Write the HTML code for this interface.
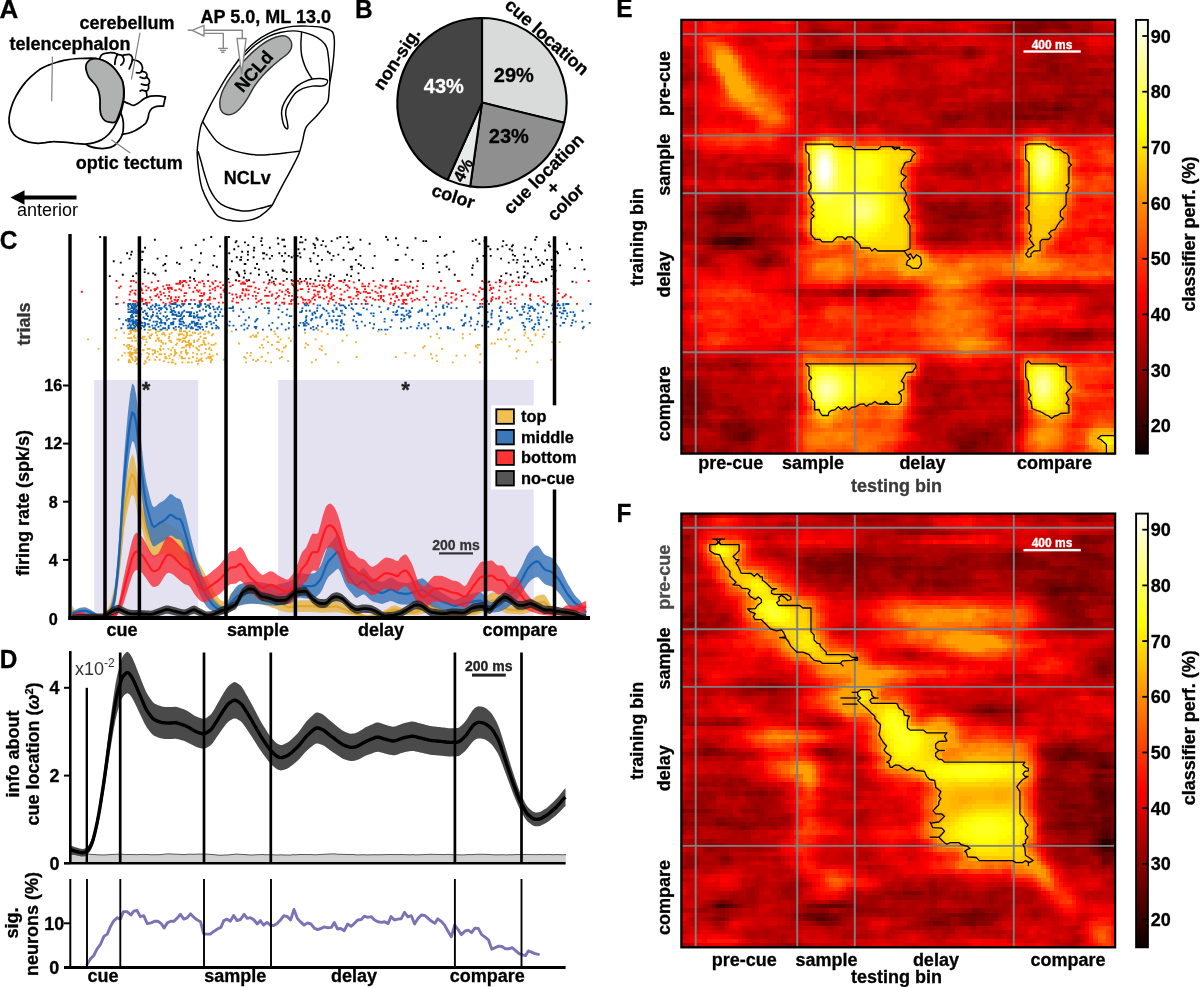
<!DOCTYPE html>
<html lang="en">
<head>
<meta charset="utf-8">
<title>Figure</title>
<style>
html,body{margin:0;padding:0;background:#fff;}
body{width:1200px;height:987px;overflow:hidden;}
svg{display:block;position:absolute;left:0;top:0;}
svg text{font-family:"Liberation Sans",sans-serif;font-weight:bold;}
</style>
</head>
<body>
<svg width="1200" height="987" viewBox="0 0 1200 987">
<defs>
<linearGradient id="hot" x1="0" y1="1" x2="0" y2="0">
<stop offset="0" stop-color="#0b0000"/>
<stop offset="0.365" stop-color="#ff0000"/>
<stop offset="0.746" stop-color="#ffff00"/>
<stop offset="1" stop-color="#ffffff"/>
</linearGradient>
</defs>
<rect width="1200" height="987" fill="#fff"/>
<g>
<rect x="681.4" y="19.9" width="433.7" height="433.7" fill="#c40000"/>
<g transform="translate(681.40 19.90) scale(4.3370)" shape-rendering="crispEdges">
<path fill="#350000" d="M13 50h1v1h-1zM11 51h2v1h-2z"/>
<path fill="#400000" d="M11 50h2v1h-2zM14 50h1v1h-1zM8 51h3v1h-3zM13 51h1v1h-1z"/>
<path fill="#4a0000" d="M10 50h1v1h-1zM15 50h1v1h-1zM7 51h1v1h-1zM14 51h1v1h-1z"/>
<path fill="#550000" d="M37 7h1v1h-1zM37 8h1v1h-1zM8 50h2v1h-2zM15 51h1v1h-1z"/>
<path fill="#600000" d="M36 7h1v1h-1zM38 7h3v1h-3zM36 8h1v1h-1zM38 8h1v1h-1zM86 20h2v1h-2zM8 44h3v1h-3zM16 50h1v1h-1zM14 96h1v1h-1z"/>
<path fill="#6a0000" d="M35 7h1v1h-1zM41 7h1v1h-1zM49 7h1v1h-1zM35 8h1v1h-1zM39 8h3v1h-3zM10 43h1v1h-1zM13 43h1v1h-1zM7 44h1v1h-1zM11 44h4v1h-4zM12 45h2v1h-2zM7 50h1v1h-1zM16 51h1v1h-1zM12 52h1v1h-1zM1 86h1v1h-1zM2 88h1v1h-1zM1 92h1v1h-1zM14 95h2v1h-2zM13 96h1v1h-1zM67 97h1v1h-1z"/>
<path fill="#750000" d="M82 1h1v1h-1zM42 7h1v1h-1zM47 7h2v1h-2zM50 7h1v1h-1zM66 7h1v1h-1zM34 8h1v1h-1zM85 20h1v1h-1zM88 20h1v1h-1zM79 22h1v1h-1zM83 22h1v1h-1zM11 43h2v1h-2zM14 43h1v1h-1zM6 44h1v1h-1zM8 45h2v1h-2zM11 45h1v1h-1zM62 45h2v1h-2zM6 51h1v1h-1zM11 52h1v1h-1zM13 52h1v1h-1zM19 55h2v1h-2zM2 84h1v1h-1zM1 85h1v1h-1zM2 86h1v1h-1zM1 87h2v1h-2zM1 88h1v1h-1zM3 88h1v1h-1zM2 89h2v1h-2zM0 90h2v1h-2zM10 93h1v1h-1zM13 93h2v1h-2zM15 94h1v1h-1zM12 95h2v1h-2zM70 95h1v1h-1zM12 96h1v1h-1zM15 96h1v1h-1zM66 97h1v1h-1zM0 98h1v1h-1zM64 98h3v1h-3zM0 99h1v1h-1z"/>
<path fill="#7f0000" d="M82 0h2v1h-2zM78 1h4v1h-4zM83 1h1v1h-1zM87 1h2v1h-2zM78 2h4v1h-4zM34 7h1v1h-1zM43 7h4v1h-4zM51 7h1v1h-1zM30 8h4v1h-4zM42 8h1v1h-1zM85 11h1v1h-1zM81 19h1v1h-1zM86 19h2v1h-2zM81 20h4v1h-4zM89 20h1v1h-1zM61 22h1v1h-1zM63 22h2v1h-2zM77 22h2v1h-2zM80 22h1v1h-1zM82 22h1v1h-1zM84 22h1v1h-1zM86 22h1v1h-1zM10 42h1v1h-1zM13 42h1v1h-1zM8 43h2v1h-2zM58 43h1v1h-1zM15 44h1v1h-1zM64 44h1v1h-1zM10 45h1v1h-1zM14 45h1v1h-1zM61 45h1v1h-1zM64 45h4v1h-4zM8 46h5v1h-5zM8 49h1v1h-1zM11 49h3v1h-3zM6 50h1v1h-1zM17 50h1v1h-1zM60 50h2v1h-2zM8 52h1v1h-1zM10 52h1v1h-1zM14 52h2v1h-2zM18 55h1v1h-1zM19 56h1v1h-1zM44 62h1v1h-1zM46 62h2v1h-2zM44 63h1v1h-1zM90 72h4v1h-4zM12 79h1v1h-1zM1 83h2v1h-2zM1 84h1v1h-1zM2 85h2v1h-2zM0 86h1v1h-1zM3 86h2v1h-2zM0 87h1v1h-1zM0 88h1v1h-1zM4 88h1v1h-1zM4 89h1v1h-1zM2 90h3v1h-3zM0 92h1v1h-1zM2 92h2v1h-2zM2 93h1v1h-1zM9 93h1v1h-1zM11 93h2v1h-2zM10 94h5v1h-5zM16 94h1v1h-1zM10 95h2v1h-2zM16 95h1v1h-1zM69 95h1v1h-1zM11 96h1v1h-1zM67 96h1v1h-1zM70 96h1v1h-1zM64 97h2v1h-2zM68 97h1v1h-1zM1 98h1v1h-1zM67 98h1v1h-1zM10 99h1v1h-1zM64 99h3v1h-3z"/>
<path fill="#8a0000" d="M81 0h1v1h-1zM85 0h3v1h-3zM76 1h2v1h-2zM84 1h3v1h-3zM89 1h1v1h-1zM82 2h1v1h-1zM92 2h1v1h-1zM30 7h4v1h-4zM52 7h1v1h-1zM65 7h1v1h-1zM67 7h1v1h-1zM43 8h2v1h-2zM85 8h1v1h-1zM85 10h2v1h-2zM86 11h1v1h-1zM86 12h1v1h-1zM97 16h1v1h-1zM89 17h5v1h-5zM99 17h1v1h-1zM77 19h2v1h-2zM80 19h1v1h-1zM82 19h2v1h-2zM88 19h2v1h-2zM77 20h2v1h-2zM80 20h1v1h-1zM90 20h1v1h-1zM92 20h1v1h-1zM71 21h1v1h-1zM74 21h1v1h-1zM77 21h2v1h-2zM81 21h1v1h-1zM86 21h2v1h-2zM60 22h1v1h-1zM62 22h1v1h-1zM71 22h1v1h-1zM74 22h1v1h-1zM76 22h1v1h-1zM81 22h1v1h-1zM85 22h1v1h-1zM87 22h1v1h-1zM62 23h1v1h-1zM97 23h2v1h-2zM65 34h1v1h-1zM9 42h1v1h-1zM11 42h2v1h-2zM14 42h1v1h-1zM64 42h2v1h-2zM72 42h1v1h-1zM7 43h1v1h-1zM57 43h1v1h-1zM60 43h6v1h-6zM5 44h1v1h-1zM60 44h4v1h-4zM65 44h3v1h-3zM73 44h1v1h-1zM7 45h1v1h-1zM15 45h1v1h-1zM68 45h2v1h-2zM13 46h1v1h-1zM62 46h2v1h-2zM7 49h1v1h-1zM9 49h2v1h-2zM14 49h3v1h-3zM61 49h2v1h-2zM5 50h1v1h-1zM18 50h3v1h-3zM58 50h2v1h-2zM62 50h2v1h-2zM5 51h1v1h-1zM17 51h1v1h-1zM7 52h1v1h-1zM9 52h1v1h-1zM16 52h1v1h-1zM19 54h2v1h-2zM18 56h1v1h-1zM43 62h1v1h-1zM45 62h1v1h-1zM43 63h1v1h-1zM45 63h1v1h-1zM89 72h1v1h-1zM94 72h1v1h-1zM2 79h1v1h-1zM13 79h2v1h-2zM0 83h1v1h-1zM3 83h1v1h-1zM0 84h1v1h-1zM3 84h1v1h-1zM0 85h1v1h-1zM4 85h1v1h-1zM5 86h1v1h-1zM58 86h1v1h-1zM3 87h3v1h-3zM5 88h2v1h-2zM0 89h2v1h-2zM5 89h2v1h-2zM11 89h1v1h-1zM1 91h1v1h-1zM4 92h1v1h-1zM13 92h2v1h-2zM0 93h2v1h-2zM3 93h1v1h-1zM6 93h1v1h-1zM15 93h1v1h-1zM9 94h1v1h-1zM66 95h3v1h-3zM71 95h1v1h-1zM10 96h1v1h-1zM16 96h1v1h-1zM63 96h4v1h-4zM68 96h2v1h-2zM13 97h2v1h-2zM63 97h1v1h-1zM70 97h1v1h-1zM2 98h2v1h-2zM68 98h1v1h-1zM1 99h4v1h-4zM8 99h2v1h-2zM67 99h1v1h-1z"/>
<path fill="#950000" d="M78 0h3v1h-3zM84 0h1v1h-1zM88 0h1v1h-1zM75 1h1v1h-1zM30 2h3v1h-3zM76 2h2v1h-2zM83 2h1v1h-1zM88 2h2v1h-2zM93 2h1v1h-1zM37 6h1v1h-1zM47 6h2v1h-2zM66 6h1v1h-1zM53 7h1v1h-1zM84 7h3v1h-3zM29 8h1v1h-1zM45 8h2v1h-2zM48 8h1v1h-1zM66 8h1v1h-1zM84 8h1v1h-1zM86 8h2v1h-2zM82 9h4v1h-4zM81 10h1v1h-1zM84 10h1v1h-1zM88 10h2v1h-2zM84 11h1v1h-1zM88 11h1v1h-1zM94 11h3v1h-3zM99 11h1v1h-1zM80 12h2v1h-2zM84 12h2v1h-2zM87 12h1v1h-1zM89 12h1v1h-1zM92 12h1v1h-1zM94 12h3v1h-3zM1 13h1v1h-1zM83 13h2v1h-2zM89 13h1v1h-1zM89 14h3v1h-3zM89 16h2v1h-2zM98 16h1v1h-1zM87 17h2v1h-2zM94 17h5v1h-5zM83 18h1v1h-1zM87 18h2v1h-2zM95 18h1v1h-1zM71 19h1v1h-1zM73 19h4v1h-4zM79 19h1v1h-1zM84 19h2v1h-2zM93 19h3v1h-3zM70 20h7v1h-7zM79 20h1v1h-1zM91 20h1v1h-1zM93 20h2v1h-2zM60 21h2v1h-2zM63 21h2v1h-2zM70 21h1v1h-1zM72 21h2v1h-2zM76 21h1v1h-1zM79 21h2v1h-2zM82 21h4v1h-4zM88 21h7v1h-7zM96 21h2v1h-2zM65 22h1v1h-1zM70 22h1v1h-1zM72 22h2v1h-2zM75 22h1v1h-1zM91 22h2v1h-2zM96 22h4v1h-4zM60 23h2v1h-2zM63 23h1v1h-1zM71 23h1v1h-1zM92 23h1v1h-1zM99 23h1v1h-1zM73 24h1v1h-1zM22 33h1v1h-1zM65 33h1v1h-1zM23 34h2v1h-2zM62 34h1v1h-1zM64 34h1v1h-1zM66 34h1v1h-1zM23 35h2v1h-2zM65 35h1v1h-1zM10 41h1v1h-1zM8 42h1v1h-1zM57 42h5v1h-5zM63 42h1v1h-1zM71 42h1v1h-1zM73 42h1v1h-1zM6 43h1v1h-1zM15 43h1v1h-1zM59 43h1v1h-1zM71 43h4v1h-4zM4 44h1v1h-1zM58 44h2v1h-2zM68 44h1v1h-1zM71 44h2v1h-2zM74 44h1v1h-1zM6 45h1v1h-1zM60 45h1v1h-1zM70 45h4v1h-4zM7 46h1v1h-1zM14 46h2v1h-2zM58 46h4v1h-4zM64 46h3v1h-3zM8 47h3v1h-3zM72 47h2v1h-2zM8 48h1v1h-1zM61 48h3v1h-3zM0 49h1v1h-1zM6 49h1v1h-1zM17 49h1v1h-1zM60 49h1v1h-1zM63 49h2v1h-2zM73 49h1v1h-1zM4 50h1v1h-1zM21 50h1v1h-1zM57 50h1v1h-1zM64 50h2v1h-2zM4 51h1v1h-1zM18 51h2v1h-2zM17 52h2v1h-2zM21 54h1v1h-1zM4 55h1v1h-1zM17 55h1v1h-1zM21 55h1v1h-1zM17 56h1v1h-1zM20 56h1v1h-1zM37 62h1v1h-1zM39 62h3v1h-3zM48 62h1v1h-1zM37 63h1v1h-1zM46 63h1v1h-1zM93 71h2v1h-2zM86 72h1v1h-1zM88 72h1v1h-1zM89 73h6v1h-6zM1 79h1v1h-1zM3 79h1v1h-1zM11 79h1v1h-1zM15 79h1v1h-1zM13 80h2v1h-2zM4 84h1v1h-1zM60 84h2v1h-2zM5 85h1v1h-1zM6 86h1v1h-1zM59 86h1v1h-1zM76 86h1v1h-1zM6 87h1v1h-1zM7 89h1v1h-1zM10 89h1v1h-1zM12 89h1v1h-1zM59 89h2v1h-2zM63 89h1v1h-1zM5 90h1v1h-1zM12 90h1v1h-1zM57 90h1v1h-1zM0 91h1v1h-1zM2 91h1v1h-1zM4 91h1v1h-1zM5 92h1v1h-1zM10 92h3v1h-3zM15 92h1v1h-1zM4 93h2v1h-2zM16 93h1v1h-1zM76 93h1v1h-1zM17 94h1v1h-1zM64 94h2v1h-2zM67 94h4v1h-4zM72 94h1v1h-1zM9 95h1v1h-1zM17 95h1v1h-1zM62 95h1v1h-1zM65 95h1v1h-1zM72 95h1v1h-1zM9 96h1v1h-1zM62 96h1v1h-1zM71 96h1v1h-1zM11 97h2v1h-2zM15 97h1v1h-1zM69 97h1v1h-1zM71 97h3v1h-3zM10 98h2v1h-2zM63 98h1v1h-1zM69 98h2v1h-2zM72 98h1v1h-1zM7 99h1v1h-1zM11 99h1v1h-1zM15 99h1v1h-1zM63 99h1v1h-1zM68 99h1v1h-1z"/>
<path fill="#9f0000" d="M77 0h1v1h-1zM44 1h3v1h-3zM74 1h1v1h-1zM90 1h5v1h-5zM33 2h1v1h-1zM75 2h1v1h-1zM84 2h1v1h-1zM87 2h1v1h-1zM90 2h2v1h-2zM94 2h1v1h-1zM33 3h2v1h-2zM79 3h2v1h-2zM31 4h1v1h-1zM31 5h1v1h-1zM35 6h2v1h-2zM38 6h2v1h-2zM49 6h3v1h-3zM65 6h1v1h-1zM67 6h1v1h-1zM54 7h2v1h-2zM68 7h1v1h-1zM83 7h1v1h-1zM87 7h1v1h-1zM28 8h1v1h-1zM47 8h1v1h-1zM49 8h4v1h-4zM65 8h1v1h-1zM67 8h1v1h-1zM82 8h2v1h-2zM91 8h2v1h-2zM99 8h1v1h-1zM36 9h4v1h-4zM81 9h1v1h-1zM86 9h1v1h-1zM91 9h2v1h-2zM99 9h1v1h-1zM80 10h1v1h-1zM82 10h2v1h-2zM87 10h1v1h-1zM87 11h1v1h-1zM89 11h2v1h-2zM77 12h3v1h-3zM82 12h2v1h-2zM88 12h1v1h-1zM90 12h2v1h-2zM93 12h1v1h-1zM97 12h2v1h-2zM0 13h1v1h-1zM78 13h1v1h-1zM81 13h2v1h-2zM85 13h4v1h-4zM90 13h3v1h-3zM78 14h1v1h-1zM86 14h1v1h-1zM88 14h1v1h-1zM92 14h3v1h-3zM97 14h1v1h-1zM88 15h3v1h-3zM78 16h1v1h-1zM88 16h1v1h-1zM91 16h1v1h-1zM93 16h1v1h-1zM96 16h1v1h-1zM99 16h1v1h-1zM78 17h1v1h-1zM86 17h1v1h-1zM78 18h1v1h-1zM80 18h3v1h-3zM86 18h1v1h-1zM89 18h1v1h-1zM92 18h3v1h-3zM70 19h1v1h-1zM72 19h1v1h-1zM90 19h1v1h-1zM92 19h1v1h-1zM1 20h2v1h-2zM68 20h2v1h-2zM95 20h1v1h-1zM62 21h1v1h-1zM65 21h5v1h-5zM75 21h1v1h-1zM95 21h1v1h-1zM98 21h1v1h-1zM2 22h1v1h-1zM40 22h1v1h-1zM59 22h1v1h-1zM66 22h2v1h-2zM88 22h3v1h-3zM93 22h1v1h-1zM40 23h1v1h-1zM59 23h1v1h-1zM70 23h1v1h-1zM72 23h3v1h-3zM76 23h2v1h-2zM79 23h1v1h-1zM82 23h2v1h-2zM87 23h1v1h-1zM91 23h1v1h-1zM93 23h1v1h-1zM96 23h1v1h-1zM60 24h3v1h-3zM71 24h2v1h-2zM76 24h2v1h-2zM98 24h2v1h-2zM1 30h2v1h-2zM0 32h1v1h-1zM0 33h2v1h-2zM19 33h3v1h-3zM23 33h2v1h-2zM63 33h2v1h-2zM66 33h1v1h-1zM70 33h1v1h-1zM74 33h2v1h-2zM22 34h1v1h-1zM25 34h1v1h-1zM60 34h2v1h-2zM63 34h1v1h-1zM16 35h1v1h-1zM22 35h1v1h-1zM64 35h1v1h-1zM66 35h2v1h-2zM16 36h1v1h-1zM22 36h2v1h-2zM2 39h1v1h-1zM9 41h1v1h-1zM11 41h4v1h-4zM72 41h1v1h-1zM5 42h3v1h-3zM15 42h1v1h-1zM56 42h1v1h-1zM62 42h1v1h-1zM66 42h1v1h-1zM74 42h1v1h-1zM5 43h1v1h-1zM56 43h1v1h-1zM66 43h5v1h-5zM75 43h1v1h-1zM2 44h2v1h-2zM16 44h3v1h-3zM21 44h2v1h-2zM57 44h1v1h-1zM69 44h2v1h-2zM75 44h1v1h-1zM2 45h4v1h-4zM16 45h1v1h-1zM58 45h2v1h-2zM67 46h1v1h-1zM72 46h2v1h-2zM6 47h2v1h-2zM11 47h2v1h-2zM15 47h1v1h-1zM20 47h1v1h-1zM60 47h4v1h-4zM65 47h4v1h-4zM71 47h1v1h-1zM1 48h1v1h-1zM5 48h3v1h-3zM9 48h1v1h-1zM15 48h2v1h-2zM18 48h1v1h-1zM64 48h1v1h-1zM72 48h1v1h-1zM1 49h2v1h-2zM18 49h1v1h-1zM57 49h3v1h-3zM65 49h1v1h-1zM70 49h1v1h-1zM72 49h1v1h-1zM0 50h4v1h-4zM22 50h2v1h-2zM73 50h1v1h-1zM3 51h1v1h-1zM20 51h1v1h-1zM6 52h1v1h-1zM19 52h1v1h-1zM19 53h3v1h-3zM4 54h2v1h-2zM18 54h1v1h-1zM5 55h1v1h-1zM16 55h1v1h-1zM22 55h1v1h-1zM4 56h1v1h-1zM21 56h1v1h-1zM90 61h1v1h-1zM38 62h1v1h-1zM42 62h1v1h-1zM83 62h1v1h-1zM87 62h7v1h-7zM36 63h1v1h-1zM38 63h1v1h-1zM47 63h1v1h-1zM87 72h1v1h-1zM95 72h2v1h-2zM99 72h1v1h-1zM86 73h1v1h-1zM88 73h1v1h-1zM11 78h2v1h-2zM4 79h6v1h-6zM0 80h3v1h-3zM6 80h1v1h-1zM9 80h1v1h-1zM0 82h1v1h-1zM3 82h1v1h-1zM4 83h2v1h-2zM56 83h2v1h-2zM5 84h1v1h-1zM58 84h2v1h-2zM62 84h1v1h-1zM6 85h1v1h-1zM58 85h4v1h-4zM77 85h1v1h-1zM10 86h1v1h-1zM60 86h1v1h-1zM75 86h1v1h-1zM77 86h1v1h-1zM59 87h1v1h-1zM76 87h1v1h-1zM7 88h1v1h-1zM59 88h1v1h-1zM8 89h2v1h-2zM13 89h1v1h-1zM23 89h2v1h-2zM57 89h2v1h-2zM61 89h2v1h-2zM64 89h1v1h-1zM10 90h2v1h-2zM13 90h2v1h-2zM56 90h1v1h-1zM58 90h1v1h-1zM3 91h1v1h-1zM5 91h1v1h-1zM12 91h2v1h-2zM57 91h1v1h-1zM6 92h1v1h-1zM9 92h1v1h-1zM16 92h1v1h-1zM75 92h2v1h-2zM7 93h2v1h-2zM17 93h3v1h-3zM64 93h2v1h-2zM71 93h5v1h-5zM77 93h1v1h-1zM2 94h1v1h-1zM7 94h2v1h-2zM18 94h1v1h-1zM62 94h2v1h-2zM66 94h1v1h-1zM71 94h1v1h-1zM75 94h1v1h-1zM61 95h1v1h-1zM63 95h2v1h-2zM73 95h1v1h-1zM17 96h1v1h-1zM61 96h1v1h-1zM72 96h2v1h-2zM10 97h1v1h-1zM62 97h1v1h-1zM4 98h1v1h-1zM6 98h2v1h-2zM9 98h1v1h-1zM12 98h1v1h-1zM14 98h1v1h-1zM71 98h1v1h-1zM73 98h1v1h-1zM5 99h2v1h-2zM12 99h1v1h-1zM14 99h1v1h-1zM69 99h2v1h-2z"/>
<path fill="#aa0000" d="M89 0h6v1h-6zM30 1h2v1h-2zM47 1h2v1h-2zM72 1h2v1h-2zM29 2h1v1h-1zM34 2h3v1h-3zM44 2h3v1h-3zM72 2h2v1h-2zM85 2h2v1h-2zM29 3h4v1h-4zM35 3h1v1h-1zM74 3h2v1h-2zM78 3h1v1h-1zM81 3h2v1h-2zM30 4h1v1h-1zM32 4h1v1h-1zM30 5h1v1h-1zM33 6h2v1h-2zM40 6h2v1h-2zM46 6h1v1h-1zM56 6h3v1h-3zM87 6h1v1h-1zM26 7h2v1h-2zM29 7h1v1h-1zM56 7h1v1h-1zM58 7h2v1h-2zM61 7h2v1h-2zM64 7h1v1h-1zM69 7h1v1h-1zM82 7h1v1h-1zM88 7h5v1h-5zM26 8h2v1h-2zM81 8h1v1h-1zM88 8h3v1h-3zM93 8h2v1h-2zM97 8h2v1h-2zM35 9h1v1h-1zM40 9h1v1h-1zM43 9h3v1h-3zM80 9h1v1h-1zM87 9h2v1h-2zM90 9h1v1h-1zM93 9h3v1h-3zM98 9h1v1h-1zM50 10h2v1h-2zM79 10h1v1h-1zM90 10h3v1h-3zM81 11h1v1h-1zM83 11h1v1h-1zM91 11h3v1h-3zM97 11h2v1h-2zM1 12h2v1h-2zM71 12h1v1h-1zM73 12h2v1h-2zM76 12h1v1h-1zM2 13h1v1h-1zM71 13h1v1h-1zM77 13h1v1h-1zM79 13h2v1h-2zM93 13h3v1h-3zM97 13h2v1h-2zM66 14h2v1h-2zM71 14h1v1h-1zM76 14h2v1h-2zM79 14h1v1h-1zM83 14h3v1h-3zM87 14h1v1h-1zM95 14h2v1h-2zM98 14h2v1h-2zM67 15h1v1h-1zM78 15h2v1h-2zM91 15h1v1h-1zM93 15h3v1h-3zM97 15h1v1h-1zM99 15h1v1h-1zM51 16h2v1h-2zM56 16h3v1h-3zM79 16h1v1h-1zM92 16h1v1h-1zM94 16h2v1h-2zM47 17h1v1h-1zM50 17h3v1h-3zM54 17h5v1h-5zM79 17h4v1h-4zM46 18h1v1h-1zM50 18h1v1h-1zM54 18h1v1h-1zM56 18h2v1h-2zM79 18h1v1h-1zM84 18h1v1h-1zM90 18h2v1h-2zM96 18h4v1h-4zM56 19h2v1h-2zM62 19h1v1h-1zM65 19h1v1h-1zM68 19h2v1h-2zM91 19h1v1h-1zM96 19h1v1h-1zM65 20h1v1h-1zM67 20h1v1h-1zM96 20h2v1h-2zM99 20h1v1h-1zM1 21h1v1h-1zM37 21h1v1h-1zM41 21h1v1h-1zM57 21h1v1h-1zM59 21h1v1h-1zM99 21h1v1h-1zM1 22h1v1h-1zM38 22h2v1h-2zM41 22h2v1h-2zM44 22h1v1h-1zM57 22h2v1h-2zM68 22h2v1h-2zM94 22h2v1h-2zM1 23h2v1h-2zM39 23h1v1h-1zM41 23h2v1h-2zM47 23h1v1h-1zM58 23h1v1h-1zM64 23h6v1h-6zM75 23h1v1h-1zM78 23h1v1h-1zM80 23h2v1h-2zM84 23h1v1h-1zM86 23h1v1h-1zM88 23h1v1h-1zM94 23h1v1h-1zM58 24h2v1h-2zM63 24h3v1h-3zM69 24h2v1h-2zM74 24h2v1h-2zM78 24h1v1h-1zM91 24h3v1h-3zM51 25h2v1h-2zM58 25h1v1h-1zM90 25h1v1h-1zM1 31h2v1h-2zM1 32h3v1h-3zM65 32h1v1h-1zM70 32h1v1h-1zM2 33h1v1h-1zM13 33h1v1h-1zM18 33h1v1h-1zM25 33h1v1h-1zM62 33h1v1h-1zM0 34h1v1h-1zM6 34h2v1h-2zM21 34h1v1h-1zM59 34h1v1h-1zM67 34h1v1h-1zM69 34h4v1h-4zM74 34h2v1h-2zM0 35h1v1h-1zM15 35h1v1h-1zM17 35h2v1h-2zM25 35h1v1h-1zM63 35h1v1h-1zM15 36h1v1h-1zM17 36h1v1h-1zM24 36h1v1h-1zM65 36h2v1h-2zM0 39h2v1h-2zM3 39h1v1h-1zM0 40h1v1h-1zM2 40h2v1h-2zM9 40h5v1h-5zM15 41h1v1h-1zM18 41h1v1h-1zM22 41h2v1h-2zM64 41h2v1h-2zM73 41h1v1h-1zM4 42h1v1h-1zM16 42h1v1h-1zM55 42h1v1h-1zM67 42h4v1h-4zM75 42h1v1h-1zM4 43h1v1h-1zM16 43h3v1h-3zM21 43h2v1h-2zM1 44h1v1h-1zM20 44h1v1h-1zM23 44h1v1h-1zM56 44h1v1h-1zM1 45h1v1h-1zM57 45h1v1h-1zM74 45h1v1h-1zM2 46h3v1h-3zM6 46h1v1h-1zM16 46h1v1h-1zM57 46h1v1h-1zM68 46h4v1h-4zM74 46h1v1h-1zM5 47h1v1h-1zM13 47h2v1h-2zM16 47h1v1h-1zM18 47h2v1h-2zM59 47h1v1h-1zM64 47h1v1h-1zM69 47h2v1h-2zM0 48h1v1h-1zM2 48h1v1h-1zM4 48h1v1h-1zM10 48h5v1h-5zM17 48h1v1h-1zM19 48h2v1h-2zM59 48h2v1h-2zM65 48h2v1h-2zM71 48h1v1h-1zM73 48h1v1h-1zM3 49h3v1h-3zM20 49h3v1h-3zM67 49h1v1h-1zM69 49h1v1h-1zM71 49h1v1h-1zM74 49h1v1h-1zM24 50h1v1h-1zM56 50h1v1h-1zM66 50h1v1h-1zM70 50h1v1h-1zM72 50h1v1h-1zM74 50h1v1h-1zM21 51h3v1h-3zM59 51h3v1h-3zM63 51h1v1h-1zM20 52h1v1h-1zM7 53h4v1h-4zM18 53h1v1h-1zM22 53h1v1h-1zM6 54h1v1h-1zM16 54h1v1h-1zM22 54h1v1h-1zM3 55h1v1h-1zM6 55h1v1h-1zM23 55h1v1h-1zM5 56h1v1h-1zM22 56h1v1h-1zM18 57h1v1h-1zM88 61h2v1h-2zM91 61h1v1h-1zM35 62h2v1h-2zM49 62h3v1h-3zM77 62h2v1h-2zM80 62h3v1h-3zM84 62h3v1h-3zM94 62h1v1h-1zM39 63h4v1h-4zM48 63h2v1h-2zM51 63h1v1h-1zM95 66h2v1h-2zM99 66h1v1h-1zM84 71h3v1h-3zM92 71h1v1h-1zM79 72h1v1h-1zM83 72h3v1h-3zM97 72h2v1h-2zM87 73h1v1h-1zM95 73h1v1h-1zM0 78h2v1h-2zM9 78h2v1h-2zM13 78h1v1h-1zM15 78h1v1h-1zM0 79h1v1h-1zM10 79h1v1h-1zM16 79h2v1h-2zM3 80h1v1h-1zM7 80h2v1h-2zM10 80h3v1h-3zM15 80h1v1h-1zM14 81h1v1h-1zM1 82h2v1h-2zM4 82h1v1h-1zM56 82h1v1h-1zM6 83h1v1h-1zM11 83h2v1h-2zM15 83h1v1h-1zM58 83h3v1h-3zM62 83h1v1h-1zM67 83h2v1h-2zM70 83h7v1h-7zM6 84h1v1h-1zM57 84h1v1h-1zM63 84h1v1h-1zM67 84h2v1h-2zM77 84h1v1h-1zM57 85h1v1h-1zM76 85h1v1h-1zM9 86h1v1h-1zM55 86h1v1h-1zM57 86h1v1h-1zM61 86h1v1h-1zM72 86h1v1h-1zM74 86h1v1h-1zM7 87h1v1h-1zM9 87h3v1h-3zM58 87h1v1h-1zM60 87h1v1h-1zM64 87h1v1h-1zM69 87h1v1h-1zM77 87h1v1h-1zM11 88h1v1h-1zM13 88h1v1h-1zM24 88h1v1h-1zM58 88h1v1h-1zM60 88h5v1h-5zM22 89h1v1h-1zM56 89h1v1h-1zM65 89h1v1h-1zM77 89h1v1h-1zM8 90h2v1h-2zM55 90h1v1h-1zM59 90h3v1h-3zM77 90h1v1h-1zM11 91h1v1h-1zM14 91h1v1h-1zM58 91h1v1h-1zM17 92h2v1h-2zM20 92h3v1h-3zM56 92h2v1h-2zM71 92h1v1h-1zM73 92h2v1h-2zM77 92h1v1h-1zM20 93h2v1h-2zM23 93h1v1h-1zM63 93h1v1h-1zM66 93h2v1h-2zM70 93h1v1h-1zM0 94h2v1h-2zM3 94h1v1h-1zM6 94h1v1h-1zM19 94h3v1h-3zM61 94h1v1h-1zM73 94h1v1h-1zM76 94h1v1h-1zM0 95h3v1h-3zM8 95h1v1h-1zM18 95h1v1h-1zM74 95h2v1h-2zM0 96h3v1h-3zM5 96h1v1h-1zM7 96h2v1h-2zM22 96h1v1h-1zM60 96h1v1h-1zM74 96h1v1h-1zM0 97h3v1h-3zM5 97h3v1h-3zM9 97h1v1h-1zM16 97h1v1h-1zM22 97h2v1h-2zM61 97h1v1h-1zM74 97h1v1h-1zM5 98h1v1h-1zM8 98h1v1h-1zM13 98h1v1h-1zM15 98h1v1h-1zM20 98h2v1h-2zM62 98h1v1h-1zM74 98h1v1h-1zM13 99h1v1h-1zM62 99h1v1h-1zM71 99h3v1h-3z"/>
<path fill="#b50000" d="M29 0h2v1h-2zM76 0h1v1h-1zM29 1h1v1h-1zM32 1h1v1h-1zM39 1h1v1h-1zM43 1h1v1h-1zM49 1h1v1h-1zM71 1h1v1h-1zM42 2h2v1h-2zM47 2h1v1h-1zM55 2h1v1h-1zM59 2h2v1h-2zM71 2h1v1h-1zM74 2h1v1h-1zM95 2h2v1h-2zM99 2h1v1h-1zM76 3h2v1h-2zM83 3h1v1h-1zM85 3h2v1h-2zM34 4h1v1h-1zM79 4h1v1h-1zM32 5h1v1h-1zM88 5h5v1h-5zM30 6h3v1h-3zM42 6h4v1h-4zM52 6h4v1h-4zM64 6h1v1h-1zM68 6h1v1h-1zM81 6h6v1h-6zM88 6h3v1h-3zM28 7h1v1h-1zM57 7h1v1h-1zM60 7h1v1h-1zM63 7h1v1h-1zM73 7h2v1h-2zM81 7h1v1h-1zM93 7h1v1h-1zM1 8h1v1h-1zM53 8h1v1h-1zM64 8h1v1h-1zM68 8h1v1h-1zM75 8h2v1h-2zM80 8h1v1h-1zM95 8h2v1h-2zM31 9h4v1h-4zM41 9h2v1h-2zM46 9h1v1h-1zM51 9h2v1h-2zM58 9h1v1h-1zM73 9h7v1h-7zM89 9h1v1h-1zM97 9h1v1h-1zM0 10h2v1h-2zM52 10h5v1h-5zM73 10h1v1h-1zM76 10h3v1h-3zM93 10h1v1h-1zM1 11h1v1h-1zM30 11h2v1h-2zM39 11h1v1h-1zM50 11h3v1h-3zM55 11h3v1h-3zM71 11h1v1h-1zM75 11h2v1h-2zM80 11h1v1h-1zM82 11h1v1h-1zM0 12h1v1h-1zM35 12h5v1h-5zM50 12h2v1h-2zM55 12h2v1h-2zM70 12h1v1h-1zM72 12h1v1h-1zM75 12h1v1h-1zM99 12h1v1h-1zM55 13h4v1h-4zM70 13h1v1h-1zM72 13h5v1h-5zM96 13h1v1h-1zM99 13h1v1h-1zM0 14h2v1h-2zM65 14h1v1h-1zM68 14h3v1h-3zM72 14h2v1h-2zM75 14h1v1h-1zM80 14h3v1h-3zM57 15h3v1h-3zM61 15h2v1h-2zM64 15h2v1h-2zM68 15h1v1h-1zM70 15h6v1h-6zM77 15h1v1h-1zM80 15h1v1h-1zM85 15h3v1h-3zM92 15h1v1h-1zM96 15h1v1h-1zM98 15h1v1h-1zM49 16h2v1h-2zM53 16h3v1h-3zM59 16h1v1h-1zM63 16h2v1h-2zM77 16h1v1h-1zM80 16h1v1h-1zM82 16h1v1h-1zM84 16h4v1h-4zM46 17h1v1h-1zM49 17h1v1h-1zM53 17h1v1h-1zM59 17h1v1h-1zM62 17h3v1h-3zM70 17h2v1h-2zM76 17h2v1h-2zM83 17h3v1h-3zM47 18h1v1h-1zM51 18h2v1h-2zM55 18h1v1h-1zM58 18h1v1h-1zM69 18h3v1h-3zM73 18h3v1h-3zM77 18h1v1h-1zM85 18h1v1h-1zM45 19h2v1h-2zM54 19h2v1h-2zM58 19h1v1h-1zM61 19h1v1h-1zM63 19h2v1h-2zM66 19h2v1h-2zM97 19h3v1h-3zM0 20h1v1h-1zM34 20h1v1h-1zM55 20h2v1h-2zM60 20h1v1h-1zM63 20h2v1h-2zM66 20h1v1h-1zM98 20h1v1h-1zM0 21h1v1h-1zM2 21h1v1h-1zM34 21h3v1h-3zM38 21h1v1h-1zM40 21h1v1h-1zM42 21h3v1h-3zM56 21h1v1h-1zM58 21h1v1h-1zM0 22h1v1h-1zM35 22h3v1h-3zM43 22h1v1h-1zM56 22h1v1h-1zM0 23h1v1h-1zM35 23h2v1h-2zM38 23h1v1h-1zM43 23h4v1h-4zM48 23h1v1h-1zM85 23h1v1h-1zM89 23h2v1h-2zM95 23h1v1h-1zM1 24h1v1h-1zM39 24h2v1h-2zM46 24h2v1h-2zM50 24h6v1h-6zM57 24h1v1h-1zM66 24h3v1h-3zM79 24h1v1h-1zM81 24h2v1h-2zM85 24h2v1h-2zM90 24h1v1h-1zM95 24h3v1h-3zM50 25h1v1h-1zM53 25h5v1h-5zM59 25h1v1h-1zM75 25h2v1h-2zM86 25h1v1h-1zM91 25h2v1h-2zM58 28h1v1h-1zM0 30h1v1h-1zM3 30h1v1h-1zM0 31h1v1h-1zM3 31h1v1h-1zM9 31h1v1h-1zM67 31h2v1h-2zM4 32h1v1h-1zM63 32h2v1h-2zM66 32h4v1h-4zM71 32h1v1h-1zM3 33h1v1h-1zM14 33h4v1h-4zM59 33h3v1h-3zM69 33h1v1h-1zM71 33h1v1h-1zM1 34h5v1h-5zM8 34h1v1h-1zM10 34h4v1h-4zM15 34h2v1h-2zM19 34h2v1h-2zM58 34h1v1h-1zM68 34h1v1h-1zM73 34h1v1h-1zM1 35h3v1h-3zM6 35h2v1h-2zM10 35h5v1h-5zM19 35h1v1h-1zM21 35h1v1h-1zM59 35h2v1h-2zM62 35h1v1h-1zM68 35h2v1h-2zM7 36h1v1h-1zM13 36h2v1h-2zM21 36h1v1h-1zM25 36h1v1h-1zM63 36h2v1h-2zM67 36h2v1h-2zM4 39h1v1h-1zM9 39h1v1h-1zM11 39h4v1h-4zM56 39h2v1h-2zM1 40h1v1h-1zM14 40h1v1h-1zM17 40h2v1h-2zM56 40h1v1h-1zM72 40h2v1h-2zM3 41h1v1h-1zM7 41h2v1h-2zM16 41h2v1h-2zM19 41h3v1h-3zM24 41h1v1h-1zM55 41h1v1h-1zM60 41h2v1h-2zM63 41h1v1h-1zM66 41h2v1h-2zM71 41h1v1h-1zM74 41h1v1h-1zM2 42h2v1h-2zM17 42h7v1h-7zM1 43h2v1h-2zM19 43h2v1h-2zM23 43h1v1h-1zM0 44h1v1h-1zM19 44h1v1h-1zM0 45h1v1h-1zM17 45h1v1h-1zM56 45h1v1h-1zM0 46h2v1h-2zM5 46h1v1h-1zM56 46h1v1h-1zM1 47h4v1h-4zM17 47h1v1h-1zM21 47h1v1h-1zM57 47h2v1h-2zM74 47h1v1h-1zM3 48h1v1h-1zM21 48h2v1h-2zM57 48h2v1h-2zM67 48h1v1h-1zM70 48h1v1h-1zM19 49h1v1h-1zM23 49h1v1h-1zM56 49h1v1h-1zM66 49h1v1h-1zM68 49h1v1h-1zM67 50h1v1h-1zM69 50h1v1h-1zM71 50h1v1h-1zM75 50h1v1h-1zM0 51h3v1h-3zM24 51h1v1h-1zM58 51h1v1h-1zM62 51h1v1h-1zM64 51h2v1h-2zM5 52h1v1h-1zM5 53h2v1h-2zM11 53h4v1h-4zM17 53h1v1h-1zM3 54h1v1h-1zM7 54h1v1h-1zM15 54h1v1h-1zM17 54h1v1h-1zM15 55h1v1h-1zM3 56h1v1h-1zM6 56h1v1h-1zM16 56h1v1h-1zM23 56h1v1h-1zM19 57h1v1h-1zM77 61h4v1h-4zM82 61h6v1h-6zM27 62h2v1h-2zM30 62h2v1h-2zM34 62h1v1h-1zM52 62h1v1h-1zM76 62h1v1h-1zM79 62h1v1h-1zM95 62h1v1h-1zM35 63h1v1h-1zM50 63h1v1h-1zM97 65h2v1h-2zM94 66h1v1h-1zM97 66h2v1h-2zM87 71h5v1h-5zM95 71h3v1h-3zM78 72h1v1h-1zM80 72h1v1h-1zM82 72h1v1h-1zM85 73h1v1h-1zM97 73h1v1h-1zM99 73h1v1h-1zM85 74h8v1h-8zM2 78h4v1h-4zM8 78h1v1h-1zM14 78h1v1h-1zM18 79h1v1h-1zM4 80h2v1h-2zM16 80h1v1h-1zM57 80h2v1h-2zM61 80h1v1h-1zM0 81h1v1h-1zM13 81h1v1h-1zM15 81h1v1h-1zM58 81h1v1h-1zM61 81h2v1h-2zM5 82h2v1h-2zM12 82h2v1h-2zM57 82h1v1h-1zM74 82h1v1h-1zM8 83h3v1h-3zM13 83h2v1h-2zM16 83h1v1h-1zM19 83h4v1h-4zM55 83h1v1h-1zM61 83h1v1h-1zM63 83h1v1h-1zM69 83h1v1h-1zM77 83h1v1h-1zM55 84h2v1h-2zM64 84h1v1h-1zM66 84h1v1h-1zM71 84h2v1h-2zM76 84h1v1h-1zM7 85h3v1h-3zM14 85h1v1h-1zM55 85h2v1h-2zM62 85h1v1h-1zM67 85h1v1h-1zM71 85h2v1h-2zM75 85h1v1h-1zM7 86h2v1h-2zM11 86h1v1h-1zM23 86h1v1h-1zM54 86h1v1h-1zM56 86h1v1h-1zM64 86h1v1h-1zM68 86h4v1h-4zM73 86h1v1h-1zM8 87h1v1h-1zM12 87h2v1h-2zM15 87h2v1h-2zM22 87h3v1h-3zM61 87h3v1h-3zM65 87h1v1h-1zM68 87h1v1h-1zM70 87h1v1h-1zM75 87h1v1h-1zM8 88h3v1h-3zM12 88h1v1h-1zM14 88h4v1h-4zM22 88h2v1h-2zM25 88h1v1h-1zM76 88h2v1h-2zM14 89h3v1h-3zM25 89h1v1h-1zM55 89h1v1h-1zM66 89h1v1h-1zM76 89h1v1h-1zM6 90h2v1h-2zM15 90h1v1h-1zM22 90h2v1h-2zM54 90h1v1h-1zM76 90h1v1h-1zM6 91h1v1h-1zM15 91h2v1h-2zM22 91h2v1h-2zM56 91h1v1h-1zM76 91h2v1h-2zM7 92h2v1h-2zM19 92h1v1h-1zM23 92h1v1h-1zM55 92h1v1h-1zM58 92h3v1h-3zM64 92h1v1h-1zM66 92h2v1h-2zM70 92h1v1h-1zM72 92h1v1h-1zM22 93h1v1h-1zM54 93h6v1h-6zM62 93h1v1h-1zM68 93h2v1h-2zM4 94h1v1h-1zM22 94h2v1h-2zM57 94h3v1h-3zM74 94h1v1h-1zM77 94h1v1h-1zM19 95h4v1h-4zM57 95h3v1h-3zM4 96h1v1h-1zM6 96h1v1h-1zM20 96h2v1h-2zM23 96h1v1h-1zM58 96h2v1h-2zM3 97h2v1h-2zM8 97h1v1h-1zM20 97h2v1h-2zM24 97h1v1h-1zM58 97h1v1h-1zM16 98h1v1h-1zM19 98h1v1h-1zM22 98h2v1h-2zM61 98h1v1h-1zM16 99h1v1h-1zM19 99h2v1h-2zM59 99h3v1h-3zM74 99h1v1h-1z"/>
<path fill="#bf0000" d="M31 0h1v1h-1zM44 0h3v1h-3zM59 0h2v1h-2zM33 1h1v1h-1zM38 1h1v1h-1zM40 1h3v1h-3zM69 1h2v1h-2zM95 1h3v1h-3zM37 2h5v1h-5zM48 2h1v1h-1zM52 2h1v1h-1zM54 2h1v1h-1zM56 2h3v1h-3zM61 2h1v1h-1zM97 2h2v1h-2zM28 3h1v1h-1zM36 3h1v1h-1zM47 3h1v1h-1zM71 3h3v1h-3zM84 3h1v1h-1zM89 3h2v1h-2zM93 3h1v1h-1zM99 3h1v1h-1zM16 4h1v1h-1zM29 4h1v1h-1zM33 4h1v1h-1zM35 4h1v1h-1zM47 4h1v1h-1zM53 4h1v1h-1zM74 4h1v1h-1zM78 4h1v1h-1zM80 4h3v1h-3zM88 4h3v1h-3zM33 5h6v1h-6zM53 5h2v1h-2zM57 5h2v1h-2zM78 5h5v1h-5zM84 5h2v1h-2zM87 5h1v1h-1zM59 6h1v1h-1zM61 6h3v1h-3zM69 6h1v1h-1zM74 6h1v1h-1zM78 6h3v1h-3zM91 6h3v1h-3zM1 7h1v1h-1zM25 7h1v1h-1zM70 7h1v1h-1zM72 7h1v1h-1zM77 7h4v1h-4zM99 7h1v1h-1zM0 8h1v1h-1zM2 8h1v1h-1zM25 8h1v1h-1zM62 8h2v1h-2zM69 8h1v1h-1zM73 8h2v1h-2zM77 8h3v1h-3zM30 9h1v1h-1zM47 9h4v1h-4zM53 9h5v1h-5zM59 9h1v1h-1zM65 9h1v1h-1zM96 9h1v1h-1zM39 10h1v1h-1zM43 10h1v1h-1zM49 10h1v1h-1zM57 10h1v1h-1zM72 10h1v1h-1zM74 10h2v1h-2zM94 10h5v1h-5zM2 11h1v1h-1zM29 11h1v1h-1zM35 11h4v1h-4zM40 11h1v1h-1zM53 11h2v1h-2zM67 11h3v1h-3zM72 11h3v1h-3zM77 11h3v1h-3zM34 12h1v1h-1zM52 12h3v1h-3zM57 12h2v1h-2zM67 12h3v1h-3zM3 13h1v1h-1zM35 13h1v1h-1zM51 13h2v1h-2zM54 13h1v1h-1zM59 13h1v1h-1zM67 13h1v1h-1zM69 13h1v1h-1zM51 14h3v1h-3zM55 14h1v1h-1zM57 14h2v1h-2zM64 14h1v1h-1zM74 14h1v1h-1zM52 15h3v1h-3zM56 15h1v1h-1zM60 15h1v1h-1zM63 15h1v1h-1zM66 15h1v1h-1zM69 15h1v1h-1zM76 15h1v1h-1zM82 15h2v1h-2zM46 16h3v1h-3zM60 16h3v1h-3zM65 16h1v1h-1zM74 16h3v1h-3zM81 16h1v1h-1zM83 16h1v1h-1zM45 17h1v1h-1zM48 17h1v1h-1zM60 17h2v1h-2zM65 17h1v1h-1zM69 17h1v1h-1zM75 17h1v1h-1zM43 18h3v1h-3zM48 18h2v1h-2zM53 18h1v1h-1zM65 18h1v1h-1zM67 18h2v1h-2zM1 19h2v1h-2zM29 19h1v1h-1zM33 19h2v1h-2zM44 19h1v1h-1zM59 19h2v1h-2zM29 20h3v1h-3zM33 20h1v1h-1zM35 20h1v1h-1zM45 20h2v1h-2zM52 20h3v1h-3zM57 20h3v1h-3zM61 20h2v1h-2zM33 21h1v1h-1zM45 21h5v1h-5zM55 21h1v1h-1zM3 22h1v1h-1zM31 22h1v1h-1zM34 22h1v1h-1zM45 22h1v1h-1zM47 22h3v1h-3zM37 23h1v1h-1zM49 23h2v1h-2zM0 24h1v1h-1zM2 24h1v1h-1zM35 24h4v1h-4zM41 24h1v1h-1zM45 24h1v1h-1zM48 24h2v1h-2zM56 24h1v1h-1zM80 24h1v1h-1zM83 24h2v1h-2zM87 24h1v1h-1zM89 24h1v1h-1zM94 24h1v1h-1zM47 25h3v1h-3zM77 25h1v1h-1zM85 25h1v1h-1zM87 25h1v1h-1zM89 25h1v1h-1zM93 25h1v1h-1zM95 25h2v1h-2zM56 26h4v1h-4zM56 27h4v1h-4zM66 27h6v1h-6zM57 28h1v1h-1zM59 28h1v1h-1zM1 29h1v1h-1zM62 30h1v1h-1zM66 30h2v1h-2zM69 30h1v1h-1zM10 31h1v1h-1zM65 31h2v1h-2zM69 31h3v1h-3zM5 32h1v1h-1zM7 32h1v1h-1zM13 32h1v1h-1zM23 32h1v1h-1zM62 32h1v1h-1zM72 32h4v1h-4zM4 33h4v1h-4zM12 33h1v1h-1zM58 33h1v1h-1zM67 33h2v1h-2zM72 33h2v1h-2zM76 33h1v1h-1zM9 34h1v1h-1zM14 34h1v1h-1zM17 34h2v1h-2zM26 34h1v1h-1zM57 34h1v1h-1zM4 35h2v1h-2zM8 35h1v1h-1zM20 35h1v1h-1zM26 35h1v1h-1zM58 35h1v1h-1zM61 35h1v1h-1zM70 35h3v1h-3zM74 35h1v1h-1zM4 36h3v1h-3zM10 36h1v1h-1zM12 36h1v1h-1zM18 36h1v1h-1zM26 36h1v1h-1zM62 36h1v1h-1zM71 36h3v1h-3zM23 37h1v1h-1zM68 37h1v1h-1zM71 37h1v1h-1zM0 38h1v1h-1zM2 38h1v1h-1zM23 38h2v1h-2zM55 38h1v1h-1zM57 38h2v1h-2zM68 38h1v1h-1zM8 39h1v1h-1zM10 39h1v1h-1zM15 39h1v1h-1zM17 39h3v1h-3zM22 39h1v1h-1zM58 39h1v1h-1zM64 39h1v1h-1zM67 39h1v1h-1zM4 40h1v1h-1zM8 40h1v1h-1zM15 40h1v1h-1zM19 40h2v1h-2zM22 40h3v1h-3zM55 40h1v1h-1zM57 40h1v1h-1zM65 40h2v1h-2zM69 40h1v1h-1zM71 40h1v1h-1zM74 40h1v1h-1zM0 41h3v1h-3zM4 41h3v1h-3zM25 41h1v1h-1zM54 41h1v1h-1zM56 41h4v1h-4zM68 41h3v1h-3zM75 41h1v1h-1zM0 42h2v1h-2zM24 42h1v1h-1zM54 42h1v1h-1zM76 42h1v1h-1zM0 43h1v1h-1zM3 43h1v1h-1zM24 43h1v1h-1zM55 43h1v1h-1zM24 44h1v1h-1zM55 44h1v1h-1zM76 44h1v1h-1zM18 45h5v1h-5zM55 45h1v1h-1zM75 45h1v1h-1zM17 46h5v1h-5zM75 46h1v1h-1zM0 47h1v1h-1zM22 47h1v1h-1zM56 47h1v1h-1zM23 48h1v1h-1zM68 48h2v1h-2zM74 48h1v1h-1zM75 49h1v1h-1zM25 50h1v1h-1zM55 50h1v1h-1zM68 50h1v1h-1zM25 51h1v1h-1zM57 51h1v1h-1zM66 51h1v1h-1zM73 51h1v1h-1zM21 52h1v1h-1zM1 53h1v1h-1zM4 53h1v1h-1zM15 53h2v1h-2zM2 54h1v1h-1zM8 54h1v1h-1zM14 54h1v1h-1zM23 54h1v1h-1zM2 55h1v1h-1zM24 55h1v1h-1zM7 56h2v1h-2zM17 57h1v1h-1zM0 61h1v1h-1zM76 61h1v1h-1zM81 61h1v1h-1zM92 61h1v1h-1zM99 61h1v1h-1zM24 62h3v1h-3zM29 62h1v1h-1zM32 62h2v1h-2zM73 62h2v1h-2zM96 62h4v1h-4zM27 63h1v1h-1zM30 63h5v1h-5zM52 63h1v1h-1zM93 63h5v1h-5zM95 64h4v1h-4zM95 65h2v1h-2zM0 66h1v1h-1zM95 67h2v1h-2zM99 67h1v1h-1zM83 71h1v1h-1zM98 71h2v1h-2zM77 72h1v1h-1zM81 72h1v1h-1zM96 73h1v1h-1zM98 73h1v1h-1zM93 74h1v1h-1zM88 75h2v1h-2zM1 76h1v1h-1zM23 76h1v1h-1zM0 77h2v1h-2zM6 78h2v1h-2zM16 78h1v1h-1zM19 79h1v1h-1zM57 79h1v1h-1zM75 79h1v1h-1zM17 80h2v1h-2zM56 80h1v1h-1zM59 80h2v1h-2zM69 80h2v1h-2zM74 80h1v1h-1zM1 81h2v1h-2zM4 81h3v1h-3zM12 81h1v1h-1zM56 81h2v1h-2zM59 81h2v1h-2zM7 82h5v1h-5zM14 82h3v1h-3zM20 82h1v1h-1zM58 82h2v1h-2zM61 82h2v1h-2zM75 82h1v1h-1zM7 83h1v1h-1zM18 83h1v1h-1zM64 83h1v1h-1zM66 83h1v1h-1zM7 84h6v1h-6zM14 84h7v1h-7zM54 84h1v1h-1zM65 84h1v1h-1zM69 84h2v1h-2zM73 84h3v1h-3zM10 85h4v1h-4zM15 85h1v1h-1zM54 85h1v1h-1zM63 85h2v1h-2zM68 85h3v1h-3zM73 85h2v1h-2zM12 86h8v1h-8zM22 86h1v1h-1zM24 86h1v1h-1zM62 86h2v1h-2zM65 86h3v1h-3zM14 87h1v1h-1zM17 87h1v1h-1zM20 87h1v1h-1zM25 87h2v1h-2zM55 87h3v1h-3zM67 87h1v1h-1zM71 87h2v1h-2zM74 87h1v1h-1zM20 88h2v1h-2zM57 88h1v1h-1zM65 88h1v1h-1zM68 88h2v1h-2zM17 89h5v1h-5zM54 89h1v1h-1zM67 89h6v1h-6zM74 89h2v1h-2zM16 90h2v1h-2zM21 90h1v1h-1zM24 90h1v1h-1zM62 90h1v1h-1zM78 90h1v1h-1zM10 91h1v1h-1zM21 91h1v1h-1zM59 91h3v1h-3zM71 91h5v1h-5zM24 92h1v1h-1zM54 92h1v1h-1zM61 92h3v1h-3zM65 92h1v1h-1zM68 92h1v1h-1zM78 92h1v1h-1zM24 93h1v1h-1zM53 93h1v1h-1zM60 93h2v1h-2zM5 94h1v1h-1zM54 94h3v1h-3zM60 94h1v1h-1zM3 95h5v1h-5zM23 95h2v1h-2zM55 95h2v1h-2zM60 95h1v1h-1zM76 95h1v1h-1zM3 96h1v1h-1zM18 96h2v1h-2zM24 96h1v1h-1zM56 96h2v1h-2zM75 96h1v1h-1zM17 97h3v1h-3zM55 97h3v1h-3zM59 97h2v1h-2zM75 97h1v1h-1zM17 98h2v1h-2zM24 98h1v1h-1zM57 98h3v1h-3zM75 98h2v1h-2zM18 99h1v1h-1zM22 99h2v1h-2zM55 99h1v1h-1z"/>
<path fill="#ca0000" d="M28 0h1v1h-1zM32 0h1v1h-1zM39 0h5v1h-5zM47 0h1v1h-1zM49 0h1v1h-1zM58 0h1v1h-1zM26 1h2v1h-2zM34 1h1v1h-1zM36 1h2v1h-2zM51 1h5v1h-5zM57 1h2v1h-2zM60 1h1v1h-1zM68 1h1v1h-1zM98 1h1v1h-1zM28 2h1v1h-1zM49 2h1v1h-1zM51 2h1v1h-1zM53 2h1v1h-1zM62 2h2v1h-2zM70 2h1v1h-1zM23 3h1v1h-1zM44 3h3v1h-3zM51 3h2v1h-2zM54 3h2v1h-2zM59 3h2v1h-2zM87 3h2v1h-2zM92 3h1v1h-1zM94 3h1v1h-1zM96 3h3v1h-3zM14 4h2v1h-2zM20 4h1v1h-1zM36 4h1v1h-1zM52 4h1v1h-1zM57 4h1v1h-1zM60 4h2v1h-2zM72 4h2v1h-2zM75 4h3v1h-3zM83 4h5v1h-5zM91 4h1v1h-1zM14 5h3v1h-3zM29 5h1v1h-1zM39 5h1v1h-1zM48 5h1v1h-1zM51 5h2v1h-2zM55 5h1v1h-1zM73 5h2v1h-2zM83 5h1v1h-1zM86 5h1v1h-1zM1 6h1v1h-1zM29 6h1v1h-1zM60 6h1v1h-1zM70 6h1v1h-1zM72 6h2v1h-2zM75 6h1v1h-1zM77 6h1v1h-1zM99 6h1v1h-1zM0 7h1v1h-1zM2 7h1v1h-1zM24 7h1v1h-1zM71 7h1v1h-1zM75 7h2v1h-2zM94 7h1v1h-1zM96 7h3v1h-3zM23 8h1v1h-1zM54 8h1v1h-1zM56 8h1v1h-1zM58 8h4v1h-4zM1 9h1v1h-1zM28 9h2v1h-2zM60 9h2v1h-2zM64 9h1v1h-1zM66 9h2v1h-2zM36 10h3v1h-3zM40 10h3v1h-3zM44 10h1v1h-1zM48 10h1v1h-1zM58 10h1v1h-1zM71 10h1v1h-1zM99 10h1v1h-1zM0 11h1v1h-1zM27 11h2v1h-2zM32 11h3v1h-3zM41 11h3v1h-3zM49 11h1v1h-1zM58 11h1v1h-1zM66 11h1v1h-1zM70 11h1v1h-1zM3 12h1v1h-1zM30 12h4v1h-4zM40 12h1v1h-1zM48 12h2v1h-2zM59 12h1v1h-1zM4 13h1v1h-1zM33 13h2v1h-2zM36 13h4v1h-4zM50 13h1v1h-1zM53 13h1v1h-1zM62 13h1v1h-1zM64 13h3v1h-3zM68 13h1v1h-1zM2 14h1v1h-1zM35 14h2v1h-2zM50 14h1v1h-1zM54 14h1v1h-1zM56 14h1v1h-1zM59 14h1v1h-1zM61 14h1v1h-1zM0 15h2v1h-2zM33 15h2v1h-2zM37 15h3v1h-3zM47 15h1v1h-1zM49 15h3v1h-3zM55 15h1v1h-1zM81 15h1v1h-1zM84 15h1v1h-1zM30 16h1v1h-1zM38 16h2v1h-2zM44 16h2v1h-2zM43 17h2v1h-2zM68 17h1v1h-1zM72 17h3v1h-3zM2 18h1v1h-1zM31 18h5v1h-5zM42 18h1v1h-1zM59 18h1v1h-1zM62 18h3v1h-3zM66 18h1v1h-1zM72 18h1v1h-1zM76 18h1v1h-1zM0 19h1v1h-1zM28 19h1v1h-1zM30 19h3v1h-3zM35 19h1v1h-1zM43 19h1v1h-1zM47 19h7v1h-7zM3 20h1v1h-1zM28 20h1v1h-1zM32 20h1v1h-1zM36 20h3v1h-3zM44 20h1v1h-1zM47 20h3v1h-3zM51 20h1v1h-1zM27 21h1v1h-1zM31 21h2v1h-2zM39 21h1v1h-1zM50 21h1v1h-1zM52 21h3v1h-3zM30 22h1v1h-1zM32 22h2v1h-2zM46 22h1v1h-1zM50 22h3v1h-3zM55 22h1v1h-1zM3 23h1v1h-1zM30 23h2v1h-2zM34 23h1v1h-1zM51 23h5v1h-5zM57 23h1v1h-1zM29 24h1v1h-1zM34 24h1v1h-1zM88 24h1v1h-1zM1 25h1v1h-1zM40 25h1v1h-1zM46 25h1v1h-1zM60 25h2v1h-2zM63 25h2v1h-2zM71 25h4v1h-4zM78 25h1v1h-1zM88 25h1v1h-1zM94 25h1v1h-1zM99 25h1v1h-1zM51 26h5v1h-5zM75 26h2v1h-2zM55 27h1v1h-1zM60 27h1v1h-1zM63 27h1v1h-1zM65 27h1v1h-1zM72 27h2v1h-2zM75 27h1v1h-1zM1 28h1v1h-1zM66 28h5v1h-5zM0 29h1v1h-1zM59 30h1v1h-1zM61 30h1v1h-1zM63 30h1v1h-1zM65 30h1v1h-1zM68 30h1v1h-1zM70 30h4v1h-4zM4 31h1v1h-1zM8 31h1v1h-1zM11 31h1v1h-1zM13 31h1v1h-1zM59 31h2v1h-2zM72 31h3v1h-3zM6 32h1v1h-1zM8 32h2v1h-2zM12 32h1v1h-1zM18 32h5v1h-5zM24 32h1v1h-1zM59 32h3v1h-3zM8 33h1v1h-1zM10 33h2v1h-2zM55 34h2v1h-2zM9 35h1v1h-1zM55 35h1v1h-1zM57 35h1v1h-1zM73 35h1v1h-1zM75 35h1v1h-1zM0 36h4v1h-4zM8 36h1v1h-1zM11 36h1v1h-1zM19 36h1v1h-1zM59 36h3v1h-3zM69 36h2v1h-2zM74 36h1v1h-1zM6 37h2v1h-2zM16 37h1v1h-1zM22 37h1v1h-1zM56 37h1v1h-1zM66 37h2v1h-2zM69 37h2v1h-2zM72 37h1v1h-1zM1 38h1v1h-1zM3 38h1v1h-1zM22 38h1v1h-1zM25 38h1v1h-1zM56 38h1v1h-1zM67 38h1v1h-1zM71 38h2v1h-2zM5 39h3v1h-3zM16 39h1v1h-1zM20 39h2v1h-2zM23 39h1v1h-1zM55 39h1v1h-1zM63 39h1v1h-1zM65 39h2v1h-2zM68 39h1v1h-1zM71 39h5v1h-5zM5 40h3v1h-3zM16 40h1v1h-1zM21 40h1v1h-1zM25 40h1v1h-1zM54 40h1v1h-1zM58 40h7v1h-7zM67 40h2v1h-2zM70 40h1v1h-1zM75 40h1v1h-1zM62 41h1v1h-1zM76 43h1v1h-1zM23 45h1v1h-1zM76 45h1v1h-1zM22 46h1v1h-1zM55 46h1v1h-1zM56 48h1v1h-1zM75 48h1v1h-1zM24 49h1v1h-1zM76 50h1v1h-1zM56 51h1v1h-1zM69 51h2v1h-2zM72 51h1v1h-1zM74 51h1v1h-1zM4 52h1v1h-1zM22 52h1v1h-1zM58 52h1v1h-1zM62 52h1v1h-1zM0 53h1v1h-1zM2 53h2v1h-2zM23 53h1v1h-1zM0 54h2v1h-2zM9 54h1v1h-1zM13 54h1v1h-1zM7 55h1v1h-1zM14 55h1v1h-1zM2 56h1v1h-1zM15 56h1v1h-1zM24 56h1v1h-1zM8 57h1v1h-1zM16 57h1v1h-1zM20 57h1v1h-1zM1 61h1v1h-1zM41 61h1v1h-1zM46 61h1v1h-1zM75 61h1v1h-1zM93 61h1v1h-1zM96 61h3v1h-3zM23 62h1v1h-1zM53 62h1v1h-1zM75 62h1v1h-1zM26 63h1v1h-1zM28 63h2v1h-2zM84 63h2v1h-2zM92 63h1v1h-1zM98 63h2v1h-2zM43 64h2v1h-2zM94 64h1v1h-1zM1 65h1v1h-1zM94 65h1v1h-1zM99 65h1v1h-1zM1 66h1v1h-1zM93 66h1v1h-1zM93 67h2v1h-2zM97 67h2v1h-2zM93 68h2v1h-2zM81 71h2v1h-2zM0 72h2v1h-2zM76 72h1v1h-1zM1 73h1v1h-1zM78 73h2v1h-2zM83 73h2v1h-2zM84 74h1v1h-1zM94 74h1v1h-1zM86 75h2v1h-2zM91 75h1v1h-1zM0 76h1v1h-1zM2 76h1v1h-1zM12 76h1v1h-1zM22 76h1v1h-1zM24 76h1v1h-1zM2 77h3v1h-3zM10 77h1v1h-1zM13 77h3v1h-3zM20 79h1v1h-1zM23 79h1v1h-1zM58 79h3v1h-3zM76 79h1v1h-1zM62 80h1v1h-1zM71 80h1v1h-1zM73 80h1v1h-1zM75 80h2v1h-2zM3 81h1v1h-1zM7 81h1v1h-1zM9 81h3v1h-3zM16 81h1v1h-1zM63 81h1v1h-1zM74 81h1v1h-1zM19 82h1v1h-1zM21 82h1v1h-1zM55 82h1v1h-1zM60 82h1v1h-1zM63 82h1v1h-1zM73 82h1v1h-1zM76 82h1v1h-1zM17 83h1v1h-1zM23 83h3v1h-3zM54 83h1v1h-1zM65 83h1v1h-1zM13 84h1v1h-1zM21 84h5v1h-5zM16 85h5v1h-5zM23 85h2v1h-2zM66 85h1v1h-1zM20 86h1v1h-1zM25 86h1v1h-1zM18 87h2v1h-2zM21 87h1v1h-1zM66 87h1v1h-1zM73 87h1v1h-1zM18 88h2v1h-2zM56 88h1v1h-1zM66 88h1v1h-1zM70 88h2v1h-2zM73 88h3v1h-3zM26 89h1v1h-1zM73 89h1v1h-1zM78 89h1v1h-1zM18 90h1v1h-1zM20 90h1v1h-1zM63 90h5v1h-5zM71 90h2v1h-2zM74 90h2v1h-2zM7 91h2v1h-2zM17 91h4v1h-4zM24 91h1v1h-1zM55 91h1v1h-1zM62 91h7v1h-7zM70 91h1v1h-1zM78 91h1v1h-1zM25 92h1v1h-1zM69 92h1v1h-1zM78 93h1v1h-1zM24 94h1v1h-1zM53 94h1v1h-1zM55 96h1v1h-1zM54 98h3v1h-3zM60 98h1v1h-1zM17 99h1v1h-1zM21 99h1v1h-1zM53 99h2v1h-2zM56 99h3v1h-3zM75 99h3v1h-3z"/>
<path fill="#d40000" d="M27 0h1v1h-1zM33 0h2v1h-2zM37 0h2v1h-2zM48 0h1v1h-1zM50 0h1v1h-1zM61 0h2v1h-2zM73 0h1v1h-1zM75 0h1v1h-1zM95 0h1v1h-1zM97 0h2v1h-2zM28 1h1v1h-1zM35 1h1v1h-1zM50 1h1v1h-1zM56 1h1v1h-1zM59 1h1v1h-1zM61 1h2v1h-2zM67 1h1v1h-1zM99 1h1v1h-1zM26 2h2v1h-2zM50 2h1v1h-1zM64 2h2v1h-2zM68 2h2v1h-2zM1 3h1v1h-1zM14 3h3v1h-3zM18 3h3v1h-3zM22 3h1v1h-1zM27 3h1v1h-1zM37 3h2v1h-2zM40 3h4v1h-4zM48 3h1v1h-1zM53 3h1v1h-1zM56 3h2v1h-2zM61 3h4v1h-4zM68 3h3v1h-3zM91 3h1v1h-1zM95 3h1v1h-1zM13 4h1v1h-1zM17 4h1v1h-1zM19 4h1v1h-1zM28 4h1v1h-1zM37 4h5v1h-5zM46 4h1v1h-1zM48 4h1v1h-1zM51 4h1v1h-1zM54 4h3v1h-3zM58 4h2v1h-2zM62 4h1v1h-1zM68 4h4v1h-4zM92 4h1v1h-1zM13 5h1v1h-1zM17 5h1v1h-1zM40 5h2v1h-2zM47 5h1v1h-1zM49 5h1v1h-1zM56 5h1v1h-1zM59 5h1v1h-1zM69 5h2v1h-2zM75 5h1v1h-1zM77 5h1v1h-1zM93 5h1v1h-1zM0 6h1v1h-1zM2 6h1v1h-1zM71 6h1v1h-1zM76 6h1v1h-1zM94 6h3v1h-3zM98 6h1v1h-1zM17 7h3v1h-3zM23 7h1v1h-1zM95 7h1v1h-1zM22 8h1v1h-1zM24 8h1v1h-1zM55 8h1v1h-1zM57 8h1v1h-1zM70 8h1v1h-1zM72 8h1v1h-1zM0 9h1v1h-1zM2 9h1v1h-1zM27 9h1v1h-1zM62 9h2v1h-2zM68 9h2v1h-2zM72 9h1v1h-1zM2 10h1v1h-1zM28 10h3v1h-3zM35 10h1v1h-1zM45 10h3v1h-3zM59 10h2v1h-2zM67 10h2v1h-2zM70 10h1v1h-1zM25 11h1v1h-1zM45 11h2v1h-2zM48 11h1v1h-1zM60 11h2v1h-2zM4 12h1v1h-1zM29 12h1v1h-1zM41 12h3v1h-3zM60 12h3v1h-3zM64 12h1v1h-1zM66 12h1v1h-1zM40 13h1v1h-1zM49 13h1v1h-1zM60 13h2v1h-2zM63 13h1v1h-1zM3 14h1v1h-1zM34 14h1v1h-1zM37 14h2v1h-2zM44 14h1v1h-1zM49 14h1v1h-1zM60 14h1v1h-1zM62 14h2v1h-2zM2 15h1v1h-1zM29 15h2v1h-2zM32 15h1v1h-1zM35 15h2v1h-2zM40 15h3v1h-3zM44 15h1v1h-1zM46 15h1v1h-1zM48 15h1v1h-1zM2 16h1v1h-1zM29 16h1v1h-1zM31 16h3v1h-3zM36 16h2v1h-2zM40 16h4v1h-4zM66 16h3v1h-3zM70 16h2v1h-2zM73 16h1v1h-1zM2 17h1v1h-1zM29 17h2v1h-2zM33 17h1v1h-1zM35 17h1v1h-1zM41 17h2v1h-2zM66 17h2v1h-2zM0 18h2v1h-2zM29 18h2v1h-2zM41 18h1v1h-1zM60 18h2v1h-2zM3 19h1v1h-1zM26 19h2v1h-2zM36 19h3v1h-3zM41 19h2v1h-2zM41 20h1v1h-1zM43 20h1v1h-1zM50 20h1v1h-1zM3 21h1v1h-1zM28 21h3v1h-3zM51 21h1v1h-1zM28 22h2v1h-2zM53 22h2v1h-2zM28 23h2v1h-2zM32 23h2v1h-2zM56 23h1v1h-1zM3 24h1v1h-1zM30 24h1v1h-1zM42 24h2v1h-2zM0 25h1v1h-1zM2 25h1v1h-1zM37 25h1v1h-1zM39 25h1v1h-1zM62 25h1v1h-1zM65 25h2v1h-2zM68 25h2v1h-2zM79 25h1v1h-1zM97 25h2v1h-2zM47 26h2v1h-2zM50 26h1v1h-1zM60 26h1v1h-1zM71 26h4v1h-4zM87 26h2v1h-2zM90 26h1v1h-1zM92 26h2v1h-2zM61 27h2v1h-2zM64 27h1v1h-1zM74 27h1v1h-1zM76 27h1v1h-1zM0 28h1v1h-1zM56 28h1v1h-1zM60 28h1v1h-1zM65 28h1v1h-1zM71 28h2v1h-2zM2 29h1v1h-1zM59 29h3v1h-3zM63 29h1v1h-1zM66 29h1v1h-1zM70 29h1v1h-1zM73 29h1v1h-1zM4 30h1v1h-1zM57 30h2v1h-2zM60 30h1v1h-1zM64 30h1v1h-1zM74 30h1v1h-1zM5 31h1v1h-1zM7 31h1v1h-1zM12 31h1v1h-1zM14 31h1v1h-1zM16 31h2v1h-2zM21 31h4v1h-4zM58 31h1v1h-1zM61 31h4v1h-4zM10 32h2v1h-2zM14 32h1v1h-1zM17 32h1v1h-1zM58 32h1v1h-1zM9 33h1v1h-1zM26 33h1v1h-1zM56 33h2v1h-2zM76 34h1v1h-1zM54 35h1v1h-1zM56 35h1v1h-1zM9 36h1v1h-1zM20 36h1v1h-1zM5 37h1v1h-1zM13 37h1v1h-1zM15 37h1v1h-1zM17 37h1v1h-1zM21 37h1v1h-1zM24 37h1v1h-1zM55 37h1v1h-1zM57 37h9v1h-9zM73 37h2v1h-2zM4 38h1v1h-1zM7 38h2v1h-2zM13 38h1v1h-1zM19 38h3v1h-3zM54 38h1v1h-1zM59 38h3v1h-3zM64 38h3v1h-3zM69 38h2v1h-2zM73 38h1v1h-1zM24 39h2v1h-2zM54 39h1v1h-1zM59 39h1v1h-1zM62 39h1v1h-1zM69 39h2v1h-2zM26 41h1v1h-1zM25 42h1v1h-1zM25 43h1v1h-1zM54 43h1v1h-1zM25 44h1v1h-1zM54 45h1v1h-1zM23 46h1v1h-1zM76 46h1v1h-1zM23 47h1v1h-1zM75 47h1v1h-1zM24 48h1v1h-1zM25 49h1v1h-1zM55 49h1v1h-1zM26 50h2v1h-2zM26 51h1v1h-1zM55 51h1v1h-1zM67 51h2v1h-2zM71 51h1v1h-1zM75 51h1v1h-1zM3 52h1v1h-1zM23 52h1v1h-1zM59 52h3v1h-3zM63 52h2v1h-2zM70 52h1v1h-1zM74 52h2v1h-2zM10 54h1v1h-1zM12 54h1v1h-1zM24 54h1v1h-1zM1 55h1v1h-1zM8 55h1v1h-1zM13 55h1v1h-1zM1 56h1v1h-1zM9 56h1v1h-1zM13 56h2v1h-2zM5 57h3v1h-3zM14 57h2v1h-2zM21 57h1v1h-1zM23 57h1v1h-1zM8 58h1v1h-1zM18 58h1v1h-1zM38 61h3v1h-3zM42 61h4v1h-4zM47 61h1v1h-1zM73 61h2v1h-2zM94 61h2v1h-2zM22 62h1v1h-1zM72 62h1v1h-1zM53 63h1v1h-1zM74 63h1v1h-1zM78 63h1v1h-1zM80 63h4v1h-4zM86 63h4v1h-4zM91 63h1v1h-1zM27 64h1v1h-1zM99 64h1v1h-1zM0 65h1v1h-1zM2 65h1v1h-1zM28 65h2v1h-2zM93 65h1v1h-1zM2 66h1v1h-1zM29 66h1v1h-1zM92 67h1v1h-1zM92 68h1v1h-1zM95 68h1v1h-1zM99 68h1v1h-1zM93 70h2v1h-2zM97 70h1v1h-1zM0 71h1v1h-1zM79 71h2v1h-2zM0 73h1v1h-1zM2 73h1v1h-1zM77 73h1v1h-1zM80 73h1v1h-1zM82 73h1v1h-1zM79 74h1v1h-1zM95 74h2v1h-2zM0 75h3v1h-3zM22 75h2v1h-2zM84 75h2v1h-2zM90 75h1v1h-1zM92 75h1v1h-1zM3 76h2v1h-2zM13 76h2v1h-2zM21 76h1v1h-1zM25 76h1v1h-1zM85 76h1v1h-1zM88 76h2v1h-2zM5 77h1v1h-1zM9 77h1v1h-1zM11 77h2v1h-2zM16 77h1v1h-1zM18 77h2v1h-2zM21 77h1v1h-1zM17 78h3v1h-3zM21 79h2v1h-2zM24 79h1v1h-1zM56 79h1v1h-1zM70 79h1v1h-1zM74 79h1v1h-1zM19 80h2v1h-2zM63 80h3v1h-3zM68 80h1v1h-1zM72 80h1v1h-1zM77 80h1v1h-1zM8 81h1v1h-1zM17 81h1v1h-1zM19 81h3v1h-3zM64 81h1v1h-1zM69 81h1v1h-1zM73 81h1v1h-1zM75 81h2v1h-2zM17 82h2v1h-2zM22 82h4v1h-4zM64 82h1v1h-1zM66 82h5v1h-5zM25 85h1v1h-1zM65 85h1v1h-1zM21 86h1v1h-1zM26 86h1v1h-1zM54 87h1v1h-1zM26 88h1v1h-1zM55 88h1v1h-1zM67 88h1v1h-1zM72 88h1v1h-1zM19 90h1v1h-1zM25 90h1v1h-1zM53 90h1v1h-1zM68 90h3v1h-3zM73 90h1v1h-1zM9 91h1v1h-1zM54 91h1v1h-1zM69 91h1v1h-1zM53 92h1v1h-1zM25 93h1v1h-1zM52 93h1v1h-1zM25 95h1v1h-1zM54 95h1v1h-1zM77 95h1v1h-1zM76 96h1v1h-1zM53 97h2v1h-2zM76 97h1v1h-1zM25 98h1v1h-1zM53 98h1v1h-1zM77 98h1v1h-1zM24 99h1v1h-1z"/>
<path fill="#df0000" d="M35 0h2v1h-2zM57 0h1v1h-1zM63 0h4v1h-4zM70 0h3v1h-3zM74 0h1v1h-1zM96 0h1v1h-1zM2 1h1v1h-1zM25 1h1v1h-1zM63 1h1v1h-1zM65 1h2v1h-2zM15 2h3v1h-3zM25 2h1v1h-1zM67 2h1v1h-1zM0 3h1v1h-1zM2 3h1v1h-1zM13 3h1v1h-1zM17 3h1v1h-1zM21 3h1v1h-1zM24 3h3v1h-3zM39 3h1v1h-1zM50 3h1v1h-1zM58 3h1v1h-1zM65 3h3v1h-3zM2 4h1v1h-1zM18 4h1v1h-1zM21 4h3v1h-3zM27 4h1v1h-1zM42 4h4v1h-4zM63 4h2v1h-2zM66 4h2v1h-2zM93 4h1v1h-1zM18 5h1v1h-1zM28 5h1v1h-1zM42 5h5v1h-5zM50 5h1v1h-1zM60 5h4v1h-4zM65 5h4v1h-4zM71 5h2v1h-2zM76 5h1v1h-1zM97 5h2v1h-2zM16 6h4v1h-4zM25 6h4v1h-4zM97 6h1v1h-1zM3 7h1v1h-1zM20 7h3v1h-3zM18 8h4v1h-4zM71 8h1v1h-1zM22 9h2v1h-2zM26 9h1v1h-1zM70 9h2v1h-2zM4 10h1v1h-1zM27 10h1v1h-1zM31 10h4v1h-4zM61 10h2v1h-2zM64 10h3v1h-3zM69 10h1v1h-1zM3 11h2v1h-2zM22 11h3v1h-3zM26 11h1v1h-1zM44 11h1v1h-1zM47 11h1v1h-1zM59 11h1v1h-1zM62 11h1v1h-1zM22 12h2v1h-2zM27 12h2v1h-2zM44 12h4v1h-4zM63 12h1v1h-1zM65 12h1v1h-1zM5 13h1v1h-1zM29 13h2v1h-2zM32 13h1v1h-1zM41 13h2v1h-2zM44 13h5v1h-5zM4 14h2v1h-2zM33 14h1v1h-1zM39 14h3v1h-3zM43 14h1v1h-1zM45 14h4v1h-4zM3 15h1v1h-1zM24 15h1v1h-1zM26 15h1v1h-1zM28 15h1v1h-1zM31 15h1v1h-1zM43 15h1v1h-1zM45 15h1v1h-1zM1 16h1v1h-1zM28 16h1v1h-1zM34 16h2v1h-2zM69 16h1v1h-1zM72 16h1v1h-1zM1 17h1v1h-1zM28 17h1v1h-1zM32 17h1v1h-1zM34 17h1v1h-1zM36 17h5v1h-5zM3 18h1v1h-1zM28 18h1v1h-1zM36 18h1v1h-1zM38 18h3v1h-3zM39 19h2v1h-2zM27 20h1v1h-1zM39 20h2v1h-2zM42 20h1v1h-1zM26 21h1v1h-1zM4 22h1v1h-1zM9 22h1v1h-1zM27 22h1v1h-1zM4 23h1v1h-1zM27 24h2v1h-2zM31 24h1v1h-1zM33 24h1v1h-1zM44 24h1v1h-1zM28 25h3v1h-3zM36 25h1v1h-1zM38 25h1v1h-1zM41 25h1v1h-1zM45 25h1v1h-1zM67 25h1v1h-1zM70 25h1v1h-1zM80 25h1v1h-1zM84 25h1v1h-1zM49 26h1v1h-1zM61 26h1v1h-1zM65 26h6v1h-6zM77 26h1v1h-1zM89 26h1v1h-1zM91 26h1v1h-1zM94 26h1v1h-1zM99 26h1v1h-1zM25 27h2v1h-2zM54 27h1v1h-1zM77 27h1v1h-1zM25 28h1v1h-1zM61 28h4v1h-4zM73 28h1v1h-1zM25 29h1v1h-1zM58 29h1v1h-1zM62 29h1v1h-1zM64 29h2v1h-2zM67 29h1v1h-1zM69 29h1v1h-1zM71 29h1v1h-1zM74 29h1v1h-1zM25 30h1v1h-1zM6 31h1v1h-1zM15 31h1v1h-1zM18 31h3v1h-3zM75 31h1v1h-1zM15 32h2v1h-2zM25 32h1v1h-1zM76 32h1v1h-1zM54 34h1v1h-1zM76 35h1v1h-1zM54 36h5v1h-5zM75 36h1v1h-1zM0 37h1v1h-1zM4 37h1v1h-1zM8 37h1v1h-1zM10 37h1v1h-1zM12 37h1v1h-1zM14 37h1v1h-1zM18 37h3v1h-3zM54 37h1v1h-1zM75 37h1v1h-1zM5 38h2v1h-2zM9 38h1v1h-1zM12 38h1v1h-1zM14 38h2v1h-2zM17 38h2v1h-2zM26 38h1v1h-1zM62 38h2v1h-2zM75 38h2v1h-2zM60 39h2v1h-2zM76 39h1v1h-1zM26 40h1v1h-1zM76 40h1v1h-1zM76 41h1v1h-1zM26 42h1v1h-1zM26 43h1v1h-1zM26 44h1v1h-1zM54 44h1v1h-1zM77 44h1v1h-1zM24 45h2v1h-2zM24 46h1v1h-1zM24 47h1v1h-1zM25 48h1v1h-1zM26 49h2v1h-2zM76 49h1v1h-1zM77 50h1v1h-1zM0 52h3v1h-3zM24 52h2v1h-2zM57 52h1v1h-1zM65 52h5v1h-5zM71 52h1v1h-1zM73 52h1v1h-1zM24 53h1v1h-1zM11 54h1v1h-1zM9 55h4v1h-4zM0 56h1v1h-1zM10 56h1v1h-1zM25 56h1v1h-1zM2 57h3v1h-3zM9 57h1v1h-1zM13 57h1v1h-1zM22 57h1v1h-1zM24 57h2v1h-2zM2 58h1v1h-1zM6 58h2v1h-2zM9 58h1v1h-1zM14 58h4v1h-4zM19 58h1v1h-1zM24 58h1v1h-1zM24 59h1v1h-1zM0 60h3v1h-3zM17 60h1v1h-1zM90 60h1v1h-1zM2 61h1v1h-1zM24 61h3v1h-3zM48 61h1v1h-1zM72 61h1v1h-1zM0 62h1v1h-1zM21 62h1v1h-1zM54 62h1v1h-1zM71 62h1v1h-1zM24 63h2v1h-2zM73 63h1v1h-1zM75 63h3v1h-3zM79 63h1v1h-1zM90 63h1v1h-1zM28 64h5v1h-5zM37 64h2v1h-2zM42 64h1v1h-1zM45 64h1v1h-1zM92 64h2v1h-2zM30 65h3v1h-3zM92 65h1v1h-1zM28 66h1v1h-1zM92 66h1v1h-1zM91 67h1v1h-1zM96 68h1v1h-1zM98 68h1v1h-1zM93 69h2v1h-2zM99 69h1v1h-1zM0 70h1v1h-1zM79 70h1v1h-1zM83 70h4v1h-4zM95 70h2v1h-2zM98 70h2v1h-2zM1 71h1v1h-1zM77 71h2v1h-2zM2 72h1v1h-1zM75 72h1v1h-1zM24 73h1v1h-1zM76 73h1v1h-1zM81 73h1v1h-1zM1 74h2v1h-2zM77 74h2v1h-2zM80 74h4v1h-4zM97 74h1v1h-1zM99 74h1v1h-1zM3 75h1v1h-1zM21 75h1v1h-1zM24 75h1v1h-1zM81 75h3v1h-3zM93 75h2v1h-2zM96 75h1v1h-1zM10 76h2v1h-2zM15 76h1v1h-1zM20 76h1v1h-1zM26 76h1v1h-1zM84 76h1v1h-1zM86 76h1v1h-1zM90 76h2v1h-2zM6 77h1v1h-1zM8 77h1v1h-1zM17 77h1v1h-1zM20 77h1v1h-1zM22 77h3v1h-3zM20 78h1v1h-1zM57 78h1v1h-1zM25 79h1v1h-1zM61 79h1v1h-1zM69 79h1v1h-1zM71 79h1v1h-1zM73 79h1v1h-1zM21 80h4v1h-4zM55 80h1v1h-1zM66 80h2v1h-2zM18 81h1v1h-1zM55 81h1v1h-1zM65 81h4v1h-4zM70 81h3v1h-3zM65 82h1v1h-1zM71 82h2v1h-2zM77 82h1v1h-1zM53 83h1v1h-1zM26 84h1v1h-1zM53 84h1v1h-1zM21 85h2v1h-2zM78 85h1v1h-1zM54 88h1v1h-1zM78 88h1v1h-1zM53 89h1v1h-1zM52 94h1v1h-1zM25 96h1v1h-1zM77 96h1v1h-1zM25 97h1v1h-1zM52 97h1v1h-1zM51 98h2v1h-2zM25 99h1v1h-1zM52 99h1v1h-1z"/>
<path fill="#ea0000" d="M4 0h1v1h-1zM14 0h3v1h-3zM26 0h1v1h-1zM51 0h3v1h-3zM55 0h2v1h-2zM67 0h3v1h-3zM1 1h1v1h-1zM17 1h1v1h-1zM64 1h1v1h-1zM2 2h1v1h-1zM14 2h1v1h-1zM18 2h3v1h-3zM22 2h1v1h-1zM66 2h1v1h-1zM12 3h1v1h-1zM49 3h1v1h-1zM1 4h1v1h-1zM12 4h1v1h-1zM24 4h3v1h-3zM49 4h2v1h-2zM65 4h1v1h-1zM97 4h3v1h-3zM27 5h1v1h-1zM64 5h1v1h-1zM94 5h3v1h-3zM3 6h1v1h-1zM14 6h2v1h-2zM24 6h1v1h-1zM16 7h1v1h-1zM3 8h1v1h-1zM17 8h1v1h-1zM18 9h2v1h-2zM21 9h1v1h-1zM24 9h2v1h-2zM3 10h1v1h-1zM19 10h1v1h-1zM22 10h1v1h-1zM26 10h1v1h-1zM63 10h1v1h-1zM21 11h1v1h-1zM63 11h3v1h-3zM5 12h1v1h-1zM21 12h1v1h-1zM25 12h2v1h-2zM6 13h1v1h-1zM22 13h3v1h-3zM26 13h3v1h-3zM31 13h1v1h-1zM43 13h1v1h-1zM6 14h1v1h-1zM24 14h7v1h-7zM32 14h1v1h-1zM42 14h1v1h-1zM25 15h1v1h-1zM27 15h1v1h-1zM0 16h1v1h-1zM3 16h1v1h-1zM3 17h1v1h-1zM27 17h1v1h-1zM31 17h1v1h-1zM37 18h1v1h-1zM4 19h1v1h-1zM25 19h1v1h-1zM4 20h3v1h-3zM26 20h1v1h-1zM4 21h3v1h-3zM5 22h1v1h-1zM8 22h1v1h-1zM11 22h3v1h-3zM26 22h1v1h-1zM7 23h3v1h-3zM12 23h2v1h-2zM27 23h1v1h-1zM26 24h1v1h-1zM32 24h1v1h-1zM3 25h1v1h-1zM26 25h2v1h-2zM31 25h1v1h-1zM35 25h1v1h-1zM42 25h3v1h-3zM83 25h1v1h-1zM2 26h1v1h-1zM25 26h2v1h-2zM28 26h1v1h-1zM38 26h4v1h-4zM62 26h3v1h-3zM86 26h1v1h-1zM95 26h2v1h-2zM0 27h2v1h-2zM23 27h2v1h-2zM51 27h3v1h-3zM89 27h3v1h-3zM2 28h1v1h-1zM24 28h1v1h-1zM26 28h1v1h-1zM55 28h1v1h-1zM74 28h2v1h-2zM3 29h1v1h-1zM24 29h1v1h-1zM26 29h1v1h-1zM57 29h1v1h-1zM68 29h1v1h-1zM72 29h1v1h-1zM5 30h1v1h-1zM9 30h2v1h-2zM17 30h1v1h-1zM23 30h2v1h-2zM56 30h1v1h-1zM75 30h1v1h-1zM25 31h1v1h-1zM57 31h1v1h-1zM55 33h1v1h-1zM76 36h1v1h-1zM1 37h1v1h-1zM9 37h1v1h-1zM11 37h1v1h-1zM25 37h2v1h-2zM76 37h1v1h-1zM10 38h2v1h-2zM16 38h1v1h-1zM74 38h1v1h-1zM26 39h1v1h-1zM77 42h1v1h-1zM27 44h1v1h-1zM26 45h1v1h-1zM77 45h1v1h-1zM25 46h1v1h-1zM25 47h1v1h-1zM55 47h1v1h-1zM76 47h1v1h-1zM55 48h1v1h-1zM76 48h1v1h-1zM54 50h1v1h-1zM27 51h1v1h-1zM76 51h1v1h-1zM72 52h1v1h-1zM25 54h1v1h-1zM0 55h1v1h-1zM25 55h1v1h-1zM11 56h2v1h-2zM1 57h1v1h-1zM11 57h2v1h-2zM1 58h1v1h-1zM4 58h2v1h-2zM20 58h1v1h-1zM23 58h1v1h-1zM25 58h1v1h-1zM0 59h3v1h-3zM8 59h1v1h-1zM23 59h1v1h-1zM25 59h1v1h-1zM18 60h1v1h-1zM23 60h3v1h-3zM76 60h2v1h-2zM91 60h1v1h-1zM23 61h1v1h-1zM27 61h1v1h-1zM37 61h1v1h-1zM49 61h2v1h-2zM52 61h1v1h-1zM71 61h1v1h-1zM17 62h4v1h-4zM55 62h1v1h-1zM70 62h1v1h-1zM0 64h2v1h-2zM26 64h1v1h-1zM33 64h1v1h-1zM36 64h1v1h-1zM39 64h3v1h-3zM46 64h1v1h-1zM48 64h1v1h-1zM52 64h1v1h-1zM83 64h2v1h-2zM86 64h2v1h-2zM91 64h1v1h-1zM27 65h1v1h-1zM33 65h1v1h-1zM91 65h1v1h-1zM3 66h1v1h-1zM30 66h1v1h-1zM91 66h1v1h-1zM0 67h1v1h-1zM91 68h1v1h-1zM97 68h1v1h-1zM0 69h1v1h-1zM86 69h1v1h-1zM95 69h4v1h-4zM1 70h1v1h-1zM80 70h1v1h-1zM82 70h1v1h-1zM87 70h1v1h-1zM92 70h1v1h-1zM2 71h1v1h-1zM76 71h1v1h-1zM3 72h2v1h-2zM3 73h1v1h-1zM23 73h1v1h-1zM0 74h1v1h-1zM23 74h1v1h-1zM76 74h1v1h-1zM98 74h1v1h-1zM15 75h6v1h-6zM25 75h1v1h-1zM78 75h3v1h-3zM95 75h1v1h-1zM97 75h2v1h-2zM5 76h1v1h-1zM9 76h1v1h-1zM16 76h4v1h-4zM77 76h1v1h-1zM87 76h1v1h-1zM92 76h2v1h-2zM97 76h3v1h-3zM7 77h1v1h-1zM25 77h1v1h-1zM21 78h1v1h-1zM23 78h1v1h-1zM58 78h1v1h-1zM71 78h6v1h-6zM72 79h1v1h-1zM77 79h1v1h-1zM25 80h1v1h-1zM22 81h4v1h-4zM77 81h1v1h-1zM54 82h1v1h-1zM26 83h1v1h-1zM78 84h1v1h-1zM26 85h1v1h-1zM53 85h1v1h-1zM78 86h1v1h-1zM78 87h1v1h-1zM27 89h1v1h-1zM26 90h1v1h-1zM25 91h1v1h-1zM25 94h1v1h-1zM78 94h1v1h-1zM54 96h1v1h-1zM77 97h1v1h-1zM51 99h1v1h-1zM78 99h1v1h-1z"/>
<path fill="#f40000" d="M1 0h3v1h-3zM13 0h1v1h-1zM17 0h4v1h-4zM54 0h1v1h-1zM99 0h1v1h-1zM0 1h1v1h-1zM3 1h2v1h-2zM15 1h2v1h-2zM18 1h5v1h-5zM24 1h1v1h-1zM1 2h1v1h-1zM3 2h1v1h-1zM13 2h1v1h-1zM21 2h1v1h-1zM23 2h2v1h-2zM94 4h3v1h-3zM0 5h3v1h-3zM12 5h1v1h-1zM19 5h3v1h-3zM25 5h2v1h-2zM99 5h1v1h-1zM13 6h1v1h-1zM20 6h4v1h-4zM15 7h1v1h-1zM3 9h1v1h-1zM17 9h1v1h-1zM20 9h1v1h-1zM18 10h1v1h-1zM20 10h2v1h-2zM23 10h3v1h-3zM5 11h1v1h-1zM18 11h3v1h-3zM20 12h1v1h-1zM24 12h1v1h-1zM21 13h1v1h-1zM25 13h1v1h-1zM7 14h1v1h-1zM22 14h2v1h-2zM31 14h1v1h-1zM4 15h4v1h-4zM23 15h1v1h-1zM5 16h2v1h-2zM23 16h1v1h-1zM26 16h2v1h-2zM0 17h1v1h-1zM4 18h1v1h-1zM26 18h2v1h-2zM5 19h2v1h-2zM7 20h1v1h-1zM25 20h1v1h-1zM7 21h5v1h-5zM25 21h1v1h-1zM6 22h2v1h-2zM10 22h1v1h-1zM5 23h2v1h-2zM11 23h1v1h-1zM14 23h1v1h-1zM26 23h1v1h-1zM4 24h2v1h-2zM12 24h1v1h-1zM32 25h1v1h-1zM34 25h1v1h-1zM81 25h2v1h-2zM0 26h2v1h-2zM3 26h1v1h-1zM24 26h1v1h-1zM27 26h1v1h-1zM29 26h1v1h-1zM42 26h1v1h-1zM46 26h1v1h-1zM78 26h1v1h-1zM85 26h1v1h-1zM98 26h1v1h-1zM27 27h1v1h-1zM78 27h1v1h-1zM88 27h1v1h-1zM23 28h1v1h-1zM76 28h1v1h-1zM4 29h1v1h-1zM23 29h1v1h-1zM56 29h1v1h-1zM6 30h3v1h-3zM11 30h1v1h-1zM15 30h2v1h-2zM21 30h2v1h-2zM56 32h2v1h-2zM77 33h1v1h-1zM27 34h1v1h-1zM77 34h1v1h-1zM27 36h1v1h-1zM2 37h2v1h-2zM77 39h1v1h-1zM53 40h1v1h-1zM77 40h1v1h-1zM27 43h1v1h-1zM77 43h1v1h-1zM26 48h1v1h-1zM94 48h2v1h-2zM54 49h1v1h-1zM77 49h1v1h-1zM94 49h6v1h-6zM28 50h1v1h-1zM99 50h1v1h-1zM28 51h1v1h-1zM77 51h1v1h-1zM99 51h1v1h-1zM26 52h1v1h-1zM76 52h1v1h-1zM87 52h1v1h-1zM25 53h1v1h-1zM90 53h1v1h-1zM26 56h1v1h-1zM0 57h1v1h-1zM10 57h1v1h-1zM26 57h1v1h-1zM0 58h1v1h-1zM3 58h1v1h-1zM10 58h4v1h-4zM21 58h2v1h-2zM7 59h1v1h-1zM9 59h1v1h-1zM14 59h7v1h-7zM3 60h1v1h-1zM14 60h1v1h-1zM16 60h1v1h-1zM19 60h2v1h-2zM22 60h1v1h-1zM73 60h3v1h-3zM78 60h1v1h-1zM81 60h3v1h-3zM85 60h5v1h-5zM3 61h1v1h-1zM16 61h3v1h-3zM21 61h2v1h-2zM28 61h1v1h-1zM51 61h1v1h-1zM53 61h1v1h-1zM1 62h1v1h-1zM0 63h1v1h-1zM21 63h1v1h-1zM23 63h1v1h-1zM54 63h1v1h-1zM71 63h2v1h-2zM2 64h1v1h-1zM25 64h1v1h-1zM34 64h1v1h-1zM47 64h1v1h-1zM49 64h3v1h-3zM53 64h1v1h-1zM85 64h1v1h-1zM88 64h2v1h-2zM3 65h1v1h-1zM38 65h2v1h-2zM43 65h4v1h-4zM74 65h1v1h-1zM82 65h2v1h-2zM87 65h1v1h-1zM27 66h1v1h-1zM31 66h1v1h-1zM1 67h2v1h-2zM29 67h1v1h-1zM90 67h1v1h-1zM0 68h2v1h-2zM90 68h1v1h-1zM1 69h1v1h-1zM83 69h3v1h-3zM92 69h1v1h-1zM2 70h1v1h-1zM76 70h3v1h-3zM81 70h1v1h-1zM88 70h4v1h-4zM3 71h1v1h-1zM14 71h1v1h-1zM17 71h1v1h-1zM25 71h2v1h-2zM75 71h1v1h-1zM23 72h3v1h-3zM74 72h1v1h-1zM16 73h3v1h-3zM20 74h3v1h-3zM4 75h1v1h-1zM10 75h5v1h-5zM77 75h1v1h-1zM99 75h1v1h-1zM6 76h3v1h-3zM81 76h3v1h-3zM94 76h1v1h-1zM96 76h1v1h-1zM77 77h1v1h-1zM22 78h1v1h-1zM24 78h1v1h-1zM56 78h1v1h-1zM59 78h1v1h-1zM70 78h1v1h-1zM26 79h1v1h-1zM55 79h1v1h-1zM62 79h4v1h-4zM68 79h1v1h-1zM26 82h1v1h-1zM78 83h1v1h-1zM98 84h1v1h-1zM53 86h1v1h-1zM27 87h1v1h-1zM53 87h1v1h-1zM27 88h1v1h-1zM53 91h1v1h-1zM26 92h1v1h-1zM52 92h1v1h-1zM79 92h1v1h-1zM26 93h1v1h-1zM26 95h1v1h-1zM53 95h1v1h-1zM78 95h1v1h-1zM53 96h1v1h-1zM51 97h1v1h-1zM26 98h1v1h-1zM26 99h1v1h-1zM50 99h1v1h-1z"/>
<path fill="#ff0000" d="M0 0h1v1h-1zM8 0h3v1h-3zM25 0h1v1h-1zM13 1h2v1h-2zM23 1h1v1h-1zM0 2h1v1h-1zM4 2h1v1h-1zM12 2h1v1h-1zM3 3h1v1h-1zM5 3h3v1h-3zM10 3h2v1h-2zM0 4h1v1h-1zM3 4h1v1h-1zM10 4h2v1h-2zM3 5h1v1h-1zM22 5h3v1h-3zM4 7h1v1h-1zM14 7h1v1h-1zM15 8h2v1h-2zM15 9h2v1h-2zM5 10h1v1h-1zM16 10h2v1h-2zM17 11h1v1h-1zM19 12h1v1h-1zM7 13h1v1h-1zM19 13h2v1h-2zM20 14h2v1h-2zM22 15h1v1h-1zM4 16h1v1h-1zM7 16h1v1h-1zM24 16h1v1h-1zM4 17h3v1h-3zM26 17h1v1h-1zM5 18h2v1h-2zM25 18h1v1h-1zM7 19h1v1h-1zM24 19h1v1h-1zM8 20h1v1h-1zM12 21h1v1h-1zM10 23h1v1h-1zM15 23h2v1h-2zM6 24h6v1h-6zM13 24h4v1h-4zM14 25h3v1h-3zM25 25h1v1h-1zM33 25h1v1h-1zM4 26h1v1h-1zM23 26h1v1h-1zM30 26h1v1h-1zM37 26h1v1h-1zM43 26h3v1h-3zM79 26h1v1h-1zM97 26h1v1h-1zM2 27h1v1h-1zM28 27h1v1h-1zM50 27h1v1h-1zM87 27h1v1h-1zM92 27h2v1h-2zM3 28h1v1h-1zM22 28h1v1h-1zM54 28h1v1h-1zM90 28h1v1h-1zM5 29h1v1h-1zM15 29h4v1h-4zM22 29h1v1h-1zM75 29h1v1h-1zM12 30h3v1h-3zM18 30h3v1h-3zM26 30h1v1h-1zM76 30h1v1h-1zM56 31h1v1h-1zM76 31h1v1h-1zM55 32h1v1h-1zM77 32h1v1h-1zM53 34h1v1h-1zM92 34h2v1h-2zM95 34h1v1h-1zM27 35h1v1h-1zM53 35h1v1h-1zM77 35h1v1h-1zM77 36h1v1h-1zM53 38h1v1h-1zM77 38h1v1h-1zM53 39h1v1h-1zM27 41h1v1h-1zM53 41h1v1h-1zM77 41h1v1h-1zM92 41h3v1h-3zM27 42h1v1h-1zM53 42h1v1h-1zM97 43h2v1h-2zM53 45h1v1h-1zM26 46h1v1h-1zM54 46h1v1h-1zM77 46h1v1h-1zM95 46h1v1h-1zM98 48h1v1h-1zM90 49h4v1h-4zM90 50h2v1h-2zM98 50h1v1h-1zM54 51h1v1h-1zM87 51h3v1h-3zM98 51h1v1h-1zM56 52h1v1h-1zM88 52h1v1h-1zM62 53h3v1h-3zM66 53h2v1h-2zM89 53h1v1h-1zM26 58h1v1h-1zM3 59h4v1h-4zM10 59h4v1h-4zM21 59h2v1h-2zM26 59h1v1h-1zM13 60h1v1h-1zM15 60h1v1h-1zM21 60h1v1h-1zM26 60h1v1h-1zM72 60h1v1h-1zM79 60h2v1h-2zM84 60h1v1h-1zM19 61h2v1h-2zM29 61h4v1h-4zM34 61h1v1h-1zM36 61h1v1h-1zM70 61h1v1h-1zM2 62h1v1h-1zM16 62h1v1h-1zM69 62h1v1h-1zM1 63h1v1h-1zM20 63h1v1h-1zM22 63h1v1h-1zM55 63h1v1h-1zM70 63h1v1h-1zM3 64h1v1h-1zM21 64h4v1h-4zM35 64h1v1h-1zM82 64h1v1h-1zM90 64h1v1h-1zM21 65h1v1h-1zM24 65h3v1h-3zM36 65h2v1h-2zM40 65h1v1h-1zM42 65h1v1h-1zM48 65h3v1h-3zM52 65h2v1h-2zM73 65h1v1h-1zM75 65h1v1h-1zM81 65h1v1h-1zM84 65h3v1h-3zM88 65h1v1h-1zM90 65h1v1h-1zM4 66h1v1h-1zM25 66h1v1h-1zM44 66h1v1h-1zM50 66h4v1h-4zM26 67h3v1h-3zM30 67h1v1h-1zM74 67h2v1h-2zM19 68h1v1h-1zM89 68h1v1h-1zM14 69h1v1h-1zM16 69h2v1h-2zM28 69h3v1h-3zM81 69h2v1h-2zM87 69h1v1h-1zM90 69h2v1h-2zM3 70h2v1h-2zM15 70h3v1h-3zM26 70h1v1h-1zM75 70h1v1h-1zM4 71h1v1h-1zM13 71h1v1h-1zM15 71h2v1h-2zM18 71h1v1h-1zM23 71h2v1h-2zM73 71h2v1h-2zM14 72h1v1h-1zM18 72h2v1h-2zM21 72h2v1h-2zM26 72h1v1h-1zM47 72h1v1h-1zM73 72h1v1h-1zM15 73h1v1h-1zM19 73h2v1h-2zM25 73h1v1h-1zM43 73h1v1h-1zM75 73h1v1h-1zM16 74h4v1h-4zM24 74h1v1h-1zM9 75h1v1h-1zM26 75h1v1h-1zM44 75h1v1h-1zM76 75h1v1h-1zM27 76h1v1h-1zM40 76h3v1h-3zM78 76h3v1h-3zM95 76h1v1h-1zM26 77h1v1h-1zM56 77h2v1h-2zM90 77h3v1h-3zM97 77h1v1h-1zM25 78h1v1h-1zM60 78h1v1h-1zM67 78h3v1h-3zM77 78h1v1h-1zM66 79h2v1h-2zM26 80h1v1h-1zM97 84h1v1h-1zM99 84h1v1h-1zM27 86h1v1h-1zM53 88h1v1h-1zM28 89h1v1h-1zM27 90h1v1h-1zM79 90h1v1h-1zM26 91h1v1h-1zM79 91h1v1h-1zM51 93h1v1h-1zM79 93h1v1h-1zM51 94h1v1h-1zM78 96h1v1h-1zM26 97h1v1h-1zM50 98h1v1h-1z"/>
<path fill="#ff0b00" d="M5 0h1v1h-1zM7 0h1v1h-1zM11 0h2v1h-2zM21 0h1v1h-1zM5 1h1v1h-1zM9 1h1v1h-1zM12 1h1v1h-1zM5 2h1v1h-1zM8 2h4v1h-4zM4 3h1v1h-1zM8 3h2v1h-2zM4 4h1v1h-1zM11 5h1v1h-1zM4 6h1v1h-1zM13 7h1v1h-1zM4 8h1v1h-1zM4 9h1v1h-1zM15 10h1v1h-1zM6 11h1v1h-1zM16 11h1v1h-1zM6 12h1v1h-1zM17 12h2v1h-2zM19 14h1v1h-1zM8 15h1v1h-1zM8 16h1v1h-1zM22 16h1v1h-1zM25 16h1v1h-1zM7 17h1v1h-1zM7 18h1v1h-1zM8 19h1v1h-1zM9 20h1v1h-1zM13 21h1v1h-1zM14 22h1v1h-1zM25 23h1v1h-1zM25 24h1v1h-1zM4 25h1v1h-1zM12 25h2v1h-2zM24 25h1v1h-1zM31 26h1v1h-1zM80 26h1v1h-1zM84 26h1v1h-1zM22 27h1v1h-1zM41 27h1v1h-1zM47 27h2v1h-2zM86 27h1v1h-1zM94 27h2v1h-2zM99 27h1v1h-1zM4 28h1v1h-1zM21 28h1v1h-1zM27 28h1v1h-1zM53 28h1v1h-1zM88 28h2v1h-2zM91 28h1v1h-1zM6 29h5v1h-5zM14 29h1v1h-1zM19 29h1v1h-1zM21 29h1v1h-1zM76 29h1v1h-1zM94 29h1v1h-1zM55 30h1v1h-1zM93 30h1v1h-1zM26 32h1v1h-1zM27 33h1v1h-1zM93 33h2v1h-2zM94 34h1v1h-1zM96 34h1v1h-1zM98 34h2v1h-2zM53 36h1v1h-1zM27 37h1v1h-1zM53 37h1v1h-1zM27 38h1v1h-1zM27 40h1v1h-1zM97 42h2v1h-2zM53 43h1v1h-1zM94 43h1v1h-1zM99 43h1v1h-1zM78 44h1v1h-1zM91 44h1v1h-1zM27 45h1v1h-1zM91 45h1v1h-1zM94 46h1v1h-1zM96 46h2v1h-2zM99 46h1v1h-1zM26 47h1v1h-1zM94 47h2v1h-2zM27 48h1v1h-1zM77 48h1v1h-1zM90 48h2v1h-2zM93 48h1v1h-1zM96 48h2v1h-2zM99 48h1v1h-1zM78 50h1v1h-1zM87 50h3v1h-3zM92 50h1v1h-1zM97 50h1v1h-1zM91 51h1v1h-1zM89 52h1v1h-1zM91 52h2v1h-2zM26 53h1v1h-1zM58 53h4v1h-4zM65 53h1v1h-1zM68 53h1v1h-1zM87 53h2v1h-2zM91 53h3v1h-3zM26 54h1v1h-1zM4 60h1v1h-1zM6 60h1v1h-1zM8 60h1v1h-1zM11 60h1v1h-1zM45 60h2v1h-2zM71 60h1v1h-1zM92 60h2v1h-2zM97 60h3v1h-3zM4 61h1v1h-1zM14 61h2v1h-2zM33 61h1v1h-1zM35 61h1v1h-1zM54 61h1v1h-1zM3 62h1v1h-1zM56 62h1v1h-1zM2 63h1v1h-1zM19 63h1v1h-1zM20 64h1v1h-1zM54 64h1v1h-1zM75 64h1v1h-1zM81 64h1v1h-1zM4 65h1v1h-1zM22 65h2v1h-2zM34 65h1v1h-1zM41 65h1v1h-1zM47 65h1v1h-1zM51 65h1v1h-1zM72 65h1v1h-1zM76 65h2v1h-2zM89 65h1v1h-1zM18 66h2v1h-2zM21 66h4v1h-4zM26 66h1v1h-1zM32 66h1v1h-1zM43 66h1v1h-1zM45 66h2v1h-2zM48 66h2v1h-2zM82 66h1v1h-1zM90 66h1v1h-1zM3 67h1v1h-1zM14 67h2v1h-2zM22 67h1v1h-1zM25 67h1v1h-1zM31 67h1v1h-1zM44 67h1v1h-1zM47 67h2v1h-2zM73 67h1v1h-1zM76 67h1v1h-1zM87 67h3v1h-3zM14 68h3v1h-3zM18 68h1v1h-1zM20 68h2v1h-2zM29 68h2v1h-2zM81 68h2v1h-2zM84 68h4v1h-4zM2 69h1v1h-1zM13 69h1v1h-1zM15 69h1v1h-1zM20 69h2v1h-2zM26 69h2v1h-2zM31 69h1v1h-1zM76 69h2v1h-2zM79 69h2v1h-2zM89 69h1v1h-1zM14 70h1v1h-1zM25 70h1v1h-1zM28 70h3v1h-3zM73 70h2v1h-2zM6 71h3v1h-3zM12 71h1v1h-1zM19 71h4v1h-4zM27 71h3v1h-3zM5 72h1v1h-1zM11 72h3v1h-3zM15 72h3v1h-3zM20 72h1v1h-1zM27 72h3v1h-3zM36 72h1v1h-1zM48 72h1v1h-1zM52 72h2v1h-2zM4 73h1v1h-1zM21 73h2v1h-2zM40 73h3v1h-3zM3 74h1v1h-1zM14 74h2v1h-2zM46 74h2v1h-2zM5 75h1v1h-1zM42 75h2v1h-2zM45 75h3v1h-3zM43 76h3v1h-3zM50 76h1v1h-1zM52 76h2v1h-2zM55 77h1v1h-1zM58 77h1v1h-1zM76 77h1v1h-1zM78 77h1v1h-1zM88 77h2v1h-2zM93 77h1v1h-1zM98 77h2v1h-2zM26 78h1v1h-1zM55 78h1v1h-1zM61 78h2v1h-2zM90 78h2v1h-2zM98 78h1v1h-1zM26 81h1v1h-1zM99 87h1v1h-1zM92 89h1v1h-1zM52 90h1v1h-1zM90 93h2v1h-2zM26 94h1v1h-1zM26 96h1v1h-1zM52 96h1v1h-1zM78 97h1v1h-1zM78 98h1v1h-1zM49 99h1v1h-1z"/>
<path fill="#ff1500" d="M22 0h1v1h-1zM24 0h1v1h-1zM6 1h3v1h-3zM10 1h2v1h-2zM6 2h2v1h-2zM9 4h1v1h-1zM4 5h1v1h-1zM12 6h1v1h-1zM14 8h1v1h-1zM18 13h1v1h-1zM8 14h1v1h-1zM20 15h2v1h-2zM8 17h1v1h-1zM24 17h2v1h-2zM8 18h1v1h-1zM24 18h1v1h-1zM10 20h1v1h-1zM24 20h1v1h-1zM24 21h1v1h-1zM25 22h1v1h-1zM17 23h1v1h-1zM17 24h1v1h-1zM5 25h3v1h-3zM9 25h1v1h-1zM11 25h1v1h-1zM23 25h1v1h-1zM22 26h1v1h-1zM36 26h1v1h-1zM3 27h2v1h-2zM29 27h1v1h-1zM42 27h1v1h-1zM49 27h1v1h-1zM79 27h1v1h-1zM96 27h2v1h-2zM5 28h3v1h-3zM16 28h3v1h-3zM52 28h1v1h-1zM77 28h1v1h-1zM87 28h1v1h-1zM92 28h2v1h-2zM99 28h1v1h-1zM11 29h1v1h-1zM13 29h1v1h-1zM20 29h1v1h-1zM55 29h1v1h-1zM92 29h2v1h-2zM99 29h1v1h-1zM92 30h1v1h-1zM94 30h1v1h-1zM26 31h1v1h-1zM93 31h2v1h-2zM54 33h1v1h-1zM92 33h1v1h-1zM95 33h1v1h-1zM91 34h1v1h-1zM97 34h1v1h-1zM93 35h1v1h-1zM99 35h1v1h-1zM77 37h1v1h-1zM27 39h1v1h-1zM78 39h1v1h-1zM91 41h1v1h-1zM95 41h1v1h-1zM98 41h2v1h-2zM92 42h5v1h-5zM99 42h1v1h-1zM92 43h2v1h-2zM95 43h2v1h-2zM28 44h1v1h-1zM53 44h1v1h-1zM90 44h1v1h-1zM92 44h4v1h-4zM97 44h3v1h-3zM78 45h1v1h-1zM90 45h1v1h-1zM92 45h1v1h-1zM99 45h1v1h-1zM27 46h1v1h-1zM98 46h1v1h-1zM54 47h1v1h-1zM77 47h1v1h-1zM96 47h3v1h-3zM54 48h1v1h-1zM92 48h1v1h-1zM28 49h1v1h-1zM78 49h1v1h-1zM88 49h2v1h-2zM96 50h1v1h-1zM29 51h1v1h-1zM90 51h1v1h-1zM92 51h2v1h-2zM97 51h1v1h-1zM27 52h1v1h-1zM77 52h1v1h-1zM86 52h1v1h-1zM90 52h1v1h-1zM93 52h1v1h-1zM97 52h2v1h-2zM57 53h1v1h-1zM69 53h3v1h-3zM74 53h2v1h-2zM97 53h2v1h-2zM26 55h1v1h-1zM27 58h1v1h-1zM27 59h1v1h-1zM5 60h1v1h-1zM7 60h1v1h-1zM9 60h2v1h-2zM12 60h1v1h-1zM27 60h1v1h-1zM40 60h5v1h-5zM47 60h2v1h-2zM94 60h3v1h-3zM5 61h3v1h-3zM10 61h1v1h-1zM13 61h1v1h-1zM55 61h1v1h-1zM69 61h1v1h-1zM3 63h1v1h-1zM17 63h2v1h-2zM56 63h1v1h-1zM69 63h1v1h-1zM17 64h1v1h-1zM19 64h1v1h-1zM71 64h4v1h-4zM76 64h3v1h-3zM5 65h7v1h-7zM13 65h3v1h-3zM17 65h4v1h-4zM35 65h1v1h-1zM54 65h1v1h-1zM71 65h1v1h-1zM80 65h1v1h-1zM5 66h2v1h-2zM11 66h1v1h-1zM14 66h2v1h-2zM17 66h1v1h-1zM20 66h1v1h-1zM42 66h1v1h-1zM47 66h1v1h-1zM73 66h2v1h-2zM83 66h6v1h-6zM13 67h1v1h-1zM16 67h6v1h-6zM45 67h2v1h-2zM49 67h4v1h-4zM72 67h1v1h-1zM77 67h1v1h-1zM2 68h1v1h-1zM13 68h1v1h-1zM17 68h1v1h-1zM22 68h1v1h-1zM26 68h1v1h-1zM31 68h1v1h-1zM50 68h1v1h-1zM72 68h1v1h-1zM80 68h1v1h-1zM83 68h1v1h-1zM88 68h1v1h-1zM3 69h1v1h-1zM6 69h3v1h-3zM18 69h2v1h-2zM22 69h1v1h-1zM25 69h1v1h-1zM32 69h1v1h-1zM44 69h1v1h-1zM72 69h1v1h-1zM75 69h1v1h-1zM78 69h1v1h-1zM88 69h1v1h-1zM5 70h2v1h-2zM13 70h1v1h-1zM18 70h1v1h-1zM23 70h2v1h-2zM27 70h1v1h-1zM31 70h4v1h-4zM5 71h1v1h-1zM9 71h3v1h-3zM30 71h1v1h-1zM32 71h2v1h-2zM36 71h3v1h-3zM47 71h3v1h-3zM72 71h1v1h-1zM30 72h6v1h-6zM37 72h2v1h-2zM41 72h6v1h-6zM49 72h3v1h-3zM72 72h1v1h-1zM5 73h1v1h-1zM13 73h2v1h-2zM26 73h1v1h-1zM39 73h1v1h-1zM44 73h1v1h-1zM47 73h1v1h-1zM12 74h2v1h-2zM25 74h1v1h-1zM41 74h3v1h-3zM48 74h1v1h-1zM75 74h1v1h-1zM6 75h3v1h-3zM41 75h1v1h-1zM48 75h6v1h-6zM28 76h1v1h-1zM38 76h2v1h-2zM46 76h2v1h-2zM49 76h1v1h-1zM51 76h1v1h-1zM54 76h2v1h-2zM76 76h1v1h-1zM59 77h1v1h-1zM72 77h1v1h-1zM74 77h2v1h-2zM87 77h1v1h-1zM94 77h1v1h-1zM96 77h1v1h-1zM63 78h1v1h-1zM65 78h1v1h-1zM89 78h1v1h-1zM92 78h2v1h-2zM97 78h1v1h-1zM53 82h1v1h-1zM98 83h1v1h-1zM93 84h4v1h-4zM97 85h1v1h-1zM98 87h1v1h-1zM92 88h1v1h-1zM94 88h3v1h-3zM99 88h1v1h-1zM52 89h1v1h-1zM79 89h1v1h-1zM93 89h5v1h-5zM99 89h1v1h-1zM92 90h2v1h-2zM52 91h1v1h-1zM27 92h1v1h-1zM51 92h1v1h-1zM27 93h1v1h-1zM92 93h1v1h-1zM52 95h1v1h-1zM50 97h1v1h-1zM90 98h2v1h-2zM89 99h1v1h-1z"/>
<path fill="#ff2000" d="M6 0h1v1h-1zM23 0h1v1h-1zM8 4h1v1h-1zM14 9h1v1h-1zM14 10h1v1h-1zM15 11h1v1h-1zM16 12h1v1h-1zM17 13h1v1h-1zM18 14h1v1h-1zM19 15h1v1h-1zM21 16h1v1h-1zM22 17h2v1h-2zM9 18h1v1h-1zM23 18h1v1h-1zM23 19h1v1h-1zM11 20h1v1h-1zM15 22h1v1h-1zM24 24h1v1h-1zM8 25h1v1h-1zM10 25h1v1h-1zM17 25h1v1h-1zM21 25h2v1h-2zM5 26h4v1h-4zM32 26h1v1h-1zM34 26h2v1h-2zM81 26h1v1h-1zM83 26h1v1h-1zM38 27h3v1h-3zM43 27h2v1h-2zM85 27h1v1h-1zM98 27h1v1h-1zM15 28h1v1h-1zM19 28h2v1h-2zM51 28h1v1h-1zM94 28h1v1h-1zM96 28h1v1h-1zM98 28h1v1h-1zM12 29h1v1h-1zM27 29h1v1h-1zM77 29h1v1h-1zM91 29h1v1h-1zM95 29h2v1h-2zM77 30h1v1h-1zM91 30h1v1h-1zM55 31h1v1h-1zM91 31h2v1h-2zM95 31h1v1h-1zM92 32h3v1h-3zM96 33h1v1h-1zM78 34h1v1h-1zM92 35h1v1h-1zM94 35h2v1h-2zM93 36h2v1h-2zM78 38h1v1h-1zM99 39h1v1h-1zM78 40h1v1h-1zM92 40h2v1h-2zM96 41h2v1h-2zM78 42h1v1h-1zM91 42h1v1h-1zM91 43h1v1h-1zM96 44h1v1h-1zM93 45h1v1h-1zM95 45h1v1h-1zM98 45h1v1h-1zM90 46h4v1h-4zM90 47h1v1h-1zM93 47h1v1h-1zM99 47h1v1h-1zM89 48h1v1h-1zM87 49h1v1h-1zM93 50h3v1h-3zM78 51h1v1h-1zM86 51h1v1h-1zM94 51h1v1h-1zM28 52h1v1h-1zM55 52h1v1h-1zM99 52h1v1h-1zM72 53h2v1h-2zM76 53h1v1h-1zM94 53h1v1h-1zM27 54h1v1h-1zM27 56h1v1h-1zM27 57h1v1h-1zM97 59h2v1h-2zM38 60h2v1h-2zM49 60h1v1h-1zM70 60h1v1h-1zM8 61h2v1h-2zM11 61h2v1h-2zM4 62h1v1h-1zM15 62h1v1h-1zM68 62h1v1h-1zM4 64h3v1h-3zM8 64h2v1h-2zM13 64h1v1h-1zM16 64h1v1h-1zM18 64h1v1h-1zM69 64h1v1h-1zM79 64h2v1h-2zM12 65h1v1h-1zM16 65h1v1h-1zM78 65h2v1h-2zM7 66h4v1h-4zM12 66h2v1h-2zM16 66h1v1h-1zM40 66h2v1h-2zM54 66h1v1h-1zM72 66h1v1h-1zM75 66h1v1h-1zM89 66h1v1h-1zM4 67h2v1h-2zM11 67h2v1h-2zM23 67h2v1h-2zM32 67h1v1h-1zM40 67h4v1h-4zM53 67h1v1h-1zM80 67h3v1h-3zM85 67h2v1h-2zM5 68h2v1h-2zM12 68h1v1h-1zM23 68h3v1h-3zM27 68h2v1h-2zM32 68h1v1h-1zM44 68h4v1h-4zM49 68h1v1h-1zM51 68h1v1h-1zM73 68h1v1h-1zM76 68h2v1h-2zM79 68h1v1h-1zM4 69h2v1h-2zM9 69h1v1h-1zM12 69h1v1h-1zM23 69h2v1h-2zM33 69h1v1h-1zM37 69h1v1h-1zM42 69h2v1h-2zM45 69h5v1h-5zM71 69h1v1h-1zM73 69h2v1h-2zM7 70h2v1h-2zM11 70h2v1h-2zM19 70h4v1h-4zM36 70h3v1h-3zM42 70h1v1h-1zM44 70h1v1h-1zM72 70h1v1h-1zM31 71h1v1h-1zM34 71h2v1h-2zM39 71h1v1h-1zM41 71h2v1h-2zM46 71h1v1h-1zM50 71h3v1h-3zM10 72h1v1h-1zM39 72h2v1h-2zM54 72h1v1h-1zM11 73h2v1h-2zM27 73h2v1h-2zM31 73h2v1h-2zM35 73h3v1h-3zM46 73h1v1h-1zM48 73h5v1h-5zM74 73h1v1h-1zM4 74h2v1h-2zM10 74h2v1h-2zM26 74h1v1h-1zM44 74h2v1h-2zM49 74h1v1h-1zM27 75h1v1h-1zM40 75h1v1h-1zM54 75h1v1h-1zM75 75h1v1h-1zM48 76h1v1h-1zM56 76h3v1h-3zM75 76h1v1h-1zM27 77h1v1h-1zM40 77h2v1h-2zM44 77h3v1h-3zM53 77h2v1h-2zM61 77h1v1h-1zM71 77h1v1h-1zM73 77h1v1h-1zM85 77h2v1h-2zM64 78h1v1h-1zM66 78h1v1h-1zM88 78h1v1h-1zM94 78h1v1h-1zM96 78h1v1h-1zM99 78h1v1h-1zM27 79h1v1h-1zM98 79h1v1h-1zM54 81h1v1h-1zM99 81h1v1h-1zM27 82h1v1h-1zM97 82h3v1h-3zM27 83h1v1h-1zM52 83h1v1h-1zM96 83h2v1h-2zM99 83h1v1h-1zM27 84h1v1h-1zM27 85h1v1h-1zM98 85h1v1h-1zM96 87h2v1h-2zM28 88h1v1h-1zM91 88h1v1h-1zM93 88h1v1h-1zM97 88h2v1h-2zM91 89h1v1h-1zM98 89h1v1h-1zM28 90h1v1h-1zM94 90h1v1h-1zM27 91h1v1h-1zM91 91h2v1h-2zM80 92h1v1h-1zM91 92h2v1h-2zM93 93h1v1h-1zM79 94h1v1h-1zM51 95h1v1h-1zM51 96h1v1h-1zM27 98h1v1h-1zM49 98h1v1h-1zM89 98h1v1h-1zM27 99h1v1h-1zM79 99h1v1h-1zM88 99h1v1h-1zM90 99h1v1h-1z"/>
<path fill="#ff2b00" d="M5 4h3v1h-3zM10 5h1v1h-1zM5 6h1v1h-1zM5 7h1v1h-1zM5 8h1v1h-1zM5 9h1v1h-1zM6 10h1v1h-1zM7 12h1v1h-1zM8 13h1v1h-1zM16 13h1v1h-1zM9 16h1v1h-1zM9 17h1v1h-1zM22 18h1v1h-1zM9 19h1v1h-1zM12 20h1v1h-1zM14 21h1v1h-1zM16 22h1v1h-1zM24 23h1v1h-1zM23 24h1v1h-1zM18 25h3v1h-3zM9 26h1v1h-1zM21 26h1v1h-1zM33 26h1v1h-1zM82 26h1v1h-1zM5 27h1v1h-1zM21 27h1v1h-1zM30 27h1v1h-1zM37 27h1v1h-1zM45 27h2v1h-2zM8 28h4v1h-4zM14 28h1v1h-1zM78 28h1v1h-1zM95 28h1v1h-1zM97 28h1v1h-1zM90 29h1v1h-1zM98 29h1v1h-1zM99 30h1v1h-1zM77 31h1v1h-1zM95 32h1v1h-1zM78 33h1v1h-1zM99 33h1v1h-1zM52 34h1v1h-1zM90 34h1v1h-1zM52 35h1v1h-1zM91 35h1v1h-1zM96 35h1v1h-1zM98 35h1v1h-1zM99 36h1v1h-1zM52 38h1v1h-1zM98 39h1v1h-1zM91 40h1v1h-1zM94 40h1v1h-1zM97 40h3v1h-3zM28 41h1v1h-1zM78 41h1v1h-1zM28 43h1v1h-1zM78 43h1v1h-1zM90 43h1v1h-1zM94 45h1v1h-1zM97 45h1v1h-1zM53 46h1v1h-1zM78 46h1v1h-1zM27 47h1v1h-1zM91 47h2v1h-2zM88 48h1v1h-1zM95 51h2v1h-2zM85 52h1v1h-1zM95 52h2v1h-2zM27 53h1v1h-1zM86 53h1v1h-1zM95 53h2v1h-2zM28 54h1v1h-1zM64 54h1v1h-1zM90 54h1v1h-1zM27 55h2v1h-2zM28 58h1v1h-1zM76 59h1v1h-1zM90 59h1v1h-1zM28 60h1v1h-1zM51 60h3v1h-3zM68 61h1v1h-1zM5 62h2v1h-2zM9 62h2v1h-2zM14 62h1v1h-1zM57 62h1v1h-1zM65 62h3v1h-3zM4 63h3v1h-3zM16 63h1v1h-1zM57 63h1v1h-1zM7 64h1v1h-1zM12 64h1v1h-1zM14 64h2v1h-2zM55 64h1v1h-1zM70 64h1v1h-1zM55 65h1v1h-1zM69 65h2v1h-2zM33 66h1v1h-1zM38 66h2v1h-2zM55 66h2v1h-2zM71 66h1v1h-1zM76 66h2v1h-2zM81 66h1v1h-1zM6 67h1v1h-1zM10 67h1v1h-1zM78 67h2v1h-2zM83 67h2v1h-2zM3 68h1v1h-1zM7 68h3v1h-3zM11 68h1v1h-1zM48 68h1v1h-1zM52 68h2v1h-2zM74 68h2v1h-2zM78 68h1v1h-1zM10 69h2v1h-2zM36 69h1v1h-1zM38 69h1v1h-1zM41 69h1v1h-1zM50 69h3v1h-3zM70 69h1v1h-1zM9 70h2v1h-2zM35 70h1v1h-1zM41 70h1v1h-1zM43 70h1v1h-1zM46 70h7v1h-7zM71 70h1v1h-1zM40 71h1v1h-1zM43 71h3v1h-3zM53 71h1v1h-1zM71 71h1v1h-1zM6 72h4v1h-4zM71 72h1v1h-1zM29 73h2v1h-2zM33 73h2v1h-2zM38 73h1v1h-1zM45 73h1v1h-1zM53 73h1v1h-1zM6 74h1v1h-1zM40 74h1v1h-1zM50 74h4v1h-4zM38 75h2v1h-2zM74 75h1v1h-1zM29 76h1v1h-1zM37 76h1v1h-1zM59 76h1v1h-1zM74 76h1v1h-1zM38 77h2v1h-2zM42 77h2v1h-2zM47 77h1v1h-1zM52 77h1v1h-1zM60 77h1v1h-1zM79 77h1v1h-1zM81 77h1v1h-1zM95 77h1v1h-1zM54 78h1v1h-1zM78 78h1v1h-1zM95 78h1v1h-1zM94 79h4v1h-4zM54 80h1v1h-1zM97 81h2v1h-2zM78 82h1v1h-1zM95 82h2v1h-2zM52 84h1v1h-1zM95 85h2v1h-2zM28 87h1v1h-1zM94 87h2v1h-2zM90 88h1v1h-1zM90 89h1v1h-1zM91 90h1v1h-1zM95 90h1v1h-1zM97 90h1v1h-1zM93 91h2v1h-2zM90 92h1v1h-1zM93 92h1v1h-1zM80 93h1v1h-1zM89 93h1v1h-1zM27 94h1v1h-1zM50 94h1v1h-1zM27 95h1v1h-1zM79 95h1v1h-1zM90 95h1v1h-1zM27 96h1v1h-1zM27 97h1v1h-1zM49 97h1v1h-1zM89 97h2v1h-2zM48 98h1v1h-1zM92 98h1v1h-1zM48 99h1v1h-1zM91 99h1v1h-1z"/>
<path fill="#ff3500" d="M5 5h1v1h-1zM12 7h1v1h-1zM7 11h1v1h-1zM18 15h1v1h-1zM19 16h2v1h-2zM21 17h1v1h-1zM10 19h1v1h-1zM22 19h1v1h-1zM23 20h1v1h-1zM23 21h1v1h-1zM24 22h1v1h-1zM18 24h1v1h-1zM22 24h1v1h-1zM10 26h2v1h-2zM15 26h3v1h-3zM6 27h3v1h-3zM16 27h2v1h-2zM80 27h1v1h-1zM84 27h1v1h-1zM12 28h2v1h-2zM41 28h2v1h-2zM86 28h1v1h-1zM54 29h1v1h-1zM89 29h1v1h-1zM97 29h1v1h-1zM27 30h1v1h-1zM54 30h1v1h-1zM90 30h1v1h-1zM95 30h1v1h-1zM27 31h1v1h-1zM90 31h1v1h-1zM96 31h1v1h-1zM27 32h1v1h-1zM54 32h1v1h-1zM78 32h1v1h-1zM96 32h1v1h-1zM53 33h1v1h-1zM91 33h1v1h-1zM97 33h2v1h-2zM78 35h1v1h-1zM90 35h1v1h-1zM78 36h1v1h-1zM92 36h1v1h-1zM52 37h1v1h-1zM78 37h1v1h-1zM93 37h2v1h-2zM99 37h1v1h-1zM93 38h1v1h-1zM97 38h1v1h-1zM92 39h2v1h-2zM97 39h1v1h-1zM52 40h1v1h-1zM95 40h2v1h-2zM52 41h1v1h-1zM90 41h1v1h-1zM28 42h1v1h-1zM89 44h1v1h-1zM28 45h1v1h-1zM89 45h1v1h-1zM96 45h1v1h-1zM89 46h1v1h-1zM89 47h1v1h-1zM78 48h1v1h-1zM53 49h1v1h-1zM29 50h1v1h-1zM53 50h1v1h-1zM86 50h1v1h-1zM29 52h1v1h-1zM37 52h1v1h-1zM54 52h1v1h-1zM94 52h1v1h-1zM37 53h1v1h-1zM77 53h1v1h-1zM84 53h2v1h-2zM99 53h1v1h-1zM29 54h2v1h-2zM32 54h1v1h-1zM58 54h1v1h-1zM61 54h3v1h-3zM87 54h3v1h-3zM92 54h3v1h-3zM97 54h2v1h-2zM62 55h1v1h-1zM97 55h2v1h-2zM28 56h1v1h-1zM92 56h1v1h-1zM98 56h1v1h-1zM28 57h1v1h-1zM28 59h1v1h-1zM42 59h1v1h-1zM73 59h3v1h-3zM77 59h1v1h-1zM85 59h3v1h-3zM91 59h1v1h-1zM96 59h1v1h-1zM99 59h1v1h-1zM29 60h4v1h-4zM37 60h1v1h-1zM50 60h1v1h-1zM69 60h1v1h-1zM56 61h1v1h-1zM7 62h2v1h-2zM11 62h1v1h-1zM13 62h1v1h-1zM7 63h1v1h-1zM13 63h1v1h-1zM15 63h1v1h-1zM68 63h1v1h-1zM10 64h2v1h-2zM68 64h1v1h-1zM56 65h1v1h-1zM68 65h1v1h-1zM34 66h4v1h-4zM57 66h1v1h-1zM70 66h1v1h-1zM80 66h1v1h-1zM7 67h1v1h-1zM9 67h1v1h-1zM38 67h2v1h-2zM54 67h2v1h-2zM71 67h1v1h-1zM4 68h1v1h-1zM10 68h1v1h-1zM36 68h2v1h-2zM40 68h4v1h-4zM71 68h1v1h-1zM34 69h2v1h-2zM39 69h2v1h-2zM39 70h2v1h-2zM45 70h1v1h-1zM70 70h1v1h-1zM55 72h1v1h-1zM6 73h3v1h-3zM10 73h1v1h-1zM54 73h1v1h-1zM72 73h2v1h-2zM9 74h1v1h-1zM27 74h1v1h-1zM39 74h1v1h-1zM54 74h1v1h-1zM74 74h1v1h-1zM28 75h1v1h-1zM55 75h1v1h-1zM73 75h1v1h-1zM30 76h2v1h-2zM60 76h2v1h-2zM72 76h2v1h-2zM37 77h1v1h-1zM48 77h2v1h-2zM62 77h1v1h-1zM67 77h4v1h-4zM80 77h1v1h-1zM82 77h1v1h-1zM84 77h1v1h-1zM27 78h1v1h-1zM87 78h1v1h-1zM54 79h1v1h-1zM78 79h1v1h-1zM90 79h4v1h-4zM99 79h1v1h-1zM27 80h1v1h-1zM78 80h1v1h-1zM99 80h1v1h-1zM27 81h1v1h-1zM78 81h1v1h-1zM92 81h1v1h-1zM95 81h2v1h-2zM92 82h3v1h-3zM92 83h4v1h-4zM92 84h1v1h-1zM52 85h1v1h-1zM93 85h2v1h-2zM99 85h1v1h-1zM28 86h1v1h-1zM95 86h1v1h-1zM97 86h2v1h-2zM91 87h3v1h-3zM52 88h1v1h-1zM79 88h1v1h-1zM29 89h1v1h-1zM51 90h1v1h-1zM80 90h1v1h-1zM96 90h1v1h-1zM98 90h2v1h-2zM51 91h1v1h-1zM80 91h1v1h-1zM90 91h1v1h-1zM95 91h1v1h-1zM97 91h3v1h-3zM28 92h1v1h-1zM50 92h1v1h-1zM94 92h1v1h-1zM28 93h1v1h-1zM50 93h1v1h-1zM94 93h1v1h-1zM90 94h2v1h-2zM50 95h1v1h-1zM89 95h1v1h-1zM91 95h1v1h-1zM50 96h1v1h-1zM79 96h1v1h-1zM90 96h2v1h-2zM47 98h1v1h-1zM79 98h1v1h-1zM88 98h1v1h-1zM46 99h2v1h-2zM87 99h1v1h-1zM92 99h1v1h-1z"/>
<path fill="#ff4000" d="M11 6h1v1h-1zM13 8h1v1h-1zM15 12h1v1h-1zM17 14h1v1h-1zM9 15h1v1h-1zM10 18h1v1h-1zM21 18h1v1h-1zM13 20h1v1h-1zM18 23h1v1h-1zM21 24h1v1h-1zM12 26h1v1h-1zM14 26h1v1h-1zM18 26h3v1h-3zM9 27h1v1h-1zM11 27h1v1h-1zM14 27h2v1h-2zM18 27h2v1h-2zM36 27h1v1h-1zM40 28h1v1h-1zM43 28h3v1h-3zM50 28h1v1h-1zM98 30h1v1h-1zM97 31h1v1h-1zM91 32h1v1h-1zM97 32h1v1h-1zM99 32h1v1h-1zM97 35h1v1h-1zM52 36h1v1h-1zM91 36h1v1h-1zM95 36h1v1h-1zM95 37h4v1h-4zM92 38h1v1h-1zM94 38h1v1h-1zM96 38h1v1h-1zM98 38h2v1h-2zM52 39h1v1h-1zM91 39h1v1h-1zM96 39h1v1h-1zM28 40h1v1h-1zM90 42h1v1h-1zM28 48h1v1h-1zM53 51h1v1h-1zM38 52h1v1h-1zM78 52h1v1h-1zM84 52h1v1h-1zM28 53h1v1h-1zM32 53h5v1h-5zM38 53h1v1h-1zM31 54h1v1h-1zM33 54h1v1h-1zM59 54h2v1h-2zM65 54h1v1h-1zM67 54h9v1h-9zM85 54h2v1h-2zM91 54h1v1h-1zM95 54h1v1h-1zM99 54h1v1h-1zM29 55h1v1h-1zM61 55h1v1h-1zM63 55h1v1h-1zM89 55h5v1h-5zM96 55h1v1h-1zM91 56h1v1h-1zM93 56h1v1h-1zM96 56h2v1h-2zM99 56h1v1h-1zM93 57h3v1h-3zM99 57h1v1h-1zM29 59h1v1h-1zM38 59h4v1h-4zM43 59h2v1h-2zM46 59h4v1h-4zM71 59h2v1h-2zM78 59h3v1h-3zM88 59h2v1h-2zM92 59h4v1h-4zM33 60h2v1h-2zM54 60h1v1h-1zM67 61h1v1h-1zM12 62h1v1h-1zM58 62h1v1h-1zM64 62h1v1h-1zM8 63h5v1h-5zM14 63h1v1h-1zM66 63h2v1h-2zM56 64h1v1h-1zM67 64h1v1h-1zM57 65h1v1h-1zM58 66h1v1h-1zM69 66h1v1h-1zM78 66h2v1h-2zM8 67h1v1h-1zM33 67h5v1h-5zM56 67h1v1h-1zM33 68h1v1h-1zM35 68h1v1h-1zM38 68h2v1h-2zM56 68h1v1h-1zM70 68h1v1h-1zM53 69h1v1h-1zM69 69h1v1h-1zM53 70h1v1h-1zM54 71h1v1h-1zM56 71h1v1h-1zM70 71h1v1h-1zM56 72h2v1h-2zM70 72h1v1h-1zM9 73h1v1h-1zM55 73h1v1h-1zM71 73h1v1h-1zM7 74h1v1h-1zM35 74h1v1h-1zM37 74h2v1h-2zM29 75h1v1h-1zM56 75h2v1h-2zM72 75h1v1h-1zM32 76h3v1h-3zM62 76h1v1h-1zM71 76h1v1h-1zM31 77h2v1h-2zM34 77h1v1h-1zM36 77h1v1h-1zM50 77h2v1h-2zM83 77h1v1h-1zM92 80h1v1h-1zM94 80h2v1h-2zM98 80h1v1h-1zM91 81h1v1h-1zM93 81h2v1h-2zM91 82h1v1h-1zM94 86h1v1h-1zM96 86h1v1h-1zM99 86h1v1h-1zM52 87h1v1h-1zM79 87h1v1h-1zM90 87h1v1h-1zM90 90h1v1h-1zM28 91h1v1h-1zM96 91h1v1h-1zM44 92h2v1h-2zM95 92h1v1h-1zM98 92h2v1h-2zM43 93h3v1h-3zM28 94h1v1h-1zM49 94h1v1h-1zM89 94h1v1h-1zM92 95h1v1h-1zM89 96h1v1h-1zM92 96h1v1h-1zM47 97h2v1h-2zM79 97h1v1h-1zM91 97h1v1h-1zM46 98h1v1h-1zM28 99h1v1h-1zM31 99h2v1h-2zM80 99h1v1h-1zM85 99h2v1h-2z"/>
<path fill="#ff4a00" d="M9 5h1v1h-1zM6 7h1v1h-1zM6 8h1v1h-1zM6 9h1v1h-1zM13 9h1v1h-1zM14 11h1v1h-1zM18 16h1v1h-1zM20 17h1v1h-1zM11 19h1v1h-1zM21 19h1v1h-1zM22 20h1v1h-1zM15 21h1v1h-1zM17 22h1v1h-1zM23 23h1v1h-1zM19 24h2v1h-2zM13 26h1v1h-1zM10 27h1v1h-1zM12 27h2v1h-2zM20 27h1v1h-1zM31 27h1v1h-1zM47 28h3v1h-3zM88 29h1v1h-1zM89 30h1v1h-1zM96 30h2v1h-2zM54 31h1v1h-1zM98 31h2v1h-2zM98 32h1v1h-1zM28 34h1v1h-1zM28 36h1v1h-1zM96 36h1v1h-1zM98 36h1v1h-1zM92 37h1v1h-1zM28 38h1v1h-1zM91 38h1v1h-1zM95 38h1v1h-1zM90 39h1v1h-1zM94 39h2v1h-2zM90 40h1v1h-1zM52 42h1v1h-1zM89 43h1v1h-1zM52 45h1v1h-1zM28 46h1v1h-1zM53 47h1v1h-1zM78 47h1v1h-1zM87 48h1v1h-1zM79 50h1v1h-1zM30 51h1v1h-1zM36 52h1v1h-1zM29 53h3v1h-3zM39 53h1v1h-1zM56 53h1v1h-1zM34 54h2v1h-2zM57 54h1v1h-1zM66 54h1v1h-1zM84 54h1v1h-1zM96 54h1v1h-1zM60 55h1v1h-1zM88 55h1v1h-1zM94 55h2v1h-2zM99 55h1v1h-1zM29 56h1v1h-1zM94 56h2v1h-2zM29 57h1v1h-1zM91 57h2v1h-2zM96 57h3v1h-3zM29 58h1v1h-1zM42 58h2v1h-2zM45 58h3v1h-3zM70 58h4v1h-4zM30 59h1v1h-1zM45 59h1v1h-1zM70 59h1v1h-1zM81 59h4v1h-4zM35 60h2v1h-2zM55 60h1v1h-1zM66 61h1v1h-1zM63 62h1v1h-1zM58 63h1v1h-1zM64 63h2v1h-2zM66 64h1v1h-1zM67 65h1v1h-1zM70 67h1v1h-1zM34 68h1v1h-1zM54 68h2v1h-2zM69 68h1v1h-1zM68 69h1v1h-1zM54 70h1v1h-1zM68 70h2v1h-2zM55 71h1v1h-1zM57 71h1v1h-1zM58 72h1v1h-1zM70 73h1v1h-1zM8 74h1v1h-1zM28 74h7v1h-7zM36 74h1v1h-1zM55 74h1v1h-1zM73 74h1v1h-1zM30 75h1v1h-1zM37 75h1v1h-1zM58 75h1v1h-1zM35 76h2v1h-2zM30 77h1v1h-1zM33 77h1v1h-1zM35 77h1v1h-1zM63 77h2v1h-2zM66 77h1v1h-1zM53 78h1v1h-1zM89 79h1v1h-1zM91 80h1v1h-1zM93 80h1v1h-1zM96 80h2v1h-2zM91 83h1v1h-1zM91 84h1v1h-1zM92 85h1v1h-1zM52 86h1v1h-1zM79 86h1v1h-1zM44 89h1v1h-1zM51 89h1v1h-1zM44 90h1v1h-1zM43 92h1v1h-1zM49 92h1v1h-1zM81 92h1v1h-1zM89 92h1v1h-1zM97 92h1v1h-1zM29 93h1v1h-1zM40 93h3v1h-3zM48 93h2v1h-2zM81 93h1v1h-1zM88 93h1v1h-1zM43 94h1v1h-1zM48 94h1v1h-1zM80 94h1v1h-1zM88 94h1v1h-1zM92 94h1v1h-1zM49 95h1v1h-1zM88 95h1v1h-1zM49 96h1v1h-1zM88 96h1v1h-1zM88 97h1v1h-1zM92 97h1v1h-1zM28 98h1v1h-1zM45 98h1v1h-1zM80 98h1v1h-1zM87 98h1v1h-1zM93 98h1v1h-1zM33 99h7v1h-7zM45 99h1v1h-1z"/>
<path fill="#ff5500" d="M6 5h1v1h-1zM8 5h1v1h-1zM6 6h1v1h-1zM8 12h1v1h-1zM9 14h1v1h-1zM16 14h1v1h-1zM17 15h1v1h-1zM10 17h1v1h-1zM19 17h1v1h-1zM20 18h1v1h-1zM12 19h1v1h-1zM14 20h1v1h-1zM23 22h1v1h-1zM19 23h1v1h-1zM35 27h1v1h-1zM81 27h1v1h-1zM83 27h1v1h-1zM28 28h1v1h-1zM38 28h2v1h-2zM46 28h1v1h-1zM53 29h1v1h-1zM78 29h1v1h-1zM28 33h1v1h-1zM90 33h1v1h-1zM51 34h1v1h-1zM28 35h1v1h-1zM90 36h1v1h-1zM97 36h1v1h-1zM28 39h1v1h-1zM79 39h1v1h-1zM28 47h1v1h-1zM88 47h1v1h-1zM53 48h1v1h-1zM86 49h1v1h-1zM79 51h1v1h-1zM85 51h1v1h-1zM30 52h1v1h-1zM53 52h1v1h-1zM37 54h2v1h-2zM76 54h1v1h-1zM30 55h1v1h-1zM42 55h1v1h-1zM64 55h1v1h-1zM68 55h1v1h-1zM70 55h1v1h-1zM75 55h1v1h-1zM41 56h1v1h-1zM89 56h2v1h-2zM70 57h2v1h-2zM88 57h3v1h-3zM44 58h1v1h-1zM48 58h1v1h-1zM68 58h2v1h-2zM86 58h3v1h-3zM90 58h1v1h-1zM96 58h2v1h-2zM99 58h1v1h-1zM31 59h2v1h-2zM37 59h1v1h-1zM50 59h1v1h-1zM53 59h1v1h-1zM69 59h1v1h-1zM56 60h1v1h-1zM68 60h1v1h-1zM57 61h1v1h-1zM59 62h1v1h-1zM62 62h1v1h-1zM57 64h1v1h-1zM65 64h1v1h-1zM58 65h1v1h-1zM65 65h2v1h-2zM59 66h1v1h-1zM64 66h5v1h-5zM57 67h1v1h-1zM69 67h1v1h-1zM57 68h1v1h-1zM68 68h1v1h-1zM54 69h3v1h-3zM67 69h1v1h-1zM55 70h2v1h-2zM67 70h1v1h-1zM66 71h1v1h-1zM59 72h1v1h-1zM69 72h1v1h-1zM56 73h1v1h-1zM56 74h1v1h-1zM31 75h4v1h-4zM59 75h2v1h-2zM71 75h1v1h-1zM63 76h1v1h-1zM69 76h2v1h-2zM28 77h2v1h-2zM65 77h1v1h-1zM41 78h1v1h-1zM85 78h2v1h-2zM90 80h1v1h-1zM52 82h1v1h-1zM90 82h1v1h-1zM28 85h1v1h-1zM79 85h1v1h-1zM90 86h4v1h-4zM29 90h1v1h-1zM40 90h1v1h-1zM43 90h1v1h-1zM45 90h1v1h-1zM44 91h1v1h-1zM29 92h1v1h-1zM40 92h3v1h-3zM46 92h3v1h-3zM96 92h1v1h-1zM36 93h1v1h-1zM39 93h1v1h-1zM46 93h2v1h-2zM95 93h1v1h-1zM99 93h1v1h-1zM29 94h1v1h-1zM42 94h1v1h-1zM44 94h4v1h-4zM28 95h1v1h-1zM46 95h3v1h-3zM28 97h1v1h-1zM46 97h1v1h-1zM37 98h1v1h-1zM81 98h1v1h-1zM29 99h2v1h-2zM81 99h1v1h-1zM84 99h1v1h-1zM93 99h1v1h-1z"/>
<path fill="#ff6000" d="M7 5h1v1h-1zM7 10h1v1h-1zM13 10h1v1h-1zM15 13h1v1h-1zM17 16h1v1h-1zM11 18h1v1h-1zM20 19h1v1h-1zM21 20h1v1h-1zM16 21h1v1h-1zM22 21h1v1h-1zM22 23h1v1h-1zM82 27h1v1h-1zM79 28h1v1h-1zM85 28h1v1h-1zM87 29h1v1h-1zM78 30h1v1h-1zM78 31h1v1h-1zM90 32h1v1h-1zM52 33h1v1h-1zM28 37h1v1h-1zM91 37h1v1h-1zM51 38h1v1h-1zM79 38h1v1h-1zM90 38h1v1h-1zM79 40h1v1h-1zM89 41h1v1h-1zM89 42h1v1h-1zM29 44h1v1h-1zM79 44h1v1h-1zM88 44h1v1h-1zM79 45h1v1h-1zM88 45h1v1h-1zM88 46h1v1h-1zM29 49h1v1h-1zM79 49h1v1h-1zM84 51h1v1h-1zM31 52h3v1h-3zM35 52h1v1h-1zM36 54h1v1h-1zM39 54h1v1h-1zM83 54h1v1h-1zM31 55h1v1h-1zM38 55h4v1h-4zM58 55h2v1h-2zM65 55h3v1h-3zM69 55h1v1h-1zM71 55h4v1h-4zM76 55h1v1h-1zM87 55h1v1h-1zM40 56h1v1h-1zM42 56h1v1h-1zM62 56h1v1h-1zM70 56h1v1h-1zM88 56h1v1h-1zM41 57h2v1h-2zM68 57h2v1h-2zM72 57h2v1h-2zM30 58h1v1h-1zM38 58h2v1h-2zM41 58h1v1h-1zM49 58h1v1h-1zM67 58h1v1h-1zM74 58h3v1h-3zM85 58h1v1h-1zM89 58h1v1h-1zM91 58h4v1h-4zM98 58h1v1h-1zM33 59h1v1h-1zM52 59h1v1h-1zM67 60h1v1h-1zM58 61h1v1h-1zM65 61h1v1h-1zM61 62h1v1h-1zM59 63h5v1h-5zM64 65h1v1h-1zM60 66h1v1h-1zM63 66h1v1h-1zM58 67h1v1h-1zM67 67h2v1h-2zM67 68h1v1h-1zM57 69h2v1h-2zM66 69h1v1h-1zM57 70h1v1h-1zM66 70h1v1h-1zM58 71h2v1h-2zM65 71h1v1h-1zM67 71h3v1h-3zM60 72h1v1h-1zM63 72h1v1h-1zM66 72h3v1h-3zM57 73h3v1h-3zM57 74h2v1h-2zM60 74h1v1h-1zM72 74h1v1h-1zM35 75h2v1h-2zM61 75h1v1h-1zM68 76h1v1h-1zM39 78h2v1h-2zM42 78h3v1h-3zM81 78h1v1h-1zM84 78h1v1h-1zM88 79h1v1h-1zM90 81h1v1h-1zM28 82h1v1h-1zM28 84h1v1h-1zM79 84h1v1h-1zM29 88h1v1h-1zM43 89h1v1h-1zM45 89h1v1h-1zM41 90h1v1h-1zM46 90h2v1h-2zM41 91h1v1h-1zM43 91h1v1h-1zM45 91h1v1h-1zM50 91h1v1h-1zM81 91h1v1h-1zM89 91h1v1h-1zM38 92h2v1h-2zM82 92h1v1h-1zM35 93h1v1h-1zM37 93h2v1h-2zM82 93h1v1h-1zM87 93h1v1h-1zM96 93h3v1h-3zM30 94h2v1h-2zM40 94h1v1h-1zM93 94h1v1h-1zM42 95h4v1h-4zM80 95h1v1h-1zM28 96h1v1h-1zM40 96h1v1h-1zM47 96h2v1h-2zM45 97h1v1h-1zM87 97h1v1h-1zM29 98h1v1h-1zM34 98h3v1h-3zM38 98h1v1h-1zM86 98h1v1h-1zM40 99h1v1h-1zM43 99h2v1h-2zM82 99h2v1h-2z"/>
<path fill="#ff6a00" d="M7 6h1v1h-1zM10 6h1v1h-1zM11 7h1v1h-1zM12 8h1v1h-1zM14 12h1v1h-1zM9 13h1v1h-1zM16 15h1v1h-1zM10 16h1v1h-1zM18 17h1v1h-1zM13 19h1v1h-1zM19 19h1v1h-1zM15 20h1v1h-1zM20 20h1v1h-1zM18 22h2v1h-2zM20 23h2v1h-2zM34 27h1v1h-1zM37 28h1v1h-1zM52 29h1v1h-1zM89 31h1v1h-1zM28 32h1v1h-1zM53 32h1v1h-1zM51 35h1v1h-1zM90 37h1v1h-1zM79 41h1v1h-1zM79 42h1v1h-1zM29 43h1v1h-1zM52 44h1v1h-1zM79 46h1v1h-1zM79 48h1v1h-1zM85 50h1v1h-1zM31 51h1v1h-1zM37 51h2v1h-2zM39 52h1v1h-1zM40 53h1v1h-1zM55 53h1v1h-1zM78 53h1v1h-1zM83 53h1v1h-1zM77 54h1v1h-1zM32 55h1v1h-1zM37 55h1v1h-1zM43 55h1v1h-1zM85 55h2v1h-2zM30 56h1v1h-1zM39 56h1v1h-1zM60 56h2v1h-2zM63 56h1v1h-1zM68 56h2v1h-2zM71 56h3v1h-3zM87 56h1v1h-1zM40 57h1v1h-1zM43 57h1v1h-1zM46 57h1v1h-1zM67 57h1v1h-1zM87 57h1v1h-1zM31 58h2v1h-2zM40 58h1v1h-1zM66 58h1v1h-1zM77 58h3v1h-3zM95 58h1v1h-1zM34 59h1v1h-1zM36 59h1v1h-1zM51 59h1v1h-1zM54 59h4v1h-4zM68 59h1v1h-1zM57 60h1v1h-1zM66 60h1v1h-1zM59 61h1v1h-1zM60 62h1v1h-1zM58 64h2v1h-2zM64 64h1v1h-1zM59 65h1v1h-1zM63 65h1v1h-1zM59 67h2v1h-2zM58 68h2v1h-2zM66 68h1v1h-1zM59 69h1v1h-1zM63 69h3v1h-3zM58 70h1v1h-1zM62 70h1v1h-1zM65 70h1v1h-1zM60 71h1v1h-1zM61 72h2v1h-2zM64 72h2v1h-2zM60 73h1v1h-1zM69 73h1v1h-1zM59 74h1v1h-1zM62 75h1v1h-1zM64 76h1v1h-1zM67 76h1v1h-1zM28 78h1v1h-1zM32 78h2v1h-2zM36 78h3v1h-3zM45 78h2v1h-2zM52 78h1v1h-1zM79 78h1v1h-1zM82 78h2v1h-2zM28 79h1v1h-1zM53 81h1v1h-1zM28 83h1v1h-1zM79 83h1v1h-1zM90 83h1v1h-1zM91 85h1v1h-1zM89 88h1v1h-1zM40 89h3v1h-3zM46 89h1v1h-1zM39 90h1v1h-1zM42 90h1v1h-1zM50 90h1v1h-1zM40 91h1v1h-1zM42 91h1v1h-1zM46 91h1v1h-1zM37 92h1v1h-1zM88 92h1v1h-1zM30 93h1v1h-1zM32 94h1v1h-1zM35 94h5v1h-5zM41 94h1v1h-1zM81 94h1v1h-1zM87 94h1v1h-1zM29 95h1v1h-1zM40 95h2v1h-2zM93 95h1v1h-1zM39 96h1v1h-1zM41 96h6v1h-6zM80 96h1v1h-1zM87 96h1v1h-1zM37 97h1v1h-1zM40 97h2v1h-2zM43 97h2v1h-2zM80 97h2v1h-2zM30 98h4v1h-4zM39 98h2v1h-2zM44 98h1v1h-1zM85 98h1v1h-1zM94 99h1v1h-1z"/>
<path fill="#ff7500" d="M8 6h2v1h-2zM7 7h1v1h-1zM7 8h1v1h-1zM7 9h1v1h-1zM8 11h1v1h-1zM13 11h1v1h-1zM15 14h1v1h-1zM17 17h1v1h-1zM19 18h1v1h-1zM18 19h1v1h-1zM19 20h1v1h-1zM17 21h1v1h-1zM19 21h3v1h-3zM22 22h1v1h-1zM32 27h1v1h-1zM36 28h1v1h-1zM51 29h1v1h-1zM89 34h1v1h-1zM51 37h1v1h-1zM79 37h1v1h-1zM89 40h1v1h-1zM29 41h1v1h-1zM29 42h1v1h-1zM52 43h1v1h-1zM79 43h1v1h-1zM29 45h1v1h-1zM52 46h1v1h-1zM79 47h1v1h-1zM86 48h1v1h-1zM83 51h1v1h-1zM34 52h1v1h-1zM83 52h1v1h-1zM40 54h1v1h-1zM33 55h1v1h-1zM44 55h1v1h-1zM57 55h1v1h-1zM84 55h1v1h-1zM38 56h1v1h-1zM43 56h1v1h-1zM59 56h1v1h-1zM67 56h1v1h-1zM30 57h1v1h-1zM38 57h2v1h-2zM45 57h1v1h-1zM47 57h2v1h-2zM62 57h2v1h-2zM74 57h2v1h-2zM86 57h1v1h-1zM33 58h2v1h-2zM37 58h1v1h-1zM64 58h2v1h-2zM82 58h3v1h-3zM35 59h1v1h-1zM65 59h3v1h-3zM60 64h1v1h-1zM62 64h2v1h-2zM60 65h1v1h-1zM62 65h1v1h-1zM61 66h2v1h-2zM61 67h4v1h-4zM66 67h1v1h-1zM60 68h1v1h-1zM62 68h3v1h-3zM60 69h1v1h-1zM62 69h1v1h-1zM59 70h1v1h-1zM61 70h1v1h-1zM63 70h2v1h-2zM61 71h3v1h-3zM61 73h1v1h-1zM63 73h1v1h-1zM68 73h1v1h-1zM61 74h1v1h-1zM71 74h1v1h-1zM69 75h2v1h-2zM66 76h1v1h-1zM31 78h1v1h-1zM34 78h2v1h-2zM47 78h3v1h-3zM51 78h1v1h-1zM80 78h1v1h-1zM28 80h1v1h-1zM89 80h1v1h-1zM28 81h1v1h-1zM90 84h1v1h-1zM89 86h1v1h-1zM89 87h1v1h-1zM51 88h1v1h-1zM47 89h1v1h-1zM37 90h2v1h-2zM48 90h2v1h-2zM81 90h1v1h-1zM29 91h1v1h-1zM37 91h2v1h-2zM47 91h3v1h-3zM30 92h1v1h-1zM83 92h1v1h-1zM31 93h1v1h-1zM83 93h1v1h-1zM86 93h1v1h-1zM33 94h2v1h-2zM30 95h2v1h-2zM39 95h1v1h-1zM87 95h1v1h-1zM29 96h1v1h-1zM33 96h2v1h-2zM38 96h1v1h-1zM93 96h1v1h-1zM29 97h1v1h-1zM33 97h4v1h-4zM38 97h2v1h-2zM42 97h1v1h-1zM86 97h1v1h-1zM93 97h1v1h-1zM41 98h3v1h-3zM82 98h1v1h-1zM84 98h1v1h-1zM41 99h2v1h-2zM95 99h1v1h-1z"/>
<path fill="#ff8000" d="M12 18h1v1h-1zM18 18h1v1h-1zM16 19h2v1h-2zM16 20h1v1h-1zM18 21h1v1h-1zM20 22h2v1h-2zM33 27h1v1h-1zM28 29h1v1h-1zM86 29h1v1h-1zM88 30h1v1h-1zM28 31h1v1h-1zM79 33h1v1h-1zM79 34h1v1h-1zM89 35h1v1h-1zM79 36h1v1h-1zM88 43h1v1h-1zM87 47h1v1h-1zM29 48h1v1h-1zM30 50h1v1h-1zM36 51h1v1h-1zM79 52h1v1h-1zM41 53h1v1h-1zM42 54h1v1h-1zM56 54h1v1h-1zM82 54h1v1h-1zM34 55h3v1h-3zM45 55h2v1h-2zM77 55h1v1h-1zM83 55h1v1h-1zM37 56h1v1h-1zM45 56h1v1h-1zM64 56h1v1h-1zM74 56h2v1h-2zM32 57h3v1h-3zM44 57h1v1h-1zM59 57h3v1h-3zM64 57h3v1h-3zM76 57h1v1h-1zM85 57h1v1h-1zM35 58h2v1h-2zM50 58h1v1h-1zM58 58h3v1h-3zM62 58h2v1h-2zM80 58h1v1h-1zM58 59h1v1h-1zM64 59h1v1h-1zM65 60h1v1h-1zM60 61h1v1h-1zM62 61h3v1h-3zM61 64h1v1h-1zM61 65h1v1h-1zM65 67h1v1h-1zM61 68h1v1h-1zM65 68h1v1h-1zM61 69h1v1h-1zM60 70h1v1h-1zM64 71h1v1h-1zM62 73h1v1h-1zM64 73h1v1h-1zM62 74h1v1h-1zM63 75h1v1h-1zM68 75h1v1h-1zM65 76h1v1h-1zM29 78h2v1h-2zM50 78h1v1h-1zM89 81h1v1h-1zM89 82h1v1h-1zM51 83h1v1h-1zM90 85h1v1h-1zM29 87h1v1h-1zM50 89h1v1h-1zM80 89h1v1h-1zM89 89h1v1h-1zM89 90h1v1h-1zM39 91h1v1h-1zM82 91h1v1h-1zM88 91h1v1h-1zM35 92h2v1h-2zM86 92h2v1h-2zM34 93h1v1h-1zM84 93h2v1h-2zM86 94h1v1h-1zM94 94h1v1h-1zM32 95h1v1h-1zM34 95h2v1h-2zM37 95h2v1h-2zM81 95h1v1h-1zM30 96h3v1h-3zM35 96h1v1h-1zM37 96h1v1h-1zM86 96h1v1h-1zM30 97h3v1h-3zM82 97h1v1h-1zM85 97h1v1h-1zM83 98h1v1h-1zM94 98h1v1h-1z"/>
<path fill="#ff8a00" d="M10 7h1v1h-1zM12 9h1v1h-1zM14 13h1v1h-1zM10 15h1v1h-1zM16 16h1v1h-1zM11 17h1v1h-1zM17 18h1v1h-1zM14 19h2v1h-2zM18 20h1v1h-1zM29 28h1v1h-1zM35 28h1v1h-1zM28 30h1v1h-1zM53 30h1v1h-1zM53 31h1v1h-1zM89 32h1v1h-1zM51 33h1v1h-1zM79 35h1v1h-1zM89 38h1v1h-1zM29 46h1v1h-1zM85 49h1v1h-1zM32 51h1v1h-1zM39 51h1v1h-1zM80 51h1v1h-1zM40 52h1v1h-1zM53 53h2v1h-2zM41 54h1v1h-1zM43 54h2v1h-2zM78 54h1v1h-1zM47 55h2v1h-2zM78 55h1v1h-1zM82 55h1v1h-1zM31 56h5v1h-5zM44 56h1v1h-1zM46 56h3v1h-3zM58 56h1v1h-1zM65 56h2v1h-2zM76 56h1v1h-1zM84 56h3v1h-3zM31 57h1v1h-1zM35 57h1v1h-1zM37 57h1v1h-1zM49 57h1v1h-1zM77 57h1v1h-1zM56 58h2v1h-2zM61 58h1v1h-1zM81 58h1v1h-1zM59 59h2v1h-2zM58 60h1v1h-1zM61 61h1v1h-1zM65 73h3v1h-3zM63 74h1v1h-1zM69 74h2v1h-2zM67 75h1v1h-1zM87 79h1v1h-1zM39 89h1v1h-1zM48 89h1v1h-1zM30 90h1v1h-1zM36 91h1v1h-1zM87 91h1v1h-1zM31 92h1v1h-1zM32 93h2v1h-2zM82 94h1v1h-1zM33 95h1v1h-1zM36 95h1v1h-1zM86 95h1v1h-1zM36 96h1v1h-1zM81 96h1v1h-1zM85 96h1v1h-1zM84 97h1v1h-1z"/>
<path fill="#ff9500" d="M8 7h2v1h-2zM9 12h1v1h-1zM13 12h1v1h-1zM15 15h1v1h-1zM16 17h1v1h-1zM84 28h1v1h-1zM40 29h5v1h-5zM50 29h1v1h-1zM51 36h1v1h-1zM89 36h1v1h-1zM89 39h1v1h-1zM87 46h1v1h-1zM29 47h1v1h-1zM84 50h1v1h-1zM33 51h1v1h-1zM35 51h1v1h-1zM42 53h1v1h-1zM52 53h1v1h-1zM45 54h5v1h-5zM49 55h1v1h-1zM36 56h1v1h-1zM49 56h1v1h-1zM77 56h2v1h-2zM82 56h2v1h-2zM36 57h1v1h-1zM57 57h2v1h-2zM80 57h1v1h-1zM82 57h3v1h-3zM55 58h1v1h-1zM61 59h3v1h-3zM59 60h2v1h-2zM64 60h1v1h-1zM64 74h1v1h-1zM68 74h1v1h-1zM64 75h3v1h-3zM53 79h1v1h-1zM52 81h1v1h-1zM89 83h1v1h-1zM51 84h1v1h-1zM51 85h1v1h-1zM29 86h1v1h-1zM51 87h1v1h-1zM44 88h1v1h-1zM30 89h1v1h-1zM49 89h1v1h-1zM36 90h1v1h-1zM30 91h1v1h-1zM35 91h1v1h-1zM84 92h1v1h-1zM83 94h3v1h-3zM99 94h1v1h-1zM82 95h4v1h-4zM94 95h1v1h-1zM84 96h1v1h-1zM83 97h1v1h-1zM96 99h1v1h-1z"/>
<path fill="#ff9f00" d="M12 10h1v1h-1zM12 11h1v1h-1zM15 17h1v1h-1zM13 18h4v1h-4zM17 20h1v1h-1zM80 28h1v1h-1zM45 29h1v1h-1zM79 32h1v1h-1zM89 33h1v1h-1zM89 37h1v1h-1zM51 39h1v1h-1zM29 40h1v1h-1zM51 41h1v1h-1zM88 42h1v1h-1zM87 44h1v1h-1zM80 48h1v1h-1zM80 50h1v1h-1zM34 51h1v1h-1zM43 53h2v1h-2zM51 53h1v1h-1zM79 53h1v1h-1zM82 53h1v1h-1zM50 54h1v1h-1zM81 54h1v1h-1zM56 55h1v1h-1zM81 55h1v1h-1zM57 56h1v1h-1zM79 56h3v1h-3zM56 57h1v1h-1zM78 57h2v1h-2zM81 57h1v1h-1zM51 58h1v1h-1zM53 58h2v1h-2zM61 60h1v1h-1zM65 74h3v1h-3zM53 80h1v1h-1zM51 82h1v1h-1zM51 86h1v1h-1zM80 88h1v1h-1zM83 91h1v1h-1zM86 91h1v1h-1zM32 92h1v1h-1zM34 92h1v1h-1zM85 92h1v1h-1zM95 94h1v1h-1zM82 96h2v1h-2zM95 98h1v1h-1z"/>
<path fill="#ffaa00" d="M8 8h4v1h-4zM8 9h4v1h-4zM8 10h4v1h-4zM9 11h3v1h-3zM10 12h3v1h-3zM10 13h4v1h-4zM10 14h5v1h-5zM11 15h4v1h-4zM11 16h5v1h-5zM12 17h3v1h-3zM30 28h1v1h-1zM79 29h1v1h-1zM29 38h1v1h-1zM51 40h1v1h-1zM88 41h1v1h-1zM87 45h1v1h-1zM52 47h1v1h-1zM80 47h1v1h-1zM86 47h1v1h-1zM85 48h1v1h-1zM52 49h1v1h-1zM80 49h1v1h-1zM36 50h3v1h-3zM52 50h1v1h-1zM83 50h1v1h-1zM52 51h1v1h-1zM52 52h1v1h-1zM80 52h1v1h-1zM47 53h4v1h-4zM51 54h1v1h-1zM53 54h1v1h-1zM55 54h1v1h-1zM79 54h1v1h-1zM50 55h2v1h-2zM55 55h1v1h-1zM79 55h2v1h-2zM50 56h2v1h-2zM56 56h1v1h-1zM50 57h3v1h-3zM55 57h1v1h-1zM52 58h1v1h-1zM62 60h2v1h-2zM29 79h1v1h-1zM79 79h1v1h-1zM29 82h1v1h-1zM79 82h1v1h-1zM89 85h1v1h-1zM45 88h1v1h-1zM35 90h1v1h-1zM82 90h1v1h-1zM33 92h1v1h-1zM96 94h3v1h-3zM95 95h1v1h-1zM94 96h2v1h-2zM94 97h2v1h-2zM96 98h1v1h-1zM97 99h1v1h-1z"/>
<path fill="#ffb500" d="M39 29h1v1h-1zM49 29h1v1h-1zM87 30h1v1h-1zM88 31h1v1h-1zM52 32h1v1h-1zM29 39h1v1h-1zM88 40h1v1h-1zM87 43h1v1h-1zM80 44h1v1h-1zM51 45h1v1h-1zM80 45h1v1h-1zM80 46h1v1h-1zM52 48h1v1h-1zM40 51h1v1h-1zM82 51h1v1h-1zM41 52h1v1h-1zM82 52h1v1h-1zM45 53h2v1h-2zM80 53h2v1h-2zM52 54h1v1h-1zM54 54h1v1h-1zM80 54h1v1h-1zM55 56h1v1h-1zM53 57h2v1h-2zM37 79h10v1h-10zM52 79h1v1h-1zM88 80h1v1h-1zM89 84h1v1h-1zM43 88h1v1h-1zM46 88h1v1h-1zM50 88h1v1h-1zM37 89h2v1h-2zM88 90h1v1h-1zM31 91h1v1h-1zM34 91h1v1h-1zM84 91h1v1h-1zM96 95h4v1h-4zM96 97h1v1h-1z"/>
<path fill="#ffbf00" d="M31 28h1v1h-1zM34 28h1v1h-1zM81 28h1v1h-1zM83 28h1v1h-1zM46 29h1v1h-1zM48 29h1v1h-1zM79 30h1v1h-1zM79 31h1v1h-1zM50 34h1v1h-1zM50 35h1v1h-1zM29 37h1v1h-1zM50 38h1v1h-1zM88 38h1v1h-1zM88 39h1v1h-1zM80 40h1v1h-1zM80 41h1v1h-1zM51 42h1v1h-1zM80 42h1v1h-1zM80 43h1v1h-1zM86 46h1v1h-1zM85 47h1v1h-1zM84 49h1v1h-1zM31 50h1v1h-1zM39 50h1v1h-1zM81 50h2v1h-2zM81 51h1v1h-1zM42 52h1v1h-1zM81 52h1v1h-1zM36 79h1v1h-1zM47 79h5v1h-5zM86 79h1v1h-1zM29 80h1v1h-1zM79 80h1v1h-1zM79 81h1v1h-1zM88 81h1v1h-1zM29 85h1v1h-1zM30 88h1v1h-1zM41 88h2v1h-2zM47 88h1v1h-1zM31 90h1v1h-1zM87 90h1v1h-1zM85 91h1v1h-1zM97 98h1v1h-1zM99 99h1v1h-1z"/>
<path fill="#ffca00" d="M82 28h1v1h-1zM38 29h1v1h-1zM47 29h1v1h-1zM85 29h1v1h-1zM51 30h2v1h-2zM52 31h1v1h-1zM51 32h1v1h-1zM88 32h1v1h-1zM88 33h1v1h-1zM29 34h1v1h-1zM88 34h1v1h-1zM29 35h1v1h-1zM88 35h1v1h-1zM29 36h1v1h-1zM88 36h1v1h-1zM50 37h1v1h-1zM88 37h1v1h-1zM80 38h1v1h-1zM80 39h1v1h-1zM87 40h1v1h-1zM87 41h1v1h-1zM87 42h1v1h-1zM86 43h1v1h-1zM51 44h1v1h-1zM86 44h1v1h-1zM81 45h1v1h-1zM85 45h2v1h-2zM51 46h1v1h-1zM81 46h5v1h-5zM81 47h4v1h-4zM81 48h4v1h-4zM81 49h3v1h-3zM35 50h1v1h-1zM43 52h1v1h-1zM51 52h1v1h-1zM52 55h3v1h-3zM52 56h1v1h-1zM54 56h1v1h-1zM30 79h4v1h-4zM35 79h1v1h-1zM80 79h1v1h-1zM85 79h1v1h-1zM52 80h1v1h-1zM29 81h1v1h-1zM51 81h1v1h-1zM88 82h1v1h-1zM29 83h1v1h-1zM50 83h1v1h-1zM50 85h1v1h-1zM50 86h1v1h-1zM88 86h1v1h-1zM50 87h1v1h-1zM80 87h1v1h-1zM88 87h1v1h-1zM40 88h1v1h-1zM48 88h2v1h-2zM88 88h1v1h-1zM36 89h1v1h-1zM88 89h1v1h-1zM34 90h1v1h-1zM32 91h2v1h-2zM99 98h1v1h-1zM98 99h1v1h-1z"/>
<path fill="#ffd400" d="M33 28h1v1h-1zM37 29h1v1h-1zM49 30h2v1h-2zM87 31h1v1h-1zM29 32h1v1h-1zM29 33h1v1h-1zM50 33h1v1h-1zM50 36h1v1h-1zM87 37h1v1h-1zM87 38h1v1h-1zM50 39h1v1h-1zM87 39h1v1h-1zM50 40h1v1h-1zM86 40h1v1h-1zM50 41h1v1h-1zM86 41h1v1h-1zM81 42h1v1h-1zM85 42h2v1h-2zM51 43h1v1h-1zM81 43h5v1h-5zM81 44h5v1h-5zM30 45h1v1h-1zM82 45h3v1h-3zM51 47h1v1h-1zM51 48h1v1h-1zM30 49h1v1h-1zM51 49h1v1h-1zM51 50h1v1h-1zM51 51h1v1h-1zM44 52h7v1h-7zM53 56h1v1h-1zM34 79h1v1h-1zM81 79h1v1h-1zM84 79h1v1h-1zM46 80h6v1h-6zM87 80h1v1h-1zM50 81h1v1h-1zM50 82h1v1h-1zM88 83h1v1h-1zM29 84h1v1h-1zM50 84h1v1h-1zM88 85h1v1h-1zM49 86h1v1h-1zM80 86h1v1h-1zM44 87h6v1h-6zM81 89h1v1h-1zM83 90h1v1h-1zM86 90h1v1h-1zM96 96h1v1h-1z"/>
<path fill="#ffdf00" d="M32 28h1v1h-1zM29 29h1v1h-1zM36 29h1v1h-1zM80 29h1v1h-1zM47 30h2v1h-2zM86 30h1v1h-1zM29 31h1v1h-1zM48 31h4v1h-4zM48 32h3v1h-3zM87 32h1v1h-1zM48 33h2v1h-2zM87 33h1v1h-1zM48 34h2v1h-2zM87 34h1v1h-1zM48 35h2v1h-2zM87 35h1v1h-1zM48 36h2v1h-2zM80 36h1v1h-1zM87 36h1v1h-1zM48 37h2v1h-2zM80 37h1v1h-1zM48 38h2v1h-2zM86 38h1v1h-1zM48 39h2v1h-2zM86 39h1v1h-1zM49 40h1v1h-1zM81 40h1v1h-1zM85 40h1v1h-1zM49 41h1v1h-1zM81 41h2v1h-2zM84 41h2v1h-2zM30 42h1v1h-1zM49 42h2v1h-2zM82 42h3v1h-3zM30 43h1v1h-1zM49 43h2v1h-2zM30 44h1v1h-1zM49 44h2v1h-2zM49 45h2v1h-2zM49 46h2v1h-2zM48 47h3v1h-3zM30 48h1v1h-1zM48 48h3v1h-3zM47 49h4v1h-4zM32 50h1v1h-1zM46 50h5v1h-5zM41 51h1v1h-1zM44 51h7v1h-7zM82 79h2v1h-2zM39 80h7v1h-7zM44 81h6v1h-6zM46 82h4v1h-4zM47 83h3v1h-3zM47 84h3v1h-3zM88 84h1v1h-1zM46 85h4v1h-4zM45 86h4v1h-4zM41 87h3v1h-3zM39 88h1v1h-1zM87 88h1v1h-1zM87 89h1v1h-1zM85 90h1v1h-1zM99 96h1v1h-1zM98 98h1v1h-1z"/>
<path fill="#ffea00" d="M29 30h1v1h-1zM40 30h1v1h-1zM44 30h3v1h-3zM47 31h1v1h-1zM47 32h1v1h-1zM47 33h1v1h-1zM47 34h1v1h-1zM80 34h1v1h-1zM47 35h1v1h-1zM80 35h1v1h-1zM46 36h2v1h-2zM46 37h2v1h-2zM86 37h1v1h-1zM46 38h2v1h-2zM47 39h1v1h-1zM81 39h1v1h-1zM85 39h1v1h-1zM47 40h2v1h-2zM82 40h1v1h-1zM84 40h1v1h-1zM30 41h1v1h-1zM48 41h1v1h-1zM83 41h1v1h-1zM48 42h1v1h-1zM48 43h1v1h-1zM48 44h1v1h-1zM48 45h1v1h-1zM30 46h1v1h-1zM48 46h1v1h-1zM30 47h1v1h-1zM47 47h1v1h-1zM46 48h2v1h-2zM31 49h1v1h-1zM45 49h2v1h-2zM33 50h2v1h-2zM40 50h1v1h-1zM43 50h3v1h-3zM42 51h2v1h-2zM30 80h1v1h-1zM37 80h2v1h-2zM80 80h1v1h-1zM86 80h1v1h-1zM40 81h4v1h-4zM87 81h1v1h-1zM42 82h4v1h-4zM87 82h1v1h-1zM43 83h4v1h-4zM87 83h1v1h-1zM44 84h3v1h-3zM87 84h1v1h-1zM43 85h3v1h-3zM80 85h1v1h-1zM87 85h1v1h-1zM41 86h4v1h-4zM87 86h1v1h-1zM39 87h2v1h-2zM87 87h1v1h-1zM38 88h1v1h-1zM31 89h1v1h-1zM35 89h1v1h-1zM86 89h1v1h-1zM32 90h1v1h-1zM84 90h1v1h-1zM97 97h1v1h-1zM99 97h1v1h-1z"/>
<path fill="#fff400" d="M37 30h3v1h-3zM41 30h3v1h-3zM80 30h1v1h-1zM45 31h2v1h-2zM86 31h1v1h-1zM46 32h1v1h-1zM46 33h1v1h-1zM80 33h1v1h-1zM46 34h1v1h-1zM46 35h1v1h-1zM86 35h1v1h-1zM45 36h1v1h-1zM86 36h1v1h-1zM45 37h1v1h-1zM45 38h1v1h-1zM81 38h1v1h-1zM85 38h1v1h-1zM46 39h1v1h-1zM82 39h1v1h-1zM84 39h1v1h-1zM83 40h1v1h-1zM47 41h1v1h-1zM47 42h1v1h-1zM47 43h1v1h-1zM47 44h1v1h-1zM47 45h1v1h-1zM47 46h1v1h-1zM31 47h1v1h-1zM46 47h1v1h-1zM31 48h2v1h-2zM45 48h1v1h-1zM32 49h2v1h-2zM35 49h5v1h-5zM43 49h2v1h-2zM41 50h2v1h-2zM36 80h1v1h-1zM38 81h2v1h-2zM39 82h3v1h-3zM40 83h3v1h-3zM41 84h3v1h-3zM40 85h3v1h-3zM39 86h2v1h-2zM30 87h1v1h-1zM38 87h1v1h-1zM86 87h1v1h-1zM37 88h1v1h-1zM81 88h1v1h-1zM86 88h1v1h-1zM82 89h1v1h-1zM85 89h1v1h-1zM33 90h1v1h-1zM98 96h1v1h-1z"/>
<path fill="#ffff00" d="M35 29h1v1h-1zM36 30h1v1h-1zM37 31h4v1h-4zM44 31h1v1h-1zM80 31h1v1h-1zM37 32h2v1h-2zM45 32h1v1h-1zM80 32h1v1h-1zM86 32h1v1h-1zM45 33h1v1h-1zM86 33h1v1h-1zM45 34h1v1h-1zM86 34h1v1h-1zM45 35h1v1h-1zM44 36h1v1h-1zM44 37h1v1h-1zM85 37h1v1h-1zM44 38h1v1h-1zM45 39h1v1h-1zM83 39h1v1h-1zM46 40h1v1h-1zM46 41h1v1h-1zM31 44h1v1h-1zM31 45h1v1h-1zM31 46h2v1h-2zM46 46h1v1h-1zM32 47h3v1h-3zM45 47h1v1h-1zM33 48h5v1h-5zM44 48h1v1h-1zM34 49h1v1h-1zM40 49h3v1h-3zM31 80h1v1h-1zM35 80h1v1h-1zM85 80h1v1h-1zM30 81h1v1h-1zM37 81h1v1h-1zM80 81h1v1h-1zM86 81h1v1h-1zM38 82h1v1h-1zM80 82h1v1h-1zM86 82h1v1h-1zM39 83h1v1h-1zM80 83h1v1h-1zM39 84h2v1h-2zM80 84h1v1h-1zM39 85h1v1h-1zM38 86h1v1h-1zM86 86h1v1h-1zM37 87h1v1h-1zM36 88h1v1h-1zM85 88h1v1h-1zM34 89h1v1h-1zM83 89h2v1h-2zM97 96h1v1h-1zM98 97h1v1h-1z"/>
<path fill="#ffff10" d="M30 29h1v1h-1zM81 29h1v1h-1zM84 29h1v1h-1zM85 30h1v1h-1zM36 31h1v1h-1zM41 31h3v1h-3zM39 32h2v1h-2zM44 32h1v1h-1zM37 33h3v1h-3zM44 33h1v1h-1zM37 34h3v1h-3zM44 34h1v1h-1zM37 35h3v1h-3zM44 35h1v1h-1zM37 36h4v1h-4zM42 36h2v1h-2zM38 37h6v1h-6zM81 37h1v1h-1zM43 38h1v1h-1zM82 38h1v1h-1zM84 38h1v1h-1zM44 39h1v1h-1zM30 40h1v1h-1zM45 40h1v1h-1zM46 42h1v1h-1zM31 43h1v1h-1zM46 43h1v1h-1zM32 44h1v1h-1zM46 44h1v1h-1zM32 45h3v1h-3zM46 45h1v1h-1zM33 46h4v1h-4zM45 46h1v1h-1zM35 47h3v1h-3zM44 47h1v1h-1zM38 48h6v1h-6zM32 80h3v1h-3zM81 80h1v1h-1zM36 81h1v1h-1zM30 82h1v1h-1zM37 82h1v1h-1zM38 83h1v1h-1zM86 83h1v1h-1zM38 84h1v1h-1zM86 84h1v1h-1zM38 85h1v1h-1zM86 85h1v1h-1zM32 89h1v1h-1z"/>
<path fill="#ffff20" d="M36 32h1v1h-1zM41 32h3v1h-3zM36 33h1v1h-1zM40 33h2v1h-2zM43 33h1v1h-1zM40 34h4v1h-4zM40 35h4v1h-4zM41 36h1v1h-1zM81 36h1v1h-1zM85 36h1v1h-1zM37 37h1v1h-1zM84 37h1v1h-1zM37 38h6v1h-6zM83 38h1v1h-1zM30 39h1v1h-1zM37 39h2v1h-2zM43 39h1v1h-1zM44 40h1v1h-1zM45 41h1v1h-1zM31 42h1v1h-1zM32 43h4v1h-4zM33 44h4v1h-4zM35 45h2v1h-2zM45 45h1v1h-1zM37 46h1v1h-1zM38 47h2v1h-2zM43 47h1v1h-1zM82 80h1v1h-1zM84 80h1v1h-1zM31 81h1v1h-1zM35 81h1v1h-1zM85 81h1v1h-1zM37 83h1v1h-1zM37 85h1v1h-1zM30 86h1v1h-1zM37 86h1v1h-1zM36 87h1v1h-1zM81 87h1v1h-1zM85 87h1v1h-1zM31 88h1v1h-1zM35 88h1v1h-1zM82 88h1v1h-1zM84 88h1v1h-1zM33 89h1v1h-1z"/>
<path fill="#ffff30" d="M34 29h1v1h-1zM82 29h2v1h-2zM30 30h1v1h-1zM35 30h1v1h-1zM81 30h1v1h-1zM85 31h1v1h-1zM42 33h1v1h-1zM36 34h1v1h-1zM36 35h1v1h-1zM81 35h1v1h-1zM85 35h1v1h-1zM36 36h1v1h-1zM36 37h1v1h-1zM82 37h1v1h-1zM30 38h1v1h-1zM36 38h1v1h-1zM36 39h1v1h-1zM39 39h4v1h-4zM36 40h3v1h-3zM31 41h1v1h-1zM35 41h3v1h-3zM32 42h6v1h-6zM45 42h1v1h-1zM36 43h2v1h-2zM45 43h1v1h-1zM37 44h1v1h-1zM45 44h1v1h-1zM37 45h1v1h-1zM38 46h1v1h-1zM44 46h1v1h-1zM40 47h3v1h-3zM83 80h1v1h-1zM32 81h1v1h-1zM34 81h1v1h-1zM81 81h1v1h-1zM36 82h1v1h-1zM85 82h1v1h-1zM30 83h1v1h-1zM30 84h1v1h-1zM37 84h1v1h-1zM30 85h1v1h-1zM81 86h1v1h-1zM85 86h1v1h-1zM83 88h1v1h-1z"/>
<path fill="#ffff40" d="M31 29h1v1h-1zM30 31h1v1h-1zM35 31h1v1h-1zM81 31h1v1h-1zM85 32h1v1h-1zM85 33h1v1h-1zM81 34h1v1h-1zM85 34h1v1h-1zM84 36h1v1h-1zM30 37h1v1h-1zM83 37h1v1h-1zM35 39h1v1h-1zM31 40h1v1h-1zM35 40h1v1h-1zM39 40h5v1h-5zM32 41h1v1h-1zM34 41h1v1h-1zM38 41h1v1h-1zM44 41h1v1h-1zM38 42h1v1h-1zM38 43h1v1h-1zM38 44h1v1h-1zM38 45h1v1h-1zM44 45h1v1h-1zM39 46h2v1h-2zM43 46h1v1h-1zM33 81h1v1h-1zM31 82h1v1h-1zM81 82h1v1h-1zM36 83h1v1h-1zM85 83h1v1h-1zM85 85h1v1h-1zM36 86h1v1h-1zM31 87h1v1h-1zM84 87h1v1h-1zM32 88h1v1h-1zM34 88h1v1h-1z"/>
<path fill="#ffff50" d="M84 30h1v1h-1zM30 32h1v1h-1zM35 32h1v1h-1zM81 32h1v1h-1zM30 33h1v1h-1zM81 33h1v1h-1zM30 35h1v1h-1zM30 36h1v1h-1zM82 36h1v1h-1zM35 38h1v1h-1zM34 40h1v1h-1zM33 41h1v1h-1zM39 41h2v1h-2zM43 41h1v1h-1zM39 42h1v1h-1zM44 42h1v1h-1zM44 43h1v1h-1zM44 44h1v1h-1zM39 45h1v1h-1zM41 46h2v1h-2zM82 81h1v1h-1zM84 81h1v1h-1zM35 82h1v1h-1zM81 83h1v1h-1zM36 84h1v1h-1zM85 84h1v1h-1zM36 85h1v1h-1zM81 85h1v1h-1zM35 87h1v1h-1zM82 87h2v1h-2zM33 88h1v1h-1z"/>
<path fill="#ffff60" d="M32 29h2v1h-2zM82 30h2v1h-2zM35 33h1v1h-1zM30 34h1v1h-1zM84 35h1v1h-1zM35 36h1v1h-1zM83 36h1v1h-1zM35 37h1v1h-1zM31 39h1v1h-1zM32 40h2v1h-2zM41 41h2v1h-2zM43 42h1v1h-1zM39 43h1v1h-1zM39 44h1v1h-1zM40 45h1v1h-1zM43 45h1v1h-1zM83 81h1v1h-1zM32 82h1v1h-1zM34 82h1v1h-1zM31 83h1v1h-1zM81 84h1v1h-1zM31 86h1v1h-1zM84 86h1v1h-1z"/>
<path fill="#ffff70" d="M31 30h1v1h-1zM34 30h1v1h-1zM82 31h1v1h-1zM84 31h1v1h-1zM35 34h1v1h-1zM84 34h1v1h-1zM35 35h1v1h-1zM82 35h1v1h-1zM34 39h1v1h-1zM40 42h3v1h-3zM40 43h1v1h-1zM43 43h1v1h-1zM40 44h1v1h-1zM43 44h1v1h-1zM41 45h2v1h-2zM33 82h1v1h-1zM82 82h1v1h-1zM84 82h1v1h-1zM35 83h1v1h-1zM31 84h1v1h-1zM31 85h1v1h-1zM35 86h1v1h-1zM82 86h1v1h-1zM32 87h1v1h-1zM34 87h1v1h-1z"/>
<path fill="#ffff7f" d="M83 31h1v1h-1zM82 32h1v1h-1zM84 32h1v1h-1zM84 33h1v1h-1zM82 34h1v1h-1zM83 35h1v1h-1zM31 38h1v1h-1zM34 38h1v1h-1zM32 39h2v1h-2zM41 43h2v1h-2zM41 44h2v1h-2zM83 82h1v1h-1zM32 83h1v1h-1zM34 83h1v1h-1zM84 83h1v1h-1zM35 84h1v1h-1zM84 84h1v1h-1zM35 85h1v1h-1zM82 85h1v1h-1zM84 85h1v1h-1zM83 86h1v1h-1zM33 87h1v1h-1z"/>
<path fill="#ffff8f" d="M31 31h1v1h-1zM34 31h1v1h-1zM82 33h1v1h-1zM83 34h1v1h-1zM31 37h1v1h-1zM33 83h1v1h-1zM82 83h1v1h-1zM82 84h1v1h-1zM32 86h1v1h-1zM34 86h1v1h-1z"/>
<path fill="#ffff9f" d="M32 30h2v1h-2zM34 32h1v1h-1zM83 32h1v1h-1zM83 33h1v1h-1zM34 37h1v1h-1zM32 38h1v1h-1zM83 83h1v1h-1zM32 84h1v1h-1zM34 84h1v1h-1zM83 84h1v1h-1zM32 85h1v1h-1zM34 85h1v1h-1zM83 85h1v1h-1zM33 86h1v1h-1z"/>
<path fill="#ffffaf" d="M31 32h1v1h-1zM31 36h1v1h-1zM34 36h1v1h-1zM33 38h1v1h-1zM33 84h1v1h-1zM33 85h1v1h-1z"/>
<path fill="#ffffbf" d="M33 31h1v1h-1zM31 33h1v1h-1zM34 33h1v1h-1zM31 34h1v1h-1zM34 34h1v1h-1zM31 35h1v1h-1zM34 35h1v1h-1z"/>
<path fill="#ffffcf" d="M32 31h1v1h-1zM32 37h2v1h-2z"/>
<path fill="#ffffef" d="M32 32h2v1h-2zM32 36h2v1h-2z"/>
<path fill="#ffffff" d="M32 33h2v1h-2zM32 34h2v1h-2zM32 35h2v1h-2z"/>
</g>
<path d="M695.7 19.9v433.7M681.4 34.1h433.7" stroke="#808080" stroke-width="1.9" fill="none"/>
<path d="M797.2 19.9v433.7M681.4 135.6h433.7" stroke="#808080" stroke-width="1.9" fill="none"/>
<path d="M854.8 19.9v433.7M681.4 193.2h433.7" stroke="#808080" stroke-width="1.9" fill="none"/>
<path d="M1013.8 19.9v433.7M681.4 352.2h433.7" stroke="#808080" stroke-width="1.9" fill="none"/>
<path d="M805.6 144.2L832.3 144.2L834.3 146.6L851.6 146.6L854.6 149.7L877.9 149.7L881.0 146.6L893.1 146.6L895.2 149.3L900.0 147.2L892.2 147.2L895.2 149.7L898.2 147.2L900.3 149.7L910.4 149.7L915.5 153.3L912.4 156.4L910.4 161.4L905.3 162.4L901.3 170.5L901.3 173.6L906.4 176.6L901.3 182.7L901.3 186.8L905.3 190.8L906.4 194.9L904.3 198.9L907.4 205.0L909.4 210.1L904.3 216.2L907.4 221.2L910.0 225.3L910.0 248.6L904.3 251.0L904.3 251.0L880.0 251.0L877.9 251.0L874.9 248.6L871.8 251.0L869.8 248.0L860.7 248.0L859.7 244.5L854.6 239.5L851.6 236.8L847.5 236.8L845.5 239.5L842.4 236.8L837.4 236.8L832.3 241.9L822.2 241.9L820.1 239.5L815.1 239.5L811.0 234.4L811.0 219.2L814.1 216.2L811.0 213.1L814.1 210.1L811.0 207.0L814.1 203.0L812.0 198.9L809.0 193.9L809.0 190.8L811.0 187.8L811.0 183.7L809.0 180.7L809.0 175.6L811.0 172.6L809.0 169.5L809.0 154.3L806.0 151.3L805.6 144.2Z" stroke="#000" stroke-width="1.3" fill="none" stroke-linejoin="round"/>
<path d="M904.3 251.0L907.4 255.7L910.4 253.7L913.4 258.7L916.5 254.7L920.5 257.3L921.6 263.8L918.5 268.3L912.4 268.3L909.4 265.8L906.4 264.8L907.4 260.8L910.4 258.7L907.4 255.7L904.3 251.0Z" stroke="#000" stroke-width="1.3" fill="none" stroke-linejoin="round"/>
<path d="M1025.6 145.2L1029.0 143.8L1045.2 143.8L1048.3 146.6L1051.3 147.2L1054.3 149.7L1060.4 149.7L1063.5 152.3L1066.5 153.3L1068.9 156.4L1068.9 162.4L1071.6 164.9L1068.9 167.5L1068.9 183.7L1066.1 185.1L1068.9 187.8L1067.5 191.8L1066.1 192.8L1066.1 205.0L1063.5 208.0L1060.4 211.1L1060.4 216.2L1063.5 218.8L1060.4 221.2L1058.0 224.3L1055.3 229.3L1051.3 230.8L1048.7 233.4L1051.3 236.4L1048.7 239.5L1042.2 239.5L1040.1 241.5L1040.1 250.6L1034.1 251.0L1031.0 253.7L1031.0 256.7L1028.0 257.1L1025.6 254.1L1028.0 251.6L1028.0 249.6L1031.0 247.6L1034.1 245.5L1031.0 241.5L1029.0 238.5L1031.0 235.8L1029.0 233.4L1031.0 230.3L1031.0 225.3L1029.0 223.2L1029.0 211.1L1025.6 208.0L1029.0 205.0L1029.0 162.4L1025.6 159.4L1025.6 145.2Z" stroke="#000" stroke-width="1.3" fill="none" stroke-linejoin="round"/>
<path d="M805.6 363.9L900.0 363.9L900.3 363.9L915.5 363.9L916.1 366.9L912.4 372.0L906.4 372.6L903.9 377.0L901.3 381.1L903.9 383.5L903.9 389.2L898.6 392.2L901.3 395.3L901.3 401.4L898.6 404.4L889.1 404.4L886.1 401.4L883.6 404.4L880.0 404.4L889.1 403.8L886.6 401.4L884.0 403.8L877.9 403.8L874.9 401.4L871.8 403.8L868.8 404.4L866.4 406.4L863.7 403.8L859.7 404.4L855.6 406.8L851.6 407.4L848.5 409.9L845.5 406.8L841.4 409.5L838.4 406.8L834.7 409.9L831.3 410.5L828.7 412.5L828.3 415.5L822.2 415.5L820.1 412.5L819.1 409.5L814.5 409.9L814.5 401.4L811.6 398.3L811.6 393.2L809.0 389.2L809.0 381.1L811.6 378.0L809.0 375.0L809.0 366.9L805.6 363.9Z" stroke="#000" stroke-width="1.3" fill="none" stroke-linejoin="round"/>
<path d="M1025.6 363.9L1028.4 360.8L1031.0 363.9L1057.4 363.9L1060.4 366.5L1066.1 366.5L1066.1 381.1L1068.9 383.5L1071.6 387.2L1068.9 390.2L1066.1 393.2L1068.9 399.3L1066.1 403.4L1068.9 405.4L1068.9 412.9L1060.4 413.5L1057.4 415.5L1054.7 416.0L1051.7 418.6L1048.7 416.0L1045.2 414.5L1042.2 412.5L1037.1 410.5L1032.0 408.5L1031.0 401.4L1028.4 398.7L1031.0 395.3L1029.0 392.2L1028.4 381.1L1025.6 377.0L1025.6 363.9Z" stroke="#000" stroke-width="1.3" fill="none" stroke-linejoin="round"/>
<path d="M1115.0 435.7L1100.8 435.7L1097.7 438.5L1100.8 439.5L1106.4 444.6L1106.4 453.7L1115.0 453.7Z" stroke="#000" stroke-width="1.3" fill="none" stroke-linejoin="round"/>
<rect x="681.4" y="19.9" width="433.7" height="433.7" fill="none" stroke="#000" stroke-width="2.3"/>
<rect x="1023.5" y="50.3" width="57.3" height="2.4" fill="#fff"/>
<text x="1052" y="48.8" text-anchor="middle" font-size="12" fill="#fff" stroke="#fff" stroke-width=".3">400 ms</text>
<rect x="1136.1" y="19.9" width="11.8" height="433.7" fill="url(#hot)" stroke="#000" stroke-width="1.9"/>
<path d="M1142.3 36.0H1148" stroke="#000" stroke-width="1.8"/>
<text x="1150.7" y="42.6" font-size="18" stroke="#000" stroke-width=".3">90</text>
<path d="M1142.3 91.7H1148" stroke="#000" stroke-width="1.8"/>
<text x="1150.7" y="98.3" font-size="18" stroke="#000" stroke-width=".3">80</text>
<path d="M1142.3 147.4H1148" stroke="#000" stroke-width="1.8"/>
<text x="1150.7" y="154.0" font-size="18" stroke="#000" stroke-width=".3">70</text>
<path d="M1142.3 203.1H1148" stroke="#000" stroke-width="1.8"/>
<text x="1150.7" y="209.7" font-size="18" stroke="#000" stroke-width=".3">60</text>
<path d="M1142.3 258.8H1148" stroke="#000" stroke-width="1.8"/>
<text x="1150.7" y="265.4" font-size="18" stroke="#000" stroke-width=".3">50</text>
<path d="M1142.3 314.4H1148" stroke="#000" stroke-width="1.8"/>
<text x="1150.7" y="321.1" font-size="18" stroke="#000" stroke-width=".3">40</text>
<path d="M1142.3 370.1H1148" stroke="#000" stroke-width="1.8"/>
<text x="1150.7" y="376.7" font-size="18" stroke="#000" stroke-width=".3">30</text>
<path d="M1142.3 425.8H1148" stroke="#000" stroke-width="1.8"/>
<text x="1150.7" y="432.4" font-size="18" stroke="#000" stroke-width=".3">20</text>
<text transform="translate(1195.3 234.0) rotate(-90)" text-anchor="middle" font-size="18" stroke="#000" stroke-width=".3">classifier perf. (%)</text>
<text transform="translate(616.2 17.4) scale(.94 1)" font-size="26" stroke="#000" stroke-width=".3">E</text>
<text transform="translate(642.5 237.0) rotate(-90)" text-anchor="middle" font-size="18" stroke="#000" stroke-width=".3">training bin</text>
<text transform="translate(670.2 83.6) rotate(-90)" text-anchor="middle" font-size="18" fill="#000" stroke="#000" stroke-width=".3">pre-cue</text>
<text transform="translate(670.2 164.7) rotate(-90)" text-anchor="middle" font-size="18" fill="#000" stroke="#000" stroke-width=".3">sample</text>
<text transform="translate(670.2 274.5) rotate(-90)" text-anchor="middle" font-size="18" fill="#000" stroke="#000" stroke-width=".3">delay</text>
<text transform="translate(670.2 403.8) rotate(-90)" text-anchor="middle" font-size="18" fill="#000" stroke="#000" stroke-width=".3">compare</text>
<text x="730.8" y="469.0" text-anchor="middle" font-size="18" stroke="#000" stroke-width=".3">pre-cue</text>
<text x="812.9" y="469.0" text-anchor="middle" font-size="18" stroke="#000" stroke-width=".3">sample</text>
<text x="922.4" y="469.0" text-anchor="middle" font-size="18" stroke="#000" stroke-width=".3">delay</text>
<text x="1054.6" y="469.0" text-anchor="middle" font-size="18" stroke="#000" stroke-width=".3">compare</text>
<text x="896.5" y="491.6" text-anchor="middle" font-size="18" fill="#3a3a3a" stroke="#3a3a3a" stroke-width=".3">testing bin</text>
</g>
<g>
<rect x="681.4" y="513.6" width="433.7" height="433.7" fill="#c40000"/>
<g transform="translate(681.40 513.60) scale(4.3370)" shape-rendering="crispEdges">
<path fill="#200000" d="M97 76h1v1h-1z"/>
<path fill="#2a0000" d="M97 75h2v1h-2zM98 76h1v1h-1z"/>
<path fill="#400000" d="M99 75h1v1h-1zM96 76h1v1h-1zM97 77h1v1h-1zM9 90h1v1h-1z"/>
<path fill="#4a0000" d="M97 58h1v1h-1zM98 74h1v1h-1zM96 75h1v1h-1zM99 76h1v1h-1zM98 77h2v1h-2zM8 90h1v1h-1z"/>
<path fill="#550000" d="M86 17h1v1h-1zM98 58h1v1h-1zM96 64h2v1h-2zM97 73h2v1h-2zM97 74h1v1h-1zM10 90h1v1h-1zM31 93h2v1h-2z"/>
<path fill="#600000" d="M77 9h1v1h-1zM85 17h1v1h-1zM87 17h3v1h-3zM91 17h1v1h-1zM86 18h1v1h-1zM71 45h1v1h-1zM89 54h1v1h-1zM88 55h4v1h-4zM87 56h2v1h-2zM96 57h2v1h-2zM96 58h1v1h-1zM96 60h1v1h-1zM96 63h1v1h-1zM98 64h1v1h-1zM96 65h3v1h-3zM97 66h2v1h-2zM97 67h1v1h-1zM97 70h2v1h-2zM97 71h1v1h-1zM97 72h2v1h-2zM96 73h1v1h-1zM96 74h1v1h-1zM95 76h1v1h-1zM96 77h1v1h-1zM11 90h1v1h-1zM34 90h3v1h-3zM33 93h1v1h-1z"/>
<path fill="#6a0000" d="M76 9h1v1h-1zM85 16h1v1h-1zM90 17h1v1h-1zM92 17h1v1h-1zM94 17h1v1h-1zM85 18h1v1h-1zM70 45h1v1h-1zM88 54h1v1h-1zM90 54h1v1h-1zM92 55h1v1h-1zM96 55h1v1h-1zM89 56h3v1h-3zM96 56h2v1h-2zM98 57h1v1h-1zM99 58h1v1h-1zM95 60h1v1h-1zM97 60h1v1h-1zM95 63h1v1h-1zM97 63h2v1h-2zM95 64h1v1h-1zM99 64h1v1h-1zM95 65h1v1h-1zM99 65h1v1h-1zM96 66h1v1h-1zM99 66h1v1h-1zM90 67h1v1h-1zM96 67h1v1h-1zM98 67h1v1h-1zM95 68h1v1h-1zM97 68h1v1h-1zM88 71h3v1h-3zM94 71h3v1h-3zM98 71h1v1h-1zM99 73h1v1h-1zM99 74h1v1h-1zM95 75h1v1h-1zM96 78h4v1h-4zM97 79h2v1h-2zM97 80h1v1h-1zM32 90h2v1h-2zM37 90h1v1h-1zM29 92h5v1h-5zM67 92h1v1h-1zM30 93h1v1h-1zM34 93h1v1h-1z"/>
<path fill="#750000" d="M92 5h2v1h-2zM92 6h1v1h-1zM37 9h4v1h-4zM78 9h1v1h-1zM92 9h4v1h-4zM37 10h4v1h-4zM76 10h2v1h-2zM93 10h1v1h-1zM95 10h2v1h-2zM29 11h1v1h-1zM33 11h6v1h-6zM76 11h2v1h-2zM83 11h1v1h-1zM32 12h3v1h-3zM38 12h1v1h-1zM50 12h1v1h-1zM59 12h1v1h-1zM89 12h1v1h-1zM32 13h3v1h-3zM37 13h2v1h-2zM84 16h1v1h-1zM86 16h3v1h-3zM91 16h3v1h-3zM84 17h1v1h-1zM93 17h1v1h-1zM95 17h1v1h-1zM84 18h1v1h-1zM87 18h3v1h-3zM89 20h1v1h-1zM90 22h1v1h-1zM2 25h1v1h-1zM96 35h2v1h-2zM69 45h1v1h-1zM72 45h1v1h-1zM6 54h1v1h-1zM86 54h2v1h-2zM91 54h1v1h-1zM5 55h1v1h-1zM86 55h2v1h-2zM93 55h1v1h-1zM95 55h1v1h-1zM97 55h1v1h-1zM86 56h1v1h-1zM92 56h4v1h-4zM98 56h1v1h-1zM95 57h1v1h-1zM95 58h1v1h-1zM98 60h1v1h-1zM95 61h2v1h-2zM94 62h5v1h-5zM94 63h1v1h-1zM99 63h1v1h-1zM87 67h3v1h-3zM91 67h1v1h-1zM95 67h1v1h-1zM94 68h1v1h-1zM96 68h1v1h-1zM98 68h1v1h-1zM89 69h1v1h-1zM97 69h2v1h-2zM93 70h2v1h-2zM99 70h1v1h-1zM8 71h2v1h-2zM87 71h1v1h-1zM91 71h3v1h-3zM99 71h1v1h-1zM88 72h3v1h-3zM95 72h2v1h-2zM99 72h1v1h-1zM95 73h1v1h-1zM95 74h1v1h-1zM94 76h1v1h-1zM95 77h1v1h-1zM99 79h1v1h-1zM98 80h1v1h-1zM9 89h1v1h-1zM7 90h1v1h-1zM12 90h1v1h-1zM31 90h1v1h-1zM38 90h1v1h-1zM28 92h1v1h-1zM64 92h3v1h-3zM68 92h2v1h-2zM29 93h1v1h-1zM35 93h1v1h-1zM66 93h2v1h-2zM58 94h2v1h-2zM66 94h2v1h-2z"/>
<path fill="#7f0000" d="M93 6h4v1h-4zM92 8h1v1h-1zM41 9h1v1h-1zM75 9h1v1h-1zM91 9h1v1h-1zM96 9h1v1h-1zM29 10h1v1h-1zM33 10h1v1h-1zM36 10h1v1h-1zM41 10h6v1h-6zM49 10h2v1h-2zM52 10h1v1h-1zM75 10h1v1h-1zM78 10h3v1h-3zM92 10h1v1h-1zM94 10h1v1h-1zM97 10h1v1h-1zM30 11h3v1h-3zM39 11h1v1h-1zM41 11h2v1h-2zM75 11h1v1h-1zM78 11h3v1h-3zM82 11h1v1h-1zM94 11h1v1h-1zM96 11h2v1h-2zM31 12h1v1h-1zM35 12h3v1h-3zM39 12h1v1h-1zM49 12h1v1h-1zM51 12h2v1h-2zM55 12h1v1h-1zM58 12h1v1h-1zM60 12h1v1h-1zM76 12h5v1h-5zM82 12h2v1h-2zM85 12h1v1h-1zM87 12h2v1h-2zM90 12h1v1h-1zM96 12h1v1h-1zM31 13h1v1h-1zM35 13h2v1h-2zM39 13h1v1h-1zM49 13h1v1h-1zM88 13h1v1h-1zM92 13h2v1h-2zM49 14h1v1h-1zM91 14h3v1h-3zM55 15h1v1h-1zM58 15h2v1h-2zM82 15h7v1h-7zM91 15h3v1h-3zM58 16h4v1h-4zM89 16h2v1h-2zM94 16h1v1h-1zM83 17h1v1h-1zM90 18h2v1h-2zM94 18h2v1h-2zM97 18h2v1h-2zM85 19h2v1h-2zM89 19h2v1h-2zM88 20h1v1h-1zM90 20h2v1h-2zM99 20h1v1h-1zM88 21h3v1h-3zM89 22h1v1h-1zM0 23h1v1h-1zM89 23h3v1h-3zM93 24h1v1h-1zM90 25h2v1h-2zM93 25h1v1h-1zM98 35h1v1h-1zM97 36h2v1h-2zM18 40h1v1h-1zM20 40h2v1h-2zM68 45h1v1h-1zM73 45h2v1h-2zM89 53h2v1h-2zM5 54h1v1h-1zM7 54h1v1h-1zM33 54h1v1h-1zM85 54h1v1h-1zM6 55h1v1h-1zM34 55h1v1h-1zM84 55h2v1h-2zM94 55h1v1h-1zM98 55h1v1h-1zM85 56h1v1h-1zM87 57h2v1h-2zM94 57h1v1h-1zM94 58h1v1h-1zM94 60h1v1h-1zM99 60h1v1h-1zM84 61h1v1h-1zM99 62h1v1h-1zM86 63h3v1h-3zM90 63h1v1h-1zM18 64h1v1h-1zM88 65h1v1h-1zM87 66h2v1h-2zM95 66h1v1h-1zM92 67h1v1h-1zM94 67h1v1h-1zM99 67h1v1h-1zM0 68h1v1h-1zM2 68h1v1h-1zM5 68h1v1h-1zM91 68h3v1h-3zM99 68h1v1h-1zM88 69h1v1h-1zM90 69h2v1h-2zM93 69h2v1h-2zM99 69h1v1h-1zM88 70h2v1h-2zM95 70h2v1h-2zM10 71h1v1h-1zM14 72h1v1h-1zM85 72h3v1h-3zM91 72h4v1h-4zM89 73h2v1h-2zM94 75h1v1h-1zM95 78h1v1h-1zM10 79h1v1h-1zM51 87h4v1h-4zM8 89h1v1h-1zM10 89h1v1h-1zM29 90h2v1h-2zM39 90h1v1h-1zM67 91h2v1h-2zM34 92h2v1h-2zM61 92h3v1h-3zM70 92h1v1h-1zM72 92h1v1h-1zM8 93h2v1h-2zM61 93h1v1h-1zM65 93h1v1h-1zM68 93h2v1h-2zM32 94h3v1h-3zM60 94h2v1h-2zM65 94h1v1h-1z"/>
<path fill="#8a0000" d="M92 1h1v1h-1zM50 4h1v1h-1zM52 4h3v1h-3zM1 5h1v1h-1zM91 5h1v1h-1zM94 5h5v1h-5zM91 6h1v1h-1zM97 6h1v1h-1zM92 7h1v1h-1zM93 8h1v1h-1zM35 9h2v1h-2zM42 9h2v1h-2zM74 9h1v1h-1zM86 9h2v1h-2zM89 9h2v1h-2zM0 10h1v1h-1zM28 10h1v1h-1zM30 10h1v1h-1zM32 10h1v1h-1zM34 10h2v1h-2zM47 10h2v1h-2zM51 10h1v1h-1zM62 10h4v1h-4zM74 10h1v1h-1zM81 10h1v1h-1zM83 10h1v1h-1zM91 10h1v1h-1zM98 10h1v1h-1zM28 11h1v1h-1zM40 11h1v1h-1zM43 11h4v1h-4zM49 11h3v1h-3zM61 11h2v1h-2zM64 11h2v1h-2zM73 11h2v1h-2zM81 11h1v1h-1zM84 11h1v1h-1zM92 11h2v1h-2zM95 11h1v1h-1zM98 11h1v1h-1zM29 12h2v1h-2zM41 12h3v1h-3zM48 12h1v1h-1zM53 12h2v1h-2zM56 12h2v1h-2zM61 12h2v1h-2zM73 12h1v1h-1zM75 12h1v1h-1zM81 12h1v1h-1zM84 12h1v1h-1zM86 12h1v1h-1zM91 12h5v1h-5zM97 12h3v1h-3zM40 13h1v1h-1zM48 13h1v1h-1zM50 13h2v1h-2zM55 13h1v1h-1zM58 13h2v1h-2zM85 13h3v1h-3zM89 13h3v1h-3zM33 14h1v1h-1zM37 14h4v1h-4zM42 14h1v1h-1zM50 14h1v1h-1zM55 14h1v1h-1zM88 14h1v1h-1zM94 14h1v1h-1zM96 14h1v1h-1zM37 15h2v1h-2zM54 15h1v1h-1zM56 15h1v1h-1zM60 15h2v1h-2zM63 15h1v1h-1zM65 15h1v1h-1zM81 15h1v1h-1zM90 15h1v1h-1zM94 15h2v1h-2zM43 16h1v1h-1zM54 16h2v1h-2zM62 16h2v1h-2zM81 16h3v1h-3zM95 16h2v1h-2zM82 17h1v1h-1zM96 17h2v1h-2zM83 18h1v1h-1zM92 18h2v1h-2zM96 18h1v1h-1zM87 19h1v1h-1zM91 19h1v1h-1zM85 20h3v1h-3zM92 20h1v1h-1zM96 20h1v1h-1zM86 21h2v1h-2zM91 21h3v1h-3zM87 22h2v1h-2zM91 22h2v1h-2zM1 23h1v1h-1zM92 23h1v1h-1zM90 24h3v1h-3zM94 24h1v1h-1zM1 25h1v1h-1zM3 25h2v1h-2zM89 25h1v1h-1zM92 25h1v1h-1zM94 25h1v1h-1zM89 26h2v1h-2zM96 34h3v1h-3zM96 36h1v1h-1zM97 37h1v1h-1zM20 39h2v1h-2zM17 40h1v1h-1zM19 40h1v1h-1zM71 44h1v1h-1zM67 45h1v1h-1zM75 45h3v1h-3zM8 48h1v1h-1zM88 53h1v1h-1zM91 53h1v1h-1zM8 54h1v1h-1zM32 54h1v1h-1zM34 54h1v1h-1zM84 54h1v1h-1zM92 54h4v1h-4zM4 55h1v1h-1zM7 55h3v1h-3zM33 55h1v1h-1zM83 55h1v1h-1zM99 55h1v1h-1zM84 56h1v1h-1zM99 56h1v1h-1zM86 57h1v1h-1zM93 57h1v1h-1zM99 57h1v1h-1zM87 58h2v1h-2zM93 58h1v1h-1zM95 59h4v1h-4zM85 61h2v1h-2zM94 61h1v1h-1zM97 61h2v1h-2zM86 62h3v1h-3zM93 62h1v1h-1zM84 63h2v1h-2zM89 63h1v1h-1zM91 63h3v1h-3zM15 64h3v1h-3zM19 64h1v1h-1zM88 64h5v1h-5zM94 64h1v1h-1zM85 65h3v1h-3zM89 65h2v1h-2zM94 65h1v1h-1zM89 66h4v1h-4zM86 67h1v1h-1zM93 67h1v1h-1zM1 68h1v1h-1zM3 68h2v1h-2zM6 68h1v1h-1zM17 68h1v1h-1zM87 68h4v1h-4zM86 69h2v1h-2zM92 69h1v1h-1zM95 69h2v1h-2zM8 70h2v1h-2zM87 70h1v1h-1zM90 70h3v1h-3zM0 71h1v1h-1zM2 71h1v1h-1zM11 71h4v1h-4zM16 71h2v1h-2zM85 71h2v1h-2zM13 72h1v1h-1zM15 72h1v1h-1zM91 73h1v1h-1zM94 73h1v1h-1zM94 74h1v1h-1zM90 76h4v1h-4zM6 77h1v1h-1zM94 77h1v1h-1zM9 79h1v1h-1zM96 79h1v1h-1zM99 80h1v1h-1zM55 87h1v1h-1zM58 87h1v1h-1zM11 89h1v1h-1zM13 90h1v1h-1zM8 91h2v1h-2zM32 91h1v1h-1zM40 91h2v1h-2zM69 91h1v1h-1zM27 92h1v1h-1zM36 92h1v1h-1zM60 92h1v1h-1zM71 92h1v1h-1zM7 93h1v1h-1zM28 93h1v1h-1zM36 93h1v1h-1zM57 93h4v1h-4zM64 93h1v1h-1zM70 93h2v1h-2zM31 94h1v1h-1zM35 94h1v1h-1zM56 94h2v1h-2zM64 94h1v1h-1zM68 94h3v1h-3zM26 99h1v1h-1z"/>
<path fill="#950000" d="M2 0h4v1h-4zM91 0h6v1h-6zM42 1h2v1h-2zM46 1h1v1h-1zM91 1h1v1h-1zM93 1h1v1h-1zM50 3h5v1h-5zM51 4h1v1h-1zM55 4h1v1h-1zM57 4h5v1h-5zM0 5h1v1h-1zM90 5h1v1h-1zM90 6h1v1h-1zM93 7h1v1h-1zM95 7h1v1h-1zM86 8h6v1h-6zM94 8h2v1h-2zM30 9h2v1h-2zM33 9h2v1h-2zM44 9h1v1h-1zM63 9h5v1h-5zM71 9h3v1h-3zM79 9h2v1h-2zM85 9h1v1h-1zM88 9h1v1h-1zM97 9h1v1h-1zM31 10h1v1h-1zM53 10h2v1h-2zM60 10h2v1h-2zM66 10h1v1h-1zM72 10h2v1h-2zM82 10h1v1h-1zM84 10h1v1h-1zM86 10h5v1h-5zM99 10h1v1h-1zM0 11h2v1h-2zM47 11h2v1h-2zM52 11h1v1h-1zM54 11h1v1h-1zM58 11h1v1h-1zM60 11h1v1h-1zM63 11h1v1h-1zM68 11h1v1h-1zM71 11h2v1h-2zM88 11h4v1h-4zM99 11h1v1h-1zM1 12h1v1h-1zM40 12h1v1h-1zM44 12h1v1h-1zM47 12h1v1h-1zM63 12h1v1h-1zM66 12h3v1h-3zM72 12h1v1h-1zM74 12h1v1h-1zM1 13h1v1h-1zM28 13h3v1h-3zM41 13h2v1h-2zM52 13h1v1h-1zM54 13h1v1h-1zM56 13h2v1h-2zM60 13h6v1h-6zM78 13h1v1h-1zM84 13h1v1h-1zM94 13h3v1h-3zM32 14h1v1h-1zM34 14h1v1h-1zM36 14h1v1h-1zM41 14h1v1h-1zM43 14h1v1h-1zM54 14h1v1h-1zM58 14h6v1h-6zM65 14h1v1h-1zM84 14h4v1h-4zM89 14h2v1h-2zM95 14h1v1h-1zM97 14h1v1h-1zM33 15h2v1h-2zM36 15h1v1h-1zM39 15h2v1h-2zM42 15h2v1h-2zM57 15h1v1h-1zM62 15h1v1h-1zM64 15h1v1h-1zM66 15h1v1h-1zM89 15h1v1h-1zM96 15h2v1h-2zM44 16h1v1h-1zM53 16h1v1h-1zM56 16h2v1h-2zM64 16h2v1h-2zM77 16h1v1h-1zM80 16h1v1h-1zM97 16h3v1h-3zM41 17h1v1h-1zM44 17h1v1h-1zM53 17h1v1h-1zM61 17h1v1h-1zM80 17h2v1h-2zM98 17h1v1h-1zM99 18h1v1h-1zM84 19h1v1h-1zM88 19h1v1h-1zM94 19h3v1h-3zM99 19h1v1h-1zM84 20h1v1h-1zM93 20h3v1h-3zM97 20h2v1h-2zM85 21h1v1h-1zM1 22h2v1h-2zM86 22h1v1h-1zM2 23h2v1h-2zM87 23h2v1h-2zM9 24h1v1h-1zM89 24h1v1h-1zM97 24h2v1h-2zM0 25h1v1h-1zM5 25h1v1h-1zM8 25h1v1h-1zM88 25h1v1h-1zM1 26h2v1h-2zM4 26h1v1h-1zM87 26h2v1h-2zM91 26h4v1h-4zM4 27h1v1h-1zM96 33h4v1h-4zM99 34h1v1h-1zM95 35h1v1h-1zM99 35h1v1h-1zM95 36h1v1h-1zM99 36h1v1h-1zM96 37h1v1h-1zM18 39h2v1h-2zM22 39h1v1h-1zM14 40h3v1h-3zM22 40h1v1h-1zM15 41h1v1h-1zM20 41h2v1h-2zM68 44h3v1h-3zM72 44h1v1h-1zM71 46h1v1h-1zM2 48h1v1h-1zM4 48h4v1h-4zM9 48h4v1h-4zM32 48h2v1h-2zM86 53h2v1h-2zM92 53h1v1h-1zM4 54h1v1h-1zM9 54h1v1h-1zM35 54h1v1h-1zM83 54h1v1h-1zM10 55h1v1h-1zM32 55h1v1h-1zM35 55h1v1h-1zM85 57h1v1h-1zM89 57h1v1h-1zM92 57h1v1h-1zM85 58h2v1h-2zM89 58h1v1h-1zM86 59h2v1h-2zM85 60h2v1h-2zM11 61h1v1h-1zM13 61h2v1h-2zM83 61h1v1h-1zM87 61h1v1h-1zM4 62h2v1h-2zM7 62h1v1h-1zM10 62h2v1h-2zM14 62h1v1h-1zM84 62h2v1h-2zM89 62h2v1h-2zM92 62h1v1h-1zM83 63h1v1h-1zM4 64h3v1h-3zM11 64h2v1h-2zM14 64h1v1h-1zM84 64h4v1h-4zM93 64h1v1h-1zM4 65h1v1h-1zM6 65h2v1h-2zM18 65h1v1h-1zM84 65h1v1h-1zM91 65h3v1h-3zM1 66h4v1h-4zM85 66h2v1h-2zM93 66h2v1h-2zM4 67h2v1h-2zM17 67h1v1h-1zM7 68h1v1h-1zM14 68h3v1h-3zM18 68h1v1h-1zM85 68h2v1h-2zM4 69h2v1h-2zM18 69h1v1h-1zM85 69h1v1h-1zM0 70h1v1h-1zM7 70h1v1h-1zM10 70h3v1h-3zM18 70h1v1h-1zM20 70h1v1h-1zM23 70h1v1h-1zM86 70h1v1h-1zM1 71h1v1h-1zM3 71h5v1h-5zM15 71h1v1h-1zM18 71h4v1h-4zM84 71h1v1h-1zM11 72h2v1h-2zM16 72h1v1h-1zM84 72h1v1h-1zM86 73h1v1h-1zM88 73h1v1h-1zM92 73h2v1h-2zM89 74h5v1h-5zM6 75h1v1h-1zM89 75h3v1h-3zM5 76h5v1h-5zM87 76h3v1h-3zM7 77h1v1h-1zM87 77h4v1h-4zM89 78h1v1h-1zM93 78h2v1h-2zM1 79h2v1h-2zM11 79h1v1h-1zM88 79h4v1h-4zM1 80h3v1h-3zM9 80h2v1h-2zM89 80h3v1h-3zM96 80h1v1h-1zM0 81h3v1h-3zM97 81h1v1h-1zM57 85h1v1h-1zM24 86h2v1h-2zM57 86h2v1h-2zM24 87h1v1h-1zM47 87h4v1h-4zM57 87h1v1h-1zM59 87h1v1h-1zM71 87h2v1h-2zM49 88h6v1h-6zM57 88h1v1h-1zM65 88h1v1h-1zM71 88h1v1h-1zM7 89h1v1h-1zM36 89h2v1h-2zM58 89h1v1h-1zM71 89h1v1h-1zM6 90h1v1h-1zM40 90h2v1h-2zM4 91h2v1h-2zM7 91h1v1h-1zM10 91h1v1h-1zM29 91h3v1h-3zM33 91h1v1h-1zM38 91h1v1h-1zM42 91h5v1h-5zM57 91h2v1h-2zM65 91h2v1h-2zM70 91h3v1h-3zM8 92h2v1h-2zM26 92h1v1h-1zM37 92h2v1h-2zM56 92h4v1h-4zM73 92h1v1h-1zM81 92h1v1h-1zM10 93h1v1h-1zM27 93h1v1h-1zM62 93h2v1h-2zM72 93h1v1h-1zM36 94h1v1h-1zM62 94h2v1h-2zM71 94h1v1h-1zM57 95h1v1h-1zM61 95h1v1h-1zM23 99h3v1h-3z"/>
<path fill="#9f0000" d="M1 0h1v1h-1zM35 0h4v1h-4zM55 0h1v1h-1zM88 0h3v1h-3zM40 1h2v1h-2zM44 1h2v1h-2zM47 1h2v1h-2zM83 1h1v1h-1zM94 1h3v1h-3zM49 3h1v1h-1zM55 3h2v1h-2zM49 4h1v1h-1zM56 4h1v1h-1zM43 5h1v1h-1zM99 5h1v1h-1zM98 6h1v1h-1zM0 7h2v1h-2zM90 7h2v1h-2zM94 7h1v1h-1zM96 7h1v1h-1zM37 8h1v1h-1zM39 8h6v1h-6zM62 8h1v1h-1zM76 8h2v1h-2zM85 8h1v1h-1zM96 8h1v1h-1zM22 9h1v1h-1zM29 9h1v1h-1zM32 9h1v1h-1zM45 9h2v1h-2zM48 9h6v1h-6zM61 9h2v1h-2zM68 9h2v1h-2zM81 9h4v1h-4zM98 9h2v1h-2zM1 10h1v1h-1zM27 10h1v1h-1zM55 10h1v1h-1zM58 10h1v1h-1zM67 10h2v1h-2zM71 10h1v1h-1zM85 10h1v1h-1zM2 11h1v1h-1zM27 11h1v1h-1zM53 11h1v1h-1zM55 11h3v1h-3zM59 11h1v1h-1zM66 11h2v1h-2zM69 11h2v1h-2zM85 11h3v1h-3zM0 12h1v1h-1zM2 12h1v1h-1zM28 12h1v1h-1zM45 12h2v1h-2zM64 12h2v1h-2zM69 12h3v1h-3zM2 13h1v1h-1zM27 13h1v1h-1zM43 13h1v1h-1zM46 13h2v1h-2zM53 13h1v1h-1zM66 13h1v1h-1zM73 13h1v1h-1zM77 13h1v1h-1zM79 13h1v1h-1zM83 13h1v1h-1zM97 13h1v1h-1zM28 14h2v1h-2zM31 14h1v1h-1zM35 14h1v1h-1zM48 14h1v1h-1zM51 14h1v1h-1zM56 14h2v1h-2zM64 14h1v1h-1zM66 14h1v1h-1zM74 14h1v1h-1zM76 14h2v1h-2zM81 14h3v1h-3zM29 15h4v1h-4zM35 15h1v1h-1zM41 15h1v1h-1zM44 15h1v1h-1zM46 15h1v1h-1zM49 15h5v1h-5zM67 15h2v1h-2zM77 15h3v1h-3zM98 15h2v1h-2zM1 16h3v1h-3zM33 16h5v1h-5zM39 16h4v1h-4zM45 16h5v1h-5zM52 16h1v1h-1zM66 16h1v1h-1zM78 16h2v1h-2zM36 17h1v1h-1zM40 17h1v1h-1zM43 17h1v1h-1zM45 17h1v1h-1zM54 17h2v1h-2zM58 17h3v1h-3zM62 17h2v1h-2zM78 17h2v1h-2zM99 17h1v1h-1zM82 18h1v1h-1zM93 19h1v1h-1zM97 19h2v1h-2zM83 20h1v1h-1zM1 21h2v1h-2zM94 21h2v1h-2zM99 21h1v1h-1zM0 22h1v1h-1zM3 22h1v1h-1zM85 22h1v1h-1zM99 22h1v1h-1zM4 23h1v1h-1zM6 23h1v1h-1zM9 23h1v1h-1zM93 23h1v1h-1zM99 23h1v1h-1zM0 24h1v1h-1zM2 24h2v1h-2zM8 24h1v1h-1zM10 24h1v1h-1zM87 24h2v1h-2zM95 24h2v1h-2zM99 24h1v1h-1zM7 25h1v1h-1zM9 25h1v1h-1zM87 25h1v1h-1zM95 25h1v1h-1zM0 26h1v1h-1zM3 26h1v1h-1zM5 26h4v1h-4zM95 26h3v1h-3zM99 26h1v1h-1zM2 27h2v1h-2zM5 27h1v1h-1zM90 27h5v1h-5zM98 31h2v1h-2zM98 32h2v1h-2zM95 33h1v1h-1zM95 34h1v1h-1zM95 37h1v1h-1zM98 37h1v1h-1zM97 38h1v1h-1zM14 39h1v1h-1zM17 39h1v1h-1zM23 39h1v1h-1zM23 40h2v1h-2zM14 41h1v1h-1zM16 41h2v1h-2zM73 44h2v1h-2zM76 44h2v1h-2zM65 45h2v1h-2zM78 45h1v1h-1zM69 46h2v1h-2zM72 46h2v1h-2zM76 46h1v1h-1zM8 47h1v1h-1zM12 47h1v1h-1zM1 48h1v1h-1zM3 48h1v1h-1zM98 51h1v1h-1zM90 52h1v1h-1zM5 53h2v1h-2zM85 53h1v1h-1zM93 53h4v1h-4zM3 54h1v1h-1zM31 54h1v1h-1zM96 54h1v1h-1zM1 55h3v1h-3zM11 55h2v1h-2zM31 55h1v1h-1zM36 55h2v1h-2zM34 56h1v1h-1zM41 56h1v1h-1zM90 57h2v1h-2zM84 58h1v1h-1zM92 58h1v1h-1zM85 59h1v1h-1zM88 59h4v1h-4zM94 59h1v1h-1zM99 59h1v1h-1zM84 60h1v1h-1zM87 60h1v1h-1zM93 60h1v1h-1zM7 61h2v1h-2zM10 61h1v1h-1zM12 61h1v1h-1zM88 61h1v1h-1zM99 61h1v1h-1zM2 62h2v1h-2zM6 62h1v1h-1zM8 62h2v1h-2zM12 62h2v1h-2zM15 62h1v1h-1zM83 62h1v1h-1zM91 62h1v1h-1zM10 63h3v1h-3zM15 63h4v1h-4zM2 64h2v1h-2zM7 64h1v1h-1zM10 64h1v1h-1zM13 64h1v1h-1zM20 64h3v1h-3zM83 64h1v1h-1zM3 65h1v1h-1zM5 65h1v1h-1zM15 65h3v1h-3zM19 65h2v1h-2zM0 66h1v1h-1zM5 66h2v1h-2zM16 66h5v1h-5zM83 66h2v1h-2zM0 67h1v1h-1zM3 67h1v1h-1zM16 67h1v1h-1zM18 67h2v1h-2zM84 67h2v1h-2zM8 68h1v1h-1zM19 68h1v1h-1zM84 68h1v1h-1zM0 69h4v1h-4zM6 69h2v1h-2zM11 69h1v1h-1zM17 69h1v1h-1zM19 69h1v1h-1zM84 69h1v1h-1zM1 70h1v1h-1zM4 70h3v1h-3zM13 70h3v1h-3zM17 70h1v1h-1zM19 70h1v1h-1zM21 70h2v1h-2zM24 70h1v1h-1zM85 70h1v1h-1zM22 71h2v1h-2zM0 72h3v1h-3zM8 72h1v1h-1zM10 72h1v1h-1zM17 72h1v1h-1zM21 72h1v1h-1zM0 73h1v1h-1zM87 73h1v1h-1zM87 74h2v1h-2zM2 75h4v1h-4zM7 75h1v1h-1zM88 75h1v1h-1zM92 75h2v1h-2zM4 76h1v1h-1zM10 76h1v1h-1zM86 76h1v1h-1zM5 77h1v1h-1zM8 77h3v1h-3zM15 77h4v1h-4zM86 77h1v1h-1zM92 77h2v1h-2zM1 78h1v1h-1zM5 78h1v1h-1zM9 78h2v1h-2zM86 78h3v1h-3zM90 78h1v1h-1zM92 78h1v1h-1zM3 79h1v1h-1zM8 79h1v1h-1zM87 79h1v1h-1zM92 79h2v1h-2zM11 80h1v1h-1zM92 80h3v1h-3zM96 81h1v1h-1zM98 81h2v1h-2zM99 82h1v1h-1zM25 85h2v1h-2zM51 85h2v1h-2zM58 85h1v1h-1zM16 86h1v1h-1zM23 86h1v1h-1zM26 86h1v1h-1zM51 86h2v1h-2zM54 86h1v1h-1zM59 86h2v1h-2zM74 86h2v1h-2zM15 87h2v1h-2zM23 87h1v1h-1zM25 87h2v1h-2zM46 87h1v1h-1zM56 87h1v1h-1zM60 87h1v1h-1zM63 87h1v1h-1zM65 87h1v1h-1zM70 87h1v1h-1zM73 87h2v1h-2zM11 88h2v1h-2zM15 88h2v1h-2zM24 88h3v1h-3zM43 88h4v1h-4zM48 88h1v1h-1zM55 88h2v1h-2zM58 88h2v1h-2zM62 88h3v1h-3zM66 88h1v1h-1zM70 88h1v1h-1zM72 88h1v1h-1zM12 89h5v1h-5zM34 89h2v1h-2zM38 89h2v1h-2zM43 89h2v1h-2zM57 89h1v1h-1zM67 89h1v1h-1zM69 89h2v1h-2zM72 89h1v1h-1zM74 89h2v1h-2zM5 90h1v1h-1zM14 90h1v1h-1zM28 90h1v1h-1zM42 90h3v1h-3zM70 90h2v1h-2zM74 90h1v1h-1zM6 91h1v1h-1zM11 91h1v1h-1zM28 91h1v1h-1zM36 91h2v1h-2zM39 91h1v1h-1zM47 91h3v1h-3zM56 91h1v1h-1zM59 91h2v1h-2zM64 91h1v1h-1zM73 91h2v1h-2zM81 91h1v1h-1zM10 92h1v1h-1zM25 92h1v1h-1zM39 92h3v1h-3zM43 92h1v1h-1zM45 92h2v1h-2zM48 92h3v1h-3zM54 92h2v1h-2zM82 92h1v1h-1zM6 93h1v1h-1zM25 93h2v1h-2zM37 93h1v1h-1zM55 93h2v1h-2zM8 94h1v1h-1zM30 94h1v1h-1zM37 94h1v1h-1zM54 94h2v1h-2zM52 95h1v1h-1zM54 95h1v1h-1zM56 95h1v1h-1zM58 95h3v1h-3zM62 95h1v1h-1zM67 95h1v1h-1zM61 96h1v1h-1zM22 99h1v1h-1zM27 99h1v1h-1z"/>
<path fill="#aa0000" d="M6 0h1v1h-1zM17 0h2v1h-2zM33 0h2v1h-2zM42 0h1v1h-1zM45 0h5v1h-5zM54 0h1v1h-1zM56 0h1v1h-1zM82 0h2v1h-2zM87 0h1v1h-1zM97 0h1v1h-1zM36 1h4v1h-4zM49 1h1v1h-1zM82 1h1v1h-1zM85 1h1v1h-1zM90 1h1v1h-1zM97 1h3v1h-3zM23 2h2v1h-2zM42 2h3v1h-3zM46 2h1v1h-1zM49 2h1v1h-1zM57 3h1v1h-1zM46 4h1v1h-1zM62 4h1v1h-1zM97 4h2v1h-2zM2 5h1v1h-1zM44 5h1v1h-1zM0 6h2v1h-2zM43 6h1v1h-1zM89 6h1v1h-1zM99 6h1v1h-1zM42 7h3v1h-3zM50 7h2v1h-2zM53 7h1v1h-1zM86 7h1v1h-1zM88 7h2v1h-2zM97 7h2v1h-2zM0 8h1v1h-1zM22 8h1v1h-1zM31 8h1v1h-1zM35 8h2v1h-2zM38 8h1v1h-1zM48 8h2v1h-2zM54 8h1v1h-1zM56 8h2v1h-2zM60 8h2v1h-2zM63 8h4v1h-4zM75 8h1v1h-1zM97 8h2v1h-2zM0 9h1v1h-1zM21 9h1v1h-1zM23 9h1v1h-1zM28 9h1v1h-1zM47 9h1v1h-1zM54 9h2v1h-2zM57 9h4v1h-4zM70 9h1v1h-1zM2 10h1v1h-1zM26 10h1v1h-1zM56 10h2v1h-2zM59 10h1v1h-1zM69 10h2v1h-2zM0 13h1v1h-1zM44 13h2v1h-2zM67 13h1v1h-1zM72 13h1v1h-1zM74 13h3v1h-3zM80 13h3v1h-3zM98 13h2v1h-2zM30 14h1v1h-1zM44 14h4v1h-4zM52 14h2v1h-2zM73 14h1v1h-1zM75 14h1v1h-1zM78 14h3v1h-3zM98 14h2v1h-2zM45 15h1v1h-1zM47 15h2v1h-2zM69 15h2v1h-2zM73 15h4v1h-4zM80 15h1v1h-1zM0 16h1v1h-1zM4 16h2v1h-2zM38 16h1v1h-1zM50 16h2v1h-2zM67 16h1v1h-1zM74 16h1v1h-1zM76 16h1v1h-1zM0 17h3v1h-3zM34 17h2v1h-2zM42 17h1v1h-1zM46 17h1v1h-1zM56 17h1v1h-1zM64 17h3v1h-3zM70 17h3v1h-3zM40 18h2v1h-2zM81 18h1v1h-1zM4 19h1v1h-1zM83 19h1v1h-1zM92 19h1v1h-1zM3 20h3v1h-3zM82 20h1v1h-1zM5 21h2v1h-2zM84 21h1v1h-1zM96 21h1v1h-1zM98 21h1v1h-1zM6 22h1v1h-1zM84 22h1v1h-1zM93 22h1v1h-1zM98 22h1v1h-1zM5 23h1v1h-1zM7 23h2v1h-2zM10 23h1v1h-1zM86 23h1v1h-1zM97 23h2v1h-2zM1 24h1v1h-1zM4 24h2v1h-2zM86 24h1v1h-1zM6 25h1v1h-1zM86 25h1v1h-1zM96 25h1v1h-1zM99 25h1v1h-1zM86 26h1v1h-1zM98 26h1v1h-1zM0 27h2v1h-2zM87 27h1v1h-1zM89 27h1v1h-1zM95 27h1v1h-1zM99 30h1v1h-1zM1 31h1v1h-1zM96 31h2v1h-2zM52 32h1v1h-1zM97 32h1v1h-1zM94 33h1v1h-1zM99 37h1v1h-1zM2 38h2v1h-2zM18 38h1v1h-1zM20 38h1v1h-1zM98 38h1v1h-1zM13 39h1v1h-1zM24 39h1v1h-1zM13 40h1v1h-1zM25 40h1v1h-1zM5 41h1v1h-1zM13 41h1v1h-1zM18 41h2v1h-2zM22 41h2v1h-2zM96 41h2v1h-2zM20 43h2v1h-2zM71 43h1v1h-1zM67 44h1v1h-1zM75 44h1v1h-1zM78 44h1v1h-1zM64 45h1v1h-1zM79 45h1v1h-1zM68 46h1v1h-1zM74 46h2v1h-2zM1 47h1v1h-1zM9 47h1v1h-1zM76 47h1v1h-1zM13 48h1v1h-1zM30 48h2v1h-2zM34 48h1v1h-1zM97 51h1v1h-1zM99 51h1v1h-1zM88 52h2v1h-2zM92 52h2v1h-2zM96 52h3v1h-3zM4 53h1v1h-1zM7 53h1v1h-1zM84 53h1v1h-1zM2 54h1v1h-1zM11 54h1v1h-1zM36 54h1v1h-1zM97 54h3v1h-3zM0 55h1v1h-1zM13 55h3v1h-3zM38 55h1v1h-1zM5 56h2v1h-2zM8 56h1v1h-1zM13 56h2v1h-2zM35 56h2v1h-2zM40 56h1v1h-1zM83 56h1v1h-1zM84 57h1v1h-1zM90 58h2v1h-2zM84 59h1v1h-1zM93 59h1v1h-1zM2 60h1v1h-1zM5 60h7v1h-7zM88 60h5v1h-5zM4 61h3v1h-3zM9 61h1v1h-1zM89 61h1v1h-1zM91 61h3v1h-3zM1 62h1v1h-1zM2 63h1v1h-1zM5 63h1v1h-1zM9 63h1v1h-1zM13 63h2v1h-2zM19 63h1v1h-1zM21 63h1v1h-1zM1 64h1v1h-1zM8 64h2v1h-2zM1 65h2v1h-2zM10 65h3v1h-3zM21 65h1v1h-1zM83 65h1v1h-1zM7 66h1v1h-1zM15 66h1v1h-1zM21 66h1v1h-1zM1 67h2v1h-2zM6 67h2v1h-2zM13 67h3v1h-3zM20 67h3v1h-3zM83 67h1v1h-1zM9 68h3v1h-3zM13 68h1v1h-1zM20 68h1v1h-1zM42 68h1v1h-1zM83 68h1v1h-1zM8 69h3v1h-3zM14 69h3v1h-3zM20 69h2v1h-2zM23 69h2v1h-2zM41 69h1v1h-1zM2 70h2v1h-2zM16 70h1v1h-1zM40 70h2v1h-2zM84 70h1v1h-1zM24 71h1v1h-1zM3 72h1v1h-1zM6 72h2v1h-2zM9 72h1v1h-1zM18 72h3v1h-3zM83 72h1v1h-1zM2 73h2v1h-2zM12 73h4v1h-4zM84 73h2v1h-2zM11 74h2v1h-2zM14 74h2v1h-2zM86 74h1v1h-1zM1 75h1v1h-1zM8 75h8v1h-8zM87 75h1v1h-1zM1 76h1v1h-1zM3 76h1v1h-1zM11 76h5v1h-5zM85 76h1v1h-1zM11 77h4v1h-4zM19 77h2v1h-2zM91 77h1v1h-1zM2 78h1v1h-1zM6 78h3v1h-3zM91 78h1v1h-1zM0 79h1v1h-1zM4 79h1v1h-1zM7 79h1v1h-1zM12 79h1v1h-1zM14 79h2v1h-2zM18 79h1v1h-1zM21 79h2v1h-2zM42 79h1v1h-1zM86 79h1v1h-1zM94 79h2v1h-2zM0 80h1v1h-1zM4 80h5v1h-5zM88 80h1v1h-1zM3 81h1v1h-1zM43 81h1v1h-1zM89 81h2v1h-2zM94 81h2v1h-2zM97 82h1v1h-1zM17 84h1v1h-1zM57 84h2v1h-2zM99 84h1v1h-1zM17 85h1v1h-1zM23 85h2v1h-2zM27 85h1v1h-1zM56 85h1v1h-1zM60 85h2v1h-2zM15 86h1v1h-1zM17 86h1v1h-1zM22 86h1v1h-1zM47 86h2v1h-2zM50 86h1v1h-1zM53 86h1v1h-1zM55 86h2v1h-2zM61 86h1v1h-1zM72 86h2v1h-2zM76 86h1v1h-1zM12 87h2v1h-2zM17 87h1v1h-1zM61 87h2v1h-2zM64 87h1v1h-1zM66 87h1v1h-1zM68 87h2v1h-2zM75 87h1v1h-1zM79 87h2v1h-2zM9 88h2v1h-2zM13 88h2v1h-2zM17 88h1v1h-1zM22 88h2v1h-2zM40 88h3v1h-3zM47 88h1v1h-1zM60 88h2v1h-2zM67 88h3v1h-3zM73 88h2v1h-2zM78 88h1v1h-1zM80 88h1v1h-1zM6 89h1v1h-1zM17 89h1v1h-1zM30 89h1v1h-1zM40 89h3v1h-3zM45 89h1v1h-1zM49 89h2v1h-2zM53 89h4v1h-4zM63 89h4v1h-4zM68 89h1v1h-1zM73 89h1v1h-1zM76 89h2v1h-2zM79 89h2v1h-2zM15 90h2v1h-2zM27 90h1v1h-1zM45 90h1v1h-1zM48 90h2v1h-2zM52 90h2v1h-2zM57 90h2v1h-2zM67 90h3v1h-3zM72 90h2v1h-2zM75 90h1v1h-1zM3 91h1v1h-1zM12 91h1v1h-1zM25 91h3v1h-3zM34 91h1v1h-1zM50 91h5v1h-5zM61 91h3v1h-3zM75 91h1v1h-1zM80 91h1v1h-1zM82 91h1v1h-1zM7 92h1v1h-1zM11 92h1v1h-1zM13 92h1v1h-1zM24 92h1v1h-1zM42 92h1v1h-1zM44 92h1v1h-1zM47 92h1v1h-1zM51 92h3v1h-3zM74 92h1v1h-1zM80 92h1v1h-1zM5 93h1v1h-1zM38 93h1v1h-1zM54 93h1v1h-1zM73 93h1v1h-1zM81 93h1v1h-1zM7 94h1v1h-1zM9 94h1v1h-1zM29 94h1v1h-1zM53 94h1v1h-1zM25 95h1v1h-1zM33 95h2v1h-2zM51 95h1v1h-1zM53 95h1v1h-1zM55 95h1v1h-1zM66 95h1v1h-1zM70 95h1v1h-1zM19 96h2v1h-2zM38 96h2v1h-2zM57 96h1v1h-1zM60 96h1v1h-1zM62 96h1v1h-1zM70 96h1v1h-1zM73 96h1v1h-1zM16 97h2v1h-2zM19 97h1v1h-1zM23 97h1v1h-1zM37 97h6v1h-6zM60 97h1v1h-1zM23 98h1v1h-1zM90 98h2v1h-2zM0 99h2v1h-2zM19 99h3v1h-3zM89 99h2v1h-2z"/>
<path fill="#b50000" d="M0 0h1v1h-1zM16 0h1v1h-1zM19 0h1v1h-1zM31 0h2v1h-2zM39 0h3v1h-3zM43 0h2v1h-2zM50 0h4v1h-4zM77 0h2v1h-2zM81 0h1v1h-1zM84 0h3v1h-3zM0 1h2v1h-2zM33 1h3v1h-3zM50 1h1v1h-1zM54 1h2v1h-2zM81 1h1v1h-1zM84 1h1v1h-1zM86 1h1v1h-1zM89 1h1v1h-1zM25 2h1v1h-1zM36 2h2v1h-2zM41 2h1v1h-1zM45 2h1v1h-1zM47 2h2v1h-2zM50 2h7v1h-7zM1 3h1v1h-1zM46 3h3v1h-3zM58 3h1v1h-1zM1 4h2v1h-2zM43 4h3v1h-3zM47 4h2v1h-2zM63 4h3v1h-3zM92 4h2v1h-2zM96 4h1v1h-1zM99 4h1v1h-1zM19 5h1v1h-1zM42 5h1v1h-1zM45 5h3v1h-3zM49 5h1v1h-1zM86 5h1v1h-1zM89 5h1v1h-1zM44 6h1v1h-1zM48 6h2v1h-2zM86 6h3v1h-3zM2 7h1v1h-1zM47 7h3v1h-3zM52 7h1v1h-1zM54 7h1v1h-1zM57 7h4v1h-4zM85 7h1v1h-1zM87 7h1v1h-1zM99 7h1v1h-1zM1 8h1v1h-1zM20 8h2v1h-2zM23 8h1v1h-1zM30 8h1v1h-1zM32 8h3v1h-3zM45 8h3v1h-3zM50 8h4v1h-4zM55 8h1v1h-1zM58 8h2v1h-2zM67 8h3v1h-3zM72 8h3v1h-3zM78 8h1v1h-1zM84 8h1v1h-1zM99 8h1v1h-1zM1 9h2v1h-2zM20 9h1v1h-1zM24 9h1v1h-1zM56 9h1v1h-1zM23 10h3v1h-3zM3 11h1v1h-1zM26 11h1v1h-1zM3 12h1v1h-1zM27 12h1v1h-1zM3 13h1v1h-1zM68 13h4v1h-4zM1 14h1v1h-1zM27 14h1v1h-1zM67 14h1v1h-1zM2 15h1v1h-1zM28 15h1v1h-1zM71 15h2v1h-2zM32 16h1v1h-1zM68 16h1v1h-1zM75 16h1v1h-1zM3 17h1v1h-1zM33 17h1v1h-1zM37 17h1v1h-1zM39 17h1v1h-1zM47 17h3v1h-3zM52 17h1v1h-1zM57 17h1v1h-1zM67 17h1v1h-1zM69 17h1v1h-1zM73 17h5v1h-5zM42 18h2v1h-2zM45 18h2v1h-2zM54 18h1v1h-1zM58 18h4v1h-4zM63 18h1v1h-1zM66 18h2v1h-2zM80 18h1v1h-1zM3 19h1v1h-1zM5 19h1v1h-1zM1 20h2v1h-2zM6 20h1v1h-1zM0 21h1v1h-1zM3 21h2v1h-2zM7 21h1v1h-1zM97 21h1v1h-1zM4 22h2v1h-2zM94 22h4v1h-4zM85 23h1v1h-1zM94 23h2v1h-2zM6 24h2v1h-2zM11 24h1v1h-1zM10 25h1v1h-1zM97 25h2v1h-2zM9 26h1v1h-1zM85 26h1v1h-1zM6 27h2v1h-2zM86 27h1v1h-1zM88 27h1v1h-1zM96 27h2v1h-2zM4 28h1v1h-1zM91 28h4v1h-4zM99 29h1v1h-1zM98 30h1v1h-1zM0 31h1v1h-1zM2 31h1v1h-1zM95 31h1v1h-1zM0 32h1v1h-1zM2 32h1v1h-1zM51 32h1v1h-1zM53 32h1v1h-1zM94 32h3v1h-3zM93 33h1v1h-1zM93 34h1v1h-1zM94 35h1v1h-1zM94 36h1v1h-1zM93 37h2v1h-2zM14 38h4v1h-4zM19 38h1v1h-1zM21 38h2v1h-2zM74 38h2v1h-2zM92 38h2v1h-2zM95 38h2v1h-2zM15 39h2v1h-2zM25 39h1v1h-1zM93 39h2v1h-2zM2 40h5v1h-5zM10 40h3v1h-3zM6 41h2v1h-2zM12 41h1v1h-1zM24 41h1v1h-1zM95 41h1v1h-1zM98 41h1v1h-1zM20 42h4v1h-4zM5 43h1v1h-1zM22 43h2v1h-2zM69 43h2v1h-2zM72 43h2v1h-2zM77 43h2v1h-2zM0 44h2v1h-2zM20 44h2v1h-2zM66 44h1v1h-1zM79 44h2v1h-2zM23 45h1v1h-1zM80 45h1v1h-1zM0 46h1v1h-1zM67 46h1v1h-1zM77 46h1v1h-1zM0 47h1v1h-1zM2 47h6v1h-6zM10 47h2v1h-2zM13 47h1v1h-1zM31 47h2v1h-2zM72 47h4v1h-4zM77 47h1v1h-1zM0 48h1v1h-1zM14 48h1v1h-1zM29 48h1v1h-1zM35 48h1v1h-1zM76 48h2v1h-2zM97 48h2v1h-2zM88 51h1v1h-1zM96 51h1v1h-1zM3 52h3v1h-3zM86 52h1v1h-1zM91 52h1v1h-1zM94 52h2v1h-2zM83 53h1v1h-1zM97 53h2v1h-2zM10 54h1v1h-1zM12 54h1v1h-1zM30 54h1v1h-1zM37 54h2v1h-2zM82 54h1v1h-1zM16 55h1v1h-1zM1 56h2v1h-2zM4 56h1v1h-1zM7 56h1v1h-1zM9 56h1v1h-1zM12 56h1v1h-1zM33 56h1v1h-1zM37 56h3v1h-3zM92 59h1v1h-1zM1 60h1v1h-1zM3 60h2v1h-2zM12 60h2v1h-2zM39 60h1v1h-1zM2 61h2v1h-2zM15 61h1v1h-1zM39 61h3v1h-3zM90 61h1v1h-1zM16 62h2v1h-2zM40 62h3v1h-3zM3 63h2v1h-2zM6 63h3v1h-3zM20 63h1v1h-1zM41 63h1v1h-1zM82 63h1v1h-1zM0 64h1v1h-1zM23 64h1v1h-1zM0 65h1v1h-1zM8 65h1v1h-1zM14 65h1v1h-1zM38 65h3v1h-3zM22 66h1v1h-1zM82 66h1v1h-1zM8 67h4v1h-4zM21 68h2v1h-2zM41 68h1v1h-1zM12 69h1v1h-1zM22 69h1v1h-1zM40 69h1v1h-1zM42 69h1v1h-1zM83 69h1v1h-1zM39 70h1v1h-1zM38 71h2v1h-2zM41 71h1v1h-1zM83 71h1v1h-1zM4 72h2v1h-2zM22 72h1v1h-1zM1 73h1v1h-1zM4 73h1v1h-1zM8 73h4v1h-4zM16 73h1v1h-1zM3 74h2v1h-2zM6 74h2v1h-2zM9 74h2v1h-2zM13 74h1v1h-1zM85 74h1v1h-1zM0 75h1v1h-1zM16 75h2v1h-2zM0 76h1v1h-1zM2 76h1v1h-1zM16 76h3v1h-3zM84 76h1v1h-1zM4 77h1v1h-1zM21 77h1v1h-1zM85 77h1v1h-1zM0 78h1v1h-1zM3 78h2v1h-2zM11 78h1v1h-1zM15 78h1v1h-1zM41 78h3v1h-3zM85 78h1v1h-1zM5 79h2v1h-2zM13 79h1v1h-1zM16 79h2v1h-2zM19 79h2v1h-2zM41 79h1v1h-1zM12 80h1v1h-1zM14 80h1v1h-1zM22 80h1v1h-1zM87 80h1v1h-1zM95 80h1v1h-1zM4 81h4v1h-4zM9 81h1v1h-1zM42 81h1v1h-1zM44 81h3v1h-3zM88 81h1v1h-1zM91 81h1v1h-1zM0 82h2v1h-2zM5 82h2v1h-2zM21 82h4v1h-4zM95 82h2v1h-2zM98 82h1v1h-1zM18 83h1v1h-1zM22 83h1v1h-1zM0 84h2v1h-2zM16 84h1v1h-1zM18 84h1v1h-1zM25 84h2v1h-2zM62 84h1v1h-1zM16 85h1v1h-1zM18 85h2v1h-2zM22 85h1v1h-1zM28 85h1v1h-1zM48 85h3v1h-3zM53 85h1v1h-1zM55 85h1v1h-1zM59 85h1v1h-1zM62 85h3v1h-3zM98 85h2v1h-2zM14 86h1v1h-1zM18 86h1v1h-1zM21 86h1v1h-1zM27 86h1v1h-1zM49 86h1v1h-1zM63 86h3v1h-3zM71 86h1v1h-1zM77 86h2v1h-2zM11 87h1v1h-1zM14 87h1v1h-1zM21 87h2v1h-2zM27 87h1v1h-1zM39 87h3v1h-3zM44 87h2v1h-2zM67 87h1v1h-1zM76 87h1v1h-1zM78 87h1v1h-1zM81 87h1v1h-1zM94 87h1v1h-1zM96 87h1v1h-1zM8 88h1v1h-1zM39 88h1v1h-1zM75 88h3v1h-3zM79 88h1v1h-1zM81 88h1v1h-1zM5 89h1v1h-1zM19 89h2v1h-2zM22 89h1v1h-1zM25 89h2v1h-2zM28 89h2v1h-2zM31 89h1v1h-1zM33 89h1v1h-1zM46 89h1v1h-1zM48 89h1v1h-1zM51 89h2v1h-2zM59 89h1v1h-1zM62 89h1v1h-1zM78 89h1v1h-1zM4 90h1v1h-1zM17 90h1v1h-1zM25 90h2v1h-2zM46 90h2v1h-2zM50 90h2v1h-2zM54 90h3v1h-3zM64 90h3v1h-3zM0 91h3v1h-3zM13 91h1v1h-1zM16 91h1v1h-1zM21 91h3v1h-3zM35 91h1v1h-1zM55 91h1v1h-1zM83 91h2v1h-2zM4 92h3v1h-3zM12 92h1v1h-1zM22 92h2v1h-2zM75 92h1v1h-1zM79 92h1v1h-1zM83 92h2v1h-2zM2 93h1v1h-1zM4 93h1v1h-1zM11 93h1v1h-1zM24 93h1v1h-1zM39 93h2v1h-2zM48 93h2v1h-2zM53 93h1v1h-1zM74 93h1v1h-1zM82 93h1v1h-1zM25 94h1v1h-1zM27 94h2v1h-2zM38 94h4v1h-4zM52 94h1v1h-1zM72 94h1v1h-1zM8 95h2v1h-2zM19 95h1v1h-1zM22 95h3v1h-3zM26 95h1v1h-1zM35 95h1v1h-1zM37 95h1v1h-1zM39 95h1v1h-1zM48 95h3v1h-3zM63 95h2v1h-2zM68 95h2v1h-2zM90 95h2v1h-2zM15 96h4v1h-4zM21 96h1v1h-1zM34 96h1v1h-1zM37 96h1v1h-1zM42 96h1v1h-1zM48 96h1v1h-1zM56 96h1v1h-1zM58 96h2v1h-2zM67 96h1v1h-1zM69 96h1v1h-1zM71 96h2v1h-2zM74 96h1v1h-1zM15 97h1v1h-1zM18 97h1v1h-1zM20 97h3v1h-3zM24 97h1v1h-1zM43 97h1v1h-1zM47 97h1v1h-1zM57 97h2v1h-2zM61 97h1v1h-1zM72 97h2v1h-2zM90 97h2v1h-2zM22 98h1v1h-1zM16 99h3v1h-3zM28 99h2v1h-2zM87 99h2v1h-2z"/>
<path fill="#bf0000" d="M7 0h1v1h-1zM14 0h2v1h-2zM20 0h1v1h-1zM24 0h3v1h-3zM30 0h1v1h-1zM57 0h3v1h-3zM72 0h2v1h-2zM76 0h1v1h-1zM79 0h2v1h-2zM98 0h2v1h-2zM2 1h2v1h-2zM28 1h1v1h-1zM51 1h1v1h-1zM53 1h1v1h-1zM56 1h1v1h-1zM78 1h2v1h-2zM88 1h1v1h-1zM22 2h1v1h-1zM26 2h3v1h-3zM30 2h6v1h-6zM38 2h3v1h-3zM57 2h1v1h-1zM81 2h6v1h-6zM94 2h1v1h-1zM0 3h1v1h-1zM2 3h1v1h-1zM23 3h4v1h-4zM41 3h2v1h-2zM45 3h1v1h-1zM59 3h2v1h-2zM0 4h1v1h-1zM20 4h1v1h-1zM42 4h1v1h-1zM66 4h1v1h-1zM85 4h1v1h-1zM91 4h1v1h-1zM94 4h2v1h-2zM20 5h1v1h-1zM41 5h1v1h-1zM48 5h1v1h-1zM50 5h5v1h-5zM83 5h1v1h-1zM85 5h1v1h-1zM87 5h2v1h-2zM2 6h1v1h-1zM41 6h2v1h-2zM47 6h1v1h-1zM50 6h1v1h-1zM20 7h1v1h-1zM40 7h2v1h-2zM45 7h2v1h-2zM55 7h2v1h-2zM61 7h6v1h-6zM72 7h1v1h-1zM84 7h1v1h-1zM2 8h1v1h-1zM18 8h2v1h-2zM24 8h2v1h-2zM28 8h2v1h-2zM70 8h2v1h-2zM79 8h1v1h-1zM82 8h2v1h-2zM3 9h1v1h-1zM19 9h1v1h-1zM25 9h3v1h-3zM3 10h1v1h-1zM22 10h1v1h-1zM25 11h1v1h-1zM4 12h1v1h-1zM2 14h1v1h-1zM70 14h3v1h-3zM1 15h1v1h-1zM3 15h3v1h-3zM6 16h1v1h-1zM29 16h3v1h-3zM69 16h5v1h-5zM4 17h1v1h-1zM32 17h1v1h-1zM38 17h1v1h-1zM50 17h2v1h-2zM68 17h1v1h-1zM0 18h5v1h-5zM39 18h1v1h-1zM44 18h1v1h-1zM53 18h1v1h-1zM55 18h1v1h-1zM57 18h1v1h-1zM62 18h1v1h-1zM64 18h2v1h-2zM68 18h1v1h-1zM79 18h1v1h-1zM1 19h2v1h-2zM40 19h4v1h-4zM82 19h1v1h-1zM0 20h1v1h-1zM7 20h1v1h-1zM83 21h1v1h-1zM7 22h1v1h-1zM11 23h1v1h-1zM96 23h1v1h-1zM85 24h1v1h-1zM85 25h1v1h-1zM10 26h1v1h-1zM37 26h4v1h-4zM83 26h2v1h-2zM8 27h1v1h-1zM37 27h1v1h-1zM83 27h2v1h-2zM98 27h2v1h-2zM0 28h2v1h-2zM3 28h1v1h-1zM5 28h1v1h-1zM90 28h1v1h-1zM95 28h1v1h-1zM1 30h2v1h-2zM97 30h1v1h-1zM94 31h1v1h-1zM1 32h1v1h-1zM3 32h1v1h-1zM5 32h2v1h-2zM2 33h1v1h-1zM52 33h2v1h-2zM0 34h3v1h-3zM94 34h1v1h-1zM93 35h1v1h-1zM0 36h1v1h-1zM93 36h1v1h-1zM0 37h1v1h-1zM23 37h1v1h-1zM76 37h2v1h-2zM79 37h2v1h-2zM92 37h1v1h-1zM1 38h1v1h-1zM4 38h1v1h-1zM13 38h1v1h-1zM23 38h1v1h-1zM72 38h2v1h-2zM76 38h1v1h-1zM88 38h2v1h-2zM91 38h1v1h-1zM94 38h1v1h-1zM99 38h1v1h-1zM12 39h1v1h-1zM26 39h1v1h-1zM95 39h3v1h-3zM0 40h2v1h-2zM7 40h3v1h-3zM26 40h1v1h-1zM2 41h3v1h-3zM10 41h2v1h-2zM25 41h1v1h-1zM70 41h2v1h-2zM74 41h1v1h-1zM86 41h3v1h-3zM99 41h1v1h-1zM5 42h1v1h-1zM13 42h3v1h-3zM24 42h1v1h-1zM69 42h1v1h-1zM73 42h2v1h-2zM83 42h1v1h-1zM0 43h5v1h-5zM19 43h1v1h-1zM24 43h1v1h-1zM57 43h2v1h-2zM60 43h2v1h-2zM64 43h1v1h-1zM67 43h2v1h-2zM74 43h1v1h-1zM76 43h1v1h-1zM79 43h1v1h-1zM82 43h1v1h-1zM2 44h1v1h-1zM19 44h1v1h-1zM22 44h2v1h-2zM63 44h3v1h-3zM81 44h2v1h-2zM19 45h4v1h-4zM24 45h1v1h-1zM63 45h1v1h-1zM81 45h1v1h-1zM1 46h2v1h-2zM66 46h1v1h-1zM78 46h1v1h-1zM84 46h2v1h-2zM33 47h1v1h-1zM71 47h1v1h-1zM78 47h1v1h-1zM95 47h2v1h-2zM27 48h2v1h-2zM36 48h1v1h-1zM73 48h3v1h-3zM78 48h2v1h-2zM95 48h2v1h-2zM99 48h1v1h-1zM33 49h2v1h-2zM95 49h1v1h-1zM97 49h1v1h-1zM88 50h1v1h-1zM98 50h1v1h-1zM87 51h1v1h-1zM89 51h1v1h-1zM95 51h1v1h-1zM2 52h1v1h-1zM6 52h1v1h-1zM9 52h1v1h-1zM85 52h1v1h-1zM87 52h1v1h-1zM99 52h1v1h-1zM3 53h1v1h-1zM8 53h1v1h-1zM1 54h1v1h-1zM30 55h1v1h-1zM39 55h2v1h-2zM0 56h1v1h-1zM3 56h1v1h-1zM10 56h2v1h-2zM15 56h2v1h-2zM42 56h1v1h-1zM5 57h1v1h-1zM9 57h2v1h-2zM12 57h1v1h-1zM35 57h2v1h-2zM38 57h3v1h-3zM9 58h1v1h-1zM11 58h2v1h-2zM10 59h2v1h-2zM39 59h3v1h-3zM14 60h1v1h-1zM37 60h2v1h-2zM40 60h2v1h-2zM83 60h1v1h-1zM1 61h1v1h-1zM37 61h1v1h-1zM42 61h1v1h-1zM0 62h1v1h-1zM18 62h2v1h-2zM43 62h1v1h-1zM1 63h1v1h-1zM22 63h1v1h-1zM40 63h1v1h-1zM42 63h3v1h-3zM37 64h2v1h-2zM9 65h1v1h-1zM13 65h1v1h-1zM22 65h1v1h-1zM37 65h1v1h-1zM41 65h1v1h-1zM82 65h1v1h-1zM8 66h7v1h-7zM12 67h1v1h-1zM23 67h1v1h-1zM82 67h1v1h-1zM12 68h1v1h-1zM23 68h1v1h-1zM40 68h1v1h-1zM43 68h1v1h-1zM13 69h1v1h-1zM25 69h1v1h-1zM33 69h2v1h-2zM39 69h1v1h-1zM25 70h1v1h-1zM38 70h1v1h-1zM42 70h1v1h-1zM83 70h1v1h-1zM25 71h1v1h-1zM40 71h1v1h-1zM42 71h1v1h-1zM23 72h2v1h-2zM5 73h3v1h-3zM17 73h3v1h-3zM83 73h1v1h-1zM5 74h1v1h-1zM8 74h1v1h-1zM16 74h1v1h-1zM18 74h2v1h-2zM21 74h2v1h-2zM84 74h1v1h-1zM18 75h4v1h-4zM84 75h3v1h-3zM19 76h3v1h-3zM1 77h3v1h-3zM41 77h2v1h-2zM12 78h3v1h-3zM16 78h3v1h-3zM37 78h2v1h-2zM44 78h1v1h-1zM23 79h1v1h-1zM37 79h3v1h-3zM43 79h1v1h-1zM13 80h1v1h-1zM15 80h1v1h-1zM21 80h1v1h-1zM8 81h1v1h-1zM10 81h2v1h-2zM15 81h5v1h-5zM22 81h2v1h-2zM41 81h1v1h-1zM92 81h2v1h-2zM2 82h1v1h-1zM4 82h1v1h-1zM7 82h1v1h-1zM15 82h6v1h-6zM25 82h1v1h-1zM43 82h2v1h-2zM89 82h1v1h-1zM94 82h1v1h-1zM17 83h1v1h-1zM19 83h1v1h-1zM21 83h1v1h-1zM23 83h1v1h-1zM25 83h1v1h-1zM49 83h1v1h-1zM99 83h1v1h-1zM2 84h1v1h-1zM14 84h2v1h-2zM19 84h1v1h-1zM22 84h3v1h-3zM27 84h1v1h-1zM49 84h5v1h-5zM56 84h1v1h-1zM59 84h3v1h-3zM97 84h2v1h-2zM14 85h2v1h-2zM20 85h2v1h-2zM47 85h1v1h-1zM54 85h1v1h-1zM65 85h1v1h-1zM73 85h2v1h-2zM19 86h2v1h-2zM45 86h2v1h-2zM62 86h1v1h-1zM66 86h1v1h-1zM70 86h1v1h-1zM79 86h1v1h-1zM99 86h1v1h-1zM2 87h1v1h-1zM7 87h4v1h-4zM18 87h1v1h-1zM43 87h1v1h-1zM77 87h1v1h-1zM93 87h1v1h-1zM95 87h1v1h-1zM97 87h3v1h-3zM1 88h2v1h-2zM7 88h1v1h-1zM18 88h4v1h-4zM27 88h1v1h-1zM38 88h1v1h-1zM93 88h1v1h-1zM95 88h2v1h-2zM98 88h2v1h-2zM4 89h1v1h-1zM18 89h1v1h-1zM21 89h1v1h-1zM23 89h2v1h-2zM27 89h1v1h-1zM32 89h1v1h-1zM47 89h1v1h-1zM60 89h2v1h-2zM81 89h1v1h-1zM22 90h3v1h-3zM59 90h1v1h-1zM61 90h3v1h-3zM76 90h2v1h-2zM79 90h5v1h-5zM14 91h2v1h-2zM17 91h1v1h-1zM24 91h1v1h-1zM76 91h1v1h-1zM79 91h1v1h-1zM85 91h1v1h-1zM3 92h1v1h-1zM14 92h4v1h-4zM19 92h3v1h-3zM76 92h1v1h-1zM78 92h1v1h-1zM85 92h1v1h-1zM3 93h1v1h-1zM41 93h2v1h-2zM50 93h3v1h-3zM78 93h1v1h-1zM80 93h1v1h-1zM85 93h2v1h-2zM2 94h2v1h-2zM6 94h1v1h-1zM10 94h1v1h-1zM24 94h1v1h-1zM26 94h1v1h-1zM42 94h1v1h-1zM73 94h1v1h-1zM7 95h1v1h-1zM17 95h2v1h-2zM20 95h2v1h-2zM27 95h6v1h-6zM36 95h1v1h-1zM38 95h1v1h-1zM40 95h3v1h-3zM65 95h1v1h-1zM71 95h3v1h-3zM89 95h1v1h-1zM0 96h1v1h-1zM14 96h1v1h-1zM22 96h5v1h-5zM33 96h1v1h-1zM35 96h2v1h-2zM40 96h2v1h-2zM43 96h1v1h-1zM47 96h1v1h-1zM49 96h2v1h-2zM54 96h1v1h-1zM63 96h1v1h-1zM66 96h1v1h-1zM68 96h1v1h-1zM76 96h1v1h-1zM89 96h2v1h-2zM25 97h2v1h-2zM34 97h3v1h-3zM44 97h1v1h-1zM48 97h1v1h-1zM59 97h1v1h-1zM62 97h1v1h-1zM66 97h1v1h-1zM68 97h4v1h-4zM75 97h2v1h-2zM20 98h2v1h-2zM24 98h1v1h-1zM26 98h1v1h-1zM37 98h1v1h-1zM59 98h1v1h-1zM86 98h1v1h-1zM89 98h1v1h-1zM92 98h1v1h-1zM2 99h1v1h-1zM14 99h2v1h-2zM30 99h1v1h-1zM32 99h3v1h-3zM36 99h2v1h-2zM86 99h1v1h-1zM91 99h1v1h-1z"/>
<path fill="#ca0000" d="M13 0h1v1h-1zM21 0h1v1h-1zM23 0h1v1h-1zM27 0h3v1h-3zM60 0h1v1h-1zM62 0h2v1h-2zM68 0h2v1h-2zM71 0h1v1h-1zM74 0h2v1h-2zM17 1h1v1h-1zM29 1h4v1h-4zM52 1h1v1h-1zM57 1h1v1h-1zM80 1h1v1h-1zM87 1h1v1h-1zM1 2h3v1h-3zM17 2h2v1h-2zM29 2h1v1h-1zM80 2h1v1h-1zM91 2h3v1h-3zM95 2h4v1h-4zM3 3h2v1h-2zM17 3h6v1h-6zM39 3h2v1h-2zM43 3h2v1h-2zM61 3h2v1h-2zM98 3h1v1h-1zM19 4h1v1h-1zM21 4h6v1h-6zM40 4h2v1h-2zM67 4h2v1h-2zM71 4h3v1h-3zM86 4h1v1h-1zM90 4h1v1h-1zM17 5h2v1h-2zM84 5h1v1h-1zM45 6h2v1h-2zM85 6h1v1h-1zM19 7h1v1h-1zM21 7h2v1h-2zM67 7h1v1h-1zM69 7h1v1h-1zM71 7h1v1h-1zM73 7h1v1h-1zM76 7h2v1h-2zM83 7h1v1h-1zM17 8h1v1h-1zM27 8h1v1h-1zM80 8h2v1h-2zM18 9h1v1h-1zM21 10h1v1h-1zM23 11h2v1h-2zM26 12h1v1h-1zM4 13h1v1h-1zM26 13h1v1h-1zM0 14h1v1h-1zM68 14h2v1h-2zM0 15h1v1h-1zM6 15h1v1h-1zM27 15h1v1h-1zM7 16h1v1h-1zM5 17h1v1h-1zM31 17h1v1h-1zM5 18h1v1h-1zM34 18h2v1h-2zM38 18h1v1h-1zM47 18h1v1h-1zM56 18h1v1h-1zM69 18h2v1h-2zM72 18h4v1h-4zM78 18h1v1h-1zM0 19h1v1h-1zM6 19h3v1h-3zM35 19h5v1h-5zM81 19h1v1h-1zM8 20h1v1h-1zM8 21h1v1h-1zM8 22h3v1h-3zM84 23h1v1h-1zM84 24h1v1h-1zM11 25h2v1h-2zM84 25h1v1h-1zM11 26h1v1h-1zM41 26h1v1h-1zM82 26h1v1h-1zM9 27h1v1h-1zM36 27h1v1h-1zM38 27h1v1h-1zM85 27h1v1h-1zM2 28h1v1h-1zM83 28h3v1h-3zM87 28h2v1h-2zM96 28h1v1h-1zM99 28h1v1h-1zM0 29h1v1h-1zM98 29h1v1h-1zM0 30h1v1h-1zM96 30h1v1h-1zM4 32h1v1h-1zM7 32h2v1h-2zM50 32h1v1h-1zM54 32h1v1h-1zM56 32h1v1h-1zM93 32h1v1h-1zM1 33h1v1h-1zM3 33h1v1h-1zM54 33h1v1h-1zM92 33h1v1h-1zM92 34h1v1h-1zM91 35h1v1h-1zM2 36h1v1h-1zM92 36h1v1h-1zM1 37h3v1h-3zM20 37h1v1h-1zM22 37h1v1h-1zM24 37h1v1h-1zM73 37h3v1h-3zM78 37h1v1h-1zM81 37h1v1h-1zM89 37h1v1h-1zM0 38h1v1h-1zM12 38h1v1h-1zM24 38h2v1h-2zM77 38h1v1h-1zM80 38h3v1h-3zM90 38h1v1h-1zM2 39h2v1h-2zM11 39h1v1h-1zM27 39h1v1h-1zM68 39h2v1h-2zM88 39h5v1h-5zM98 39h1v1h-1zM27 40h1v1h-1zM69 40h2v1h-2zM94 40h1v1h-1zM96 40h2v1h-2zM0 41h2v1h-2zM8 41h1v1h-1zM26 41h1v1h-1zM56 41h5v1h-5zM66 41h4v1h-4zM72 41h1v1h-1zM83 41h3v1h-3zM89 41h3v1h-3zM94 41h1v1h-1zM0 42h1v1h-1zM16 42h4v1h-4zM25 42h1v1h-1zM60 42h9v1h-9zM70 42h3v1h-3zM75 42h3v1h-3zM79 42h1v1h-1zM81 42h2v1h-2zM84 42h5v1h-5zM6 43h1v1h-1zM15 43h2v1h-2zM18 43h1v1h-1zM25 43h1v1h-1zM56 43h1v1h-1zM59 43h1v1h-1zM62 43h2v1h-2zM65 43h2v1h-2zM75 43h1v1h-1zM80 43h2v1h-2zM83 43h3v1h-3zM3 44h3v1h-3zM18 44h1v1h-1zM24 44h1v1h-1zM61 44h2v1h-2zM83 44h3v1h-3zM0 45h1v1h-1zM25 45h2v1h-2zM62 45h1v1h-1zM82 45h4v1h-4zM87 45h2v1h-2zM24 46h1v1h-1zM29 46h1v1h-1zM83 46h1v1h-1zM89 46h1v1h-1zM91 46h1v1h-1zM14 47h1v1h-1zM29 47h2v1h-2zM34 47h1v1h-1zM68 47h3v1h-3zM84 47h2v1h-2zM93 47h2v1h-2zM97 47h1v1h-1zM15 48h1v1h-1zM72 48h1v1h-1zM84 48h2v1h-2zM93 48h2v1h-2zM6 49h4v1h-4zM32 49h1v1h-1zM96 49h1v1h-1zM98 49h1v1h-1zM0 50h1v1h-1zM83 50h2v1h-2zM97 50h1v1h-1zM99 50h1v1h-1zM4 51h3v1h-3zM8 51h2v1h-2zM85 51h2v1h-2zM90 51h1v1h-1zM93 51h2v1h-2zM0 52h2v1h-2zM7 52h2v1h-2zM2 53h1v1h-1zM9 53h1v1h-1zM32 53h2v1h-2zM35 53h3v1h-3zM99 53h1v1h-1zM0 54h1v1h-1zM13 54h2v1h-2zM39 54h1v1h-1zM17 55h1v1h-1zM41 55h1v1h-1zM82 55h1v1h-1zM32 56h1v1h-1zM0 57h5v1h-5zM6 57h3v1h-3zM11 57h1v1h-1zM13 57h1v1h-1zM34 57h1v1h-1zM41 57h1v1h-1zM83 57h1v1h-1zM2 58h1v1h-1zM5 58h4v1h-4zM10 58h1v1h-1zM13 58h1v1h-1zM83 58h1v1h-1zM2 59h1v1h-1zM6 59h2v1h-2zM9 59h1v1h-1zM12 59h2v1h-2zM35 59h1v1h-1zM38 59h1v1h-1zM83 59h1v1h-1zM0 60h1v1h-1zM15 60h1v1h-1zM35 60h2v1h-2zM16 61h1v1h-1zM38 61h1v1h-1zM43 61h1v1h-1zM82 61h1v1h-1zM20 62h2v1h-2zM39 62h1v1h-1zM44 62h1v1h-1zM82 62h1v1h-1zM0 63h1v1h-1zM23 63h1v1h-1zM39 63h1v1h-1zM45 63h1v1h-1zM33 64h4v1h-4zM39 64h2v1h-2zM82 64h1v1h-1zM23 65h2v1h-2zM35 65h2v1h-2zM42 65h1v1h-1zM44 65h1v1h-1zM23 66h1v1h-1zM33 66h3v1h-3zM38 66h3v1h-3zM24 67h1v1h-1zM33 68h2v1h-2zM36 68h4v1h-4zM45 68h1v1h-1zM49 68h2v1h-2zM82 68h1v1h-1zM35 69h4v1h-4zM43 69h2v1h-2zM37 70h1v1h-1zM43 70h1v1h-1zM37 71h1v1h-1zM43 71h1v1h-1zM38 72h2v1h-2zM41 72h2v1h-2zM0 74h3v1h-3zM17 74h1v1h-1zM20 74h1v1h-1zM23 74h1v1h-1zM22 75h1v1h-1zM40 75h1v1h-1zM39 76h3v1h-3zM43 76h1v1h-1zM83 76h1v1h-1zM22 77h1v1h-1zM37 77h2v1h-2zM40 77h1v1h-1zM43 77h1v1h-1zM84 77h1v1h-1zM19 78h1v1h-1zM33 78h1v1h-1zM36 78h1v1h-1zM39 78h2v1h-2zM84 78h1v1h-1zM32 79h1v1h-1zM35 79h2v1h-2zM40 79h1v1h-1zM44 79h1v1h-1zM52 79h1v1h-1zM85 79h1v1h-1zM16 80h1v1h-1zM18 80h3v1h-3zM23 80h1v1h-1zM34 80h6v1h-6zM43 80h1v1h-1zM45 80h1v1h-1zM86 80h1v1h-1zM12 81h3v1h-3zM20 81h2v1h-2zM24 81h1v1h-1zM40 81h1v1h-1zM47 81h1v1h-1zM87 81h1v1h-1zM3 82h1v1h-1zM8 82h1v1h-1zM14 82h1v1h-1zM45 82h3v1h-3zM88 82h1v1h-1zM90 82h3v1h-3zM0 83h2v1h-2zM16 83h1v1h-1zM20 83h1v1h-1zM24 83h1v1h-1zM26 83h1v1h-1zM46 83h1v1h-1zM50 83h1v1h-1zM53 83h1v1h-1zM57 83h2v1h-2zM60 83h3v1h-3zM90 83h2v1h-2zM95 83h4v1h-4zM20 84h2v1h-2zM48 84h1v1h-1zM54 84h2v1h-2zM63 84h1v1h-1zM1 85h2v1h-2zM29 85h1v1h-1zM46 85h1v1h-1zM66 85h1v1h-1zM70 85h3v1h-3zM75 85h1v1h-1zM97 85h1v1h-1zM1 86h2v1h-2zM4 86h1v1h-1zM13 86h1v1h-1zM28 86h1v1h-1zM44 86h1v1h-1zM67 86h3v1h-3zM80 86h1v1h-1zM97 86h2v1h-2zM1 87h1v1h-1zM4 87h3v1h-3zM19 87h2v1h-2zM42 87h1v1h-1zM0 88h1v1h-1zM3 88h2v1h-2zM6 88h1v1h-1zM37 88h1v1h-1zM82 88h1v1h-1zM94 88h1v1h-1zM97 88h1v1h-1zM1 89h1v1h-1zM3 89h1v1h-1zM82 89h2v1h-2zM99 89h1v1h-1zM0 90h1v1h-1zM3 90h1v1h-1zM18 90h1v1h-1zM21 90h1v1h-1zM60 90h1v1h-1zM78 90h1v1h-1zM84 90h1v1h-1zM20 91h1v1h-1zM77 91h2v1h-2zM2 92h1v1h-1zM18 92h1v1h-1zM77 92h1v1h-1zM86 92h1v1h-1zM1 93h1v1h-1zM12 93h2v1h-2zM17 93h7v1h-7zM43 93h3v1h-3zM47 93h1v1h-1zM75 93h2v1h-2zM79 93h1v1h-1zM83 93h2v1h-2zM92 93h1v1h-1zM1 94h1v1h-1zM4 94h2v1h-2zM17 94h3v1h-3zM22 94h2v1h-2zM49 94h3v1h-3zM79 94h5v1h-5zM85 94h2v1h-2zM91 94h1v1h-1zM0 95h2v1h-2zM3 95h1v1h-1zM14 95h3v1h-3zM47 95h1v1h-1zM85 95h4v1h-4zM1 96h1v1h-1zM9 96h1v1h-1zM27 96h1v1h-1zM30 96h1v1h-1zM32 96h1v1h-1zM44 96h1v1h-1zM51 96h3v1h-3zM55 96h1v1h-1zM64 96h2v1h-2zM75 96h1v1h-1zM85 96h3v1h-3zM14 97h1v1h-1zM29 97h2v1h-2zM45 97h2v1h-2zM49 97h1v1h-1zM56 97h1v1h-1zM63 97h1v1h-1zM65 97h1v1h-1zM67 97h1v1h-1zM74 97h1v1h-1zM77 97h2v1h-2zM89 97h1v1h-1zM92 97h1v1h-1zM16 98h2v1h-2zM19 98h1v1h-1zM25 98h1v1h-1zM27 98h1v1h-1zM36 98h1v1h-1zM38 98h1v1h-1zM42 98h1v1h-1zM58 98h1v1h-1zM60 98h1v1h-1zM85 98h1v1h-1zM87 98h2v1h-2zM13 99h1v1h-1zM31 99h1v1h-1zM35 99h1v1h-1zM38 99h1v1h-1zM40 99h2v1h-2zM53 99h1v1h-1zM59 99h2v1h-2zM62 99h1v1h-1z"/>
<path fill="#d40000" d="M8 0h1v1h-1zM11 0h1v1h-1zM22 0h1v1h-1zM61 0h1v1h-1zM67 0h1v1h-1zM70 0h1v1h-1zM4 1h1v1h-1zM18 1h1v1h-1zM22 1h6v1h-6zM72 1h6v1h-6zM0 2h1v1h-1zM4 2h1v1h-1zM19 2h3v1h-3zM79 2h1v1h-1zM87 2h1v1h-1zM90 2h1v1h-1zM99 2h1v1h-1zM27 3h1v1h-1zM30 3h5v1h-5zM36 3h1v1h-1zM63 3h1v1h-1zM65 3h1v1h-1zM70 3h4v1h-4zM85 3h2v1h-2zM94 3h4v1h-4zM3 4h1v1h-1zM17 4h2v1h-2zM39 4h1v1h-1zM69 4h2v1h-2zM74 4h1v1h-1zM84 4h1v1h-1zM89 4h1v1h-1zM3 5h1v1h-1zM16 5h1v1h-1zM21 5h1v1h-1zM24 5h2v1h-2zM40 5h1v1h-1zM55 5h1v1h-1zM60 5h1v1h-1zM74 5h4v1h-4zM79 5h4v1h-4zM19 6h2v1h-2zM40 6h1v1h-1zM51 6h1v1h-1zM53 6h2v1h-2zM82 6h3v1h-3zM23 7h1v1h-1zM30 7h2v1h-2zM34 7h1v1h-1zM39 7h1v1h-1zM68 7h1v1h-1zM70 7h1v1h-1zM74 7h2v1h-2zM78 7h2v1h-2zM82 7h1v1h-1zM26 8h1v1h-1zM17 9h1v1h-1zM19 10h1v1h-1zM4 11h1v1h-1zM24 12h2v1h-2zM5 13h1v1h-1zM3 14h1v1h-1zM28 16h1v1h-1zM6 17h1v1h-1zM6 18h2v1h-2zM33 18h1v1h-1zM36 18h2v1h-2zM48 18h5v1h-5zM71 18h1v1h-1zM76 18h2v1h-2zM34 19h1v1h-1zM44 19h2v1h-2zM76 19h1v1h-1zM81 20h1v1h-1zM9 21h2v1h-2zM82 21h1v1h-1zM11 22h1v1h-1zM83 22h1v1h-1zM12 24h1v1h-1zM37 25h2v1h-2zM41 25h1v1h-1zM82 25h2v1h-2zM36 26h1v1h-1zM42 26h1v1h-1zM10 27h1v1h-1zM35 27h1v1h-1zM39 27h2v1h-2zM82 27h1v1h-1zM6 28h4v1h-4zM86 28h1v1h-1zM89 28h1v1h-1zM97 28h2v1h-2zM1 29h1v1h-1zM5 29h1v1h-1zM91 29h1v1h-1zM97 29h1v1h-1zM86 30h1v1h-1zM90 30h2v1h-2zM94 30h2v1h-2zM3 31h5v1h-5zM51 31h2v1h-2zM86 31h2v1h-2zM90 31h4v1h-4zM9 32h1v1h-1zM48 32h2v1h-2zM55 32h1v1h-1zM92 32h1v1h-1zM0 33h1v1h-1zM4 33h1v1h-1zM19 33h1v1h-1zM51 33h1v1h-1zM55 33h1v1h-1zM91 33h1v1h-1zM3 34h2v1h-2zM18 34h1v1h-1zM20 34h1v1h-1zM91 34h1v1h-1zM0 35h3v1h-3zM17 35h3v1h-3zM92 35h1v1h-1zM1 36h1v1h-1zM3 36h1v1h-1zM19 36h5v1h-5zM4 37h1v1h-1zM15 37h5v1h-5zM21 37h1v1h-1zM25 37h1v1h-1zM72 37h1v1h-1zM82 37h1v1h-1zM88 37h1v1h-1zM90 37h2v1h-2zM5 38h1v1h-1zM26 38h1v1h-1zM71 38h1v1h-1zM78 38h2v1h-2zM83 38h1v1h-1zM85 38h3v1h-3zM1 39h1v1h-1zM4 39h1v1h-1zM10 39h1v1h-1zM28 39h1v1h-1zM55 39h1v1h-1zM65 39h3v1h-3zM70 39h6v1h-6zM80 39h2v1h-2zM85 39h3v1h-3zM99 39h1v1h-1zM67 40h2v1h-2zM71 40h1v1h-1zM74 40h2v1h-2zM84 40h1v1h-1zM86 40h4v1h-4zM93 40h1v1h-1zM95 40h1v1h-1zM98 40h1v1h-1zM9 41h1v1h-1zM27 41h1v1h-1zM61 41h3v1h-3zM65 41h1v1h-1zM73 41h1v1h-1zM75 41h1v1h-1zM81 41h2v1h-2zM1 42h4v1h-4zM6 42h1v1h-1zM10 42h1v1h-1zM12 42h1v1h-1zM26 42h1v1h-1zM57 42h1v1h-1zM59 42h1v1h-1zM78 42h1v1h-1zM80 42h1v1h-1zM89 42h1v1h-1zM98 42h2v1h-2zM13 43h2v1h-2zM17 43h1v1h-1zM55 43h1v1h-1zM86 43h1v1h-1zM88 43h3v1h-3zM99 43h1v1h-1zM6 44h1v1h-1zM17 44h1v1h-1zM25 44h1v1h-1zM60 44h1v1h-1zM88 44h1v1h-1zM1 45h2v1h-2zM18 45h1v1h-1zM27 45h1v1h-1zM86 45h1v1h-1zM89 45h3v1h-3zM3 46h1v1h-1zM6 46h3v1h-3zM20 46h4v1h-4zM25 46h1v1h-1zM28 46h1v1h-1zM30 46h2v1h-2zM65 46h1v1h-1zM79 46h1v1h-1zM82 46h1v1h-1zM86 46h1v1h-1zM88 46h1v1h-1zM90 46h1v1h-1zM92 46h1v1h-1zM94 46h3v1h-3zM15 47h1v1h-1zM28 47h1v1h-1zM35 47h1v1h-1zM79 47h1v1h-1zM86 47h1v1h-1zM89 47h1v1h-1zM98 47h1v1h-1zM25 48h2v1h-2zM37 48h1v1h-1zM71 48h1v1h-1zM80 48h2v1h-2zM83 48h1v1h-1zM86 48h2v1h-2zM89 48h2v1h-2zM1 49h5v1h-5zM10 49h4v1h-4zM31 49h1v1h-1zM35 49h1v1h-1zM84 49h1v1h-1zM94 49h1v1h-1zM99 49h1v1h-1zM1 50h1v1h-1zM6 50h1v1h-1zM85 50h1v1h-1zM87 50h1v1h-1zM89 50h1v1h-1zM94 50h3v1h-3zM3 51h1v1h-1zM7 51h1v1h-1zM10 51h1v1h-1zM39 51h1v1h-1zM84 51h1v1h-1zM91 51h2v1h-2zM10 52h1v1h-1zM84 52h1v1h-1zM1 53h1v1h-1zM10 53h1v1h-1zM34 53h1v1h-1zM38 53h2v1h-2zM82 53h1v1h-1zM15 54h1v1h-1zM17 56h1v1h-1zM14 57h1v1h-1zM37 57h1v1h-1zM1 58h1v1h-1zM3 58h2v1h-2zM14 58h1v1h-1zM35 58h1v1h-1zM38 58h2v1h-2zM1 59h1v1h-1zM3 59h3v1h-3zM8 59h1v1h-1zM14 59h2v1h-2zM36 59h2v1h-2zM42 59h1v1h-1zM16 60h1v1h-1zM34 60h1v1h-1zM42 60h1v1h-1zM0 61h1v1h-1zM17 61h1v1h-1zM36 61h1v1h-1zM23 62h1v1h-1zM45 62h1v1h-1zM33 63h1v1h-1zM36 63h3v1h-3zM24 64h1v1h-1zM41 64h1v1h-1zM44 64h1v1h-1zM33 65h2v1h-2zM43 65h1v1h-1zM45 65h1v1h-1zM36 66h2v1h-2zM41 66h1v1h-1zM44 66h1v1h-1zM47 66h3v1h-3zM33 67h2v1h-2zM42 67h2v1h-2zM45 67h2v1h-2zM49 67h2v1h-2zM24 68h1v1h-1zM32 68h1v1h-1zM35 68h1v1h-1zM44 68h1v1h-1zM46 68h3v1h-3zM32 69h1v1h-1zM45 69h1v1h-1zM36 70h1v1h-1zM44 70h1v1h-1zM50 70h1v1h-1zM36 71h1v1h-1zM44 71h1v1h-1zM50 71h2v1h-2zM25 72h1v1h-1zM40 72h1v1h-1zM20 73h5v1h-5zM24 74h1v1h-1zM34 75h1v1h-1zM36 75h1v1h-1zM39 75h1v1h-1zM41 75h1v1h-1zM83 75h1v1h-1zM22 76h1v1h-1zM36 76h3v1h-3zM42 76h1v1h-1zM44 76h1v1h-1zM51 76h3v1h-3zM0 77h1v1h-1zM33 77h4v1h-4zM39 77h1v1h-1zM44 77h1v1h-1zM20 78h3v1h-3zM32 78h1v1h-1zM34 78h2v1h-2zM45 78h1v1h-1zM50 78h2v1h-2zM53 78h1v1h-1zM24 79h1v1h-1zM33 79h2v1h-2zM45 79h1v1h-1zM53 79h1v1h-1zM17 80h1v1h-1zM33 80h1v1h-1zM40 80h3v1h-3zM44 80h1v1h-1zM46 80h1v1h-1zM39 81h1v1h-1zM48 81h2v1h-2zM9 82h3v1h-3zM13 82h1v1h-1zM41 82h2v1h-2zM48 82h2v1h-2zM93 82h1v1h-1zM2 83h1v1h-1zM4 83h2v1h-2zM14 83h2v1h-2zM27 83h1v1h-1zM43 83h3v1h-3zM47 83h2v1h-2zM52 83h1v1h-1zM54 83h3v1h-3zM59 83h1v1h-1zM89 83h1v1h-1zM92 83h3v1h-3zM3 84h2v1h-2zM13 84h1v1h-1zM28 84h1v1h-1zM46 84h2v1h-2zM64 84h1v1h-1zM89 84h3v1h-3zM0 85h1v1h-1zM3 85h2v1h-2zM13 85h1v1h-1zM67 85h3v1h-3zM76 85h1v1h-1zM3 86h1v1h-1zM5 86h4v1h-4zM12 86h1v1h-1zM29 86h1v1h-1zM39 86h1v1h-1zM81 86h1v1h-1zM92 86h1v1h-1zM95 86h2v1h-2zM3 87h1v1h-1zM28 87h1v1h-1zM38 87h1v1h-1zM82 87h1v1h-1zM91 87h2v1h-2zM5 88h1v1h-1zM28 88h2v1h-2zM92 88h1v1h-1zM0 89h1v1h-1zM2 89h1v1h-1zM93 89h1v1h-1zM95 89h4v1h-4zM1 90h2v1h-2zM19 90h2v1h-2zM85 90h1v1h-1zM18 91h2v1h-2zM1 92h1v1h-1zM87 92h1v1h-1zM92 92h2v1h-2zM14 93h3v1h-3zM46 93h1v1h-1zM77 93h1v1h-1zM87 93h3v1h-3zM91 93h1v1h-1zM93 93h1v1h-1zM0 94h1v1h-1zM16 94h1v1h-1zM20 94h2v1h-2zM43 94h1v1h-1zM48 94h1v1h-1zM74 94h5v1h-5zM84 94h1v1h-1zM87 94h1v1h-1zM92 94h1v1h-1zM2 95h1v1h-1zM4 95h3v1h-3zM10 95h1v1h-1zM43 95h1v1h-1zM74 95h1v1h-1zM76 95h2v1h-2zM79 95h1v1h-1zM83 95h2v1h-2zM92 95h1v1h-1zM2 96h2v1h-2zM7 96h2v1h-2zM10 96h4v1h-4zM28 96h2v1h-2zM31 96h1v1h-1zM45 96h2v1h-2zM77 96h3v1h-3zM82 96h1v1h-1zM88 96h1v1h-1zM91 96h1v1h-1zM0 97h1v1h-1zM13 97h1v1h-1zM27 97h1v1h-1zM31 97h3v1h-3zM50 97h2v1h-2zM55 97h1v1h-1zM64 97h1v1h-1zM79 97h1v1h-1zM82 97h5v1h-5zM88 97h1v1h-1zM15 98h1v1h-1zM18 98h1v1h-1zM34 98h2v1h-2zM39 98h3v1h-3zM43 98h2v1h-2zM47 98h3v1h-3zM55 98h3v1h-3zM75 98h2v1h-2zM79 98h3v1h-3zM84 98h1v1h-1zM39 99h1v1h-1zM42 99h2v1h-2zM49 99h1v1h-1zM51 99h2v1h-2zM54 99h1v1h-1zM57 99h2v1h-2zM61 99h1v1h-1zM63 99h3v1h-3zM85 99h1v1h-1zM92 99h1v1h-1z"/>
<path fill="#df0000" d="M10 0h1v1h-1zM12 0h1v1h-1zM64 0h1v1h-1zM66 0h1v1h-1zM5 1h1v1h-1zM14 1h3v1h-3zM19 1h3v1h-3zM68 1h2v1h-2zM5 2h1v1h-1zM14 2h3v1h-3zM58 2h1v1h-1zM69 2h6v1h-6zM88 2h2v1h-2zM5 3h1v1h-1zM15 3h2v1h-2zM29 3h1v1h-1zM35 3h1v1h-1zM37 3h2v1h-2zM64 3h1v1h-1zM66 3h4v1h-4zM78 3h1v1h-1zM84 3h1v1h-1zM90 3h4v1h-4zM99 3h1v1h-1zM4 4h1v1h-1zM15 4h2v1h-2zM32 4h1v1h-1zM75 4h9v1h-9zM87 4h2v1h-2zM22 5h1v1h-1zM39 5h1v1h-1zM56 5h4v1h-4zM61 5h1v1h-1zM64 5h2v1h-2zM73 5h1v1h-1zM78 5h1v1h-1zM3 6h1v1h-1zM21 6h1v1h-1zM52 6h1v1h-1zM73 6h3v1h-3zM77 6h1v1h-1zM80 6h2v1h-2zM3 7h1v1h-1zM18 7h1v1h-1zM24 7h2v1h-2zM29 7h1v1h-1zM32 7h2v1h-2zM35 7h4v1h-4zM80 7h2v1h-2zM3 8h1v1h-1zM16 8h1v1h-1zM4 10h1v1h-1zM18 10h1v1h-1zM20 10h1v1h-1zM22 11h1v1h-1zM5 12h1v1h-1zM25 13h1v1h-1zM4 14h2v1h-2zM7 17h1v1h-1zM8 18h1v1h-1zM32 18h1v1h-1zM9 19h1v1h-1zM46 19h1v1h-1zM77 19h1v1h-1zM80 19h1v1h-1zM9 20h2v1h-2zM35 20h2v1h-2zM40 20h2v1h-2zM11 21h1v1h-1zM38 21h1v1h-1zM41 21h1v1h-1zM41 24h2v1h-2zM39 25h2v1h-2zM42 25h1v1h-1zM12 26h1v1h-1zM35 26h1v1h-1zM11 27h1v1h-1zM41 27h2v1h-2zM10 28h2v1h-2zM39 28h2v1h-2zM2 29h3v1h-3zM90 29h1v1h-1zM92 29h5v1h-5zM3 30h1v1h-1zM5 30h1v1h-1zM87 30h3v1h-3zM92 30h2v1h-2zM8 31h1v1h-1zM46 31h1v1h-1zM49 31h2v1h-2zM53 31h1v1h-1zM85 31h1v1h-1zM88 31h2v1h-2zM10 32h1v1h-1zM45 32h3v1h-3zM57 32h1v1h-1zM88 32h1v1h-1zM91 32h1v1h-1zM5 33h3v1h-3zM18 33h1v1h-1zM20 33h1v1h-1zM50 33h1v1h-1zM56 33h1v1h-1zM58 33h3v1h-3zM90 33h1v1h-1zM5 34h5v1h-5zM17 34h1v1h-1zM19 34h1v1h-1zM21 34h1v1h-1zM61 34h2v1h-2zM3 35h2v1h-2zM7 35h1v1h-1zM16 35h1v1h-1zM20 35h1v1h-1zM90 35h1v1h-1zM4 36h1v1h-1zM17 36h2v1h-2zM73 36h1v1h-1zM79 36h1v1h-1zM91 36h1v1h-1zM5 37h1v1h-1zM14 37h1v1h-1zM26 37h1v1h-1zM83 37h1v1h-1zM85 37h3v1h-3zM11 38h1v1h-1zM68 38h3v1h-3zM84 38h1v1h-1zM0 39h1v1h-1zM5 39h2v1h-2zM9 39h1v1h-1zM29 39h1v1h-1zM54 39h1v1h-1zM56 39h1v1h-1zM59 39h1v1h-1zM64 39h1v1h-1zM76 39h1v1h-1zM79 39h1v1h-1zM82 39h3v1h-3zM28 40h1v1h-1zM56 40h2v1h-2zM59 40h2v1h-2zM66 40h1v1h-1zM72 40h2v1h-2zM81 40h1v1h-1zM85 40h1v1h-1zM90 40h2v1h-2zM55 41h1v1h-1zM64 41h1v1h-1zM76 41h1v1h-1zM79 41h2v1h-2zM92 41h2v1h-2zM7 42h3v1h-3zM11 42h1v1h-1zM56 42h1v1h-1zM58 42h1v1h-1zM90 42h1v1h-1zM95 42h3v1h-3zM7 43h1v1h-1zM9 43h2v1h-2zM26 43h1v1h-1zM87 43h1v1h-1zM91 43h1v1h-1zM97 43h2v1h-2zM7 44h1v1h-1zM16 44h1v1h-1zM26 44h1v1h-1zM57 44h3v1h-3zM86 44h2v1h-2zM89 44h1v1h-1zM91 44h2v1h-2zM95 44h1v1h-1zM99 44h1v1h-1zM3 45h1v1h-1zM5 45h4v1h-4zM17 45h1v1h-1zM28 45h1v1h-1zM57 45h1v1h-1zM61 45h1v1h-1zM92 45h1v1h-1zM4 46h2v1h-2zM9 46h1v1h-1zM19 46h1v1h-1zM26 46h2v1h-2zM32 46h1v1h-1zM64 46h1v1h-1zM80 46h2v1h-2zM87 46h1v1h-1zM93 46h1v1h-1zM97 46h1v1h-1zM16 47h1v1h-1zM21 47h4v1h-4zM27 47h1v1h-1zM67 47h1v1h-1zM80 47h1v1h-1zM82 47h2v1h-2zM87 47h2v1h-2zM90 47h3v1h-3zM99 47h1v1h-1zM16 48h1v1h-1zM24 48h1v1h-1zM67 48h2v1h-2zM82 48h1v1h-1zM88 48h1v1h-1zM91 48h2v1h-2zM0 49h1v1h-1zM30 49h1v1h-1zM36 49h2v1h-2zM83 49h1v1h-1zM85 49h1v1h-1zM87 49h2v1h-2zM90 49h1v1h-1zM93 49h1v1h-1zM2 50h1v1h-1zM4 50h2v1h-2zM7 50h3v1h-3zM82 50h1v1h-1zM86 50h1v1h-1zM90 50h1v1h-1zM2 51h1v1h-1zM11 51h1v1h-1zM38 51h1v1h-1zM83 51h1v1h-1zM36 52h1v1h-1zM83 52h1v1h-1zM0 53h1v1h-1zM11 53h1v1h-1zM31 53h1v1h-1zM40 53h1v1h-1zM16 54h2v1h-2zM29 54h1v1h-1zM40 54h1v1h-1zM18 55h1v1h-1zM42 55h1v1h-1zM18 56h1v1h-1zM31 56h1v1h-1zM43 56h1v1h-1zM82 56h1v1h-1zM33 57h1v1h-1zM42 57h1v1h-1zM0 58h1v1h-1zM15 58h1v1h-1zM17 58h1v1h-1zM36 58h1v1h-1zM40 58h1v1h-1zM0 59h1v1h-1zM16 59h2v1h-2zM34 59h1v1h-1zM17 60h1v1h-1zM18 61h2v1h-2zM35 61h1v1h-1zM22 62h1v1h-1zM24 62h1v1h-1zM37 62h2v1h-2zM24 63h1v1h-1zM32 63h1v1h-1zM34 63h2v1h-2zM46 63h1v1h-1zM32 64h1v1h-1zM42 64h2v1h-2zM45 64h1v1h-1zM25 65h1v1h-1zM46 65h5v1h-5zM32 66h1v1h-1zM42 66h2v1h-2zM45 66h2v1h-2zM50 66h1v1h-1zM25 67h1v1h-1zM32 67h1v1h-1zM35 67h7v1h-7zM44 67h1v1h-1zM47 67h2v1h-2zM51 67h1v1h-1zM51 68h1v1h-1zM26 69h1v1h-1zM31 69h1v1h-1zM46 69h5v1h-5zM52 69h2v1h-2zM82 69h1v1h-1zM26 70h1v1h-1zM33 70h3v1h-3zM45 70h1v1h-1zM49 70h1v1h-1zM51 70h3v1h-3zM45 71h5v1h-5zM37 72h1v1h-1zM43 72h1v1h-1zM39 73h1v1h-1zM41 73h2v1h-2zM34 74h9v1h-9zM83 74h1v1h-1zM23 75h1v1h-1zM33 75h1v1h-1zM35 75h1v1h-1zM37 75h2v1h-2zM42 75h3v1h-3zM53 75h1v1h-1zM33 76h3v1h-3zM50 76h1v1h-1zM54 76h1v1h-1zM32 77h1v1h-1zM45 77h1v1h-1zM51 77h3v1h-3zM23 78h1v1h-1zM31 78h1v1h-1zM49 78h1v1h-1zM52 78h1v1h-1zM54 78h1v1h-1zM25 79h1v1h-1zM31 79h1v1h-1zM46 79h3v1h-3zM54 79h1v1h-1zM84 79h1v1h-1zM24 80h1v1h-1zM32 80h1v1h-1zM47 80h1v1h-1zM52 80h1v1h-1zM25 81h1v1h-1zM86 81h1v1h-1zM12 82h1v1h-1zM26 82h1v1h-1zM40 82h1v1h-1zM50 82h1v1h-1zM3 83h1v1h-1zM6 83h1v1h-1zM28 83h1v1h-1zM51 83h1v1h-1zM88 83h1v1h-1zM45 84h1v1h-1zM65 84h1v1h-1zM71 84h4v1h-4zM88 84h1v1h-1zM92 84h5v1h-5zM5 85h4v1h-4zM77 85h3v1h-3zM91 85h2v1h-2zM96 85h1v1h-1zM0 86h1v1h-1zM9 86h3v1h-3zM40 86h1v1h-1zM43 86h1v1h-1zM91 86h1v1h-1zM93 86h2v1h-2zM0 87h1v1h-1zM29 87h1v1h-1zM30 88h1v1h-1zM36 88h1v1h-1zM83 88h1v1h-1zM84 89h1v1h-1zM94 89h1v1h-1zM93 90h1v1h-1zM97 90h1v1h-1zM86 91h1v1h-1zM0 92h1v1h-1zM91 92h1v1h-1zM94 92h1v1h-1zM11 94h1v1h-1zM14 94h2v1h-2zM47 94h1v1h-1zM88 94h3v1h-3zM11 95h1v1h-1zM13 95h1v1h-1zM44 95h3v1h-3zM75 95h1v1h-1zM78 95h1v1h-1zM80 95h1v1h-1zM82 95h1v1h-1zM6 96h1v1h-1zM84 96h1v1h-1zM1 97h1v1h-1zM12 97h1v1h-1zM28 97h1v1h-1zM52 97h1v1h-1zM54 97h1v1h-1zM80 97h2v1h-2zM87 97h1v1h-1zM0 98h2v1h-2zM28 98h6v1h-6zM45 98h2v1h-2zM50 98h3v1h-3zM54 98h1v1h-1zM61 98h4v1h-4zM77 98h2v1h-2zM82 98h2v1h-2zM3 99h4v1h-4zM12 99h1v1h-1zM44 99h2v1h-2zM48 99h1v1h-1zM50 99h1v1h-1zM55 99h2v1h-2zM66 99h1v1h-1zM76 99h1v1h-1zM79 99h1v1h-1zM84 99h1v1h-1z"/>
<path fill="#ea0000" d="M9 0h1v1h-1zM65 0h1v1h-1zM58 1h4v1h-4zM70 1h2v1h-2zM13 2h1v1h-1zM68 2h1v1h-1zM75 2h4v1h-4zM6 3h1v1h-1zM14 3h1v1h-1zM28 3h1v1h-1zM74 3h4v1h-4zM79 3h3v1h-3zM83 3h1v1h-1zM87 3h3v1h-3zM27 4h1v1h-1zM30 4h2v1h-2zM33 4h6v1h-6zM4 5h1v1h-1zM15 5h1v1h-1zM23 5h1v1h-1zM26 5h1v1h-1zM30 5h3v1h-3zM36 5h3v1h-3zM62 5h2v1h-2zM72 5h1v1h-1zM16 6h3v1h-3zM22 6h1v1h-1zM24 6h2v1h-2zM34 6h1v1h-1zM38 6h2v1h-2zM55 6h1v1h-1zM76 6h1v1h-1zM78 6h2v1h-2zM17 7h1v1h-1zM26 7h3v1h-3zM4 9h1v1h-1zM16 9h1v1h-1zM21 11h1v1h-1zM23 12h1v1h-1zM6 13h1v1h-1zM24 13h1v1h-1zM6 14h1v1h-1zM26 14h1v1h-1zM7 15h1v1h-1zM8 16h1v1h-1zM27 16h1v1h-1zM8 17h1v1h-1zM28 17h3v1h-3zM31 18h1v1h-1zM33 19h1v1h-1zM54 19h4v1h-4zM70 19h6v1h-6zM78 19h2v1h-2zM11 20h1v1h-1zM37 20h3v1h-3zM42 20h2v1h-2zM39 21h2v1h-2zM42 21h1v1h-1zM12 22h1v1h-1zM35 22h1v1h-1zM38 22h1v1h-1zM82 22h1v1h-1zM12 23h1v1h-1zM37 23h3v1h-3zM83 23h1v1h-1zM35 24h6v1h-6zM83 24h1v1h-1zM13 25h1v1h-1zM36 25h1v1h-1zM43 26h2v1h-2zM81 26h1v1h-1zM43 27h2v1h-2zM81 27h1v1h-1zM12 28h1v1h-1zM36 28h3v1h-3zM41 28h3v1h-3zM82 28h1v1h-1zM6 29h1v1h-1zM85 29h4v1h-4zM4 30h1v1h-1zM6 30h3v1h-3zM11 30h1v1h-1zM85 30h1v1h-1zM9 31h1v1h-1zM11 31h1v1h-1zM45 31h1v1h-1zM48 31h1v1h-1zM11 32h3v1h-3zM81 32h1v1h-1zM86 32h2v1h-2zM89 32h2v1h-2zM8 33h1v1h-1zM13 33h2v1h-2zM17 33h1v1h-1zM45 33h5v1h-5zM57 33h1v1h-1zM61 33h1v1h-1zM89 33h1v1h-1zM10 34h1v1h-1zM12 34h2v1h-2zM16 34h1v1h-1zM22 34h1v1h-1zM59 34h1v1h-1zM63 34h1v1h-1zM78 34h1v1h-1zM90 34h1v1h-1zM5 35h2v1h-2zM8 35h2v1h-2zM11 35h5v1h-5zM21 35h2v1h-2zM73 35h1v1h-1zM5 36h2v1h-2zM11 36h1v1h-1zM14 36h1v1h-1zM24 36h3v1h-3zM74 36h1v1h-1zM78 36h1v1h-1zM80 36h1v1h-1zM89 36h2v1h-2zM12 37h2v1h-2zM69 37h3v1h-3zM84 37h1v1h-1zM6 38h1v1h-1zM9 38h2v1h-2zM27 38h1v1h-1zM66 38h2v1h-2zM7 39h2v1h-2zM30 39h1v1h-1zM53 39h1v1h-1zM57 39h2v1h-2zM60 39h1v1h-1zM29 40h1v1h-1zM55 40h1v1h-1zM58 40h1v1h-1zM61 40h5v1h-5zM76 40h1v1h-1zM79 40h2v1h-2zM82 40h2v1h-2zM92 40h1v1h-1zM99 40h1v1h-1zM28 41h1v1h-1zM77 41h2v1h-2zM27 42h1v1h-1zM55 42h1v1h-1zM8 43h1v1h-1zM12 43h1v1h-1zM54 43h1v1h-1zM92 43h5v1h-5zM8 44h1v1h-1zM10 44h3v1h-3zM90 44h1v1h-1zM93 44h2v1h-2zM96 44h3v1h-3zM4 45h1v1h-1zM11 45h1v1h-1zM16 45h1v1h-1zM56 45h1v1h-1zM60 45h1v1h-1zM94 45h3v1h-3zM10 46h3v1h-3zM16 46h1v1h-1zM18 46h1v1h-1zM63 46h1v1h-1zM98 46h2v1h-2zM17 47h4v1h-4zM25 47h2v1h-2zM36 47h1v1h-1zM66 47h1v1h-1zM81 47h1v1h-1zM17 48h1v1h-1zM21 48h1v1h-1zM23 48h1v1h-1zM69 48h2v1h-2zM14 49h1v1h-1zM76 49h4v1h-4zM82 49h1v1h-1zM86 49h1v1h-1zM89 49h1v1h-1zM91 49h2v1h-2zM3 50h1v1h-1zM10 50h2v1h-2zM35 50h1v1h-1zM91 50h1v1h-1zM93 50h1v1h-1zM0 51h2v1h-2zM40 51h1v1h-1zM11 52h1v1h-1zM35 52h1v1h-1zM37 52h3v1h-3zM12 53h3v1h-3zM18 54h1v1h-1zM41 54h1v1h-1zM43 57h1v1h-1zM16 58h1v1h-1zM34 58h1v1h-1zM37 58h1v1h-1zM41 58h1v1h-1zM18 59h1v1h-1zM18 60h1v1h-1zM33 60h1v1h-1zM43 60h1v1h-1zM82 60h1v1h-1zM44 61h1v1h-1zM36 62h1v1h-1zM46 62h2v1h-2zM25 63h1v1h-1zM47 63h1v1h-1zM25 64h1v1h-1zM46 64h2v1h-2zM51 65h1v1h-1zM24 66h1v1h-1zM51 66h2v1h-2zM52 67h1v1h-1zM25 68h1v1h-1zM31 68h1v1h-1zM52 68h1v1h-1zM51 69h1v1h-1zM46 70h1v1h-1zM48 70h1v1h-1zM26 71h1v1h-1zM35 71h1v1h-1zM52 71h1v1h-1zM44 72h1v1h-1zM82 72h1v1h-1zM38 73h1v1h-1zM40 73h1v1h-1zM43 73h1v1h-1zM25 74h1v1h-1zM33 74h1v1h-1zM43 74h1v1h-1zM24 75h1v1h-1zM32 75h1v1h-1zM52 75h1v1h-1zM54 75h1v1h-1zM32 76h1v1h-1zM45 76h1v1h-1zM55 76h1v1h-1zM23 77h1v1h-1zM46 77h1v1h-1zM50 77h1v1h-1zM54 77h1v1h-1zM83 77h1v1h-1zM46 78h3v1h-3zM55 78h2v1h-2zM26 79h1v1h-1zM30 79h1v1h-1zM49 79h3v1h-3zM48 80h2v1h-2zM53 80h2v1h-2zM85 80h1v1h-1zM26 81h1v1h-1zM32 81h1v1h-1zM36 81h3v1h-3zM50 81h4v1h-4zM39 82h1v1h-1zM51 82h1v1h-1zM54 82h1v1h-1zM7 83h2v1h-2zM12 83h2v1h-2zM40 83h3v1h-3zM63 83h3v1h-3zM74 83h1v1h-1zM5 84h1v1h-1zM8 84h1v1h-1zM12 84h1v1h-1zM66 84h3v1h-3zM70 84h1v1h-1zM75 84h1v1h-1zM11 85h2v1h-2zM30 85h1v1h-1zM45 85h1v1h-1zM89 85h2v1h-2zM93 85h3v1h-3zM38 86h1v1h-1zM41 86h2v1h-2zM30 87h1v1h-1zM37 87h1v1h-1zM90 87h1v1h-1zM31 88h1v1h-1zM33 88h2v1h-2zM91 88h1v1h-1zM92 89h1v1h-1zM92 90h1v1h-1zM94 90h1v1h-1zM96 90h1v1h-1zM98 90h1v1h-1zM92 91h2v1h-2zM88 92h1v1h-1zM95 92h3v1h-3zM0 93h1v1h-1zM90 93h1v1h-1zM94 93h1v1h-1zM13 94h1v1h-1zM44 94h2v1h-2zM12 95h1v1h-1zM81 95h1v1h-1zM4 96h2v1h-2zM81 96h1v1h-1zM83 96h1v1h-1zM92 96h1v1h-1zM2 97h1v1h-1zM5 97h1v1h-1zM11 97h1v1h-1zM53 97h1v1h-1zM93 97h1v1h-1zM14 98h1v1h-1zM53 98h1v1h-1zM65 98h1v1h-1zM72 98h3v1h-3zM93 98h1v1h-1zM7 99h2v1h-2zM46 99h2v1h-2zM69 99h1v1h-1zM80 99h2v1h-2zM83 99h1v1h-1zM93 99h1v1h-1z"/>
<path fill="#f40000" d="M6 1h1v1h-1zM13 1h1v1h-1zM62 1h2v1h-2zM67 1h1v1h-1zM6 2h1v1h-1zM59 2h4v1h-4zM67 2h1v1h-1zM7 3h2v1h-2zM13 3h1v1h-1zM82 3h1v1h-1zM5 4h1v1h-1zM14 4h1v1h-1zM28 4h2v1h-2zM27 5h1v1h-1zM29 5h1v1h-1zM33 5h3v1h-3zM66 5h1v1h-1zM68 5h1v1h-1zM23 6h1v1h-1zM26 6h1v1h-1zM33 6h1v1h-1zM35 6h3v1h-3zM56 6h2v1h-2zM60 6h1v1h-1zM72 6h1v1h-1zM16 7h1v1h-1zM17 10h1v1h-1zM22 12h1v1h-1zM26 15h1v1h-1zM9 18h1v1h-1zM10 19h1v1h-1zM47 19h1v1h-1zM53 19h1v1h-1zM58 19h3v1h-3zM66 19h2v1h-2zM69 19h1v1h-1zM34 20h1v1h-1zM44 20h1v1h-1zM80 20h1v1h-1zM12 21h1v1h-1zM35 21h3v1h-3zM43 21h1v1h-1zM81 21h1v1h-1zM34 22h1v1h-1zM36 22h2v1h-2zM39 22h3v1h-3zM35 23h2v1h-2zM40 23h3v1h-3zM13 24h1v1h-1zM34 24h1v1h-1zM43 24h1v1h-1zM35 25h1v1h-1zM43 25h1v1h-1zM81 25h1v1h-1zM34 26h1v1h-1zM12 27h1v1h-1zM34 27h1v1h-1zM45 27h1v1h-1zM80 27h1v1h-1zM44 28h1v1h-1zM7 29h2v1h-2zM10 29h1v1h-1zM42 29h1v1h-1zM84 29h1v1h-1zM89 29h1v1h-1zM9 30h2v1h-2zM10 31h1v1h-1zM12 31h1v1h-1zM16 31h1v1h-1zM47 31h1v1h-1zM54 31h1v1h-1zM81 31h4v1h-4zM19 32h2v1h-2zM58 32h2v1h-2zM82 32h2v1h-2zM85 32h1v1h-1zM9 33h2v1h-2zM12 33h1v1h-1zM15 33h2v1h-2zM21 33h1v1h-1zM62 33h1v1h-1zM80 33h1v1h-1zM88 33h1v1h-1zM11 34h1v1h-1zM14 34h2v1h-2zM23 34h1v1h-1zM56 34h1v1h-1zM58 34h1v1h-1zM60 34h1v1h-1zM64 34h4v1h-4zM70 34h2v1h-2zM74 34h4v1h-4zM79 34h2v1h-2zM10 35h1v1h-1zM23 35h1v1h-1zM62 35h1v1h-1zM66 35h1v1h-1zM70 35h2v1h-2zM74 35h6v1h-6zM89 35h1v1h-1zM9 36h2v1h-2zM12 36h2v1h-2zM15 36h2v1h-2zM27 36h1v1h-1zM72 36h1v1h-1zM75 36h3v1h-3zM6 37h1v1h-1zM10 37h2v1h-2zM27 37h1v1h-1zM68 37h1v1h-1zM7 38h2v1h-2zM28 38h1v1h-1zM55 38h2v1h-2zM58 38h2v1h-2zM61 38h2v1h-2zM65 38h1v1h-1zM61 39h3v1h-3zM77 39h2v1h-2zM54 40h1v1h-1zM77 40h2v1h-2zM54 41h1v1h-1zM54 42h1v1h-1zM91 42h1v1h-1zM94 42h1v1h-1zM11 43h1v1h-1zM27 43h1v1h-1zM9 44h1v1h-1zM13 44h3v1h-3zM27 44h1v1h-1zM56 44h1v1h-1zM9 45h2v1h-2zM29 45h1v1h-1zM55 45h1v1h-1zM58 45h2v1h-2zM93 45h1v1h-1zM99 45h1v1h-1zM13 46h3v1h-3zM17 46h1v1h-1zM33 46h1v1h-1zM62 46h1v1h-1zM18 48h1v1h-1zM22 48h1v1h-1zM38 48h1v1h-1zM66 48h1v1h-1zM15 49h1v1h-1zM29 49h1v1h-1zM38 49h1v1h-1zM75 49h1v1h-1zM80 49h2v1h-2zM12 50h2v1h-2zM33 50h2v1h-2zM36 50h1v1h-1zM39 50h1v1h-1zM77 50h1v1h-1zM81 50h1v1h-1zM92 50h1v1h-1zM12 51h1v1h-1zM35 51h3v1h-3zM41 51h1v1h-1zM82 51h1v1h-1zM12 52h2v1h-2zM34 52h1v1h-1zM40 52h1v1h-1zM82 52h1v1h-1zM30 53h1v1h-1zM41 53h1v1h-1zM28 54h1v1h-1zM19 55h1v1h-1zM29 55h1v1h-1zM43 55h1v1h-1zM15 57h3v1h-3zM32 57h1v1h-1zM82 57h1v1h-1zM18 58h1v1h-1zM42 58h1v1h-1zM82 58h1v1h-1zM33 59h1v1h-1zM43 59h1v1h-1zM19 60h1v1h-1zM44 60h1v1h-1zM20 61h1v1h-1zM34 61h1v1h-1zM25 62h1v1h-1zM35 62h1v1h-1zM48 62h1v1h-1zM48 63h1v1h-1zM53 63h2v1h-2zM81 63h1v1h-1zM32 65h1v1h-1zM52 65h1v1h-1zM81 65h1v1h-1zM25 66h1v1h-1zM53 66h1v1h-1zM81 66h1v1h-1zM26 67h1v1h-1zM53 67h1v1h-1zM81 67h1v1h-1zM26 68h1v1h-1zM53 68h1v1h-1zM30 69h1v1h-1zM54 69h1v1h-1zM32 70h1v1h-1zM47 70h1v1h-1zM54 70h1v1h-1zM33 71h2v1h-2zM36 72h1v1h-1zM45 72h3v1h-3zM25 73h1v1h-1zM37 73h1v1h-1zM82 73h1v1h-1zM32 74h1v1h-1zM44 74h1v1h-1zM45 75h2v1h-2zM50 75h2v1h-2zM23 76h1v1h-1zM46 76h1v1h-1zM49 76h1v1h-1zM82 76h1v1h-1zM24 77h1v1h-1zM31 77h1v1h-1zM49 77h1v1h-1zM24 78h2v1h-2zM30 78h1v1h-1zM55 79h2v1h-2zM25 80h2v1h-2zM31 80h1v1h-1zM50 80h2v1h-2zM55 80h1v1h-1zM31 81h1v1h-1zM33 81h3v1h-3zM54 81h2v1h-2zM27 82h1v1h-1zM52 82h2v1h-2zM55 82h2v1h-2zM87 82h1v1h-1zM9 83h3v1h-3zM29 83h1v1h-1zM70 83h2v1h-2zM87 83h1v1h-1zM6 84h2v1h-2zM11 84h1v1h-1zM29 84h1v1h-1zM43 84h2v1h-2zM69 84h1v1h-1zM9 85h2v1h-2zM80 85h1v1h-1zM30 86h1v1h-1zM90 86h1v1h-1zM36 87h1v1h-1zM83 87h1v1h-1zM32 88h1v1h-1zM35 88h1v1h-1zM84 88h1v1h-1zM85 89h1v1h-1zM86 90h1v1h-1zM95 90h1v1h-1zM99 90h1v1h-1zM87 91h1v1h-1zM94 91h1v1h-1zM97 91h3v1h-3zM89 92h2v1h-2zM98 92h2v1h-2zM12 94h1v1h-1zM46 94h1v1h-1zM93 94h1v1h-1zM80 96h1v1h-1zM3 97h2v1h-2zM6 97h1v1h-1zM9 97h2v1h-2zM2 98h1v1h-1zM66 98h1v1h-1zM69 98h3v1h-3zM9 99h3v1h-3zM67 99h2v1h-2zM70 99h6v1h-6zM78 99h1v1h-1z"/>
<path fill="#ff0000" d="M64 1h2v1h-2zM12 2h1v1h-1zM63 2h2v1h-2zM9 3h1v1h-1zM11 3h2v1h-2zM13 4h1v1h-1zM5 5h1v1h-1zM14 5h1v1h-1zM28 5h1v1h-1zM67 5h1v1h-1zM69 5h1v1h-1zM71 5h1v1h-1zM30 6h1v1h-1zM59 6h1v1h-1zM61 6h2v1h-2zM68 6h2v1h-2zM71 6h1v1h-1zM16 10h1v1h-1zM5 11h1v1h-1zM19 11h2v1h-2zM6 12h1v1h-1zM21 12h1v1h-1zM23 13h1v1h-1zM24 14h2v1h-2zM30 18h1v1h-1zM48 19h1v1h-1zM52 19h1v1h-1zM61 19h1v1h-1zM65 19h1v1h-1zM68 19h1v1h-1zM12 20h1v1h-1zM79 20h1v1h-1zM34 21h1v1h-1zM44 21h1v1h-1zM42 22h1v1h-1zM13 23h1v1h-1zM34 23h1v1h-1zM43 23h1v1h-1zM82 23h1v1h-1zM82 24h1v1h-1zM34 25h1v1h-1zM44 25h1v1h-1zM13 26h1v1h-1zM45 26h1v1h-1zM80 26h1v1h-1zM79 27h1v1h-1zM13 28h1v1h-1zM35 28h1v1h-1zM79 28h3v1h-3zM9 29h1v1h-1zM11 29h1v1h-1zM39 29h3v1h-3zM43 29h1v1h-1zM42 30h3v1h-3zM84 30h1v1h-1zM13 31h3v1h-3zM44 31h1v1h-1zM14 32h2v1h-2zM18 32h1v1h-1zM44 32h1v1h-1zM60 32h1v1h-1zM80 32h1v1h-1zM84 32h1v1h-1zM11 33h1v1h-1zM22 33h1v1h-1zM44 33h1v1h-1zM63 33h1v1h-1zM81 33h2v1h-2zM87 33h1v1h-1zM50 34h6v1h-6zM57 34h1v1h-1zM68 34h2v1h-2zM72 34h2v1h-2zM81 34h1v1h-1zM88 34h2v1h-2zM24 35h4v1h-4zM63 35h1v1h-1zM67 35h2v1h-2zM72 35h1v1h-1zM88 35h1v1h-1zM7 36h2v1h-2zM70 36h1v1h-1zM81 36h1v1h-1zM88 36h1v1h-1zM9 37h1v1h-1zM28 37h1v1h-1zM62 37h1v1h-1zM66 37h2v1h-2zM29 38h1v1h-1zM54 38h1v1h-1zM57 38h1v1h-1zM60 38h1v1h-1zM63 38h2v1h-2zM31 39h1v1h-1zM52 39h1v1h-1zM53 40h1v1h-1zM29 41h1v1h-1zM53 41h1v1h-1zM53 42h1v1h-1zM28 43h1v1h-1zM53 43h1v1h-1zM28 44h1v1h-1zM12 45h1v1h-1zM15 45h1v1h-1zM30 45h2v1h-2zM97 45h2v1h-2zM55 46h1v1h-1zM61 46h1v1h-1zM65 47h1v1h-1zM19 48h2v1h-2zM39 48h1v1h-1zM65 48h1v1h-1zM16 49h2v1h-2zM27 49h2v1h-2zM39 49h1v1h-1zM73 49h2v1h-2zM37 50h2v1h-2zM40 50h1v1h-1zM76 50h1v1h-1zM78 50h3v1h-3zM13 51h1v1h-1zM42 51h1v1h-1zM14 52h1v1h-1zM33 52h1v1h-1zM41 52h1v1h-1zM15 53h1v1h-1zM29 53h1v1h-1zM42 54h1v1h-1zM81 54h1v1h-1zM20 55h3v1h-3zM19 56h1v1h-1zM30 56h1v1h-1zM18 57h1v1h-1zM33 58h1v1h-1zM43 58h1v1h-1zM44 59h1v1h-1zM82 59h1v1h-1zM21 61h1v1h-1zM33 61h1v1h-1zM45 61h1v1h-1zM33 62h2v1h-2zM31 63h1v1h-1zM49 63h1v1h-1zM52 63h1v1h-1zM26 64h1v1h-1zM31 64h1v1h-1zM48 64h3v1h-3zM52 64h2v1h-2zM81 64h1v1h-1zM26 65h1v1h-1zM53 65h2v1h-2zM31 66h1v1h-1zM31 67h1v1h-1zM54 67h1v1h-1zM30 68h1v1h-1zM54 68h1v1h-1zM82 70h1v1h-1zM53 71h1v1h-1zM82 71h1v1h-1zM26 72h1v1h-1zM35 72h1v1h-1zM48 72h1v1h-1zM50 72h3v1h-3zM36 73h1v1h-1zM44 73h1v1h-1zM26 74h1v1h-1zM45 74h1v1h-1zM53 74h1v1h-1zM25 75h1v1h-1zM31 75h1v1h-1zM47 75h1v1h-1zM49 75h1v1h-1zM24 76h2v1h-2zM31 76h1v1h-1zM47 76h2v1h-2zM56 76h1v1h-1zM25 77h1v1h-1zM30 77h1v1h-1zM47 77h2v1h-2zM55 77h1v1h-1zM26 78h1v1h-1zM57 78h1v1h-1zM83 78h1v1h-1zM27 79h1v1h-1zM29 79h1v1h-1zM57 79h1v1h-1zM59 79h1v1h-1zM56 80h1v1h-1zM56 81h1v1h-1zM28 82h1v1h-1zM57 82h1v1h-1zM86 82h1v1h-1zM30 83h2v1h-2zM39 83h1v1h-1zM66 83h4v1h-4zM72 83h2v1h-2zM75 83h1v1h-1zM9 84h2v1h-2zM30 84h1v1h-1zM76 84h1v1h-1zM87 84h1v1h-1zM31 85h1v1h-1zM44 85h1v1h-1zM88 85h1v1h-1zM82 86h1v1h-1zM31 87h1v1h-1zM91 89h1v1h-1zM91 90h1v1h-1zM91 91h1v1h-1zM95 91h2v1h-2zM95 93h1v1h-1zM99 93h1v1h-1zM99 94h1v1h-1zM93 95h1v1h-1zM93 96h1v1h-1zM7 97h2v1h-2zM5 98h1v1h-1zM13 98h1v1h-1zM67 98h2v1h-2zM77 99h1v1h-1zM82 99h1v1h-1zM94 99h1v1h-1z"/>
<path fill="#ff0b00" d="M7 1h1v1h-1zM12 1h1v1h-1zM66 1h1v1h-1zM7 2h1v1h-1zM11 2h1v1h-1zM65 2h2v1h-2zM10 3h1v1h-1zM6 4h1v1h-1zM11 4h2v1h-2zM70 5h1v1h-1zM4 6h1v1h-1zM27 6h3v1h-3zM31 6h2v1h-2zM58 6h1v1h-1zM63 6h3v1h-3zM67 6h1v1h-1zM4 8h1v1h-1zM18 11h1v1h-1zM25 15h1v1h-1zM9 16h1v1h-1zM26 16h1v1h-1zM9 17h1v1h-1zM27 17h1v1h-1zM28 18h2v1h-2zM11 19h1v1h-1zM32 19h1v1h-1zM49 19h3v1h-3zM62 19h1v1h-1zM64 19h1v1h-1zM33 20h1v1h-1zM45 20h1v1h-1zM72 20h6v1h-6zM33 21h1v1h-1zM45 21h1v1h-1zM33 22h1v1h-1zM43 22h1v1h-1zM81 22h1v1h-1zM44 24h1v1h-1zM14 25h1v1h-1zM33 25h1v1h-1zM45 25h1v1h-1zM33 26h1v1h-1zM46 27h1v1h-1zM14 28h1v1h-1zM45 28h1v1h-1zM37 29h2v1h-2zM44 29h2v1h-2zM12 30h1v1h-1zM15 30h1v1h-1zM40 30h2v1h-2zM45 30h2v1h-2zM48 30h2v1h-2zM20 31h1v1h-1zM43 31h1v1h-1zM16 32h2v1h-2zM74 33h1v1h-1zM78 33h2v1h-2zM83 33h1v1h-1zM86 33h1v1h-1zM24 34h1v1h-1zM48 34h2v1h-2zM82 34h2v1h-2zM61 35h1v1h-1zM65 35h1v1h-1zM69 35h1v1h-1zM80 35h1v1h-1zM87 35h1v1h-1zM28 36h1v1h-1zM66 36h1v1h-1zM69 36h1v1h-1zM71 36h1v1h-1zM85 36h3v1h-3zM7 37h2v1h-2zM29 37h1v1h-1zM63 37h3v1h-3zM30 38h1v1h-1zM30 40h1v1h-1zM52 40h1v1h-1zM30 41h1v1h-1zM52 41h1v1h-1zM28 42h1v1h-1zM92 42h2v1h-2zM55 44h1v1h-1zM14 45h1v1h-1zM32 45h1v1h-1zM34 46h1v1h-1zM56 46h1v1h-1zM64 48h1v1h-1zM18 49h1v1h-1zM26 49h1v1h-1zM40 49h2v1h-2zM72 49h1v1h-1zM14 50h1v1h-1zM32 50h1v1h-1zM41 50h1v1h-1zM75 50h1v1h-1zM34 51h1v1h-1zM42 52h1v1h-1zM28 53h1v1h-1zM42 53h1v1h-1zM81 53h1v1h-1zM19 54h1v1h-1zM26 54h2v1h-2zM23 55h1v1h-1zM28 55h1v1h-1zM81 55h1v1h-1zM44 56h1v1h-1zM19 59h1v1h-1zM20 60h1v1h-1zM32 60h1v1h-1zM46 61h2v1h-2zM32 62h1v1h-1zM49 62h1v1h-1zM54 62h1v1h-1zM81 62h1v1h-1zM26 63h1v1h-1zM50 63h2v1h-2zM51 64h1v1h-1zM54 64h1v1h-1zM26 66h1v1h-1zM54 66h1v1h-1zM27 68h1v1h-1zM81 68h1v1h-1zM27 69h3v1h-3zM27 70h1v1h-1zM31 70h1v1h-1zM27 71h1v1h-1zM32 71h1v1h-1zM33 72h2v1h-2zM49 72h1v1h-1zM45 73h1v1h-1zM52 73h1v1h-1zM31 74h1v1h-1zM46 74h2v1h-2zM50 74h3v1h-3zM82 74h1v1h-1zM48 75h1v1h-1zM55 75h1v1h-1zM82 75h1v1h-1zM30 76h1v1h-1zM29 77h1v1h-1zM29 78h1v1h-1zM58 79h1v1h-1zM27 80h1v1h-1zM30 80h1v1h-1zM57 80h1v1h-1zM84 80h1v1h-1zM27 81h1v1h-1zM85 81h1v1h-1zM38 82h1v1h-1zM58 82h4v1h-4zM31 84h1v1h-1zM42 84h1v1h-1zM77 84h2v1h-2zM42 85h2v1h-2zM81 85h1v1h-1zM31 86h1v1h-1zM89 86h1v1h-1zM32 87h4v1h-4zM84 87h1v1h-1zM89 87h1v1h-1zM90 88h1v1h-1zM88 91h3v1h-3zM3 98h2v1h-2zM94 98h1v1h-1z"/>
<path fill="#ff1500" d="M11 1h1v1h-1zM8 2h3v1h-3zM7 4h4v1h-4zM6 5h1v1h-1zM13 5h1v1h-1zM5 6h1v1h-1zM15 6h1v1h-1zM66 6h1v1h-1zM70 6h1v1h-1zM4 7h1v1h-1zM15 8h1v1h-1zM15 9h1v1h-1zM5 10h1v1h-1zM17 11h1v1h-1zM20 12h1v1h-1zM7 13h1v1h-1zM22 13h1v1h-1zM7 14h1v1h-1zM23 14h1v1h-1zM23 15h2v1h-2zM27 18h1v1h-1zM12 19h1v1h-1zM63 19h1v1h-1zM69 20h3v1h-3zM78 20h1v1h-1zM32 21h1v1h-1zM80 21h1v1h-1zM13 22h1v1h-1zM33 23h1v1h-1zM81 23h1v1h-1zM33 24h1v1h-1zM80 25h1v1h-1zM14 26h1v1h-1zM46 26h1v1h-1zM13 27h1v1h-1zM15 27h1v1h-1zM47 27h1v1h-1zM78 27h1v1h-1zM34 28h1v1h-1zM78 28h1v1h-1zM12 29h3v1h-3zM36 29h1v1h-1zM79 29h5v1h-5zM13 30h2v1h-2zM16 30h1v1h-1zM47 30h1v1h-1zM50 30h3v1h-3zM83 30h1v1h-1zM17 31h3v1h-3zM42 31h1v1h-1zM55 31h2v1h-2zM80 31h1v1h-1zM21 32h1v1h-1zM43 32h1v1h-1zM79 32h1v1h-1zM23 33h1v1h-1zM64 33h1v1h-1zM66 33h1v1h-1zM75 33h3v1h-3zM84 33h1v1h-1zM25 34h1v1h-1zM47 34h1v1h-1zM87 34h1v1h-1zM28 35h1v1h-1zM54 35h1v1h-1zM56 35h2v1h-2zM60 35h1v1h-1zM64 35h1v1h-1zM81 35h1v1h-1zM85 35h2v1h-2zM62 36h1v1h-1zM65 36h1v1h-1zM67 36h2v1h-2zM82 36h3v1h-3zM61 37h1v1h-1zM31 38h1v1h-1zM53 38h1v1h-1zM31 40h1v1h-1zM51 40h1v1h-1zM52 42h1v1h-1zM29 43h1v1h-1zM29 44h1v1h-1zM54 44h1v1h-1zM13 45h1v1h-1zM54 45h1v1h-1zM35 46h1v1h-1zM54 46h1v1h-1zM57 46h1v1h-1zM37 47h1v1h-1zM64 47h1v1h-1zM40 48h1v1h-1zM25 49h1v1h-1zM67 49h2v1h-2zM71 49h1v1h-1zM31 50h1v1h-1zM73 50h2v1h-2zM14 51h1v1h-1zM76 51h3v1h-3zM81 51h1v1h-1zM15 52h1v1h-1zM16 53h1v1h-1zM24 55h1v1h-1zM27 55h1v1h-1zM20 56h3v1h-3zM44 57h1v1h-1zM19 58h1v1h-1zM32 58h1v1h-1zM32 59h1v1h-1zM21 60h1v1h-1zM45 60h1v1h-1zM22 61h1v1h-1zM48 61h1v1h-1zM50 62h4v1h-4zM55 63h1v1h-1zM27 64h1v1h-1zM31 65h1v1h-1zM30 66h1v1h-1zM28 68h2v1h-2zM55 69h1v1h-1zM54 71h1v1h-1zM32 72h1v1h-1zM53 72h1v1h-1zM35 73h1v1h-1zM46 73h3v1h-3zM50 73h2v1h-2zM53 73h1v1h-1zM48 74h2v1h-2zM26 75h1v1h-1zM30 75h1v1h-1zM29 76h1v1h-1zM26 77h1v1h-1zM56 77h1v1h-1zM82 77h1v1h-1zM27 78h1v1h-1zM58 78h1v1h-1zM28 79h1v1h-1zM60 79h1v1h-1zM83 79h1v1h-1zM29 80h1v1h-1zM59 80h1v1h-1zM28 81h1v1h-1zM30 81h1v1h-1zM57 81h1v1h-1zM29 82h3v1h-3zM36 82h2v1h-2zM62 82h1v1h-1zM32 83h1v1h-1zM86 83h1v1h-1zM40 84h2v1h-2zM79 84h1v1h-1zM32 85h1v1h-1zM39 85h3v1h-3zM87 85h1v1h-1zM32 86h1v1h-1zM37 86h1v1h-1zM88 86h1v1h-1zM85 88h1v1h-1zM86 89h1v1h-1zM87 90h1v1h-1zM90 90h1v1h-1zM96 93h3v1h-3zM94 94h1v1h-1zM98 94h1v1h-1zM99 96h1v1h-1zM94 97h1v1h-1zM99 97h1v1h-1zM6 98h7v1h-7zM95 99h1v1h-1z"/>
<path fill="#ff2000" d="M8 1h1v1h-1zM10 1h1v1h-1zM11 5h1v1h-1zM15 7h1v1h-1zM5 9h1v1h-1zM15 10h1v1h-1zM16 11h1v1h-1zM7 12h1v1h-1zM21 13h1v1h-1zM8 15h1v1h-1zM25 16h1v1h-1zM10 18h1v1h-1zM31 19h1v1h-1zM32 20h1v1h-1zM46 20h2v1h-2zM55 20h3v1h-3zM59 20h1v1h-1zM68 20h1v1h-1zM13 21h1v1h-1zM46 21h1v1h-1zM76 21h1v1h-1zM32 22h1v1h-1zM44 22h1v1h-1zM44 23h1v1h-1zM14 24h1v1h-1zM45 24h1v1h-1zM81 24h1v1h-1zM46 25h2v1h-2zM47 26h1v1h-1zM72 26h1v1h-1zM79 26h1v1h-1zM14 27h1v1h-1zM75 27h3v1h-3zM15 28h1v1h-1zM46 28h2v1h-2zM15 29h1v1h-1zM46 29h3v1h-3zM39 30h1v1h-1zM53 30h1v1h-1zM82 30h1v1h-1zM21 31h1v1h-1zM57 31h1v1h-1zM79 31h1v1h-1zM61 32h1v1h-1zM78 32h1v1h-1zM65 33h1v1h-1zM67 33h1v1h-1zM73 33h1v1h-1zM85 33h1v1h-1zM45 34h2v1h-2zM84 34h3v1h-3zM53 35h1v1h-1zM55 35h1v1h-1zM58 35h2v1h-2zM82 35h2v1h-2zM29 36h1v1h-1zM61 36h1v1h-1zM63 36h1v1h-1zM30 37h1v1h-1zM55 37h1v1h-1zM58 37h2v1h-2zM52 38h1v1h-1zM32 39h1v1h-1zM51 39h1v1h-1zM32 40h1v1h-1zM50 40h1v1h-1zM31 41h1v1h-1zM51 41h1v1h-1zM29 42h2v1h-2zM52 43h1v1h-1zM30 44h2v1h-2zM33 45h1v1h-1zM58 46h1v1h-1zM60 46h1v1h-1zM63 47h1v1h-1zM41 48h1v1h-1zM19 49h1v1h-1zM23 49h2v1h-2zM42 49h1v1h-1zM66 49h1v1h-1zM69 49h2v1h-2zM15 50h2v1h-2zM42 50h1v1h-1zM66 50h3v1h-3zM72 50h1v1h-1zM33 51h1v1h-1zM73 51h3v1h-3zM79 51h2v1h-2zM32 52h1v1h-1zM81 52h1v1h-1zM27 53h1v1h-1zM20 54h2v1h-2zM25 55h2v1h-2zM23 56h2v1h-2zM29 56h1v1h-1zM81 56h1v1h-1zM19 57h1v1h-1zM31 57h1v1h-1zM46 60h1v1h-1zM23 61h1v1h-1zM32 61h1v1h-1zM49 61h1v1h-1zM81 61h1v1h-1zM26 62h1v1h-1zM55 62h1v1h-1zM27 63h1v1h-1zM30 64h1v1h-1zM55 64h1v1h-1zM27 65h1v1h-1zM55 65h1v1h-1zM29 66h1v1h-1zM55 66h1v1h-1zM27 67h2v1h-2zM30 67h1v1h-1zM55 68h1v1h-1zM81 69h1v1h-1zM30 70h1v1h-1zM55 70h1v1h-1zM31 71h1v1h-1zM27 72h1v1h-1zM26 73h1v1h-1zM32 73h3v1h-3zM49 73h1v1h-1zM29 74h2v1h-2zM54 74h1v1h-1zM27 75h1v1h-1zM56 75h1v1h-1zM26 76h1v1h-1zM28 77h1v1h-1zM28 78h1v1h-1zM59 78h1v1h-1zM28 80h1v1h-1zM58 80h1v1h-1zM29 81h1v1h-1zM58 81h2v1h-2zM32 82h1v1h-1zM65 82h1v1h-1zM74 82h2v1h-2zM38 83h1v1h-1zM32 84h1v1h-1zM80 84h1v1h-1zM38 85h1v1h-1zM33 86h1v1h-1zM87 86h1v1h-1zM86 88h1v1h-1zM90 89h1v1h-1zM88 90h2v1h-2zM95 94h3v1h-3zM94 95h1v1h-1zM99 95h1v1h-1zM94 96h1v1h-1zM99 98h1v1h-1z"/>
<path fill="#ff2b00" d="M9 1h1v1h-1zM7 5h1v1h-1zM10 5h1v1h-1zM12 5h1v1h-1zM6 11h1v1h-1zM15 11h1v1h-1zM19 12h1v1h-1zM20 13h1v1h-1zM22 14h1v1h-1zM22 15h1v1h-1zM24 16h1v1h-1zM26 17h1v1h-1zM13 19h1v1h-1zM13 20h1v1h-1zM48 20h1v1h-1zM54 20h1v1h-1zM58 20h1v1h-1zM60 20h2v1h-2zM66 20h2v1h-2zM74 21h2v1h-2zM79 21h1v1h-1zM45 22h1v1h-1zM80 22h1v1h-1zM46 24h1v1h-1zM15 25h1v1h-1zM32 25h1v1h-1zM48 25h1v1h-1zM32 26h1v1h-1zM48 26h3v1h-3zM73 26h1v1h-1zM75 26h1v1h-1zM16 27h1v1h-1zM33 27h1v1h-1zM48 27h2v1h-2zM73 27h2v1h-2zM48 28h1v1h-1zM77 28h1v1h-1zM16 29h1v1h-1zM35 29h1v1h-1zM49 29h1v1h-1zM78 29h1v1h-1zM37 30h2v1h-2zM54 30h1v1h-1zM81 30h1v1h-1zM40 31h2v1h-2zM78 31h1v1h-1zM22 32h1v1h-1zM42 32h1v1h-1zM62 32h1v1h-1zM76 32h2v1h-2zM24 33h1v1h-1zM43 33h1v1h-1zM68 33h3v1h-3zM26 34h2v1h-2zM44 34h1v1h-1zM29 35h1v1h-1zM51 35h2v1h-2zM84 35h1v1h-1zM64 36h1v1h-1zM56 37h2v1h-2zM60 37h1v1h-1zM32 38h1v1h-1zM49 39h2v1h-2zM49 40h1v1h-1zM50 41h1v1h-1zM51 42h1v1h-1zM30 43h1v1h-1zM53 44h1v1h-1zM59 46h1v1h-1zM42 48h1v1h-1zM63 48h1v1h-1zM20 49h3v1h-3zM17 50h1v1h-1zM69 50h3v1h-3zM43 51h1v1h-1zM79 52h2v1h-2zM17 53h2v1h-2zM26 53h1v1h-1zM80 53h1v1h-1zM22 54h4v1h-4zM43 54h1v1h-1zM44 55h1v1h-1zM45 56h1v1h-1zM20 57h1v1h-1zM20 58h1v1h-1zM44 58h1v1h-1zM20 59h1v1h-1zM45 59h1v1h-1zM22 60h1v1h-1zM47 60h1v1h-1zM24 61h1v1h-1zM50 61h1v1h-1zM56 63h1v1h-1zM28 64h1v1h-1zM28 65h1v1h-1zM30 65h1v1h-1zM80 65h1v1h-1zM28 66h1v1h-1zM29 67h1v1h-1zM55 67h1v1h-1zM28 70h1v1h-1zM28 71h1v1h-1zM30 72h2v1h-2zM54 72h1v1h-1zM54 73h1v1h-1zM27 74h2v1h-2zM28 75h2v1h-2zM27 76h2v1h-2zM57 76h1v1h-1zM81 76h1v1h-1zM27 77h1v1h-1zM57 77h1v1h-1zM60 78h1v1h-1zM61 79h2v1h-2zM60 80h1v1h-1zM60 81h1v1h-1zM33 82h1v1h-1zM35 82h1v1h-1zM63 82h2v1h-2zM36 83h2v1h-2zM76 83h1v1h-1zM39 84h1v1h-1zM86 84h1v1h-1zM33 85h1v1h-1zM86 85h1v1h-1zM34 86h1v1h-1zM36 86h1v1h-1zM83 86h1v1h-1zM85 87h1v1h-1zM87 87h2v1h-2zM87 88h1v1h-1zM89 88h1v1h-1zM95 98h1v1h-1zM96 99h1v1h-1zM99 99h1v1h-1z"/>
<path fill="#ff3500" d="M8 5h2v1h-2zM8 12h1v1h-1zM21 14h1v1h-1zM10 17h1v1h-1zM11 18h1v1h-1zM30 19h1v1h-1zM31 20h1v1h-1zM49 20h1v1h-1zM53 20h1v1h-1zM62 20h4v1h-4zM31 21h1v1h-1zM47 21h2v1h-2zM71 21h3v1h-3zM77 21h2v1h-2zM46 22h1v1h-1zM32 23h1v1h-1zM45 23h2v1h-2zM80 23h1v1h-1zM47 24h1v1h-1zM80 24h1v1h-1zM49 25h1v1h-1zM79 25h1v1h-1zM15 26h1v1h-1zM51 26h1v1h-1zM71 26h1v1h-1zM74 26h1v1h-1zM78 26h1v1h-1zM50 27h1v1h-1zM72 27h1v1h-1zM16 28h1v1h-1zM49 28h2v1h-2zM76 28h1v1h-1zM17 29h1v1h-1zM34 29h1v1h-1zM50 29h1v1h-1zM17 30h3v1h-3zM36 30h1v1h-1zM55 30h2v1h-2zM80 30h1v1h-1zM39 31h1v1h-1zM58 31h1v1h-1zM63 32h1v1h-1zM74 32h2v1h-2zM71 33h2v1h-2zM28 34h1v1h-1zM50 35h1v1h-1zM30 36h1v1h-1zM54 37h1v1h-1zM33 39h2v1h-2zM48 39h1v1h-1zM33 40h1v1h-1zM48 40h1v1h-1zM49 41h1v1h-1zM31 42h1v1h-1zM51 43h1v1h-1zM32 44h1v1h-1zM36 46h1v1h-1zM38 47h3v1h-3zM55 47h1v1h-1zM43 49h1v1h-1zM65 49h1v1h-1zM18 50h1v1h-1zM29 50h2v1h-2zM15 51h1v1h-1zM32 51h1v1h-1zM66 51h1v1h-1zM72 51h1v1h-1zM16 52h1v1h-1zM31 52h1v1h-1zM43 52h1v1h-1zM76 52h1v1h-1zM78 52h1v1h-1zM24 53h2v1h-2zM43 53h1v1h-1zM80 54h1v1h-1zM27 56h2v1h-2zM21 57h1v1h-1zM81 57h1v1h-1zM31 58h1v1h-1zM81 58h1v1h-1zM21 59h1v1h-1zM81 59h1v1h-1zM48 60h1v1h-1zM81 60h1v1h-1zM25 61h1v1h-1zM51 61h1v1h-1zM80 63h1v1h-1zM56 64h1v1h-1zM80 64h1v1h-1zM29 65h1v1h-1zM27 66h1v1h-1zM80 66h1v1h-1zM80 67h1v1h-1zM29 70h1v1h-1zM30 71h1v1h-1zM55 71h1v1h-1zM31 73h1v1h-1zM61 78h2v1h-2zM82 78h1v1h-1zM63 79h1v1h-1zM61 80h1v1h-1zM61 81h1v1h-1zM34 82h1v1h-1zM66 82h1v1h-1zM69 82h3v1h-3zM85 82h1v1h-1zM33 83h1v1h-1zM82 85h1v1h-1zM35 86h1v1h-1zM86 86h1v1h-1zM86 87h1v1h-1zM88 88h1v1h-1zM87 89h2v1h-2zM95 95h1v1h-1zM98 96h1v1h-1z"/>
<path fill="#ff4000" d="M6 6h1v1h-1zM14 6h1v1h-1zM5 7h1v1h-1zM5 8h1v1h-1zM6 10h1v1h-1zM18 12h1v1h-1zM8 13h1v1h-1zM8 14h1v1h-1zM20 14h1v1h-1zM9 15h1v1h-1zM21 15h1v1h-1zM10 16h1v1h-1zM23 16h1v1h-1zM25 17h1v1h-1zM12 18h1v1h-1zM26 18h1v1h-1zM50 20h3v1h-3zM49 21h1v1h-1zM31 22h1v1h-1zM47 22h1v1h-1zM79 22h1v1h-1zM14 23h1v1h-1zM47 23h1v1h-1zM32 24h1v1h-1zM48 24h1v1h-1zM50 25h1v1h-1zM72 25h1v1h-1zM74 25h4v1h-4zM52 26h1v1h-1zM70 26h1v1h-1zM76 26h2v1h-2zM17 27h1v1h-1zM17 28h1v1h-1zM33 28h1v1h-1zM75 28h1v1h-1zM18 29h2v1h-2zM51 29h1v1h-1zM77 29h1v1h-1zM20 30h1v1h-1zM78 30h2v1h-2zM22 31h1v1h-1zM59 31h2v1h-2zM76 31h2v1h-2zM41 32h1v1h-1zM64 32h1v1h-1zM53 36h6v1h-6zM60 36h1v1h-1zM31 37h1v1h-1zM33 38h2v1h-2zM51 38h1v1h-1zM47 40h1v1h-1zM32 41h1v1h-1zM48 41h1v1h-1zM31 43h1v1h-1zM34 45h1v1h-1zM53 45h1v1h-1zM53 46h1v1h-1zM41 47h1v1h-1zM54 47h1v1h-1zM62 47h1v1h-1zM64 49h1v1h-1zM28 50h1v1h-1zM65 50h1v1h-1zM16 51h1v1h-1zM65 51h1v1h-1zM67 51h1v1h-1zM70 51h2v1h-2zM29 52h2v1h-2zM75 52h1v1h-1zM77 52h1v1h-1zM19 53h1v1h-1zM21 53h1v1h-1zM23 53h1v1h-1zM80 55h1v1h-1zM25 56h2v1h-2zM30 57h1v1h-1zM21 58h1v1h-1zM31 59h1v1h-1zM46 59h1v1h-1zM23 60h1v1h-1zM31 60h1v1h-1zM52 61h1v1h-1zM31 62h1v1h-1zM28 63h1v1h-1zM30 63h1v1h-1zM29 64h1v1h-1zM56 68h1v1h-1zM56 69h1v1h-1zM81 70h1v1h-1zM29 71h1v1h-1zM28 72h2v1h-2zM81 72h1v1h-1zM27 73h1v1h-1zM29 73h2v1h-2zM55 74h1v1h-1zM57 75h1v1h-1zM63 78h1v1h-1zM62 80h1v1h-1zM83 80h1v1h-1zM62 81h1v1h-1zM84 81h1v1h-1zM67 82h2v1h-2zM72 82h2v1h-2zM34 83h2v1h-2zM77 83h1v1h-1zM85 83h1v1h-1zM38 84h1v1h-1zM81 84h1v1h-1zM37 85h1v1h-1zM89 89h1v1h-1zM96 95h1v1h-1zM98 95h1v1h-1zM95 97h1v1h-1zM98 97h1v1h-1zM98 98h1v1h-1zM97 99h2v1h-2z"/>
<path fill="#ff4a00" d="M14 8h1v1h-1zM14 9h1v1h-1zM14 10h1v1h-1zM7 11h1v1h-1zM14 11h1v1h-1zM17 12h1v1h-1zM19 13h1v1h-1zM11 17h1v1h-1zM13 18h1v1h-1zM14 19h1v1h-1zM29 19h1v1h-1zM14 21h1v1h-1zM62 21h3v1h-3zM68 21h3v1h-3zM14 22h1v1h-1zM79 23h1v1h-1zM15 24h1v1h-1zM73 25h1v1h-1zM78 25h1v1h-1zM16 26h1v1h-1zM69 26h1v1h-1zM51 27h1v1h-1zM71 27h1v1h-1zM51 28h1v1h-1zM74 28h1v1h-1zM20 29h1v1h-1zM54 29h1v1h-1zM34 30h2v1h-2zM57 30h1v1h-1zM61 31h1v1h-1zM75 31h1v1h-1zM23 32h1v1h-1zM65 32h1v1h-1zM73 32h1v1h-1zM42 33h1v1h-1zM43 34h1v1h-1zM30 35h1v1h-1zM49 35h1v1h-1zM59 36h1v1h-1zM53 37h1v1h-1zM49 38h1v1h-1zM47 39h1v1h-1zM34 40h1v1h-1zM46 41h2v1h-2zM32 42h1v1h-1zM50 42h1v1h-1zM32 43h1v1h-1zM33 44h1v1h-1zM52 44h1v1h-1zM42 47h1v1h-1zM56 47h1v1h-1zM43 48h1v1h-1zM26 50h2v1h-2zM43 50h1v1h-1zM31 51h1v1h-1zM68 51h2v1h-2zM17 52h2v1h-2zM28 52h1v1h-1zM73 52h2v1h-2zM20 53h1v1h-1zM22 53h1v1h-1zM45 57h1v1h-1zM22 59h1v1h-1zM24 60h1v1h-1zM49 60h2v1h-2zM27 62h1v1h-1zM56 62h1v1h-1zM57 63h1v1h-1zM79 64h1v1h-1zM56 65h1v1h-1zM80 68h1v1h-1zM56 70h1v1h-1zM81 71h1v1h-1zM55 72h1v1h-1zM28 73h1v1h-1zM55 73h1v1h-1zM81 73h1v1h-1zM81 74h1v1h-1zM81 75h1v1h-1zM58 76h1v1h-1zM58 77h1v1h-1zM81 77h1v1h-1zM76 82h1v1h-1zM78 83h2v1h-2zM33 84h1v1h-1zM37 84h1v1h-1zM34 85h1v1h-1zM84 86h1v1h-1zM97 95h1v1h-1zM95 96h1v1h-1z"/>
<path fill="#ff5500" d="M6 9h1v1h-1zM15 12h2v1h-2zM24 17h1v1h-1zM28 19h1v1h-1zM14 20h1v1h-1zM30 20h1v1h-1zM50 21h1v1h-1zM52 21h2v1h-2zM60 21h2v1h-2zM65 21h1v1h-1zM48 22h1v1h-1zM72 22h5v1h-5zM78 22h1v1h-1zM48 23h1v1h-1zM78 23h1v1h-1zM49 24h1v1h-1zM72 24h1v1h-1zM79 24h1v1h-1zM16 25h2v1h-2zM31 25h1v1h-1zM51 25h1v1h-1zM71 25h1v1h-1zM17 26h1v1h-1zM31 26h1v1h-1zM53 26h1v1h-1zM66 26h1v1h-1zM18 27h1v1h-1zM32 27h1v1h-1zM70 27h1v1h-1zM18 28h1v1h-1zM33 29h1v1h-1zM52 29h2v1h-2zM55 29h3v1h-3zM76 29h1v1h-1zM21 30h1v1h-1zM38 31h1v1h-1zM66 32h1v1h-1zM70 32h3v1h-3zM25 33h1v1h-1zM45 35h1v1h-1zM52 36h1v1h-1zM52 37h1v1h-1zM35 38h1v1h-1zM48 38h1v1h-1zM50 38h1v1h-1zM35 39h1v1h-1zM35 40h1v1h-1zM33 41h1v1h-1zM47 42h1v1h-1zM33 43h1v1h-1zM35 45h1v1h-1zM19 50h1v1h-1zM64 50h1v1h-1zM17 51h1v1h-1zM64 51h1v1h-1zM27 52h1v1h-1zM44 52h1v1h-1zM66 52h3v1h-3zM44 53h1v1h-1zM79 53h1v1h-1zM44 54h1v1h-1zM79 54h1v1h-1zM45 55h1v1h-1zM46 56h1v1h-1zM80 56h1v1h-1zM22 57h3v1h-3zM22 58h1v1h-1zM45 58h1v1h-1zM26 60h1v1h-1zM51 60h1v1h-1zM26 61h1v1h-1zM31 61h1v1h-1zM53 61h2v1h-2zM80 62h1v1h-1zM29 63h1v1h-1zM79 63h1v1h-1zM57 64h1v1h-1zM79 65h1v1h-1zM56 66h1v1h-1zM56 67h1v1h-1zM57 69h1v1h-1zM80 69h1v1h-1zM80 76h1v1h-1zM82 79h1v1h-1zM75 81h1v1h-1zM80 83h1v1h-1zM35 85h2v1h-2zM85 86h1v1h-1zM96 96h2v1h-2zM96 98h2v1h-2z"/>
<path fill="#ff6000" d="M7 6h1v1h-1zM13 6h1v1h-1zM14 7h1v1h-1zM8 11h1v1h-1zM9 13h1v1h-1zM9 14h1v1h-1zM19 14h1v1h-1zM12 17h1v1h-1zM25 18h1v1h-1zM27 19h1v1h-1zM30 21h1v1h-1zM51 21h1v1h-1zM54 21h6v1h-6zM66 21h2v1h-2zM77 22h1v1h-1zM31 23h1v1h-1zM73 23h1v1h-1zM75 23h3v1h-3zM31 24h1v1h-1zM71 24h1v1h-1zM73 24h6v1h-6zM52 25h2v1h-2zM70 25h1v1h-1zM65 26h1v1h-1zM67 26h2v1h-2zM54 28h1v1h-1zM21 29h1v1h-1zM58 29h1v1h-1zM33 30h1v1h-1zM58 30h1v1h-1zM77 30h1v1h-1zM34 31h4v1h-4zM62 31h1v1h-1zM24 32h1v1h-1zM40 32h1v1h-1zM67 32h3v1h-3zM27 33h1v1h-1zM41 33h1v1h-1zM29 34h1v1h-1zM42 34h1v1h-1zM31 35h1v1h-1zM48 35h1v1h-1zM32 37h1v1h-1zM51 37h1v1h-1zM36 38h1v1h-1zM46 40h1v1h-1zM46 42h1v1h-1zM48 42h2v1h-2zM50 43h1v1h-1zM37 46h1v1h-1zM43 47h1v1h-1zM53 47h1v1h-1zM57 47h1v1h-1zM61 47h1v1h-1zM62 48h1v1h-1zM44 49h1v1h-1zM63 49h1v1h-1zM20 50h1v1h-1zM23 50h3v1h-3zM18 51h1v1h-1zM29 51h2v1h-2zM44 51h1v1h-1zM19 52h1v1h-1zM24 52h3v1h-3zM65 52h1v1h-1zM69 52h1v1h-1zM71 52h2v1h-2zM25 57h1v1h-1zM46 57h1v1h-1zM23 58h1v1h-1zM23 59h1v1h-1zM47 59h1v1h-1zM25 60h1v1h-1zM79 66h1v1h-1zM57 68h1v1h-1zM56 74h1v1h-1zM59 77h1v1h-1zM61 77h1v1h-1zM64 79h1v1h-1zM63 80h1v1h-1zM63 81h1v1h-1zM71 81h1v1h-1zM74 81h1v1h-1zM34 84h1v1h-1zM36 84h1v1h-1zM82 84h1v1h-1zM85 84h1v1h-1zM83 85h1v1h-1zM85 85h1v1h-1zM96 97h2v1h-2z"/>
<path fill="#ff6a00" d="M12 6h1v1h-1zM13 11h1v1h-1zM18 13h1v1h-1zM10 15h1v1h-1zM20 15h1v1h-1zM11 16h1v1h-1zM22 16h1v1h-1zM23 17h1v1h-1zM14 18h1v1h-1zM29 20h1v1h-1zM30 22h1v1h-1zM49 22h1v1h-1zM71 22h1v1h-1zM15 23h1v1h-1zM49 23h1v1h-1zM72 23h1v1h-1zM74 23h1v1h-1zM50 24h1v1h-1zM70 24h1v1h-1zM18 25h1v1h-1zM18 26h1v1h-1zM54 26h1v1h-1zM63 26h2v1h-2zM19 27h1v1h-1zM52 27h1v1h-1zM54 27h1v1h-1zM69 27h1v1h-1zM19 28h1v1h-1zM32 28h1v1h-1zM52 28h2v1h-2zM55 28h1v1h-1zM58 28h1v1h-1zM73 28h1v1h-1zM75 29h1v1h-1zM22 30h1v1h-1zM59 30h1v1h-1zM76 30h1v1h-1zM74 31h1v1h-1zM26 33h1v1h-1zM28 33h1v1h-1zM44 35h1v1h-1zM46 35h2v1h-2zM31 36h1v1h-1zM51 36h1v1h-1zM33 37h1v1h-1zM50 37h1v1h-1zM37 38h2v1h-2zM47 38h1v1h-1zM36 39h1v1h-1zM46 39h1v1h-1zM34 41h1v1h-1zM33 42h1v1h-1zM34 43h1v1h-1zM34 44h1v1h-1zM51 44h1v1h-1zM52 45h1v1h-1zM58 47h1v1h-1zM55 48h1v1h-1zM22 50h1v1h-1zM44 50h1v1h-1zM28 51h1v1h-1zM20 52h2v1h-2zM23 52h1v1h-1zM64 52h1v1h-1zM70 52h1v1h-1zM75 53h2v1h-2zM78 53h1v1h-1zM78 54h1v1h-1zM79 55h1v1h-1zM29 57h1v1h-1zM80 57h1v1h-1zM24 58h1v1h-1zM30 58h1v1h-1zM46 58h1v1h-1zM24 59h1v1h-1zM27 60h1v1h-1zM52 60h1v1h-1zM80 61h1v1h-1zM28 62h1v1h-1zM30 62h1v1h-1zM57 62h1v1h-1zM78 63h1v1h-1zM57 65h1v1h-1zM57 66h1v1h-1zM57 67h1v1h-1zM79 67h1v1h-1zM57 70h1v1h-1zM56 71h1v1h-1zM56 73h1v1h-1zM58 75h1v1h-1zM59 76h1v1h-1zM60 77h1v1h-1zM62 77h1v1h-1zM64 78h1v1h-1zM81 78h1v1h-1zM74 80h1v1h-1zM70 81h1v1h-1zM73 81h1v1h-1zM84 82h1v1h-1zM81 83h1v1h-1zM35 84h1v1h-1zM84 85h1v1h-1z"/>
<path fill="#ff7500" d="M11 6h1v1h-1zM13 9h1v1h-1zM7 10h1v1h-1zM9 12h1v1h-1zM14 12h1v1h-1zM10 14h1v1h-1zM13 17h1v1h-1zM15 19h1v1h-1zM26 19h1v1h-1zM15 20h1v1h-1zM15 21h1v1h-1zM50 23h1v1h-1zM68 23h2v1h-2zM71 23h1v1h-1zM16 24h1v1h-1zM69 24h1v1h-1zM54 25h1v1h-1zM60 25h5v1h-5zM66 25h1v1h-1zM69 25h1v1h-1zM19 26h1v1h-1zM55 26h8v1h-8zM20 27h2v1h-2zM31 27h1v1h-1zM53 27h1v1h-1zM55 27h1v1h-1zM58 27h2v1h-2zM67 27h2v1h-2zM20 28h2v1h-2zM22 29h1v1h-1zM32 29h1v1h-1zM74 29h1v1h-1zM60 30h1v1h-1zM75 30h1v1h-1zM23 31h1v1h-1zM63 31h1v1h-1zM71 31h3v1h-3zM30 34h1v1h-1zM41 34h1v1h-1zM32 35h1v1h-1zM50 36h1v1h-1zM34 37h2v1h-2zM49 37h1v1h-1zM46 38h1v1h-1zM37 39h1v1h-1zM45 41h1v1h-1zM36 45h1v1h-1zM41 46h2v1h-2zM60 47h1v1h-1zM44 48h1v1h-1zM54 48h1v1h-1zM21 50h1v1h-1zM63 50h1v1h-1zM19 51h1v1h-1zM27 51h1v1h-1zM63 51h1v1h-1zM22 52h1v1h-1zM45 53h1v1h-1zM65 53h1v1h-1zM74 53h1v1h-1zM77 53h1v1h-1zM45 54h1v1h-1zM78 55h1v1h-1zM79 56h1v1h-1zM26 57h1v1h-1zM28 57h1v1h-1zM48 59h2v1h-2zM30 60h1v1h-1zM27 61h1v1h-1zM55 61h1v1h-1zM79 62h1v1h-1zM58 63h1v1h-1zM58 64h1v1h-1zM78 64h1v1h-1zM79 68h1v1h-1zM58 69h1v1h-1zM80 70h1v1h-1zM56 72h1v1h-1zM80 75h1v1h-1zM63 77h1v1h-1zM80 77h1v1h-1zM64 80h1v1h-1zM70 80h2v1h-2zM73 80h1v1h-1zM75 80h1v1h-1zM66 81h1v1h-1zM69 81h1v1h-1zM72 81h1v1h-1zM76 81h1v1h-1zM83 81h1v1h-1zM77 82h2v1h-2zM84 83h1v1h-1z"/>
<path fill="#ff8000" d="M10 6h1v1h-1zM13 8h1v1h-1zM13 10h1v1h-1zM28 20h1v1h-1zM50 22h1v1h-1zM52 22h6v1h-6zM30 23h1v1h-1zM70 23h1v1h-1zM30 24h1v1h-1zM53 24h1v1h-1zM67 24h2v1h-2zM59 25h1v1h-1zM65 25h1v1h-1zM67 25h2v1h-2zM30 26h1v1h-1zM56 27h2v1h-2zM60 27h2v1h-2zM56 28h2v1h-2zM59 28h1v1h-1zM59 29h1v1h-1zM61 30h1v1h-1zM33 31h1v1h-1zM70 31h1v1h-1zM39 32h1v1h-1zM43 35h1v1h-1zM32 36h1v1h-1zM36 37h2v1h-2zM36 40h1v1h-1zM35 41h1v1h-1zM34 42h1v1h-1zM35 43h1v1h-1zM48 43h2v1h-2zM35 44h1v1h-1zM38 46h3v1h-3zM43 46h1v1h-1zM59 47h1v1h-1zM56 48h1v1h-1zM26 51h1v1h-1zM45 52h1v1h-1zM68 53h1v1h-1zM71 53h1v1h-1zM73 53h1v1h-1zM62 54h2v1h-2zM77 54h1v1h-1zM60 55h3v1h-3zM77 55h1v1h-1zM27 57h1v1h-1zM25 58h1v1h-1zM30 59h1v1h-1zM50 59h1v1h-1zM53 60h1v1h-1zM80 60h1v1h-1zM30 61h1v1h-1zM29 62h1v1h-1zM58 65h1v1h-1zM58 66h1v1h-1zM79 69h1v1h-1zM58 70h1v1h-1zM57 74h1v1h-1zM60 76h1v1h-1zM65 79h1v1h-1zM65 80h2v1h-2zM69 80h1v1h-1zM72 80h1v1h-1zM82 80h1v1h-1zM64 81h2v1h-2zM67 81h1v1h-1zM79 82h1v1h-1zM83 84h1v1h-1z"/>
<path fill="#ff8a00" d="M8 6h2v1h-2zM6 7h1v1h-1zM13 7h1v1h-1zM6 8h1v1h-1zM10 13h1v1h-1zM17 13h1v1h-1zM21 16h1v1h-1zM24 18h1v1h-1zM16 20h1v1h-1zM29 21h1v1h-1zM15 22h1v1h-1zM51 22h1v1h-1zM60 22h1v1h-1zM62 22h3v1h-3zM68 22h3v1h-3zM51 23h1v1h-1zM53 23h3v1h-3zM67 23h1v1h-1zM51 24h2v1h-2zM54 24h2v1h-2zM59 24h1v1h-1zM63 24h2v1h-2zM30 25h1v1h-1zM55 25h4v1h-4zM22 27h1v1h-1zM66 27h1v1h-1zM22 28h1v1h-1zM72 28h1v1h-1zM23 29h1v1h-1zM60 29h1v1h-1zM23 30h1v1h-1zM62 30h1v1h-1zM24 31h1v1h-1zM64 31h1v1h-1zM25 32h1v1h-1zM27 32h1v1h-1zM40 33h1v1h-1zM31 34h1v1h-1zM33 35h1v1h-1zM33 36h1v1h-1zM49 36h1v1h-1zM38 37h1v1h-1zM48 37h1v1h-1zM39 38h1v1h-1zM45 38h1v1h-1zM45 39h1v1h-1zM45 40h1v1h-1zM45 42h1v1h-1zM46 43h2v1h-2zM52 46h1v1h-1zM53 48h1v1h-1zM61 48h1v1h-1zM62 49h1v1h-1zM20 51h2v1h-2zM23 51h1v1h-1zM25 51h1v1h-1zM63 52h1v1h-1zM64 53h1v1h-1zM66 53h2v1h-2zM69 53h2v1h-2zM72 53h1v1h-1zM61 54h1v1h-1zM64 54h5v1h-5zM73 54h4v1h-4zM46 55h1v1h-1zM63 55h1v1h-1zM76 55h1v1h-1zM60 56h2v1h-2zM78 56h1v1h-1zM26 58h1v1h-1zM47 58h1v1h-1zM80 58h1v1h-1zM25 59h1v1h-1zM51 59h1v1h-1zM80 59h1v1h-1zM54 60h1v1h-1zM78 62h1v1h-1zM78 65h1v1h-1zM78 66h1v1h-1zM78 67h1v1h-1zM59 69h1v1h-1zM80 71h1v1h-1zM80 72h1v1h-1zM57 73h1v1h-1zM80 74h1v1h-1zM79 76h1v1h-1zM64 77h1v1h-1zM80 78h1v1h-1zM81 79h1v1h-1zM67 80h2v1h-2zM76 80h1v1h-1zM68 81h1v1h-1zM77 81h2v1h-2zM80 82h1v1h-1zM84 84h1v1h-1z"/>
<path fill="#ff9500" d="M7 9h1v1h-1zM8 10h1v1h-1zM13 12h1v1h-1zM16 13h1v1h-1zM11 15h1v1h-1zM12 16h1v1h-1zM14 17h1v1h-1zM22 17h1v1h-1zM23 18h1v1h-1zM25 19h1v1h-1zM26 20h2v1h-2zM28 21h1v1h-1zM58 22h2v1h-2zM61 22h1v1h-1zM65 22h1v1h-1zM67 22h1v1h-1zM52 23h1v1h-1zM56 23h9v1h-9zM56 24h1v1h-1zM58 24h1v1h-1zM60 24h3v1h-3zM65 24h2v1h-2zM62 27h2v1h-2zM65 27h1v1h-1zM31 28h1v1h-1zM60 28h2v1h-2zM73 29h1v1h-1zM32 30h1v1h-1zM63 30h1v1h-1zM74 30h1v1h-1zM65 31h1v1h-1zM69 31h1v1h-1zM26 32h1v1h-1zM28 32h1v1h-1zM29 33h1v1h-1zM40 34h1v1h-1zM34 35h1v1h-1zM42 35h1v1h-1zM34 36h2v1h-2zM38 36h1v1h-1zM46 36h3v1h-3zM47 37h1v1h-1zM44 38h1v1h-1zM38 39h1v1h-1zM36 44h1v1h-1zM50 44h1v1h-1zM51 45h1v1h-1zM44 47h1v1h-1zM57 48h1v1h-1zM22 51h1v1h-1zM24 51h1v1h-1zM45 51h1v1h-1zM62 51h1v1h-1zM69 54h3v1h-3zM64 55h1v1h-1zM66 55h1v1h-1zM71 55h5v1h-5zM47 56h1v1h-1zM62 56h3v1h-3zM77 56h1v1h-1zM79 57h1v1h-1zM29 58h1v1h-1zM26 59h1v1h-1zM52 59h1v1h-1zM56 61h1v1h-1zM79 61h1v1h-1zM58 67h1v1h-1zM57 71h1v1h-1zM57 72h1v1h-1zM80 73h1v1h-1zM58 74h1v1h-1zM59 75h1v1h-1zM61 76h1v1h-1zM81 82h1v1h-1zM83 82h1v1h-1zM82 83h2v1h-2z"/>
<path fill="#ff9f00" d="M9 11h1v1h-1zM15 13h1v1h-1zM18 14h1v1h-1zM19 15h1v1h-1zM25 20h1v1h-1zM16 21h1v1h-1zM66 22h1v1h-1zM16 23h1v1h-1zM65 23h2v1h-2zM57 24h1v1h-1zM20 26h1v1h-1zM30 27h1v1h-1zM64 27h1v1h-1zM62 28h10v1h-10zM61 29h12v1h-12zM64 30h10v1h-10zM25 31h1v1h-1zM66 31h3v1h-3zM34 32h1v1h-1zM37 32h2v1h-2zM37 34h3v1h-3zM35 35h7v1h-7zM36 36h2v1h-2zM39 36h7v1h-7zM39 37h8v1h-8zM40 38h4v1h-4zM39 39h6v1h-6zM37 40h3v1h-3zM44 40h1v1h-1zM36 41h4v1h-4zM35 42h5v1h-5zM36 43h4v1h-4zM45 43h1v1h-1zM37 44h4v1h-4zM37 45h5v1h-5zM52 47h1v1h-1zM58 48h3v1h-3zM45 49h1v1h-1zM59 49h3v1h-3zM61 50h2v1h-2zM62 52h1v1h-1zM46 53h1v1h-1zM60 53h4v1h-4zM60 54h1v1h-1zM72 54h1v1h-1zM65 55h1v1h-1zM67 55h1v1h-1zM69 55h2v1h-2zM76 56h1v1h-1zM47 57h1v1h-1zM27 58h2v1h-2zM49 58h1v1h-1zM27 59h3v1h-3zM53 59h1v1h-1zM28 60h2v1h-2zM55 60h1v1h-1zM28 61h2v1h-2zM59 64h1v1h-1zM58 68h1v1h-1zM78 68h1v1h-1zM59 70h1v1h-1zM79 70h1v1h-1zM58 73h1v1h-1zM62 76h2v1h-2zM79 77h1v1h-1zM65 78h1v1h-1zM66 79h1v1h-1zM81 80h1v1h-1zM79 81h4v1h-4zM82 82h1v1h-1z"/>
<path fill="#ffaa00" d="M12 9h1v1h-1zM10 12h1v1h-1zM14 13h1v1h-1zM20 16h1v1h-1zM15 18h1v1h-1zM24 20h1v1h-1zM17 24h1v1h-1zM19 25h1v1h-1zM23 28h1v1h-1zM24 29h1v1h-1zM31 29h1v1h-1zM24 30h1v1h-1zM35 32h2v1h-2zM32 34h1v1h-1zM40 40h1v1h-1zM44 41h1v1h-1zM44 42h1v1h-1zM42 45h1v1h-1zM55 49h4v1h-4zM45 50h1v1h-1zM61 51h1v1h-1zM61 52h1v1h-1zM59 53h1v1h-1zM46 54h1v1h-1zM59 54h1v1h-1zM59 55h1v1h-1zM68 55h1v1h-1zM65 56h1v1h-1zM73 56h3v1h-3zM48 58h1v1h-1zM50 58h1v1h-1zM58 62h1v1h-1zM77 63h1v1h-1zM72 64h3v1h-3zM59 65h1v1h-1zM64 65h3v1h-3zM72 65h3v1h-3zM64 66h2v1h-2zM60 69h1v1h-1zM79 75h1v1h-1zM64 76h1v1h-1zM79 78h1v1h-1zM67 79h1v1h-1zM80 79h1v1h-1zM77 80h4v1h-4z"/>
<path fill="#ffb500" d="M12 7h1v1h-1zM12 10h1v1h-1zM12 11h1v1h-1zM11 14h1v1h-1zM13 16h1v1h-1zM21 17h1v1h-1zM22 18h1v1h-1zM16 19h1v1h-1zM23 19h2v1h-2zM17 20h1v1h-1zM23 20h1v1h-1zM27 21h1v1h-1zM29 22h1v1h-1zM23 27h1v1h-1zM32 31h1v1h-1zM29 32h1v1h-1zM33 32h1v1h-1zM30 33h1v1h-1zM39 33h1v1h-1zM33 34h4v1h-4zM42 40h2v1h-2zM40 42h1v1h-1zM40 43h1v1h-1zM44 43h1v1h-1zM41 44h1v1h-1zM43 45h1v1h-1zM44 46h1v1h-1zM45 48h1v1h-1zM52 48h1v1h-1zM54 49h1v1h-1zM59 50h2v1h-2zM60 52h1v1h-1zM47 55h1v1h-1zM59 56h1v1h-1zM66 56h7v1h-7zM54 59h1v1h-1zM77 62h1v1h-1zM59 63h1v1h-1zM72 63h4v1h-4zM63 64h9v1h-9zM75 64h3v1h-3zM62 65h2v1h-2zM67 65h5v1h-5zM75 65h3v1h-3zM59 66h1v1h-1zM62 66h2v1h-2zM66 66h2v1h-2zM72 66h3v1h-3zM62 67h3v1h-3zM59 68h1v1h-1zM58 71h1v1h-1zM58 72h1v1h-1zM59 73h1v1h-1zM65 77h1v1h-1z"/>
<path fill="#ffbf00" d="M12 8h1v1h-1zM9 10h1v1h-1zM11 13h1v1h-1zM13 13h1v1h-1zM12 15h1v1h-1zM21 18h1v1h-1zM26 21h1v1h-1zM16 22h1v1h-1zM29 23h1v1h-1zM18 24h1v1h-1zM29 24h1v1h-1zM21 26h1v1h-1zM25 30h1v1h-1zM26 31h1v1h-1zM31 33h1v1h-1zM37 33h2v1h-2zM41 40h1v1h-1zM40 41h1v1h-1zM42 44h1v1h-1zM57 50h2v1h-2zM60 51h1v1h-1zM46 52h1v1h-1zM59 52h1v1h-1zM79 58h1v1h-1zM55 59h1v1h-1zM79 60h1v1h-1zM57 61h1v1h-1zM78 61h1v1h-1zM63 63h9v1h-9zM76 63h1v1h-1zM60 64h3v1h-3zM60 65h2v1h-2zM60 66h2v1h-2zM68 66h4v1h-4zM75 66h3v1h-3zM59 67h3v1h-3zM65 67h2v1h-2zM77 67h1v1h-1zM60 68h4v1h-4zM61 69h1v1h-1zM78 69h1v1h-1zM60 70h1v1h-1zM59 71h1v1h-1zM59 72h1v1h-1zM79 73h1v1h-1zM59 74h1v1h-1zM68 79h1v1h-1zM79 79h1v1h-1z"/>
<path fill="#ffca00" d="M7 7h1v1h-1zM11 7h1v1h-1zM8 9h1v1h-1zM11 10h1v1h-1zM10 11h2v1h-2zM11 12h2v1h-2zM12 13h1v1h-1zM12 14h3v1h-3zM16 14h2v1h-2zM13 15h1v1h-1zM15 17h1v1h-1zM17 19h1v1h-1zM22 19h1v1h-1zM25 21h1v1h-1zM27 22h2v1h-2zM29 25h1v1h-1zM22 26h1v1h-1zM29 26h1v1h-1zM24 28h1v1h-1zM30 28h1v1h-1zM25 29h1v1h-1zM32 32h1v1h-1zM32 33h5v1h-5zM43 41h1v1h-1zM43 42h1v1h-1zM43 43h1v1h-1zM43 44h2v1h-2zM51 46h1v1h-1zM53 49h1v1h-1zM56 50h1v1h-1zM59 51h1v1h-1zM58 53h1v1h-1zM58 54h1v1h-1zM58 55h1v1h-1zM78 57h1v1h-1zM79 59h1v1h-1zM56 60h1v1h-1zM71 62h6v1h-6zM60 63h3v1h-3zM67 67h10v1h-10zM64 68h2v1h-2zM62 69h2v1h-2zM61 70h1v1h-1zM79 71h1v1h-1zM79 72h1v1h-1zM79 74h1v1h-1zM60 75h1v1h-1zM65 76h1v1h-1zM78 76h1v1h-1zM66 78h1v1h-1zM69 79h8v1h-8zM78 79h1v1h-1z"/>
<path fill="#ffd400" d="M11 9h1v1h-1zM10 10h1v1h-1zM15 14h1v1h-1zM14 15h1v1h-1zM18 15h1v1h-1zM14 16h1v1h-1zM20 17h1v1h-1zM22 20h1v1h-1zM17 21h1v1h-1zM24 21h1v1h-1zM26 22h1v1h-1zM17 23h1v1h-1zM27 23h2v1h-2zM27 24h2v1h-2zM20 25h1v1h-1zM27 25h2v1h-2zM23 26h1v1h-1zM28 26h1v1h-1zM24 27h2v1h-2zM29 27h1v1h-1zM25 28h1v1h-1zM26 30h1v1h-1zM31 30h1v1h-1zM27 31h2v1h-2zM31 31h1v1h-1zM30 32h2v1h-2zM42 43h1v1h-1zM45 44h2v1h-2zM49 44h1v1h-1zM44 45h1v1h-1zM50 45h1v1h-1zM45 47h1v1h-1zM46 51h1v1h-1zM57 51h2v1h-2zM58 52h1v1h-1zM57 53h1v1h-1zM47 54h1v1h-1zM57 54h1v1h-1zM57 55h1v1h-1zM48 56h1v1h-1zM58 56h1v1h-1zM48 57h1v1h-1zM61 57h1v1h-1zM74 57h4v1h-4zM51 58h3v1h-3zM77 61h1v1h-1zM59 62h1v1h-1zM62 62h9v1h-9zM66 68h2v1h-2zM76 68h2v1h-2zM64 69h1v1h-1zM62 70h1v1h-1zM78 70h1v1h-1zM60 71h2v1h-2zM60 72h1v1h-1zM60 73h1v1h-1zM60 74h1v1h-1zM61 75h1v1h-1zM78 75h1v1h-1zM66 77h1v1h-1zM78 77h1v1h-1zM67 78h1v1h-1zM76 78h3v1h-3zM77 79h1v1h-1z"/>
<path fill="#ffdf00" d="M10 7h1v1h-1zM7 8h1v1h-1zM11 8h1v1h-1zM15 15h1v1h-1zM15 16h1v1h-1zM19 16h1v1h-1zM16 18h1v1h-1zM20 18h1v1h-1zM21 19h1v1h-1zM25 22h1v1h-1zM26 23h1v1h-1zM26 24h1v1h-1zM26 25h1v1h-1zM24 26h4v1h-4zM26 27h3v1h-3zM26 28h2v1h-2zM26 29h1v1h-1zM30 29h1v1h-1zM27 30h1v1h-1zM30 30h1v1h-1zM29 31h2v1h-2zM42 41h1v1h-1zM41 43h1v1h-1zM47 44h2v1h-2zM45 45h2v1h-2zM45 46h1v1h-1zM52 49h1v1h-1zM46 50h1v1h-1zM55 50h1v1h-1zM56 51h1v1h-1zM56 52h2v1h-2zM47 53h1v1h-1zM56 53h1v1h-1zM56 54h1v1h-1zM48 55h1v1h-1zM56 55h1v1h-1zM56 56h2v1h-2zM49 57h2v1h-2zM60 57h1v1h-1zM62 57h3v1h-3zM71 57h3v1h-3zM54 58h1v1h-1zM78 58h1v1h-1zM78 59h1v1h-1zM78 60h1v1h-1zM58 61h1v1h-1zM72 61h5v1h-5zM60 62h2v1h-2zM68 68h8v1h-8zM65 69h1v1h-1zM77 69h1v1h-1zM63 70h1v1h-1zM62 71h1v1h-1zM61 72h1v1h-1zM61 73h1v1h-1zM78 73h1v1h-1zM61 74h1v1h-1zM78 74h1v1h-1zM62 75h2v1h-2zM76 76h2v1h-2zM67 77h1v1h-1zM73 77h5v1h-5zM68 78h8v1h-8z"/>
<path fill="#ffea00" d="M10 9h1v1h-1zM16 15h2v1h-2zM16 17h1v1h-1zM19 17h1v1h-1zM17 18h3v1h-3zM18 19h1v1h-1zM20 19h1v1h-1zM18 20h1v1h-1zM23 21h1v1h-1zM17 22h1v1h-1zM18 23h1v1h-1zM25 23h1v1h-1zM19 24h1v1h-1zM25 24h1v1h-1zM21 25h1v1h-1zM24 25h2v1h-2zM28 28h2v1h-2zM27 29h3v1h-3zM28 30h2v1h-2zM41 41h1v1h-1zM42 42h1v1h-1zM46 46h1v1h-1zM51 47h1v1h-1zM46 48h1v1h-1zM46 49h1v1h-1zM55 51h1v1h-1zM47 52h1v1h-1zM55 53h1v1h-1zM48 54h1v1h-1zM55 54h1v1h-1zM55 55h1v1h-1zM49 56h1v1h-1zM54 56h2v1h-2zM51 57h9v1h-9zM65 57h6v1h-6zM55 58h2v1h-2zM76 58h2v1h-2zM56 59h1v1h-1zM77 59h1v1h-1zM57 60h1v1h-1zM75 60h3v1h-3zM59 61h5v1h-5zM68 61h4v1h-4zM66 69h2v1h-2zM74 69h3v1h-3zM64 70h1v1h-1zM76 70h2v1h-2zM63 71h1v1h-1zM77 71h2v1h-2zM62 72h1v1h-1zM78 72h1v1h-1zM62 73h1v1h-1zM62 74h1v1h-1zM77 74h1v1h-1zM64 75h1v1h-1zM76 75h2v1h-2zM66 76h2v1h-2zM73 76h3v1h-3zM68 77h5v1h-5z"/>
<path fill="#fff400" d="M8 7h2v1h-2zM10 8h1v1h-1zM9 9h1v1h-1zM16 16h1v1h-1zM18 16h1v1h-1zM17 17h2v1h-2zM19 19h1v1h-1zM24 22h1v1h-1zM24 24h1v1h-1zM22 25h2v1h-2zM41 42h1v1h-1zM47 45h3v1h-3zM50 46h1v1h-1zM46 47h1v1h-1zM51 48h1v1h-1zM47 50h1v1h-1zM54 50h1v1h-1zM47 51h1v1h-1zM48 52h1v1h-1zM55 52h1v1h-1zM48 53h1v1h-1zM54 54h1v1h-1zM49 55h1v1h-1zM53 55h2v1h-2zM50 56h4v1h-4zM57 58h2v1h-2zM74 58h2v1h-2zM57 59h1v1h-1zM75 59h2v1h-2zM58 60h2v1h-2zM73 60h2v1h-2zM64 61h4v1h-4zM68 69h6v1h-6zM65 70h2v1h-2zM75 70h1v1h-1zM64 71h1v1h-1zM76 71h1v1h-1zM63 72h2v1h-2zM76 72h2v1h-2zM63 73h1v1h-1zM76 73h2v1h-2zM63 74h2v1h-2zM75 74h2v1h-2zM65 75h2v1h-2zM73 75h3v1h-3zM68 76h5v1h-5z"/>
<path fill="#ffff00" d="M17 16h1v1h-1zM19 20h1v1h-1zM21 20h1v1h-1zM18 21h1v1h-1zM22 21h1v1h-1zM18 22h1v1h-1zM19 23h1v1h-1zM24 23h1v1h-1zM20 24h1v1h-1zM47 46h1v1h-1zM49 46h1v1h-1zM47 47h1v1h-1zM50 47h1v1h-1zM47 49h1v1h-1zM53 50h1v1h-1zM48 51h1v1h-1zM54 51h1v1h-1zM54 52h1v1h-1zM49 53h1v1h-1zM54 53h1v1h-1zM49 54h1v1h-1zM53 54h1v1h-1zM50 55h3v1h-3zM59 58h3v1h-3zM71 58h3v1h-3zM58 59h2v1h-2zM73 59h2v1h-2zM60 60h3v1h-3zM70 60h3v1h-3zM67 70h2v1h-2zM72 70h3v1h-3zM65 71h1v1h-1zM74 71h2v1h-2zM65 72h1v1h-1zM75 72h1v1h-1zM64 73h2v1h-2zM74 73h2v1h-2zM65 74h2v1h-2zM73 74h2v1h-2zM67 75h6v1h-6z"/>
<path fill="#ffff10" d="M8 8h2v1h-2zM20 20h1v1h-1zM23 22h1v1h-1zM23 23h1v1h-1zM21 24h3v1h-3zM48 46h1v1h-1zM49 47h1v1h-1zM47 48h1v1h-1zM50 48h1v1h-1zM48 49h1v1h-1zM51 49h1v1h-1zM48 50h1v1h-1zM52 50h1v1h-1zM49 51h1v1h-1zM53 51h1v1h-1zM49 52h1v1h-1zM53 52h1v1h-1zM50 53h1v1h-1zM53 53h1v1h-1zM50 54h3v1h-3zM62 58h9v1h-9zM60 59h3v1h-3zM70 59h3v1h-3zM63 60h7v1h-7zM69 70h3v1h-3zM66 71h2v1h-2zM72 71h2v1h-2zM66 72h1v1h-1zM73 72h2v1h-2zM66 73h2v1h-2zM72 73h2v1h-2zM67 74h6v1h-6z"/>
<path fill="#ffff20" d="M19 21h1v1h-1zM21 21h1v1h-1zM19 22h1v1h-1zM22 22h1v1h-1zM20 23h1v1h-1zM48 47h1v1h-1zM48 48h2v1h-2zM49 49h2v1h-2zM49 50h3v1h-3zM50 51h3v1h-3zM50 52h3v1h-3zM51 53h2v1h-2zM63 59h7v1h-7zM68 71h4v1h-4zM67 72h6v1h-6zM68 73h4v1h-4z"/>
<path fill="#ffff30" d="M20 21h1v1h-1zM20 22h2v1h-2zM21 23h2v1h-2z"/>
</g>
<path d="M695.7 513.6v433.7M681.4 527.8h433.7" stroke="#808080" stroke-width="1.9" fill="none"/>
<path d="M797.2 513.6v433.7M681.4 629.3h433.7" stroke="#808080" stroke-width="1.9" fill="none"/>
<path d="M854.8 513.6v433.7M681.4 686.9h433.7" stroke="#808080" stroke-width="1.9" fill="none"/>
<path d="M1013.8 513.6v433.7M681.4 845.9h433.7" stroke="#808080" stroke-width="1.9" fill="none"/>
<path d="M709.7 544.7L715.7 544.7L718.8 541.7L720.8 544.7L739.1 544.7L739.1 550.8L736.0 553.9L733.0 556.5L736.0 559.5L739.1 559.9L736.0 563.0L739.1 568.0L741.1 573.1L751.2 573.5L754.3 576.2L757.3 573.5L760.3 576.8L762.4 576.8L762.4 580.2L765.4 582.2L768.5 585.3L771.5 588.3L776.6 588.7L771.5 590.3L771.5 593.4L774.5 594.4L781.6 594.4L786.7 594.4L790.8 597.0L790.8 599.5L787.7 600.5L784.7 597.4L781.6 595.4L778.6 597.4L779.6 600.5L776.6 602.5L778.6 605.5L799.9 605.5L802.9 608.0L811.0 608.0L811.0 631.9L814.1 634.9L814.1 640.0L817.1 643.1L820.1 644.1L820.1 646.1L823.2 649.1L826.2 652.2L826.2 654.6L848.5 654.6L851.6 657.2L857.6 658.3L851.6 660.3L842.4 660.9L840.4 663.3L822.2 663.3L820.1 661.3L814.1 660.3L811.0 657.2L809.0 654.6L802.9 652.2L796.8 652.2L793.8 649.1L790.8 646.1L788.7 642.0L785.7 638.0L779.6 637.6L785.7 637.0L783.7 632.9L781.6 629.9L776.6 630.9L770.5 628.9L767.4 625.8L764.4 622.8L761.4 619.7L755.3 619.7L753.2 616.7L755.3 613.7L750.2 611.6L747.6 609.0L755.3 608.6L757.3 605.5L761.4 602.5L761.4 599.5L758.3 597.0L755.3 599.5L750.2 596.4L748.2 593.4L750.2 590.3L747.6 588.7L742.1 588.3L739.1 585.3L733.0 584.9L736.0 582.2L733.0 579.2L729.9 576.2L729.9 571.1L724.9 566.0L721.8 559.9L719.8 554.9L714.7 553.9L709.7 550.8L709.7 544.7Z" stroke="#000" stroke-width="1.3" fill="none" stroke-linejoin="round"/>
<path d="M712.3 539.1L724.9 539.1" stroke="#000" stroke-width="1.3" fill="none" stroke-linejoin="round"/>
<path d="M715.7 539.1L720.8 544.7" stroke="#000" stroke-width="1.3" fill="none" stroke-linejoin="round"/>
<path d="M720.8 539.1L716.8 544.3" stroke="#000" stroke-width="1.3" fill="none" stroke-linejoin="round"/>
<path d="M840.4 663.3L843.5 666.4" stroke="#000" stroke-width="1.3" fill="none" stroke-linejoin="round"/>
<path d="M854.6 657.4L857.6 657.4L857.6 660.3L854.6 660.3" stroke="#000" stroke-width="1.3" fill="none" stroke-linejoin="round"/>
<path d="M857.6 692.3L860.7 689.7L869.8 689.7L871.8 692.3L871.8 695.3L874.9 698.0L871.8 698.4L869.8 700.4L871.8 703.4L897.2 703.4L897.2 704.1L899.3 708.5L903.3 710.5L904.3 715.0L909.4 716.2L907.4 720.7L907.4 727.8L910.4 730.2L923.6 730.2L926.6 732.8L946.9 732.8L944.5 735.9L946.9 741.0L938.8 741.4L935.7 744.0L935.7 748.0L938.8 750.5L935.7 753.1L935.7 756.2L938.8 759.2L941.8 759.6L944.5 762.2L1024.9 762.2L1022.9 764.9L1025.6 767.3L1028.4 768.3L1028.4 770.8L1024.9 771.4L1022.9 773.8L1024.9 776.4L1028.0 776.4L1022.9 779.5L1019.9 782.5L1016.8 786.6L1019.9 791.6L1019.9 813.9L1022.9 817.0L1024.9 821.0L1028.0 825.1L1025.6 828.1L1025.6 834.2L1028.0 837.2L1025.6 840.3L1025.6 843.3L1022.9 844.3L1024.9 848.4L1025.6 855.5L1029.0 857.5L1033.1 860.6L1029.0 862.6L1025.6 860.6L1022.9 862.6L1015.8 862.6L1012.8 860.6L979.3 860.6L976.3 857.5L967.6 856.9L966.2 852.4L964.7 851.4L967.6 849.4L970.2 848.4L967.6 846.4L961.1 844.7L959.1 842.7L949.9 842.7L946.9 844.3L944.5 842.7L938.8 837.2L941.8 834.2L944.5 831.2L941.8 828.1L932.7 827.7L930.7 823.1L938.8 822.0L944.5 816.4L941.8 813.9L935.7 813.9L933.1 810.9L935.7 807.8L938.8 804.8L938.8 801.8L940.8 798.7L938.8 796.1L940.8 791.6L935.7 787.2L934.7 780.5L929.7 779.5L926.6 776.4L924.6 771.4L915.5 770.3L912.4 767.7L907.4 770.3L902.3 767.7L899.3 765.3L895.2 764.9L892.2 767.3L890.1 767.3L889.1 763.2L886.6 762.2L890.1 760.2L891.1 756.2L886.6 753.1L884.0 750.1L886.6 746.0L883.0 742.0L878.9 734.9L879.9 729.8L880.6 724.7L874.9 718.7L874.9 716.2L871.8 713.6L866.8 708.5L860.7 703.4L857.6 700.4L860.7 698.0L857.6 695.3L857.6 692.3Z" stroke="#000" stroke-width="1.3" fill="none" stroke-linejoin="round"/>
<path d="M851.6 692.3L857.6 692.3" stroke="#000" stroke-width="1.3" fill="none" stroke-linejoin="round"/>
<path d="M840.4 698.0L857.6 698.0" stroke="#000" stroke-width="1.3" fill="none" stroke-linejoin="round"/>
<path d="M842.4 704.1L857.6 704.1" stroke="#000" stroke-width="1.3" fill="none" stroke-linejoin="round"/>
<path d="M874.9 698.0L878.5 698.0" stroke="#000" stroke-width="1.3" fill="none" stroke-linejoin="round"/>
<path d="M929.7 837.2L938.8 837.2" stroke="#000" stroke-width="1.3" fill="none" stroke-linejoin="round"/>
<path d="M938.8 750.5L944.9 750.5" stroke="#000" stroke-width="1.3" fill="none" stroke-linejoin="round"/>
<path d="M1028.4 861.6L1028.4 866.2" stroke="#000" stroke-width="1.3" fill="none" stroke-linejoin="round"/>
<path d="M930.7 823.1L929.7 822.0" stroke="#000" stroke-width="1.3" fill="none" stroke-linejoin="round"/>
<rect x="681.4" y="513.6" width="433.7" height="433.7" fill="none" stroke="#000" stroke-width="2.3"/>
<rect x="1023.5" y="548.9" width="57.3" height="2.4" fill="#fff"/>
<text x="1052" y="547.4" text-anchor="middle" font-size="12" fill="#fff" stroke="#fff" stroke-width=".3">400 ms</text>
<rect x="1136.1" y="513.6" width="11.8" height="433.7" fill="url(#hot)" stroke="#000" stroke-width="1.9"/>
<path d="M1142.3 529.7H1148" stroke="#000" stroke-width="1.8"/>
<text x="1150.7" y="536.3" font-size="18" stroke="#000" stroke-width=".3">90</text>
<path d="M1142.3 585.4H1148" stroke="#000" stroke-width="1.8"/>
<text x="1150.7" y="592.0" font-size="18" stroke="#000" stroke-width=".3">80</text>
<path d="M1142.3 641.1H1148" stroke="#000" stroke-width="1.8"/>
<text x="1150.7" y="647.7" font-size="18" stroke="#000" stroke-width=".3">70</text>
<path d="M1142.3 696.8H1148" stroke="#000" stroke-width="1.8"/>
<text x="1150.7" y="703.4" font-size="18" stroke="#000" stroke-width=".3">60</text>
<path d="M1142.3 752.5H1148" stroke="#000" stroke-width="1.8"/>
<text x="1150.7" y="759.1" font-size="18" stroke="#000" stroke-width=".3">50</text>
<path d="M1142.3 808.2H1148" stroke="#000" stroke-width="1.8"/>
<text x="1150.7" y="814.8" font-size="18" stroke="#000" stroke-width=".3">40</text>
<path d="M1142.3 863.8H1148" stroke="#000" stroke-width="1.8"/>
<text x="1150.7" y="870.4" font-size="18" stroke="#000" stroke-width=".3">30</text>
<path d="M1142.3 919.5H1148" stroke="#000" stroke-width="1.8"/>
<text x="1150.7" y="926.1" font-size="18" stroke="#000" stroke-width=".3">20</text>
<text transform="translate(1195.3 727.7) rotate(-90)" text-anchor="middle" font-size="18" stroke="#000" stroke-width=".3">classifier perf. (%)</text>
<text transform="translate(616.6 522.4) scale(.94 1)" font-size="26" stroke="#000" stroke-width=".3">F</text>
<text transform="translate(642.5 730.7) rotate(-90)" text-anchor="middle" font-size="18" stroke="#000" stroke-width=".3">training bin</text>
<text transform="translate(670.2 577.3) rotate(-90)" text-anchor="middle" font-size="18" fill="#4a4a4a" stroke="#4a4a4a" stroke-width=".3">pre-cue</text>
<text transform="translate(670.2 658.4) rotate(-90)" text-anchor="middle" font-size="18" fill="#000" stroke="#000" stroke-width=".3">sample</text>
<text transform="translate(670.2 768.2) rotate(-90)" text-anchor="middle" font-size="18" fill="#000" stroke="#000" stroke-width=".3">delay</text>
<text transform="translate(670.2 897.5) rotate(-90)" text-anchor="middle" font-size="18" fill="#000" stroke="#000" stroke-width=".3">compare</text>
<text x="744.3" y="966.0" text-anchor="middle" font-size="18" stroke="#000" stroke-width=".3">pre-cue</text>
<text x="826.4" y="966.0" text-anchor="middle" font-size="18" stroke="#000" stroke-width=".3">sample</text>
<text x="935.9" y="966.0" text-anchor="middle" font-size="18" stroke="#000" stroke-width=".3">delay</text>
<text x="1068.1" y="966.0" text-anchor="middle" font-size="18" stroke="#000" stroke-width=".3">compare</text>
<text x="896.5" y="982.7" text-anchor="middle" font-size="18" fill="#000" stroke="#000" stroke-width=".3">testing bin</text>
</g>
<g fill="none" stroke="#000" stroke-width="1.75" stroke-linejoin="round" stroke-linecap="round">
<path d="M99.6 59.0C99.9 58.3 100.4 55.9 101.6 54.9C102.7 53.9 104.3 53.4 106.4 53.1C108.5 52.7 112.2 52.7 114.0 52.9C115.8 53.1 116.8 54.2 117.4 54.4"/>
<path d="M117.4 54.4C117.1 55.2 116.0 57.4 115.5 59.0C115.1 60.6 114.9 63.4 114.8 64.3"/>
<path d="M117.4 54.4C118.1 54.6 120.5 54.4 121.6 55.2C122.7 56.0 123.6 57.7 123.9 59.0C124.2 60.3 123.6 61.8 123.1 62.8C122.6 63.8 121.2 64.7 120.9 65.1"/>
<path d="M123.1 55.2C124.2 55.1 127.7 54.1 129.2 54.4C130.7 54.8 131.9 56.1 132.3 57.5C132.7 58.9 132.2 60.9 131.7 62.8C131.1 64.7 129.6 67.9 129.2 68.9"/>
<path d="M132.6 59.8C133.5 60.0 136.7 60.3 138.3 61.3C139.9 62.3 141.5 64.3 142.1 65.8C142.8 67.4 142.5 69.3 142.1 70.4C141.8 71.5 140.8 72.3 139.9 72.7C138.9 73.1 137.1 72.7 136.5 72.7"/>
<path d="M141.4 71.2C142.1 71.4 145.0 71.8 145.9 72.7C146.9 73.6 147.1 75.5 146.9 76.5C146.6 77.4 145.5 78.2 144.4 78.3C143.3 78.4 140.9 77.4 140.2 77.2"/>
<path d="M146.2 76.8C146.7 77.3 148.7 78.7 149.1 79.8C149.6 80.9 149.6 82.6 149.1 83.5C148.7 84.4 147.5 85.0 146.2 85.2C145.0 85.3 142.2 84.3 141.4 84.1"/>
<path d="M148.4 84.4C148.4 85.1 148.9 87.5 148.5 88.6C148.2 89.8 147.3 90.8 146.2 91.1C145.2 91.3 143.2 90.2 142.1 90.2C141.1 90.2 140.5 90.9 140.2 91.1"/>
<path d="M146.2 91.4C146.4 92.2 146.9 95.7 147.0 96.6"/>
<path d="M123.9 101.6C124.8 101.9 127.6 103.2 129.2 103.8C130.9 104.5 132.3 105.5 133.8 105.4C135.3 105.2 136.6 104.2 138.3 103.1C140.1 101.9 142.4 99.7 144.4 98.5C146.4 97.4 148.2 96.7 150.5 96.2C152.8 95.8 155.6 95.8 158.1 95.9C160.6 96.1 164.2 96.8 165.4 97.0"/>
<path d="M165.4 97.0L163.4 106.1"/>
<path d="M163.4 106.1C162.3 106.2 158.5 105.9 156.6 106.3C154.7 106.7 153.3 107.3 152.0 108.4C150.8 109.5 149.6 111.5 149.0 113.0C148.3 114.5 148.7 115.9 148.2 117.5C147.7 119.2 147.1 121.3 145.9 122.9C144.8 124.4 143.2 125.4 141.4 126.7C139.6 127.9 137.3 129.4 135.3 130.5C133.3 131.5 131.4 132.4 129.2 133.0C127.1 133.7 123.5 134.1 122.4 134.3"/>
<path d="M120.9 113.0C121.2 114.0 122.4 116.8 122.8 119.1C123.3 121.3 123.5 124.1 123.4 126.7C123.4 129.2 123.1 132.0 122.4 134.3C121.7 136.5 120.7 138.4 119.3 140.3C117.9 142.2 116.2 144.3 114.0 145.7C111.9 147.0 109.2 147.8 106.4 148.2C103.6 148.7 100.1 148.5 97.3 148.2C94.5 147.9 91.6 147.1 89.7 146.4C87.8 145.7 86.5 144.5 85.9 144.1"/>
<path d="M91.2 58.2C87.9 58.2 83.1 58.3 79.1 58.5C75.0 58.8 70.4 59.2 66.9 59.8C63.3 60.3 60.8 61.2 57.8 62.0C54.7 62.9 51.7 63.8 48.6 65.1C45.6 66.4 42.6 67.6 39.5 69.6C36.5 71.7 33.2 74.6 30.4 77.2C27.6 79.9 25.2 82.4 22.8 85.6C20.4 88.8 17.9 92.7 16.0 96.2C14.1 99.8 12.5 103.3 11.4 106.9C10.3 110.4 9.4 114.2 9.1 117.5C8.9 120.8 9.1 123.9 9.9 126.7C10.6 129.4 12.0 132.2 13.7 134.3C15.3 136.3 17.2 137.5 19.8 138.8C22.3 140.1 25.8 141.4 28.9 142.2C31.9 142.9 35.2 143.3 38.0 143.4C40.8 143.5 43.1 142.9 45.6 142.6C48.1 142.3 50.2 141.6 53.2 141.6C56.2 141.5 60.3 141.9 63.8 142.2C67.4 142.5 70.9 143.0 74.5 143.4C78.0 143.7 81.8 144.3 85.1 144.1C88.4 144.0 91.5 143.4 94.3 142.6C97.0 141.9 99.6 140.8 101.9 139.6C104.1 138.3 106.0 136.9 107.9 135.0C109.8 133.1 111.7 130.5 113.3 128.2C114.8 125.9 115.9 123.6 117.1 121.3C118.2 119.1 119.2 116.9 120.1 114.5C121.0 112.1 121.7 109.7 122.4 106.9C123.0 104.1 123.6 100.8 123.9 97.8C124.2 94.7 124.2 91.4 123.9 88.6C123.6 85.9 123.3 83.5 122.4 81.0C121.5 78.6 120.1 76.5 118.6 74.2C117.1 71.9 115.3 69.4 113.3 67.4C111.2 65.3 108.8 63.4 106.4 62.0C104.0 60.6 101.3 59.6 98.8 59.0C96.3 58.4 94.5 58.3 91.2 58.2Z" fill="#fff"/>
<path d="M92.7 59.0C91.0 59.4 89.3 60.1 88.2 61.3C87.0 62.4 86.1 64.1 85.9 65.8C85.6 67.6 86.1 70.0 86.7 71.9C87.2 73.8 87.9 75.6 88.9 77.2C89.9 78.9 91.5 80.3 92.7 81.8C94.0 83.3 95.5 84.7 96.5 86.4C97.5 88.0 98.2 89.5 98.8 91.7C99.4 93.8 99.8 96.5 100.0 99.3C100.2 102.1 99.9 105.7 100.0 108.4C100.2 111.1 100.3 113.2 101.1 115.3C101.9 117.3 103.2 119.4 104.9 120.6C106.5 121.8 109.2 122.2 111.0 122.4C112.7 122.6 114.4 122.6 115.5 121.8C116.7 121.0 117.1 119.3 117.8 117.5C118.6 115.8 119.3 113.7 120.1 111.5C120.9 109.2 121.8 106.4 122.4 103.8C123.0 101.3 123.4 98.8 123.6 96.2C123.8 93.7 123.8 91.2 123.6 88.6C123.4 86.1 123.2 83.5 122.4 81.0C121.5 78.6 120.1 76.5 118.6 74.2C117.1 71.9 115.3 69.4 113.3 67.4C111.2 65.3 108.8 63.4 106.4 62.0C104.0 60.6 101.1 59.5 98.8 59.0C96.5 58.5 94.5 58.6 92.7 59.0Z" fill="#b0b2b1"/>
<path d="M52.4 57L51.7 100.8M139.9 33.1L131.5 79M111.7 140L130 152.8" stroke="#808080" stroke-width="1.2"/>
<path d="M76.5 197.5H20" stroke="#000" stroke-width="4.2" stroke-linecap="butt"/>
<path d="M10.5 197.5L24.5 190.3V204.7Z" fill="#000" stroke="none"/>
<g stroke-width="1.45">
<path d="M202.8 121.1C204.3 117.8 208.1 109.6 210.4 105.1C212.7 100.7 215.5 95.8 218.0 91.5C220.5 87.1 224.2 80.8 227.1 76.2C230.1 71.7 235.0 64.8 237.8 61.0C240.5 57.3 242.6 54.1 245.4 51.2C248.1 48.2 252.6 43.9 256.0 41.3C259.4 38.7 264.5 35.6 268.2 33.7C271.8 31.8 276.7 29.9 280.3 28.8C284.0 27.7 288.4 26.8 292.5 26.4C296.6 26.0 303.4 25.9 307.7 26.1C312.0 26.2 317.7 26.5 321.4 27.3C325.0 28.1 330.1 29.5 332.0 31.4C334.0 33.3 334.0 36.2 334.3 39.8C334.6 43.3 334.2 50.4 333.8 55.0C333.5 59.5 332.6 65.8 332.0 70.2C331.4 74.5 330.2 80.0 329.7 83.8C329.2 87.7 329.1 93.2 328.7 96.0C328.3 98.9 328.9 99.9 327.2 102.9C325.4 105.8 320.0 112.1 316.8 115.8C313.7 119.4 308.3 123.3 306.2 127.2C304.0 131.1 303.5 137.6 302.4 141.6C301.3 145.6 300.4 150.0 298.9 153.8C297.4 157.6 294.8 162.4 292.5 166.9C290.2 171.4 285.9 178.9 283.4 183.6C280.9 188.3 277.6 194.6 275.8 198.1C273.9 201.5 273.6 203.7 271.2 206.4C268.8 209.2 263.0 214.2 259.8 216.3C256.6 218.3 253.0 219.4 249.9 220.1C246.9 220.8 242.7 221.2 239.3 221.2C235.9 221.1 230.4 220.6 227.1 219.8C223.8 218.9 220.0 218.0 217.2 215.5C214.5 213.1 211.2 207.5 208.9 203.4C206.6 199.3 203.5 192.7 202.0 188.2C200.6 183.6 199.7 178.2 199.0 173.0C198.3 167.7 197.3 158.0 197.2 153.2C197.1 148.4 197.7 144.9 198.2 141.0C198.7 137.2 199.8 130.4 200.5 127.4C201.2 124.4 201.3 124.4 202.8 121.1Z" fill="#fff"/>
<path d="M240.0 60.3C241.2 59.0 244.2 55.3 246.9 52.7C249.6 50.0 252.5 47.0 256.0 44.3C259.6 41.7 264.1 38.7 268.2 36.7C272.2 34.7 276.3 33.4 280.3 32.5C284.4 31.5 288.9 31.0 292.5 30.9C296.0 30.8 298.3 31.1 301.6 31.9C304.9 32.6 309.0 33.8 312.3 35.2C315.6 36.6 319.0 38.5 321.4 40.5C323.8 42.5 325.5 44.2 326.7 47.4C327.9 50.5 328.2 55.5 328.7 59.5C329.2 63.6 329.6 68.1 329.7 71.7C329.9 75.2 329.7 79.3 329.7 80.8"/>
<path d="M301.6 32.2C301.5 34.2 300.9 40.5 300.9 44.3C300.9 48.1 301.0 51.4 301.6 55.0C302.3 58.5 303.5 62.6 304.7 65.6C305.8 68.6 307.2 71.1 308.5 73.2C309.7 75.4 311.4 77.6 312.0 78.5"/>
<path d="M327.2 80.0C326.1 79.0 322.3 78.7 319.9 78.5C317.4 78.4 314.8 78.5 312.3 79.0C309.7 79.5 307.2 80.4 304.7 81.6C302.1 82.8 299.6 84.0 297.1 86.1C294.5 88.3 291.6 91.7 289.5 94.5C287.3 97.3 285.5 100.1 284.1 102.9C282.8 105.6 281.9 108.6 281.6 111.2C281.2 113.9 281.7 116.4 282.2 118.8C282.6 121.2 283.4 124.0 284.1 125.7C284.8 127.3 285.8 128.3 286.4 128.7C287.0 129.1 287.8 129.1 287.9 127.9C288.1 126.8 287.6 124.1 287.2 121.9C286.8 119.6 285.8 116.5 285.7 114.3C285.5 112.0 285.7 110.5 286.4 108.2C287.2 105.9 288.7 103.1 290.2 100.6C291.7 98.0 293.4 95.0 295.5 93.0C297.7 90.9 300.4 89.6 303.1 88.4C305.9 87.3 309.2 86.5 312.3 86.1C315.3 85.7 319.1 86.4 321.4 86.1C323.7 85.9 325.0 85.6 325.9 84.6C326.9 83.6 328.2 81.1 327.2 80.0Z" fill="#fff"/>
<path d="M202.8 122.0C204.1 123.9 208.0 130.2 210.4 133.4C212.8 136.7 214.7 139.5 217.2 141.8C219.8 144.1 222.4 145.8 225.6 147.4C228.8 149.0 232.7 150.3 236.2 151.4C239.8 152.4 243.1 153.1 246.9 153.7C250.7 154.3 255.0 154.9 259.1 155.0C263.1 155.2 266.7 154.8 271.2 154.4C275.8 154.0 281.8 153.3 286.4 152.8C291.0 152.2 296.8 151.5 298.9 151.2"/>
<path d="M198.2 151.7C198.7 153.5 200.1 158.3 201.3 162.3C202.4 166.4 203.7 171.6 205.1 176.0C206.5 180.4 208.0 185.3 209.6 188.9C211.3 192.6 213.1 195.5 215.0 198.1C216.9 200.6 218.5 202.4 221.0 204.1C223.6 205.8 226.9 207.2 230.2 208.2C233.5 209.3 237.5 210.3 240.8 210.7C244.1 211.1 246.6 211.1 249.9 210.7C253.2 210.3 257.0 209.2 260.6 208.2C264.1 207.3 269.4 205.7 271.2 205.2"/>
<path d="M286.4 36.4C284.6 35.5 282.9 35.5 280.3 36.0C277.8 36.4 274.3 37.6 271.2 39.0C268.2 40.4 265.1 42.2 262.1 44.3C259.1 46.5 256.0 49.1 253.0 51.9C249.9 54.7 246.9 57.8 243.8 61.0C240.8 64.3 237.5 68.1 234.7 71.7C231.9 75.2 229.3 78.8 227.1 82.3C225.0 85.9 223.0 89.7 221.8 93.0C220.6 96.3 220.0 99.3 219.8 102.1C219.7 104.9 219.9 107.7 220.7 109.7C221.6 111.7 223.3 113.1 224.8 113.9C226.4 114.8 228.3 114.9 230.2 114.6C232.1 114.2 234.2 113.4 236.2 112.0C238.3 110.5 240.3 108.4 242.3 105.9C244.4 103.4 246.4 100.1 248.4 96.8C250.4 93.5 252.2 89.6 254.5 86.1C256.8 82.7 259.3 79.4 262.1 76.2C264.9 73.1 268.2 69.9 271.2 67.1C274.3 64.3 277.5 61.8 280.3 59.5C283.1 57.2 286.1 55.3 287.9 53.4C289.8 51.5 290.8 50.2 291.3 48.1C291.8 46.1 291.8 43.2 291.0 41.3C290.2 39.3 288.2 37.3 286.4 36.4Z" fill="#b0b2b1" stroke="#333"/>
</g>
<path d="M204.0 30.3L242.3 30.3L242.3 38.2M204.0 33.4L223.3 33.4L223.3 48.1M218.0 48.4L227.9 48.4M219.8 50.4L225.9 50.4M221.3 52.2L224.4 52.2M187.6 30.3L192.2 30.3" stroke="#888" stroke-width="1.4" stroke-linecap="butt"/>
<path d="M192.2 30.3L204.0 25.3L204.0 36.0Z" fill="#fff" stroke="#888" stroke-width="1.4"/>
<path d="M237.0 38.5L246.1 38.5L241.6 74.0Z" fill="#fff" stroke="#888" stroke-width="1.4"/>
</g>
<g font-size="18">
<text x="-0.4" y="17.6" font-size="26" stroke="#000" stroke-width=".3">A</text>
<text x="79.4" y="29.3" stroke="#000" stroke-width=".3">cerebellum</text>
<text x="9.4" y="50.4" stroke="#000" stroke-width=".3">telencephalon</text>
<text x="75.7" y="168.9" stroke="#000" stroke-width=".3">optic tectum</text>
<text x="17" y="215.5" style="font-weight:normal">anterior</text>
<text x="200.6" y="22.5" stroke="#000" stroke-width=".3">AP 5.0, ML 13.0</text>
<text x="247.3" y="184.4" text-anchor="middle" stroke="#000" stroke-width=".3">NCLv</text>
<text transform="translate(258.5 75.5) rotate(-49)" text-anchor="middle" stroke="#000" stroke-width=".3">NCLd</text>
</g>
<g>
<path d="M482.0 102.6L482.0 18.0A84.6 84.6 0 0 1 564.2 122.8Z" fill="#d9dbda" stroke="#000" stroke-width="2.1" stroke-linejoin="round"/>
<path d="M482.0 102.6L564.2 122.8A84.6 84.6 0 0 1 470.2 186.4Z" fill="#8f8f8f" stroke="#000" stroke-width="2.1" stroke-linejoin="round"/>
<path d="M482.0 102.6L470.2 186.4A84.6 84.6 0 0 1 447.6 179.9Z" fill="#e9ebea" stroke="#000" stroke-width="2.1" stroke-linejoin="round"/>
<path d="M482.0 102.6L447.6 179.9A84.6 84.6 0 0 1 482.0 18.0Z" fill="#444444" stroke="#000" stroke-width="2.1" stroke-linejoin="round"/>
<g font-size="20" text-anchor="middle">
<text x="513.8" y="82" stroke="#000" stroke-width=".3">29%</text>
<text x="508.8" y="142.5" stroke="#000" stroke-width=".3">23%</text>
<text x="443.8" y="92.5" fill="#fff" stroke="#fff" stroke-width=".3">43%</text>
<text transform="translate(468 172.8) rotate(-62)" font-size="16.5" stroke="#000" stroke-width=".3">4%</text>
</g>
<g font-size="18" text-anchor="middle">
<text transform="translate(401.8 62) rotate(-56.5)" stroke="#000" stroke-width=".3">non-sig.</text>
<text transform="translate(543 41.5) rotate(41.5)" stroke="#000" stroke-width=".3">cue location</text>
<text transform="translate(451.5 202) rotate(18)" stroke="#000" stroke-width=".3">color</text>
<text transform="translate(548 178) rotate(-45)" stroke="#000" stroke-width=".3">cue location</text>
<text transform="translate(557.5 192) rotate(-45)" stroke="#000" stroke-width=".3">+</text>
<text transform="translate(570 206.5) rotate(-45)" stroke="#000" stroke-width=".3">color</text>
</g>
<text transform="translate(355 17.6) scale(.94 1)" font-size="26" stroke="#000" stroke-width=".3">B</text>
</g>
<g>
<rect x="94.2" y="380" width="104" height="238" fill="#e4e2f0"/>
<rect x="278.2" y="380" width="255.5" height="238" fill="#e4e2f0"/>
<path d="M99.2 237.0h1.9M108.8 276.1h1.9M112.8 261.3h1.9M119.8 262.6h1.9M121.9 274.8h1.9M126.2 253.2h1.9M128.6 258.6h1.9M130.8 251.8h1.9M130.1 254.6h1.9M132.0 276.1h1.9M135.4 273.4h1.9M139.2 257.2h1.9M139.7 251.8h1.9M141.9 251.8h1.9M141.1 259.9h1.9M143.8 269.4h1.9M143.7 272.1h1.9M144.1 247.8h1.9M147.4 273.4h1.9M152.2 273.4h1.9M153.9 239.7h1.9M154.3 274.8h1.9M156.6 258.6h1.9M162.4 265.4h1.9M164.2 264.0h1.9M164.7 270.8h1.9M165.4 255.9h1.9M176.0 262.6h1.9M178.6 264.0h1.9M180.3 247.8h1.9M189.2 277.5h1.9M190.6 259.9h1.9M193.1 278.9h1.9M193.9 270.8h1.9M194.8 245.1h1.9M198.7 262.6h1.9M200.0 253.2h1.9M202.8 239.7h1.9M207.2 274.8h1.9M210.3 237.0h1.9M212.2 265.4h1.9M213.3 255.9h1.9M215.9 266.7h1.9M219.1 246.4h1.9M225.4 237.0h1.9M225.3 239.7h1.9M227.4 278.9h1.9M227.4 278.9h1.9M228.0 237.0h1.9M228.3 253.2h1.9M229.0 269.4h1.9M230.9 261.3h1.9M233.3 249.2h1.9M234.9 280.2h1.9M234.7 242.4h1.9M235.7 272.1h1.9M235.8 257.2h1.9M235.5 241.1h1.9M236.7 273.4h1.9M236.2 272.1h1.9M237.8 274.8h1.9M237.4 246.4h1.9M238.3 276.1h1.9M239.3 259.9h1.9M240.3 257.2h1.9M240.1 259.9h1.9M241.2 251.8h1.9M242.8 277.5h1.9M244.0 242.4h1.9M243.8 264.0h1.9M243.5 270.8h1.9M244.4 264.0h1.9M244.0 273.4h1.9M245.6 280.2h1.9M247.0 254.6h1.9M246.9 259.9h1.9M247.3 245.1h1.9M247.0 251.8h1.9M248.1 280.2h1.9M249.7 273.4h1.9M252.7 257.2h1.9M252.9 250.5h1.9M252.3 237.0h1.9M253.3 247.8h1.9M254.3 268.1h1.9M256.0 264.0h1.9M258.0 274.8h1.9M258.0 269.4h1.9M260.2 241.1h1.9M260.8 238.3h1.9M261.2 245.1h1.9M262.6 258.6h1.9M262.1 253.2h1.9M263.2 253.2h1.9M265.5 272.1h1.9M265.7 254.6h1.9M267.1 274.8h1.9M268.7 280.2h1.9M268.9 247.8h1.9M268.9 258.6h1.9M270.9 277.5h1.9M271.1 255.9h1.9M271.7 270.8h1.9M272.7 281.6h1.9M274.8 278.9h1.9M276.9 238.3h1.9M277.4 243.8h1.9M278.4 253.2h1.9M281.5 239.7h1.9M281.1 255.9h1.9M281.6 269.4h1.9M282.4 270.8h1.9M283.6 270.8h1.9M283.0 239.7h1.9M283.3 246.4h1.9M283.2 261.3h1.9M284.3 253.2h1.9M284.1 246.4h1.9M285.9 278.9h1.9M285.8 272.1h1.9M287.8 255.9h1.9M290.0 272.1h1.9M290.7 257.2h1.9M290.7 280.2h1.9M293.4 255.9h1.9M296.7 255.9h1.9M297.5 249.2h1.9M298.7 253.2h1.9M299.5 257.2h1.9M299.2 242.4h1.9M299.2 278.9h1.9M300.2 237.0h1.9M300.5 281.6h1.9M301.4 242.4h1.9M303.5 249.2h1.9M304.6 239.7h1.9M305.1 278.9h1.9M309.5 278.9h1.9M309.3 258.6h1.9M309.8 261.3h1.9M312.6 243.8h1.9M312.7 253.2h1.9M313.9 245.1h1.9M314.2 247.8h1.9M314.4 280.2h1.9M315.5 238.3h1.9M316.6 239.7h1.9M316.5 264.0h1.9M317.2 255.9h1.9M317.6 276.1h1.9M318.4 270.8h1.9M320.5 245.1h1.9M321.0 259.9h1.9M322.1 241.1h1.9M324.8 246.4h1.9M325.3 277.5h1.9M326.9 251.8h1.9M328.8 253.2h1.9M329.3 278.9h1.9M329.6 274.8h1.9M330.7 241.1h1.9M330.7 259.9h1.9M332.5 255.9h1.9M333.1 276.1h1.9M336.4 238.3h1.9M337.4 254.6h1.9M339.3 237.0h1.9M342.6 247.8h1.9M342.6 259.9h1.9M343.7 280.2h1.9M346.1 274.8h1.9M346.3 237.0h1.9M347.7 242.4h1.9M349.9 266.7h1.9M349.2 249.2h1.9M350.9 266.7h1.9M350.9 269.4h1.9M350.2 276.1h1.9M351.2 249.2h1.9M352.4 247.8h1.9M354.9 259.9h1.9M357.5 273.4h1.9M357.7 264.0h1.9M358.2 280.2h1.9M360.0 265.4h1.9M359.4 255.9h1.9M359.5 239.7h1.9M363.1 268.1h1.9M368.7 243.8h1.9M371.8 268.1h1.9M373.7 255.9h1.9M382.0 280.2h1.9M385.2 237.0h1.9M386.8 239.7h1.9M391.8 278.9h1.9M394.8 259.9h1.9M395.1 238.3h1.9M396.6 259.9h1.9M397.2 245.1h1.9M404.7 254.6h1.9M406.5 247.8h1.9M409.6 281.6h1.9M411.4 259.9h1.9M414.6 238.3h1.9M422.0 268.1h1.9M422.5 241.1h1.9M422.2 264.0h1.9M425.1 241.1h1.9M436.4 262.6h1.9M436.7 255.9h1.9M438.3 272.1h1.9M439.0 237.0h1.9M443.8 255.9h1.9M445.7 266.7h1.9M445.5 254.6h1.9M448.2 269.4h1.9M452.7 251.8h1.9M453.8 274.8h1.9M471.7 241.1h1.9M471.4 268.1h1.9M471.3 274.8h1.9M472.0 265.4h1.9M474.9 239.7h1.9M476.1 258.6h1.9M476.6 261.3h1.9M478.5 243.8h1.9M482.5 255.9h1.9M483.6 241.1h1.9M484.7 269.4h1.9M486.8 246.4h1.9M486.6 246.4h1.9M487.4 246.4h1.9M488.3 281.6h1.9M489.8 255.9h1.9M489.4 249.2h1.9M496.7 249.2h1.9M498.8 280.2h1.9M500.1 258.6h1.9M500.3 276.1h1.9M501.5 246.4h1.9M502.3 241.1h1.9M505.1 273.4h1.9M505.5 245.1h1.9M505.6 273.4h1.9M507.8 262.6h1.9M508.8 249.2h1.9M509.7 274.8h1.9M510.9 246.4h1.9M511.9 245.1h1.9M511.4 281.6h1.9M511.2 250.5h1.9M511.9 254.6h1.9M512.5 259.9h1.9M514.0 255.9h1.9M515.8 262.6h1.9M516.5 259.9h1.9M516.5 272.1h1.9M517.7 277.5h1.9M522.9 277.5h1.9M522.8 266.7h1.9M523.9 272.1h1.9M523.5 276.1h1.9M523.1 254.6h1.9M524.4 261.3h1.9M524.4 247.8h1.9M526.7 273.4h1.9M527.1 261.3h1.9M530.1 249.2h1.9M530.7 278.9h1.9M530.6 278.9h1.9M531.2 266.7h1.9M532.8 281.6h1.9M534.3 239.7h1.9M535.5 237.0h1.9M535.2 257.2h1.9M537.3 259.9h1.9M539.0 265.4h1.9M540.7 281.6h1.9M541.2 262.6h1.9M542.8 264.0h1.9M544.2 250.5h1.9M544.9 278.9h1.9M545.4 280.2h1.9M546.1 259.9h1.9M548.0 242.4h1.9M547.9 245.1h1.9M549.2 246.4h1.9M551.0 266.7h1.9M550.5 276.1h1.9M550.6 259.9h1.9M551.1 269.4h1.9M552.9 274.8h1.9M554.6 270.8h1.9M556.1 251.8h1.9M557.0 253.2h1.9M559.2 265.4h1.9M566.1 243.8h1.9M568.8 249.2h1.9M571.5 281.6h1.9M573.9 268.1h1.9M580.0 247.8h1.9M581.1 259.9h1.9M583.5 269.4h1.9" stroke="#000" stroke-width="1.9" fill="none"/>
<path d="M80.9 291.8h1.9M115.7 297.2h1.9M115.6 281.0h1.9M116.8 303.9h1.9M118.3 287.8h1.9M119.8 286.4h1.9M122.9 302.6h1.9M128.7 294.5h1.9M128.7 299.9h1.9M129.6 286.4h1.9M129.5 291.8h1.9M130.2 281.0h1.9M131.3 290.4h1.9M132.2 303.9h1.9M132.6 301.2h1.9M132.7 281.0h1.9M133.7 293.1h1.9M134.7 301.2h1.9M134.7 290.4h1.9M134.5 294.5h1.9M135.2 282.4h1.9M136.2 302.6h1.9M137.2 302.6h1.9M138.5 298.6h1.9M138.3 297.2h1.9M138.4 282.4h1.9M138.3 298.6h1.9M138.4 297.2h1.9M139.1 301.2h1.9M139.0 298.6h1.9M139.8 287.8h1.9M139.2 295.9h1.9M140.9 290.4h1.9M140.6 289.1h1.9M140.8 298.6h1.9M140.6 290.4h1.9M141.6 298.6h1.9M141.8 283.7h1.9M141.4 299.9h1.9M141.8 293.1h1.9M141.3 301.2h1.9M144.6 299.9h1.9M144.7 303.9h1.9M144.8 286.4h1.9M144.2 303.9h1.9M145.1 302.6h1.9M145.5 290.4h1.9M145.8 302.6h1.9M146.0 303.9h1.9M147.4 287.8h1.9M147.7 287.8h1.9M148.4 302.6h1.9M149.9 290.4h1.9M149.3 297.2h1.9M150.6 299.9h1.9M150.8 282.4h1.9M153.6 289.1h1.9M154.0 290.4h1.9M154.6 289.1h1.9M154.5 295.9h1.9M155.3 289.1h1.9M155.2 295.9h1.9M156.4 287.8h1.9M156.4 294.5h1.9M157.2 281.0h1.9M157.9 297.2h1.9M159.3 291.8h1.9M159.9 299.9h1.9M160.1 294.5h1.9M162.3 286.4h1.9M162.4 302.6h1.9M162.8 293.1h1.9M163.5 289.1h1.9M164.8 303.9h1.9M164.8 303.9h1.9M164.2 295.9h1.9M165.8 285.1h1.9M167.0 287.8h1.9M166.8 298.6h1.9M167.5 289.1h1.9M168.4 291.8h1.9M168.3 285.1h1.9M168.7 302.6h1.9M168.5 287.8h1.9M168.1 295.9h1.9M169.4 287.8h1.9M170.7 301.2h1.9M170.0 298.6h1.9M170.8 289.1h1.9M170.3 303.9h1.9M170.6 287.8h1.9M170.2 297.2h1.9M173.5 302.6h1.9M173.6 299.9h1.9M174.8 297.2h1.9M174.2 290.4h1.9M174.9 290.4h1.9M174.4 302.6h1.9M174.5 299.9h1.9M175.4 283.7h1.9M177.0 299.9h1.9M177.0 283.7h1.9M176.3 301.2h1.9M177.9 297.2h1.9M179.0 282.4h1.9M178.5 289.1h1.9M179.1 283.7h1.9M179.2 281.0h1.9M180.3 290.4h1.9M181.1 301.2h1.9M181.9 286.4h1.9M181.2 282.4h1.9M181.2 303.9h1.9M182.2 285.1h1.9M182.5 281.0h1.9M183.7 293.1h1.9M183.4 295.9h1.9M183.5 303.9h1.9M184.1 301.2h1.9M184.1 281.0h1.9M185.1 299.9h1.9M185.3 293.1h1.9M185.4 282.4h1.9M187.7 285.1h1.9M188.6 287.8h1.9M189.1 281.0h1.9M190.2 299.9h1.9M192.4 291.8h1.9M193.4 299.9h1.9M194.2 281.0h1.9M194.1 287.8h1.9M196.0 290.4h1.9M196.1 285.1h1.9M197.5 291.8h1.9M198.4 282.4h1.9M198.7 290.4h1.9M198.0 282.4h1.9M198.6 301.2h1.9M198.9 302.6h1.9M199.1 295.9h1.9M199.9 295.9h1.9M199.7 295.9h1.9M199.0 282.4h1.9M199.9 303.9h1.9M201.0 299.9h1.9M200.3 301.2h1.9M200.5 293.1h1.9M201.6 295.9h1.9M201.6 281.0h1.9M203.0 294.5h1.9M203.5 286.4h1.9M203.0 283.7h1.9M203.2 293.1h1.9M203.2 286.4h1.9M206.7 299.9h1.9M207.2 281.0h1.9M208.9 286.4h1.9M208.9 297.2h1.9M208.7 299.9h1.9M208.5 298.6h1.9M208.8 290.4h1.9M209.4 293.1h1.9M209.4 303.9h1.9M211.7 289.1h1.9M211.4 282.4h1.9M212.2 283.7h1.9M213.1 298.6h1.9M214.6 281.0h1.9M214.2 290.4h1.9M214.1 298.6h1.9M214.1 287.8h1.9M214.1 298.6h1.9M216.5 286.4h1.9M217.8 302.6h1.9M217.2 286.4h1.9M219.3 282.4h1.9M219.8 294.5h1.9M219.8 287.8h1.9M220.2 297.2h1.9M222.0 302.6h1.9M222.6 290.4h1.9M222.1 285.1h1.9M223.4 291.8h1.9M223.6 289.1h1.9M224.0 291.8h1.9M224.1 291.8h1.9M225.4 289.1h1.9M228.5 293.1h1.9M228.5 282.4h1.9M229.6 286.4h1.9M229.4 286.4h1.9M231.8 285.1h1.9M231.4 301.2h1.9M231.4 294.5h1.9M232.3 298.6h1.9M235.2 294.5h1.9M235.7 302.6h1.9M236.0 297.2h1.9M237.1 302.6h1.9M237.8 281.0h1.9M238.4 281.0h1.9M239.5 295.9h1.9M239.2 297.2h1.9M240.2 283.7h1.9M240.2 283.7h1.9M241.8 282.4h1.9M242.0 289.1h1.9M241.4 293.1h1.9M241.3 299.9h1.9M241.8 290.4h1.9M242.8 282.4h1.9M242.4 290.4h1.9M242.4 283.7h1.9M244.1 283.7h1.9M244.5 294.5h1.9M244.2 295.9h1.9M245.5 290.4h1.9M245.3 289.1h1.9M246.2 281.0h1.9M247.7 294.5h1.9M247.7 290.4h1.9M247.2 286.4h1.9M247.3 298.6h1.9M248.7 286.4h1.9M250.3 286.4h1.9M251.9 295.9h1.9M252.6 282.4h1.9M253.7 291.8h1.9M253.2 282.4h1.9M254.6 287.8h1.9M255.0 298.6h1.9M255.7 302.6h1.9M255.0 295.9h1.9M256.9 293.1h1.9M257.8 301.2h1.9M258.0 289.1h1.9M259.8 299.9h1.9M260.9 303.9h1.9M262.9 282.4h1.9M263.9 290.4h1.9M264.2 295.9h1.9M266.0 302.6h1.9M265.5 287.8h1.9M265.6 295.9h1.9M267.7 302.6h1.9M267.5 295.9h1.9M267.9 302.6h1.9M267.5 283.7h1.9M268.2 282.4h1.9M268.8 291.8h1.9M270.7 282.4h1.9M270.8 295.9h1.9M271.3 294.5h1.9M273.1 283.7h1.9M274.4 303.9h1.9M274.8 298.6h1.9M274.4 285.1h1.9M275.7 293.1h1.9M275.2 302.6h1.9M276.7 297.2h1.9M278.0 295.9h1.9M278.7 283.7h1.9M278.7 290.4h1.9M279.5 283.7h1.9M281.2 291.8h1.9M281.2 302.6h1.9M282.6 281.0h1.9M282.4 285.1h1.9M283.0 298.6h1.9M283.3 302.6h1.9M283.3 303.9h1.9M284.4 294.5h1.9M285.2 290.4h1.9M286.9 289.1h1.9M287.0 291.8h1.9M288.4 303.9h1.9M288.0 295.9h1.9M288.4 293.1h1.9M290.9 283.7h1.9M290.1 301.2h1.9M290.9 299.9h1.9M290.6 303.9h1.9M292.0 285.1h1.9M291.7 285.1h1.9M291.2 295.9h1.9M293.0 286.4h1.9M292.2 281.0h1.9M293.7 298.6h1.9M293.4 281.0h1.9M293.3 299.9h1.9M294.6 293.1h1.9M294.5 287.8h1.9M295.3 293.1h1.9M296.1 281.0h1.9M296.9 290.4h1.9M296.5 297.2h1.9M297.2 281.0h1.9M297.2 303.9h1.9M298.6 283.7h1.9M298.7 282.4h1.9M299.6 289.1h1.9M300.6 289.1h1.9M300.4 297.2h1.9M301.8 298.6h1.9M301.4 289.1h1.9M302.3 302.6h1.9M302.4 299.9h1.9M303.6 281.0h1.9M304.5 299.9h1.9M305.5 302.6h1.9M306.8 286.4h1.9M306.3 303.9h1.9M306.2 282.4h1.9M306.1 283.7h1.9M308.0 289.1h1.9M307.1 286.4h1.9M307.4 291.8h1.9M307.9 299.9h1.9M307.5 299.9h1.9M308.6 302.6h1.9M309.5 301.2h1.9M309.1 283.7h1.9M311.3 298.6h1.9M311.6 286.4h1.9M312.6 297.2h1.9M313.0 290.4h1.9M312.7 303.9h1.9M312.7 283.7h1.9M314.0 299.9h1.9M313.5 294.5h1.9M314.0 290.4h1.9M314.3 286.4h1.9M314.5 295.9h1.9M315.9 286.4h1.9M316.8 291.8h1.9M317.2 294.5h1.9M318.5 285.1h1.9M318.4 291.8h1.9M318.1 297.2h1.9M319.1 297.2h1.9M319.4 281.0h1.9M321.1 287.8h1.9M322.9 298.6h1.9M322.1 285.1h1.9M323.4 289.1h1.9M323.6 286.4h1.9M323.3 281.0h1.9M324.5 290.4h1.9M324.2 291.8h1.9M325.7 297.2h1.9M328.0 283.7h1.9M327.7 286.4h1.9M327.2 285.1h1.9M327.0 303.9h1.9M327.8 301.2h1.9M328.8 287.8h1.9M328.2 281.0h1.9M329.2 298.6h1.9M330.2 298.6h1.9M330.5 293.1h1.9M330.8 297.2h1.9M330.2 294.5h1.9M330.6 286.4h1.9M331.8 299.9h1.9M332.3 285.1h1.9M332.4 299.9h1.9M333.8 289.1h1.9M333.1 295.9h1.9M335.1 302.6h1.9M336.1 287.8h1.9M338.4 281.0h1.9M338.2 303.9h1.9M339.4 289.1h1.9M339.1 298.6h1.9M340.1 281.0h1.9M340.4 294.5h1.9M340.0 298.6h1.9M340.1 299.9h1.9M342.6 282.4h1.9M342.9 299.9h1.9M343.6 291.8h1.9M345.7 285.1h1.9M345.2 285.1h1.9M346.6 290.4h1.9M347.0 286.4h1.9M347.8 297.2h1.9M348.5 287.8h1.9M348.4 281.0h1.9M350.0 301.2h1.9M349.5 297.2h1.9M352.5 298.6h1.9M352.8 282.4h1.9M353.7 287.8h1.9M354.6 303.9h1.9M354.9 303.9h1.9M354.7 303.9h1.9M355.3 295.9h1.9M355.6 295.9h1.9M356.0 289.1h1.9M356.8 294.5h1.9M356.0 291.8h1.9M357.2 298.6h1.9M357.7 291.8h1.9M359.4 293.1h1.9M360.7 303.9h1.9M361.5 283.7h1.9M361.3 286.4h1.9M362.8 291.8h1.9M362.4 286.4h1.9M362.6 286.4h1.9M363.5 299.9h1.9M365.0 301.2h1.9M364.1 286.4h1.9M364.0 289.1h1.9M365.6 297.2h1.9M365.0 291.8h1.9M366.7 303.9h1.9M366.9 293.1h1.9M367.4 286.4h1.9M368.8 293.1h1.9M368.1 283.7h1.9M369.2 297.2h1.9M371.3 290.4h1.9M372.6 281.0h1.9M372.0 298.6h1.9M374.6 291.8h1.9M374.4 299.9h1.9M374.6 286.4h1.9M374.2 299.9h1.9M376.6 293.1h1.9M377.8 299.9h1.9M377.6 295.9h1.9M378.6 287.8h1.9M379.6 285.1h1.9M379.9 298.6h1.9M380.0 291.8h1.9M380.1 297.2h1.9M380.1 295.9h1.9M381.4 286.4h1.9M382.1 299.9h1.9M382.7 295.9h1.9M383.0 301.2h1.9M384.8 286.4h1.9M384.4 287.8h1.9M385.4 286.4h1.9M388.5 294.5h1.9M389.5 303.9h1.9M389.4 281.0h1.9M389.7 302.6h1.9M390.0 298.6h1.9M390.7 283.7h1.9M391.8 289.1h1.9M392.0 287.8h1.9M391.3 281.0h1.9M392.1 294.5h1.9M393.3 303.9h1.9M393.8 293.1h1.9M393.6 289.1h1.9M394.9 286.4h1.9M394.6 287.8h1.9M394.1 301.2h1.9M395.5 297.2h1.9M395.6 295.9h1.9M396.2 297.2h1.9M396.6 281.0h1.9M397.5 287.8h1.9M397.8 299.9h1.9M399.0 289.1h1.9M400.5 295.9h1.9M400.5 285.1h1.9M401.5 294.5h1.9M401.6 293.1h1.9M401.9 303.9h1.9M401.3 303.9h1.9M403.0 302.6h1.9M402.3 299.9h1.9M402.3 301.2h1.9M403.5 285.1h1.9M404.9 303.9h1.9M404.7 282.4h1.9M404.1 299.9h1.9M405.7 303.9h1.9M405.1 299.9h1.9M406.4 294.5h1.9M406.4 286.4h1.9M406.9 295.9h1.9M407.3 287.8h1.9M407.7 294.5h1.9M409.0 293.1h1.9M408.8 286.4h1.9M410.5 298.6h1.9M411.6 293.1h1.9M411.7 291.8h1.9M411.5 301.2h1.9M412.0 287.8h1.9M413.8 299.9h1.9M415.8 290.4h1.9M415.0 290.4h1.9M416.2 286.4h1.9M416.3 298.6h1.9M416.8 281.0h1.9M417.1 281.0h1.9M418.4 299.9h1.9M422.7 297.2h1.9M423.2 297.2h1.9M425.3 299.9h1.9M426.2 291.8h1.9M427.0 286.4h1.9M432.5 286.4h1.9M433.7 297.2h1.9M434.9 302.6h1.9M437.0 287.8h1.9M436.4 289.1h1.9M439.1 299.9h1.9M439.0 298.6h1.9M440.0 281.0h1.9M443.6 287.8h1.9M444.7 295.9h1.9M445.7 293.1h1.9M445.6 302.6h1.9M450.5 297.2h1.9M450.5 293.1h1.9M450.5 302.6h1.9M451.8 293.1h1.9M454.5 299.9h1.9M455.1 294.5h1.9M455.5 298.6h1.9M457.0 281.0h1.9M458.4 281.0h1.9M460.4 295.9h1.9M461.0 301.2h1.9M461.0 290.4h1.9M462.3 290.4h1.9M464.4 289.1h1.9M466.8 293.1h1.9M472.5 294.5h1.9M473.3 299.9h1.9M474.9 295.9h1.9M478.2 291.8h1.9M479.2 303.9h1.9M479.3 287.8h1.9M480.9 299.9h1.9M480.8 289.1h1.9M481.6 303.9h1.9M481.3 281.0h1.9M482.6 289.1h1.9M482.7 289.1h1.9M482.4 298.6h1.9M483.4 282.4h1.9M483.9 301.2h1.9M484.8 289.1h1.9M484.5 283.7h1.9M486.0 301.2h1.9M487.4 282.4h1.9M488.8 290.4h1.9M489.8 287.8h1.9M489.0 285.1h1.9M490.2 301.2h1.9M491.0 299.9h1.9M490.5 298.6h1.9M490.3 289.1h1.9M491.3 293.1h1.9M491.6 297.2h1.9M492.4 287.8h1.9M494.9 282.4h1.9M495.1 298.6h1.9M497.8 298.6h1.9M498.2 290.4h1.9M498.9 286.4h1.9M498.3 297.2h1.9M499.1 282.4h1.9M500.2 281.0h1.9M501.7 302.6h1.9M504.8 282.4h1.9M504.4 283.7h1.9M504.4 291.8h1.9M505.8 298.6h1.9M506.8 302.6h1.9M508.9 286.4h1.9M509.5 290.4h1.9M509.4 301.2h1.9M509.5 297.2h1.9M511.7 281.0h1.9M513.8 303.9h1.9M514.8 298.6h1.9M515.3 285.1h1.9M518.0 285.1h1.9M517.4 282.4h1.9M520.9 282.4h1.9M521.5 294.5h1.9M525.3 285.1h1.9M525.3 286.4h1.9M529.8 299.9h1.9M529.1 295.9h1.9M529.1 298.6h1.9M529.4 294.5h1.9M530.3 281.0h1.9M534.6 282.4h1.9M536.6 282.4h1.9M537.5 295.9h1.9M539.7 298.6h1.9M542.5 297.2h1.9M542.3 301.2h1.9M544.2 302.6h1.9M552.5 283.7h1.9M553.7 285.1h1.9M556.4 301.2h1.9M556.7 289.1h1.9M557.8 293.1h1.9M561.8 297.2h1.9M563.7 295.9h1.9M564.8 294.5h1.9M569.7 297.2h1.9M575.4 282.4h1.9M576.0 303.9h1.9M587.7 281.0h1.9" stroke="#ff1010" stroke-width="1.9" fill="none"/>
<path d="M115.2 304.0h1.9M118.3 318.9h1.9M120.4 328.3h1.9M122.1 324.2h1.9M125.1 320.2h1.9M126.9 325.6h1.9M127.3 328.3h1.9M127.3 320.2h1.9M127.5 312.1h1.9M127.4 304.0h1.9M127.4 309.4h1.9M127.5 321.6h1.9M127.2 305.4h1.9M127.6 306.7h1.9M127.2 318.9h1.9M128.6 309.4h1.9M128.6 324.2h1.9M128.5 304.0h1.9M128.5 312.1h1.9M128.8 328.3h1.9M128.7 320.2h1.9M128.4 318.9h1.9M128.8 318.9h1.9M129.0 328.3h1.9M128.3 318.9h1.9M129.4 321.6h1.9M129.4 304.0h1.9M129.9 328.3h1.9M129.5 326.9h1.9M129.0 321.6h1.9M129.2 312.1h1.9M129.7 326.9h1.9M129.9 316.1h1.9M129.8 325.6h1.9M130.5 308.1h1.9M130.5 317.5h1.9M130.2 329.6h1.9M130.3 317.5h1.9M130.3 312.1h1.9M131.0 306.7h1.9M130.5 310.8h1.9M130.4 305.4h1.9M131.4 324.2h1.9M131.2 316.1h1.9M131.2 314.8h1.9M131.1 314.8h1.9M131.8 304.0h1.9M131.1 320.2h1.9M131.4 329.6h1.9M131.6 321.6h1.9M131.4 312.1h1.9M131.3 312.1h1.9M131.7 321.6h1.9M131.2 320.2h1.9M131.2 328.3h1.9M131.2 308.1h1.9M132.5 313.4h1.9M132.9 305.4h1.9M132.3 321.6h1.9M132.0 324.2h1.9M132.3 310.8h1.9M132.5 328.3h1.9M132.4 317.5h1.9M132.9 312.1h1.9M132.9 309.4h1.9M132.7 328.3h1.9M132.1 322.9h1.9M132.3 308.1h1.9M132.6 322.9h1.9M132.2 320.2h1.9M133.3 309.4h1.9M133.9 322.9h1.9M133.6 308.1h1.9M133.5 312.1h1.9M133.1 325.6h1.9M133.3 306.7h1.9M133.2 328.3h1.9M134.2 322.9h1.9M134.8 320.2h1.9M134.4 309.4h1.9M134.8 324.2h1.9M134.4 329.6h1.9M134.2 326.9h1.9M134.2 304.0h1.9M134.8 329.6h1.9M134.9 305.4h1.9M134.8 313.4h1.9M134.9 324.2h1.9M134.7 310.8h1.9M134.3 321.6h1.9M135.1 309.4h1.9M135.2 312.1h1.9M135.1 306.7h1.9M135.0 316.1h1.9M135.0 321.6h1.9M135.5 325.6h1.9M135.5 316.1h1.9M135.6 329.6h1.9M136.5 305.4h1.9M136.6 310.8h1.9M136.5 320.2h1.9M136.3 322.9h1.9M136.8 320.2h1.9M136.7 325.6h1.9M136.9 312.1h1.9M136.5 313.4h1.9M136.8 326.9h1.9M136.4 324.2h1.9M137.4 304.0h1.9M137.7 321.6h1.9M138.0 320.2h1.9M137.4 329.6h1.9M137.1 320.2h1.9M137.6 320.2h1.9M137.1 320.2h1.9M137.8 304.0h1.9M137.6 328.3h1.9M137.9 329.6h1.9M138.5 316.1h1.9M138.6 325.6h1.9M139.0 312.1h1.9M138.0 322.9h1.9M138.9 322.9h1.9M138.6 314.8h1.9M138.9 306.7h1.9M138.1 325.6h1.9M138.5 310.8h1.9M138.2 322.9h1.9M139.0 317.5h1.9M139.6 321.6h1.9M139.8 325.6h1.9M139.3 314.8h1.9M140.5 325.6h1.9M140.5 309.4h1.9M140.4 322.9h1.9M140.4 308.1h1.9M140.2 328.3h1.9M141.7 325.6h1.9M141.4 322.9h1.9M142.0 312.1h1.9M142.6 304.0h1.9M142.6 317.5h1.9M143.8 310.8h1.9M143.0 326.9h1.9M143.8 329.6h1.9M143.9 325.6h1.9M143.8 322.9h1.9M144.6 318.9h1.9M144.0 318.9h1.9M144.4 324.2h1.9M145.1 313.4h1.9M146.0 305.4h1.9M145.5 314.8h1.9M147.0 316.1h1.9M146.1 318.9h1.9M147.0 324.2h1.9M146.1 313.4h1.9M146.1 313.4h1.9M147.7 324.2h1.9M147.6 308.1h1.9M148.5 326.9h1.9M148.9 320.2h1.9M148.6 320.2h1.9M149.0 309.4h1.9M150.7 316.1h1.9M150.4 317.5h1.9M150.0 306.7h1.9M151.4 325.6h1.9M151.1 309.4h1.9M151.3 316.1h1.9M152.0 314.8h1.9M151.7 305.4h1.9M152.7 321.6h1.9M152.2 312.1h1.9M152.2 328.3h1.9M154.0 306.7h1.9M153.3 328.3h1.9M153.8 328.3h1.9M154.9 329.6h1.9M154.9 304.0h1.9M154.5 325.6h1.9M155.5 316.1h1.9M155.2 305.4h1.9M156.0 324.2h1.9M155.8 321.6h1.9M155.4 309.4h1.9M155.8 305.4h1.9M155.1 321.6h1.9M155.3 321.6h1.9M156.1 313.4h1.9M156.4 316.1h1.9M156.4 321.6h1.9M157.1 317.5h1.9M157.5 326.9h1.9M158.2 305.4h1.9M159.0 322.9h1.9M158.4 318.9h1.9M158.1 308.1h1.9M158.2 310.8h1.9M159.9 308.1h1.9M159.7 325.6h1.9M159.2 318.9h1.9M159.5 313.4h1.9M159.5 329.6h1.9M159.1 318.9h1.9M160.9 322.9h1.9M160.6 329.6h1.9M160.1 309.4h1.9M160.7 308.1h1.9M160.4 320.2h1.9M160.1 321.6h1.9M162.2 328.3h1.9M162.6 316.1h1.9M163.3 322.9h1.9M163.4 306.7h1.9M164.0 305.4h1.9M163.9 322.9h1.9M164.9 317.5h1.9M164.4 312.1h1.9M164.3 324.2h1.9M164.6 305.4h1.9M164.3 322.9h1.9M164.1 328.3h1.9M166.0 329.6h1.9M166.0 309.4h1.9M165.3 308.1h1.9M165.9 320.2h1.9M166.2 316.1h1.9M167.8 325.6h1.9M167.6 326.9h1.9M167.8 328.3h1.9M167.8 318.9h1.9M168.4 305.4h1.9M169.6 312.1h1.9M169.6 306.7h1.9M169.9 312.1h1.9M170.2 324.2h1.9M170.1 309.4h1.9M170.1 322.9h1.9M170.5 312.1h1.9M171.5 314.8h1.9M171.7 313.4h1.9M171.4 304.0h1.9M171.1 310.8h1.9M172.6 318.9h1.9M172.5 321.6h1.9M172.9 310.8h1.9M172.3 324.2h1.9M172.7 304.0h1.9M172.7 328.3h1.9M172.9 308.1h1.9M172.0 322.9h1.9M173.1 314.8h1.9M174.0 314.8h1.9M174.8 326.9h1.9M174.8 314.8h1.9M174.8 329.6h1.9M174.5 318.9h1.9M174.3 312.1h1.9M174.6 304.0h1.9M175.9 316.1h1.9M175.6 314.8h1.9M175.8 306.7h1.9M176.4 305.4h1.9M177.9 326.9h1.9M177.7 312.1h1.9M178.8 321.6h1.9M178.7 324.2h1.9M178.1 313.4h1.9M178.0 316.1h1.9M178.8 320.2h1.9M178.4 320.2h1.9M178.5 305.4h1.9M180.0 306.7h1.9M179.4 324.2h1.9M179.6 329.6h1.9M179.6 318.9h1.9M179.4 316.1h1.9M179.9 328.3h1.9M180.0 324.2h1.9M180.8 313.4h1.9M180.3 314.8h1.9M180.7 324.2h1.9M180.5 321.6h1.9M181.1 318.9h1.9M181.5 317.5h1.9M181.6 312.1h1.9M182.8 325.6h1.9M182.2 305.4h1.9M182.1 321.6h1.9M182.2 305.4h1.9M182.7 304.0h1.9M182.5 304.0h1.9M183.0 316.1h1.9M183.3 310.8h1.9M183.0 322.9h1.9M185.1 325.6h1.9M185.4 328.3h1.9M185.8 312.1h1.9M186.4 312.1h1.9M187.5 325.6h1.9M187.5 326.9h1.9M187.9 312.1h1.9M188.9 324.2h1.9M188.0 304.0h1.9M189.0 314.8h1.9M188.3 316.1h1.9M189.1 312.1h1.9M189.3 313.4h1.9M189.9 328.3h1.9M189.3 304.0h1.9M190.9 321.6h1.9M190.2 313.4h1.9M190.1 316.1h1.9M190.6 326.9h1.9M190.0 312.1h1.9M191.3 308.1h1.9M191.9 328.3h1.9M191.0 322.9h1.9M192.5 316.1h1.9M193.0 316.1h1.9M192.8 321.6h1.9M192.9 317.5h1.9M192.0 321.6h1.9M194.0 317.5h1.9M193.6 322.9h1.9M193.1 313.4h1.9M194.2 304.0h1.9M194.1 324.2h1.9M194.2 325.6h1.9M195.0 329.6h1.9M196.0 312.1h1.9M195.8 316.1h1.9M195.2 324.2h1.9M195.1 325.6h1.9M196.8 305.4h1.9M196.9 329.6h1.9M196.4 314.8h1.9M196.8 306.7h1.9M196.7 329.6h1.9M196.7 324.2h1.9M196.8 317.5h1.9M196.7 322.9h1.9M196.0 322.9h1.9M197.7 320.2h1.9M197.2 326.9h1.9M197.2 305.4h1.9M197.7 305.4h1.9M198.4 306.7h1.9M198.1 317.5h1.9M198.8 310.8h1.9M198.6 326.9h1.9M199.5 324.2h1.9M199.3 304.0h1.9M199.5 317.5h1.9M199.2 328.3h1.9M199.7 305.4h1.9M200.5 317.5h1.9M201.2 326.9h1.9M201.0 318.9h1.9M202.5 317.5h1.9M202.3 309.4h1.9M202.2 329.6h1.9M203.9 316.1h1.9M205.0 306.7h1.9M204.2 304.0h1.9M205.7 324.2h1.9M205.9 322.9h1.9M205.5 326.9h1.9M205.0 310.8h1.9M206.6 305.4h1.9M207.9 305.4h1.9M207.9 314.8h1.9M208.3 306.7h1.9M208.5 321.6h1.9M208.8 316.1h1.9M209.1 308.1h1.9M209.8 321.6h1.9M209.4 313.4h1.9M209.6 316.1h1.9M210.4 324.2h1.9M211.3 328.3h1.9M212.3 306.7h1.9M212.8 322.9h1.9M213.0 309.4h1.9M213.8 317.5h1.9M213.7 309.4h1.9M214.3 316.1h1.9M214.5 312.1h1.9M215.2 328.3h1.9M215.3 325.6h1.9M215.2 320.2h1.9M216.6 326.9h1.9M216.7 309.4h1.9M216.5 308.1h1.9M217.7 314.8h1.9M217.7 328.3h1.9M217.7 316.1h1.9M218.1 306.7h1.9M219.1 312.1h1.9M220.4 309.4h1.9M221.6 316.1h1.9M224.8 308.1h1.9M224.3 309.4h1.9M226.2 324.2h1.9M228.5 308.1h1.9M228.5 325.6h1.9M228.8 321.6h1.9M229.6 308.1h1.9M230.6 308.1h1.9M232.0 306.7h1.9M231.9 308.1h1.9M232.5 325.6h1.9M232.4 310.8h1.9M235.2 329.6h1.9M238.2 316.1h1.9M240.0 309.4h1.9M240.5 325.6h1.9M242.4 312.1h1.9M243.4 329.6h1.9M243.3 324.2h1.9M244.7 320.2h1.9M246.5 328.3h1.9M248.0 317.5h1.9M247.9 325.6h1.9M248.6 308.1h1.9M253.7 326.9h1.9M255.0 306.7h1.9M254.9 328.3h1.9M254.2 321.6h1.9M255.4 320.2h1.9M255.4 326.9h1.9M256.5 318.9h1.9M261.9 329.6h1.9M263.8 308.1h1.9M267.0 308.1h1.9M267.6 313.4h1.9M267.9 308.1h1.9M268.2 325.6h1.9M268.2 310.8h1.9M270.2 329.6h1.9M271.5 322.9h1.9M276.4 328.3h1.9M277.6 309.4h1.9M277.5 317.5h1.9M278.6 305.4h1.9M280.8 324.2h1.9M281.5 312.1h1.9M284.8 329.6h1.9M285.7 314.8h1.9M286.3 309.4h1.9M287.8 328.3h1.9M288.9 316.1h1.9M288.0 322.9h1.9M290.3 316.1h1.9M292.9 326.9h1.9M294.4 310.8h1.9M298.0 325.6h1.9M299.2 312.1h1.9M299.4 322.9h1.9M300.4 312.1h1.9M301.1 310.8h1.9M301.5 308.1h1.9M302.3 322.9h1.9M303.3 324.2h1.9M303.8 304.0h1.9M303.0 325.6h1.9M303.7 324.2h1.9M303.9 329.6h1.9M304.9 325.6h1.9M304.4 305.4h1.9M304.4 321.6h1.9M305.1 317.5h1.9M305.6 316.1h1.9M305.3 310.8h1.9M305.8 322.9h1.9M305.1 305.4h1.9M305.3 320.2h1.9M307.5 324.2h1.9M307.4 305.4h1.9M308.9 310.8h1.9M309.9 328.3h1.9M310.3 320.2h1.9M310.9 318.9h1.9M311.3 318.9h1.9M311.5 313.4h1.9M311.6 314.8h1.9M312.6 329.6h1.9M312.8 329.6h1.9M312.2 326.9h1.9M313.5 312.1h1.9M314.9 317.5h1.9M314.2 313.4h1.9M315.6 317.5h1.9M315.5 328.3h1.9M316.9 325.6h1.9M316.4 308.1h1.9M316.7 305.4h1.9M316.2 310.8h1.9M319.3 317.5h1.9M319.9 316.1h1.9M319.2 305.4h1.9M320.9 314.8h1.9M321.4 326.9h1.9M322.2 308.1h1.9M323.3 309.4h1.9M325.5 320.2h1.9M325.6 310.8h1.9M326.0 324.2h1.9M326.3 322.9h1.9M327.7 313.4h1.9M327.4 313.4h1.9M328.5 316.1h1.9M330.7 320.2h1.9M331.4 321.6h1.9M331.8 328.3h1.9M331.7 310.8h1.9M332.5 312.1h1.9M332.7 316.1h1.9M333.5 305.4h1.9M333.5 305.4h1.9M335.2 320.2h1.9M335.4 309.4h1.9M335.8 328.3h1.9M335.6 308.1h1.9M335.7 324.2h1.9M335.7 309.4h1.9M336.4 320.2h1.9M337.4 316.1h1.9M340.0 310.8h1.9M339.0 316.1h1.9M339.2 305.4h1.9M339.8 329.6h1.9M340.0 321.6h1.9M339.7 325.6h1.9M340.9 321.6h1.9M340.7 305.4h1.9M340.8 310.8h1.9M340.4 322.9h1.9M340.7 320.2h1.9M341.9 328.3h1.9M341.3 313.4h1.9M342.6 329.6h1.9M342.4 305.4h1.9M342.8 324.2h1.9M343.7 314.8h1.9M343.8 306.7h1.9M345.0 308.1h1.9M348.0 305.4h1.9M350.8 304.0h1.9M350.6 308.1h1.9M352.3 320.2h1.9M352.1 309.4h1.9M353.2 316.1h1.9M355.4 304.0h1.9M355.2 321.6h1.9M356.1 313.4h1.9M356.6 328.3h1.9M356.1 325.6h1.9M357.5 313.4h1.9M358.7 314.8h1.9M358.1 314.8h1.9M359.9 314.8h1.9M360.8 321.6h1.9M362.6 308.1h1.9M364.1 325.6h1.9M364.7 304.0h1.9M365.9 309.4h1.9M368.9 322.9h1.9M370.9 305.4h1.9M370.2 313.4h1.9M372.5 316.1h1.9M372.7 313.4h1.9M372.3 328.3h1.9M373.1 324.2h1.9M377.9 329.6h1.9M378.5 306.7h1.9M380.1 312.1h1.9M380.5 329.6h1.9M383.7 318.9h1.9M383.6 321.6h1.9M384.2 329.6h1.9M386.4 329.6h1.9M386.8 309.4h1.9M387.4 308.1h1.9M389.6 326.9h1.9M390.8 320.2h1.9M392.6 305.4h1.9M392.4 312.1h1.9M394.6 314.8h1.9M395.3 312.1h1.9M396.5 314.8h1.9M396.2 310.8h1.9M397.7 306.7h1.9M400.0 328.3h1.9M400.3 318.9h1.9M400.7 314.8h1.9M400.5 321.6h1.9M400.5 308.1h1.9M401.6 314.8h1.9M402.3 308.1h1.9M402.9 320.2h1.9M403.3 316.1h1.9M403.5 318.9h1.9M405.4 310.8h1.9M405.9 314.8h1.9M406.3 328.3h1.9M407.6 313.4h1.9M408.0 316.1h1.9M408.5 310.8h1.9M408.5 317.5h1.9M409.4 312.1h1.9M409.8 326.9h1.9M409.4 316.1h1.9M411.0 308.1h1.9M416.3 328.3h1.9M416.2 328.3h1.9M417.6 325.6h1.9M417.5 312.1h1.9M418.2 322.9h1.9M418.8 310.8h1.9M420.4 328.3h1.9M421.2 309.4h1.9M421.0 310.8h1.9M423.3 324.2h1.9M424.3 325.6h1.9M426.6 314.8h1.9M426.6 313.4h1.9M427.3 324.2h1.9M427.3 328.3h1.9M427.2 305.4h1.9M431.0 310.8h1.9M432.7 318.9h1.9M435.1 306.7h1.9M436.0 321.6h1.9M435.1 316.1h1.9M438.4 314.8h1.9M439.8 328.3h1.9M441.9 306.7h1.9M442.4 305.4h1.9M442.4 308.1h1.9M443.3 314.8h1.9M443.7 313.4h1.9M446.3 306.7h1.9M446.8 326.9h1.9M447.1 328.3h1.9M447.6 304.0h1.9M449.2 328.3h1.9M450.3 308.1h1.9M452.7 329.6h1.9M455.6 308.1h1.9M460.6 320.2h1.9M461.8 325.6h1.9M462.8 325.6h1.9M463.1 324.2h1.9M464.0 316.1h1.9M464.3 314.8h1.9M464.4 322.9h1.9M465.7 306.7h1.9M468.7 321.6h1.9M469.9 325.6h1.9M469.9 317.5h1.9M470.3 318.9h1.9M474.1 329.6h1.9M477.0 321.6h1.9M476.3 324.2h1.9M476.7 308.1h1.9M477.7 308.1h1.9M477.9 313.4h1.9M479.1 306.7h1.9M481.5 306.7h1.9M481.2 325.6h1.9M484.9 306.7h1.9M486.6 312.1h1.9M486.8 321.6h1.9M486.0 322.9h1.9M488.0 304.0h1.9M487.2 321.6h1.9M487.4 326.9h1.9M490.6 313.4h1.9M490.1 324.2h1.9M490.6 324.2h1.9M490.4 314.8h1.9M490.6 317.5h1.9M491.2 310.8h1.9M497.4 329.6h1.9M498.2 316.1h1.9M498.8 308.1h1.9M498.0 328.3h1.9M499.4 320.2h1.9M500.0 324.2h1.9M499.7 306.7h1.9M499.0 321.6h1.9M500.0 310.8h1.9M500.4 310.8h1.9M501.7 322.9h1.9M505.9 312.1h1.9M506.7 317.5h1.9M507.5 317.5h1.9M508.7 318.9h1.9M509.8 304.0h1.9M510.9 317.5h1.9M513.9 308.1h1.9M516.3 310.8h1.9M518.9 314.8h1.9M520.7 314.8h1.9M521.4 322.9h1.9M521.3 306.7h1.9M522.1 309.4h1.9M522.4 322.9h1.9M522.7 325.6h1.9M523.5 329.6h1.9M523.3 306.7h1.9M523.3 312.1h1.9M524.0 304.0h1.9M524.1 326.9h1.9M525.7 318.9h1.9M526.9 313.4h1.9M527.7 308.1h1.9M527.5 305.4h1.9M528.2 318.9h1.9M528.6 310.8h1.9M528.6 321.6h1.9M529.0 308.1h1.9M529.9 306.7h1.9M529.3 316.1h1.9M530.9 306.7h1.9M530.7 320.2h1.9M531.9 308.1h1.9M531.4 328.3h1.9M532.9 329.6h1.9M533.2 326.9h1.9M533.4 310.8h1.9M533.4 309.4h1.9M534.3 309.4h1.9M534.3 324.2h1.9M536.6 304.0h1.9M536.7 317.5h1.9M537.5 320.2h1.9M537.3 313.4h1.9M537.7 322.9h1.9M537.7 305.4h1.9M537.9 320.2h1.9M538.3 324.2h1.9M539.8 317.5h1.9M541.9 312.1h1.9M542.9 306.7h1.9M542.6 329.6h1.9M545.7 320.2h1.9M546.6 304.0h1.9M547.8 326.9h1.9M550.1 313.4h1.9M551.2 305.4h1.9M551.9 309.4h1.9M552.4 308.1h1.9M552.3 304.0h1.9M554.7 324.2h1.9M555.8 316.1h1.9M556.2 308.1h1.9M557.1 305.4h1.9M557.3 304.0h1.9M558.8 312.1h1.9M558.6 305.4h1.9M559.5 325.6h1.9M559.4 308.1h1.9M560.8 313.4h1.9M560.3 317.5h1.9M561.9 322.9h1.9M562.5 310.8h1.9M562.4 305.4h1.9M562.4 304.0h1.9M562.2 313.4h1.9M563.2 322.9h1.9M563.1 308.1h1.9M564.6 318.9h1.9M564.4 310.8h1.9M565.2 304.0h1.9M566.6 304.0h1.9M566.1 313.4h1.9M566.4 316.1h1.9M567.5 304.0h1.9M569.6 312.1h1.9M570.2 325.6h1.9M570.4 325.6h1.9M571.8 320.2h1.9M571.2 322.9h1.9M572.4 312.1h1.9M573.8 314.8h1.9M573.6 316.1h1.9M574.8 321.6h1.9M581.8 310.8h1.9M581.9 328.3h1.9M581.3 321.6h1.9M582.8 326.9h1.9M588.7 322.9h1.9M589.6 304.0h1.9" stroke="#0a5cab" stroke-width="1.9" fill="none"/>
<path d="M87.1 339.4h1.9M97.6 348.9h1.9M114.3 338.1h1.9M115.6 330.0h1.9M117.4 359.7h1.9M121.2 355.6h1.9M123.0 344.9h1.9M123.8 352.9h1.9M123.2 332.7h1.9M125.7 346.2h1.9M127.2 338.1h1.9M127.2 344.9h1.9M128.0 338.1h1.9M127.5 347.6h1.9M127.9 361.1h1.9M127.5 352.9h1.9M128.0 362.4h1.9M127.6 348.9h1.9M128.6 334.1h1.9M128.1 344.9h1.9M129.0 352.9h1.9M128.1 334.1h1.9M128.9 346.2h1.9M128.4 359.7h1.9M128.6 362.4h1.9M128.8 346.2h1.9M128.8 361.1h1.9M128.5 355.6h1.9M129.3 338.1h1.9M129.0 355.6h1.9M130.0 332.7h1.9M129.1 331.4h1.9M129.8 331.4h1.9M129.3 351.6h1.9M129.3 354.3h1.9M129.8 362.4h1.9M130.8 346.2h1.9M130.1 330.0h1.9M130.9 354.3h1.9M130.5 338.1h1.9M130.3 355.6h1.9M130.3 357.0h1.9M130.4 357.0h1.9M130.2 348.9h1.9M131.0 352.9h1.9M131.6 354.3h1.9M131.3 358.4h1.9M131.2 340.8h1.9M131.5 354.3h1.9M131.8 359.7h1.9M133.0 330.0h1.9M133.0 336.8h1.9M133.5 335.4h1.9M133.4 347.6h1.9M133.4 352.9h1.9M133.6 331.4h1.9M133.4 331.4h1.9M133.4 350.2h1.9M134.8 352.9h1.9M134.8 351.6h1.9M135.0 359.7h1.9M134.1 361.1h1.9M134.5 340.8h1.9M134.5 357.0h1.9M134.6 338.1h1.9M135.9 348.9h1.9M135.3 358.4h1.9M135.9 363.8h1.9M135.8 352.9h1.9M135.3 350.2h1.9M135.3 340.8h1.9M135.6 330.0h1.9M135.5 331.4h1.9M135.3 350.2h1.9M136.4 359.7h1.9M136.1 358.4h1.9M136.7 363.8h1.9M136.9 343.5h1.9M136.9 330.0h1.9M137.6 344.9h1.9M137.8 331.4h1.9M137.2 331.4h1.9M137.5 334.1h1.9M137.2 336.8h1.9M137.3 348.9h1.9M137.7 352.9h1.9M138.8 359.7h1.9M138.5 355.6h1.9M138.3 340.8h1.9M138.7 343.5h1.9M138.0 335.4h1.9M138.5 334.1h1.9M138.2 343.5h1.9M138.1 354.3h1.9M138.1 330.0h1.9M138.7 338.1h1.9M139.0 350.2h1.9M139.5 338.1h1.9M139.2 359.7h1.9M139.4 343.5h1.9M139.4 342.1h1.9M139.4 357.0h1.9M139.3 338.1h1.9M140.0 354.3h1.9M140.9 338.1h1.9M141.7 350.2h1.9M142.0 336.8h1.9M142.7 350.2h1.9M142.6 339.4h1.9M142.2 336.8h1.9M143.7 336.8h1.9M143.4 363.8h1.9M144.8 362.4h1.9M144.4 361.1h1.9M144.0 344.9h1.9M145.3 339.4h1.9M145.6 342.1h1.9M146.6 348.9h1.9M146.2 358.4h1.9M146.8 332.7h1.9M147.0 348.9h1.9M146.3 352.9h1.9M147.7 330.0h1.9M147.3 357.0h1.9M148.6 359.7h1.9M148.6 348.9h1.9M148.1 354.3h1.9M148.4 336.8h1.9M149.3 335.4h1.9M149.5 330.0h1.9M149.1 338.1h1.9M150.1 335.4h1.9M151.9 354.3h1.9M151.0 334.1h1.9M151.6 350.2h1.9M153.9 352.9h1.9M153.8 350.2h1.9M155.0 332.7h1.9M154.2 351.6h1.9M154.2 359.7h1.9M154.9 340.8h1.9M155.8 357.0h1.9M156.8 351.6h1.9M156.6 338.1h1.9M156.0 335.4h1.9M156.6 331.4h1.9M157.3 339.4h1.9M157.8 338.1h1.9M158.7 331.4h1.9M158.7 359.7h1.9M159.0 348.9h1.9M158.3 340.8h1.9M158.4 331.4h1.9M158.6 354.3h1.9M159.9 346.2h1.9M159.8 350.2h1.9M160.2 354.3h1.9M160.4 340.8h1.9M160.5 342.1h1.9M161.4 334.1h1.9M162.6 348.9h1.9M162.5 332.7h1.9M162.9 361.1h1.9M162.1 343.5h1.9M163.9 354.3h1.9M163.1 334.1h1.9M164.5 358.4h1.9M164.6 343.5h1.9M164.4 357.0h1.9M164.3 335.4h1.9M165.3 330.0h1.9M165.5 358.4h1.9M167.5 362.4h1.9M167.4 348.9h1.9M167.8 338.1h1.9M168.6 334.1h1.9M168.4 340.8h1.9M168.4 336.8h1.9M168.2 355.6h1.9M168.2 336.8h1.9M168.7 358.4h1.9M169.8 340.8h1.9M170.3 342.1h1.9M170.1 354.3h1.9M170.7 332.7h1.9M170.1 350.2h1.9M170.6 362.4h1.9M171.9 347.6h1.9M171.6 359.7h1.9M172.0 362.4h1.9M173.3 355.6h1.9M173.8 330.0h1.9M173.8 350.2h1.9M174.2 351.6h1.9M174.2 352.9h1.9M174.5 363.8h1.9M174.4 354.3h1.9M175.1 344.9h1.9M175.5 352.9h1.9M176.2 343.5h1.9M176.3 339.4h1.9M177.9 334.1h1.9M177.9 335.4h1.9M178.6 355.6h1.9M178.7 331.4h1.9M178.0 339.4h1.9M178.5 340.8h1.9M179.9 339.4h1.9M179.6 330.0h1.9M179.1 334.1h1.9M180.9 357.0h1.9M180.1 331.4h1.9M180.5 358.4h1.9M180.2 352.9h1.9M180.4 351.6h1.9M181.1 334.1h1.9M181.8 358.4h1.9M181.4 342.1h1.9M181.6 362.4h1.9M181.2 347.6h1.9M183.0 331.4h1.9M182.2 358.4h1.9M182.3 338.1h1.9M182.9 347.6h1.9M182.2 340.8h1.9M182.9 335.4h1.9M183.3 331.4h1.9M183.8 340.8h1.9M184.9 351.6h1.9M184.1 338.1h1.9M185.0 350.2h1.9M184.4 331.4h1.9M184.0 358.4h1.9M184.9 342.1h1.9M185.1 336.8h1.9M185.0 346.2h1.9M185.7 354.3h1.9M185.8 332.7h1.9M185.3 352.9h1.9M185.6 344.9h1.9M186.1 334.1h1.9M186.4 344.9h1.9M186.1 335.4h1.9M186.6 352.9h1.9M186.1 332.7h1.9M187.7 344.9h1.9M187.8 358.4h1.9M187.7 362.4h1.9M187.2 342.1h1.9M187.1 362.4h1.9M188.2 343.5h1.9M188.6 358.4h1.9M188.3 344.9h1.9M188.0 340.8h1.9M188.7 335.4h1.9M188.8 347.6h1.9M188.4 331.4h1.9M188.6 346.2h1.9M189.1 343.5h1.9M190.0 343.5h1.9M189.2 343.5h1.9M190.8 362.4h1.9M190.2 344.9h1.9M190.6 335.4h1.9M191.8 332.7h1.9M191.9 357.0h1.9M192.3 346.2h1.9M192.2 352.9h1.9M193.2 342.1h1.9M193.2 340.8h1.9M194.1 332.7h1.9M195.5 347.6h1.9M195.5 361.1h1.9M196.1 348.9h1.9M196.9 363.8h1.9M196.0 358.4h1.9M196.1 354.3h1.9M196.5 340.8h1.9M197.6 350.2h1.9M197.7 361.1h1.9M197.5 334.1h1.9M198.0 350.2h1.9M198.4 359.7h1.9M198.3 346.2h1.9M198.0 339.4h1.9M199.5 332.7h1.9M199.9 359.7h1.9M199.6 336.8h1.9M200.3 344.9h1.9M200.5 354.3h1.9M200.6 358.4h1.9M201.3 361.1h1.9M201.0 344.9h1.9M202.8 342.1h1.9M202.6 340.8h1.9M203.8 334.1h1.9M203.2 334.1h1.9M203.3 338.1h1.9M203.5 343.5h1.9M204.3 344.9h1.9M204.6 344.9h1.9M204.9 338.1h1.9M204.4 331.4h1.9M204.2 352.9h1.9M204.7 338.1h1.9M204.4 338.1h1.9M205.6 358.4h1.9M205.1 348.9h1.9M207.7 332.7h1.9M207.4 357.0h1.9M207.9 357.0h1.9M207.5 331.4h1.9M207.5 332.7h1.9M207.6 343.5h1.9M208.6 347.6h1.9M208.2 348.9h1.9M208.4 358.4h1.9M208.6 354.3h1.9M209.9 362.4h1.9M209.8 361.1h1.9M209.9 357.0h1.9M209.7 358.4h1.9M211.0 359.7h1.9M210.9 335.4h1.9M210.5 344.9h1.9M210.4 350.2h1.9M211.1 359.7h1.9M211.7 355.6h1.9M212.0 334.1h1.9M212.8 344.9h1.9M214.6 343.5h1.9M216.0 354.3h1.9M223.0 359.7h1.9M226.0 331.4h1.9M225.6 332.7h1.9M230.8 331.4h1.9M238.0 343.5h1.9M243.4 357.0h1.9M244.8 358.4h1.9M245.1 362.4h1.9M246.2 352.9h1.9M249.8 336.8h1.9M250.0 352.9h1.9M249.5 355.6h1.9M249.5 336.8h1.9M252.3 359.7h1.9M252.0 335.4h1.9M253.9 336.8h1.9M255.2 361.1h1.9M255.3 335.4h1.9M255.4 336.8h1.9M257.0 359.7h1.9M257.0 332.7h1.9M258.9 347.6h1.9M261.0 344.9h1.9M260.7 357.0h1.9M262.9 339.4h1.9M262.4 347.6h1.9M264.7 361.1h1.9M266.3 336.8h1.9M267.3 352.9h1.9M267.0 342.1h1.9M270.2 362.4h1.9M271.0 344.9h1.9M273.5 331.4h1.9M274.4 334.1h1.9M276.0 348.9h1.9M276.4 342.1h1.9M277.8 342.1h1.9M277.2 336.8h1.9M278.9 358.4h1.9M278.1 350.2h1.9M279.6 339.4h1.9M280.7 357.0h1.9M281.4 351.6h1.9M283.0 347.6h1.9M283.7 347.6h1.9M285.0 346.2h1.9M287.2 361.1h1.9M287.8 338.1h1.9M289.9 340.8h1.9M304.2 347.6h1.9M304.1 332.7h1.9M305.2 343.5h1.9M307.0 344.9h1.9M310.9 362.4h1.9M314.7 339.4h1.9M315.0 359.7h1.9M317.0 330.0h1.9M318.7 348.9h1.9M320.8 350.2h1.9M320.7 346.2h1.9M320.6 331.4h1.9M324.7 354.3h1.9M326.7 334.1h1.9M337.3 362.4h1.9M341.6 340.8h1.9M345.9 335.4h1.9M355.0 342.1h1.9M355.7 357.0h1.9M377.3 331.4h1.9M384.8 334.1h1.9M394.9 357.0h1.9M404.5 352.9h1.9M413.7 355.6h1.9M422.1 347.6h1.9M423.7 346.2h1.9M429.7 336.8h1.9M430.0 354.3h1.9M431.3 358.4h1.9M435.4 355.6h1.9M436.1 334.1h1.9M436.1 361.1h1.9M438.3 338.1h1.9M441.3 348.9h1.9M441.0 348.9h1.9M451.8 362.4h1.9M455.6 355.6h1.9M461.9 334.1h1.9M461.8 338.1h1.9M464.2 355.6h1.9M469.1 334.1h1.9M475.0 346.2h1.9M476.7 347.6h1.9M476.7 344.9h1.9M478.5 344.9h1.9M478.9 362.4h1.9M479.5 354.3h1.9M490.6 343.5h1.9M493.8 343.5h1.9M497.0 339.4h1.9M500.1 339.4h1.9M504.2 332.7h1.9M505.2 339.4h1.9M507.7 330.0h1.9M508.5 346.2h1.9M513.9 339.4h1.9M515.4 358.4h1.9M515.9 351.6h1.9M517.5 350.2h1.9M523.4 335.4h1.9M524.5 332.7h1.9M525.0 351.6h1.9M527.3 338.1h1.9M529.5 340.8h1.9M531.3 344.9h1.9M534.6 334.1h1.9M534.7 335.4h1.9M536.4 362.4h1.9M537.3 330.0h1.9M541.7 336.8h1.9M543.4 334.1h1.9M550.3 359.7h1.9M551.1 342.1h1.9M558.7 342.1h1.9" stroke="#eeb030" stroke-width="1.9" fill="none"/>
<path d="M72.2 605.6L74.2 609.0L76.2 611.6L78.2 612.6L80.2 613.2L82.2 613.7L84.2 614.0L86.2 614.1L88.2 614.1L90.2 614.2L92.2 614.3L94.2 614.3L96.2 614.4L98.2 614.4L100.2 614.5L102.2 614.5L104.2 614.0L106.2 611.3L108.2 608.0L110.2 603.9L112.2 595.8L114.2 587.7L116.2 575.7L118.2 560.6L120.2 540.8L122.2 518.1L124.2 493.6L126.2 479.9L128.2 469.2L130.2 459.6L132.2 454.2L134.2 457.3L136.2 467.8L138.2 481.2L140.2 488.3L142.2 494.2L144.2 504.0L146.2 513.9L148.2 520.0L150.2 524.1L152.2 527.2L154.2 527.6L156.2 526.2L158.2 524.7L160.2 523.8L162.2 523.3L164.2 522.9L166.2 522.7L168.2 523.6L170.2 524.8L172.2 526.1L174.2 527.4L176.2 528.7L178.2 530.1L180.2 531.5L182.2 533.5L184.2 536.8L186.2 540.3L188.2 543.8L190.2 547.3L192.2 550.8L194.2 554.4L196.2 557.9L198.2 561.5L200.2 565.1L202.2 568.7L204.2 572.4L206.2 576.3L208.2 580.4L210.2 584.5L212.2 588.4L214.2 591.5L216.2 594.3L218.2 597.5L220.2 600.1L222.2 601.0L224.2 601.6L226.2 601.6L228.2 598.9L230.2 594.3L232.2 592.1L234.2 590.4L236.2 588.8L238.2 587.5L240.2 586.7L242.2 586.0L244.2 585.4L246.2 585.1L248.2 585.1L250.2 585.2L252.2 585.3L254.2 585.4L256.2 585.6L258.2 585.7L260.2 585.9L262.2 586.6L264.2 587.6L266.2 588.5L268.2 589.4L270.2 590.4L272.2 591.3L274.2 592.3L276.2 593.3L278.2 594.6L280.2 596.0L282.2 597.6L284.2 599.2L286.2 600.7L288.2 601.8L290.2 601.7L292.2 601.3L294.2 601.0L296.2 600.7L298.2 600.4L300.2 600.3L302.2 600.3L304.2 600.3L306.2 600.3L308.2 600.3L310.2 600.3L312.2 600.3L314.2 600.5L316.2 601.0L318.2 601.6L320.2 602.2L322.2 602.3L324.2 602.1L326.2 601.8L328.2 601.5L330.2 601.2L332.2 600.9L334.2 600.6L336.2 600.5L338.2 601.4L340.2 602.5L342.2 603.7L344.2 604.9L346.2 606.1L348.2 607.3L350.2 608.5L352.2 609.6L354.2 610.5L356.2 611.4L358.2 612.3L360.2 613.2L362.2 614.1L364.2 615.0L366.2 615.5L368.2 615.5L370.2 615.2L372.2 614.6L374.2 614.0L376.2 613.4L378.2 612.8L380.2 612.2L382.2 611.5L384.2 610.5L386.2 609.3L388.2 608.2L390.2 607.1L392.2 606.0L394.2 605.2L396.2 605.7L398.2 606.5L400.2 607.4L402.2 608.2L404.2 609.0L406.2 609.3L408.2 609.4L410.2 609.4L412.2 609.4L414.2 609.3L416.2 608.7L418.2 607.6L420.2 606.4L422.2 605.2L424.2 604.0L426.2 602.8L428.2 601.6L430.2 600.8L432.2 601.4L434.2 602.5L436.2 603.7L438.2 605.1L440.2 606.8L442.2 608.6L444.2 610.3L446.2 611.4L448.2 611.7L450.2 611.7L452.2 611.7L454.2 611.7L456.2 611.7L458.2 611.7L460.2 611.6L462.2 611.4L464.2 611.2L466.2 610.9L468.2 610.6L470.2 610.3L472.2 610.0L474.2 609.6L476.2 608.9L478.2 606.8L480.2 604.4L482.2 602.0L484.2 599.6L486.2 597.2L488.2 594.9L490.2 593.2L492.2 592.5L494.2 592.7L496.2 593.2L498.2 593.9L500.2 595.6L502.2 598.4L504.2 601.4L506.2 604.0L508.2 605.0L510.2 605.4L512.2 605.7L514.2 606.0L516.2 606.3L518.2 606.6L520.2 606.8L522.2 606.5L524.2 605.2L526.2 603.7L528.2 602.2L530.2 600.7L532.2 599.2L534.2 597.7L536.2 596.3L538.2 595.4L540.2 594.9L542.2 594.4L544.2 594.4L546.2 596.7L548.2 600.2L550.2 603.7L552.2 606.7L554.2 608.1L556.2 609.0L558.2 609.9L560.2 610.8L562.2 611.7L564.2 612.6L566.2 613.4L568.2 613.9L570.2 614.1L572.2 614.2L574.2 614.3L576.2 614.5L578.2 614.6L580.2 614.7L582.2 614.8L584.2 614.9L586.2 615.0L586.2 617.0L584.2 617.0L582.2 616.9L580.2 616.9L578.2 616.9L576.2 616.8L574.2 616.8L572.2 616.7L570.2 616.7L568.2 616.6L566.2 616.5L564.2 616.2L562.2 615.9L560.2 615.6L558.2 615.3L556.2 615.0L554.2 614.7L552.2 614.2L550.2 613.2L548.2 612.1L546.2 610.9L544.2 609.8L542.2 609.8L540.2 610.1L538.2 610.4L536.2 610.8L534.2 611.2L532.2 611.7L530.2 612.2L528.2 612.7L526.2 613.2L524.2 613.7L522.2 614.2L520.2 614.3L518.2 614.2L516.2 614.1L514.2 614.0L512.2 613.9L510.2 613.8L508.2 613.7L506.2 613.3L504.2 612.5L502.2 611.5L500.2 610.5L498.2 609.4L496.2 609.0L494.2 608.6L492.2 608.5L490.2 609.0L488.2 610.1L486.2 611.1L484.2 611.9L482.2 612.7L480.2 613.5L478.2 614.3L476.2 615.0L474.2 615.2L472.2 615.3L470.2 615.4L468.2 615.5L466.2 615.6L464.2 615.7L462.2 615.8L460.2 615.9L458.2 615.9L456.2 615.9L454.2 615.9L452.2 615.9L450.2 615.9L448.2 615.9L446.2 615.8L444.2 615.4L442.2 614.9L440.2 614.3L438.2 613.7L436.2 613.2L434.2 612.8L432.2 612.5L430.2 612.3L428.2 612.5L426.2 612.9L424.2 613.3L422.2 613.7L420.2 614.1L418.2 614.5L416.2 614.9L414.2 615.1L412.2 615.1L410.2 615.1L408.2 615.1L406.2 615.1L404.2 615.0L402.2 614.7L400.2 614.5L398.2 614.2L396.2 613.9L394.2 613.7L392.2 614.0L390.2 614.4L388.2 614.7L386.2 615.1L384.2 615.5L382.2 615.8L380.2 616.1L378.2 616.3L376.2 616.5L374.2 616.7L372.2 616.9L370.2 617.2L368.2 617.5L366.2 617.5L364.2 617.0L362.2 616.7L360.2 616.4L358.2 616.1L356.2 615.8L354.2 615.5L352.2 615.2L350.2 614.8L348.2 614.4L346.2 614.0L344.2 613.6L342.2 613.2L340.2 612.8L338.2 612.5L336.2 612.2L334.2 612.2L332.2 612.3L330.2 612.4L328.2 612.5L326.2 612.6L324.2 612.7L322.2 612.8L320.2 612.7L318.2 612.5L316.2 612.3L314.2 612.2L312.2 612.1L310.2 612.1L308.2 612.1L306.2 612.1L304.2 612.1L302.2 612.1L300.2 612.1L298.2 612.1L296.2 612.2L294.2 612.3L292.2 612.4L290.2 612.6L288.2 612.6L286.2 612.2L284.2 611.7L282.2 611.2L280.2 610.7L278.2 609.9L276.2 609.0L274.2 608.3L272.2 607.7L270.2 607.0L268.2 606.3L266.2 605.7L264.2 605.0L262.2 604.3L260.2 603.8L258.2 603.7L256.2 603.6L254.2 603.5L252.2 603.4L250.2 603.3L248.2 603.2L246.2 603.2L244.2 603.4L242.2 603.9L240.2 604.4L238.2 605.0L236.2 605.9L234.2 607.0L232.2 608.2L230.2 609.7L228.2 611.6L226.2 612.5L224.2 612.5L222.2 612.3L220.2 612.0L218.2 611.2L216.2 609.7L214.2 607.8L212.2 605.6L210.2 602.8L208.2 599.8L206.2 596.7L204.2 593.7L202.2 590.8L200.2 588.0L198.2 585.2L196.2 582.4L194.2 579.5L192.2 576.7L190.2 573.8L188.2 570.9L186.2 568.0L184.2 565.2L182.2 562.5L180.2 560.8L178.2 559.6L176.2 558.5L174.2 557.4L172.2 556.3L170.2 555.2L168.2 554.1L166.2 553.4L164.2 553.6L162.2 553.9L160.2 554.4L158.2 555.1L156.2 556.4L154.2 557.5L152.2 557.2L150.2 554.6L148.2 551.1L146.2 546.0L144.2 537.5L142.2 529.2L140.2 524.1L138.2 518.0L136.2 506.3L134.2 497.1L132.2 494.4L130.2 499.1L128.2 507.5L126.2 516.8L124.2 528.6L122.2 549.5L120.2 568.5L118.2 584.5L116.2 596.3L114.2 605.1L112.2 610.6L110.2 613.3L108.2 614.7L106.2 615.8L104.2 616.7L102.2 616.8L100.2 616.8L98.2 616.8L96.2 616.8L94.2 616.8L92.2 616.8L90.2 616.7L88.2 616.7L86.2 616.7L84.2 616.7L82.2 616.6L80.2 616.4L78.2 616.2L76.2 615.9L74.2 615.0L72.2 613.9Z" fill="#e5b64e" fill-opacity="0.85"/>
<path d="M72.2 609.7L74.2 612.0L76.2 613.7L78.2 614.4L80.2 614.8L82.2 615.1L84.2 615.3L86.2 615.4L88.2 615.4L90.2 615.5L92.2 615.5L94.2 615.5L96.2 615.6L98.2 615.6L100.2 615.7L102.2 615.7L104.2 615.3L106.2 613.5L108.2 611.4L110.2 608.6L112.2 603.2L114.2 596.4L116.2 586.0L118.2 572.5L120.2 554.6L122.2 533.8L124.2 511.1L126.2 498.3L128.2 488.4L130.2 479.4L132.2 474.3L134.2 477.2L136.2 487.1L138.2 499.6L140.2 506.2L142.2 511.7L144.2 520.8L146.2 529.9L148.2 535.6L150.2 539.3L152.2 542.2L154.2 542.5L156.2 541.3L158.2 539.9L160.2 539.1L162.2 538.6L164.2 538.2L166.2 538.1L168.2 538.9L170.2 540.0L172.2 541.2L174.2 542.4L176.2 543.6L178.2 544.8L180.2 546.1L182.2 548.0L184.2 551.0L186.2 554.2L188.2 557.4L190.2 560.6L192.2 563.8L194.2 567.0L196.2 570.2L198.2 573.4L200.2 576.6L202.2 579.8L204.2 583.0L206.2 586.5L208.2 590.1L210.2 593.7L212.2 597.0L214.2 599.6L216.2 602.0L218.2 604.3L220.2 606.0L222.2 606.7L224.2 607.1L226.2 607.1L228.2 605.3L230.2 602.0L232.2 600.1L234.2 598.7L236.2 597.3L238.2 596.2L240.2 595.5L242.2 594.9L244.2 594.4L246.2 594.1L248.2 594.2L250.2 594.3L252.2 594.4L254.2 594.5L256.2 594.6L258.2 594.7L260.2 594.9L262.2 595.5L264.2 596.3L266.2 597.1L268.2 597.9L270.2 598.7L272.2 599.5L274.2 600.3L276.2 601.2L278.2 602.2L280.2 603.3L282.2 604.4L284.2 605.5L286.2 606.5L288.2 607.2L290.2 607.1L292.2 606.9L294.2 606.7L296.2 606.4L298.2 606.2L300.2 606.2L302.2 606.2L304.2 606.2L306.2 606.2L308.2 606.2L310.2 606.2L312.2 606.2L314.2 606.3L316.2 606.7L318.2 607.1L320.2 607.4L322.2 607.5L324.2 607.4L326.2 607.2L328.2 607.0L330.2 606.8L332.2 606.6L334.2 606.4L336.2 606.4L338.2 606.9L340.2 607.7L342.2 608.5L344.2 609.3L346.2 610.1L348.2 610.9L350.2 611.7L352.2 612.4L354.2 613.0L356.2 613.6L358.2 614.2L360.2 614.8L362.2 615.4L364.2 616.0L366.2 616.5L368.2 616.5L370.2 616.2L372.2 615.8L374.2 615.4L376.2 615.0L378.2 614.6L380.2 614.1L382.2 613.7L384.2 613.0L386.2 612.2L388.2 611.5L390.2 610.7L392.2 610.0L394.2 609.4L396.2 609.8L398.2 610.4L400.2 610.9L402.2 611.5L404.2 612.0L406.2 612.2L408.2 612.3L410.2 612.3L412.2 612.3L414.2 612.2L416.2 611.8L418.2 611.1L420.2 610.3L422.2 609.5L424.2 608.7L426.2 607.9L428.2 607.1L430.2 606.5L432.2 606.9L434.2 607.7L436.2 608.5L438.2 609.4L440.2 610.5L442.2 611.7L444.2 612.9L446.2 613.6L448.2 613.8L450.2 613.8L452.2 613.8L454.2 613.8L456.2 613.8L458.2 613.8L460.2 613.8L462.2 613.6L464.2 613.4L466.2 613.2L468.2 613.0L470.2 612.8L472.2 612.6L474.2 612.4L476.2 611.9L478.2 610.5L480.2 608.9L482.2 607.3L484.2 605.7L486.2 604.1L488.2 602.5L490.2 601.1L492.2 600.5L494.2 600.7L496.2 601.1L498.2 601.7L500.2 603.1L502.2 605.0L504.2 607.0L506.2 608.7L508.2 609.4L510.2 609.6L512.2 609.8L514.2 610.0L516.2 610.2L518.2 610.4L520.2 610.5L522.2 610.3L524.2 609.5L526.2 608.5L528.2 607.5L530.2 606.5L532.2 605.5L534.2 604.5L536.2 603.5L538.2 602.9L540.2 602.5L542.2 602.1L544.2 602.1L546.2 603.8L548.2 606.1L550.2 608.5L552.2 610.5L554.2 611.4L556.2 612.0L558.2 612.6L560.2 613.2L562.2 613.8L564.2 614.4L566.2 614.9L568.2 615.3L570.2 615.4L572.2 615.5L574.2 615.6L576.2 615.6L578.2 615.7L580.2 615.8L582.2 615.9L584.2 616.0L586.2 616.0" fill="none" stroke="#e0a730" stroke-width="2.2" stroke-linejoin="round"/>
<path d="M72.2 611.5L74.2 610.6L76.2 609.5L78.2 608.5L80.2 607.7L82.2 607.4L84.2 607.3L86.2 607.5L88.2 608.4L90.2 609.5L92.2 610.7L94.2 612.0L96.2 613.4L98.2 614.5L100.2 614.8L102.2 614.9L104.2 614.7L106.2 613.1L108.2 611.3L110.2 608.5L112.2 602.3L114.2 592.6L116.2 574.1L118.2 550.3L120.2 520.6L122.2 483.5L124.2 455.2L126.2 431.1L128.2 410.1L130.2 393.6L132.2 383.6L134.2 385.4L136.2 395.1L138.2 412.7L140.2 432.0L142.2 451.3L144.2 469.5L146.2 482.1L148.2 490.5L150.2 498.6L152.2 505.6L154.2 507.3L156.2 505.9L158.2 504.1L160.2 502.6L162.2 501.5L164.2 500.2L166.2 498.3L168.2 495.9L170.2 493.9L172.2 494.5L174.2 496.2L176.2 497.8L178.2 498.4L180.2 498.9L182.2 503.1L184.2 510.1L186.2 517.6L188.2 525.8L190.2 534.2L192.2 542.4L194.2 549.9L196.2 557.3L198.2 564.4L200.2 570.0L202.2 575.2L204.2 580.3L206.2 585.1L208.2 589.0L210.2 593.2L212.2 597.2L214.2 600.5L216.2 602.6L218.2 604.4L220.2 606.0L222.2 606.5L224.2 606.0L226.2 604.8L228.2 601.3L230.2 596.0L232.2 592.5L234.2 589.5L236.2 586.8L238.2 585.0L240.2 584.1L242.2 583.4L244.2 582.7L246.2 582.2L248.2 582.0L250.2 581.7L252.2 581.5L254.2 581.6L256.2 581.8L258.2 582.0L260.2 582.3L262.2 582.6L264.2 583.0L266.2 583.3L268.2 583.7L270.2 584.1L272.2 584.4L274.2 584.7L276.2 584.8L278.2 584.4L280.2 583.9L282.2 583.5L284.2 583.0L286.2 582.5L288.2 582.0L290.2 581.3L292.2 579.7L294.2 577.4L296.2 575.1L298.2 573.2L300.2 572.9L302.2 573.3L304.2 573.8L306.2 574.1L308.2 574.0L310.2 573.8L312.2 573.6L314.2 573.2L316.2 571.8L318.2 569.4L320.2 566.5L322.2 562.1L324.2 556.1L326.2 550.2L328.2 545.8L330.2 543.2L332.2 540.9L334.2 538.5L336.2 536.0L338.2 534.6L340.2 538.3L342.2 544.8L344.2 551.6L346.2 557.3L348.2 561.0L350.2 564.3L352.2 567.6L354.2 570.9L356.2 573.3L358.2 572.4L360.2 570.5L362.2 568.8L364.2 568.3L366.2 570.5L368.2 573.3L370.2 576.0L372.2 577.9L374.2 579.0L376.2 579.8L378.2 580.7L380.2 581.5L382.2 581.9L384.2 581.0L386.2 579.8L388.2 578.7L390.2 577.7L392.2 577.9L394.2 579.1L396.2 580.5L398.2 581.6L400.2 582.3L402.2 582.6L404.2 582.8L406.2 583.0L408.2 582.9L410.2 582.3L412.2 581.6L414.2 580.9L416.2 580.2L418.2 579.4L420.2 578.7L422.2 578.3L424.2 579.2L426.2 581.0L428.2 582.9L430.2 584.7L432.2 586.1L434.2 587.3L436.2 588.6L438.2 590.1L440.2 591.6L442.2 593.1L444.2 594.3L446.2 595.4L448.2 596.6L450.2 597.7L452.2 598.8L454.2 599.7L456.2 599.6L458.2 598.8L460.2 597.9L462.2 597.1L464.2 596.2L466.2 595.5L468.2 594.9L470.2 594.3L472.2 593.7L474.2 593.1L476.2 592.5L478.2 591.9L480.2 591.7L482.2 593.2L484.2 595.6L486.2 598.1L488.2 600.5L490.2 602.0L492.2 601.9L494.2 601.4L496.2 600.9L498.2 600.1L500.2 598.1L502.2 595.2L504.2 592.2L506.2 589.2L508.2 586.6L510.2 584.2L512.2 581.8L514.2 579.4L516.2 576.6L518.2 573.2L520.2 569.6L522.2 565.8L524.2 561.3L526.2 556.8L528.2 553.0L530.2 550.5L532.2 548.3L534.2 546.8L536.2 545.6L538.2 545.8L540.2 548.3L542.2 551.5L544.2 554.2L546.2 555.5L548.2 556.3L550.2 557.0L552.2 558.0L554.2 560.3L556.2 562.8L558.2 565.4L560.2 568.5L562.2 572.5L564.2 576.7L566.2 580.8L568.2 584.4L570.2 587.4L572.2 590.9L574.2 594.3L576.2 596.8L578.2 598.7L580.2 600.8L582.2 603.8L584.2 607.1L586.2 609.8L586.2 615.3L584.2 614.4L582.2 613.3L580.2 612.3L578.2 611.6L576.2 610.9L574.2 610.1L572.2 609.0L570.2 607.6L568.2 605.6L566.2 603.2L564.2 600.3L562.2 597.3L560.2 594.5L558.2 592.2L556.2 590.3L554.2 588.4L552.2 586.7L550.2 585.9L548.2 585.4L546.2 584.8L544.2 583.8L542.2 581.7L540.2 579.3L538.2 577.3L536.2 577.2L534.2 578.1L532.2 579.3L530.2 581.0L528.2 582.9L526.2 585.8L524.2 589.2L522.2 592.5L520.2 595.3L518.2 597.8L516.2 600.2L514.2 602.2L512.2 603.9L510.2 605.5L508.2 607.1L506.2 608.4L504.2 609.4L502.2 610.4L500.2 611.4L498.2 612.0L496.2 612.3L494.2 612.5L492.2 612.6L490.2 612.7L488.2 612.2L486.2 611.4L484.2 610.5L482.2 609.7L480.2 609.2L478.2 609.3L476.2 609.5L474.2 609.7L472.2 609.9L470.2 610.1L468.2 610.3L466.2 610.5L464.2 610.7L462.2 611.0L460.2 611.3L458.2 611.6L456.2 611.9L454.2 611.9L452.2 611.6L450.2 611.2L448.2 610.9L446.2 610.5L444.2 610.1L442.2 609.7L440.2 609.2L438.2 608.7L436.2 608.2L434.2 607.5L432.2 606.7L430.2 605.8L428.2 604.6L426.2 603.3L424.2 602.1L422.2 601.5L420.2 601.8L418.2 602.2L416.2 602.7L414.2 603.2L412.2 603.7L410.2 604.2L408.2 604.6L406.2 604.7L404.2 604.5L402.2 604.4L400.2 604.2L398.2 603.7L396.2 603.0L394.2 602.0L392.2 601.2L390.2 601.0L388.2 601.7L386.2 602.5L384.2 603.3L382.2 603.9L380.2 603.6L378.2 603.1L376.2 602.5L374.2 601.9L372.2 601.2L370.2 599.8L368.2 597.9L366.2 595.9L364.2 594.4L362.2 594.7L360.2 595.9L358.2 597.3L356.2 597.9L354.2 596.2L352.2 593.8L350.2 591.4L348.2 588.9L346.2 586.1L344.2 581.9L342.2 576.6L340.2 571.5L338.2 568.6L336.2 569.7L334.2 571.7L332.2 573.5L330.2 575.3L328.2 577.3L326.2 580.7L324.2 585.3L322.2 589.7L320.2 593.0L318.2 595.1L316.2 596.8L314.2 597.9L312.2 598.2L310.2 598.3L308.2 598.4L306.2 598.5L304.2 598.3L302.2 598.0L300.2 597.7L298.2 597.8L296.2 599.2L294.2 600.8L292.2 602.4L290.2 603.5L288.2 604.0L286.2 604.3L284.2 604.7L282.2 605.0L280.2 605.3L278.2 605.6L276.2 605.9L274.2 605.8L272.2 605.6L270.2 605.4L268.2 605.1L266.2 604.9L264.2 604.7L262.2 604.4L260.2 604.2L258.2 604.0L256.2 603.9L254.2 603.7L252.2 603.7L250.2 603.8L248.2 604.0L246.2 604.2L244.2 604.5L242.2 604.9L240.2 605.4L238.2 606.0L236.2 607.2L234.2 608.5L232.2 609.5L230.2 610.7L228.2 612.4L226.2 613.6L224.2 614.0L222.2 614.2L220.2 614.0L218.2 613.5L216.2 612.9L214.2 612.2L212.2 611.1L210.2 609.7L208.2 608.3L206.2 606.1L204.2 602.9L202.2 599.3L200.2 595.6L198.2 591.4L196.2 586.2L194.2 580.5L192.2 574.7L190.2 568.2L188.2 561.6L186.2 555.0L184.2 548.8L182.2 543.2L180.2 539.7L178.2 539.2L176.2 538.7L174.2 537.4L172.2 536.0L170.2 535.5L168.2 537.1L166.2 539.2L164.2 540.8L162.2 541.8L160.2 542.7L158.2 543.9L156.2 545.4L154.2 546.6L152.2 545.2L150.2 539.4L148.2 532.7L146.2 525.7L144.2 515.1L142.2 499.7L140.2 483.1L138.2 466.4L136.2 451.2L134.2 442.7L132.2 441.1L130.2 449.8L128.2 464.2L126.2 482.4L124.2 503.0L122.2 526.9L120.2 557.4L118.2 580.8L116.2 598.5L114.2 609.5L112.2 612.8L110.2 614.8L108.2 615.8L106.2 616.4L104.2 616.9L102.2 617.0L100.2 616.9L98.2 616.8L96.2 616.5L94.2 616.0L92.2 615.6L90.2 615.2L88.2 614.8L86.2 614.5L84.2 614.4L82.2 614.5L80.2 614.6L78.2 614.8L76.2 615.2L74.2 615.5L72.2 615.8Z" fill="#3f78b8" fill-opacity="0.85"/>
<path d="M72.2 613.7L74.2 613.1L76.2 612.3L78.2 611.6L80.2 611.1L82.2 610.9L84.2 610.8L86.2 611.0L88.2 611.6L90.2 612.4L92.2 613.1L94.2 614.0L96.2 614.9L98.2 615.6L100.2 615.9L102.2 616.0L104.2 615.8L106.2 614.8L108.2 613.5L110.2 611.7L112.2 607.6L114.2 601.0L116.2 586.3L118.2 565.6L120.2 539.0L122.2 505.2L124.2 479.1L126.2 456.8L128.2 437.1L130.2 421.7L132.2 412.4L134.2 414.0L136.2 423.2L138.2 439.5L140.2 457.5L142.2 475.5L144.2 492.3L146.2 503.9L148.2 511.6L150.2 519.0L152.2 525.4L154.2 526.9L156.2 525.6L158.2 524.0L160.2 522.7L162.2 521.7L164.2 520.5L166.2 518.7L168.2 516.5L170.2 514.7L172.2 515.3L174.2 516.8L176.2 518.3L178.2 518.8L180.2 519.3L182.2 523.1L184.2 529.5L186.2 536.3L188.2 543.7L190.2 551.2L192.2 558.5L194.2 565.2L196.2 571.7L198.2 577.9L200.2 582.8L202.2 587.2L204.2 591.6L206.2 595.6L208.2 598.6L210.2 601.4L212.2 604.2L214.2 606.4L216.2 607.7L218.2 608.9L220.2 610.0L222.2 610.3L224.2 610.0L226.2 609.2L228.2 606.8L230.2 603.3L232.2 601.0L234.2 599.0L236.2 597.0L238.2 595.5L240.2 594.8L242.2 594.2L244.2 593.6L246.2 593.2L248.2 593.0L250.2 592.8L252.2 592.6L254.2 592.7L256.2 592.8L258.2 593.0L260.2 593.2L262.2 593.5L264.2 593.8L266.2 594.1L268.2 594.4L270.2 594.7L272.2 595.0L274.2 595.3L276.2 595.3L278.2 595.0L280.2 594.6L282.2 594.2L284.2 593.8L286.2 593.4L288.2 593.0L290.2 592.4L292.2 591.1L294.2 589.1L296.2 587.1L298.2 585.5L300.2 585.3L302.2 585.6L304.2 586.0L306.2 586.3L308.2 586.2L310.2 586.1L312.2 585.9L314.2 585.6L316.2 584.3L318.2 582.2L320.2 579.7L322.2 575.9L324.2 570.7L326.2 565.5L328.2 561.6L330.2 559.2L332.2 557.2L334.2 555.1L336.2 552.8L338.2 551.6L340.2 554.9L342.2 560.7L344.2 566.8L346.2 571.7L348.2 575.0L350.2 577.8L352.2 580.7L354.2 583.5L356.2 585.6L358.2 584.8L360.2 583.2L362.2 581.8L364.2 581.3L366.2 583.2L368.2 585.6L370.2 587.9L372.2 589.6L374.2 590.4L376.2 591.2L378.2 591.9L380.2 592.6L382.2 592.9L384.2 592.2L386.2 591.2L388.2 590.2L390.2 589.4L392.2 589.5L394.2 590.6L396.2 591.8L398.2 592.7L400.2 593.2L402.2 593.5L404.2 593.7L406.2 593.8L408.2 593.7L410.2 593.2L412.2 592.6L414.2 592.0L416.2 591.4L418.2 590.8L420.2 590.3L422.2 589.9L424.2 590.7L426.2 592.1L428.2 593.7L430.2 595.3L432.2 596.4L434.2 597.4L436.2 598.4L438.2 599.4L440.2 600.4L442.2 601.4L444.2 602.2L446.2 603.0L448.2 603.7L450.2 604.5L452.2 605.2L454.2 605.8L456.2 605.7L458.2 605.2L460.2 604.6L462.2 604.1L464.2 603.5L466.2 603.0L468.2 602.6L470.2 602.2L472.2 601.8L474.2 601.4L476.2 601.0L478.2 600.6L480.2 600.5L482.2 601.5L484.2 603.1L486.2 604.8L488.2 606.3L490.2 607.4L492.2 607.3L494.2 607.0L496.2 606.6L498.2 606.1L500.2 604.7L502.2 602.8L504.2 600.8L506.2 598.8L508.2 596.8L510.2 594.8L512.2 592.8L514.2 590.8L516.2 588.4L518.2 585.5L520.2 582.5L522.2 579.1L524.2 575.2L526.2 571.3L528.2 568.0L530.2 565.7L532.2 563.8L534.2 562.4L536.2 561.4L538.2 561.6L540.2 563.8L542.2 566.6L544.2 569.0L546.2 570.2L548.2 570.8L550.2 571.4L552.2 572.4L554.2 574.3L556.2 576.5L558.2 578.8L560.2 581.5L562.2 584.9L564.2 588.5L566.2 592.0L568.2 595.0L570.2 597.5L572.2 599.9L574.2 602.2L576.2 603.9L578.2 605.1L580.2 606.5L582.2 608.5L584.2 610.7L586.2 612.5" fill="none" stroke="#1763b4" stroke-width="2.2" stroke-linejoin="round"/>
<path d="M72.2 614.9L74.2 614.2L76.2 613.3L78.2 612.4L80.2 612.0L82.2 612.4L84.2 613.1L86.2 613.7L88.2 614.4L90.2 614.9L92.2 615.0L94.2 614.9L96.2 614.8L98.2 614.7L100.2 614.7L102.2 614.6L104.2 614.5L106.2 614.4L108.2 614.3L110.2 614.2L112.2 614.1L114.2 614.0L116.2 612.5L118.2 605.2L120.2 596.0L122.2 585.1L124.2 575.2L126.2 565.9L128.2 556.9L130.2 548.2L132.2 540.3L134.2 535.0L136.2 532.7L138.2 533.5L140.2 534.9L142.2 536.8L144.2 540.2L146.2 543.9L148.2 547.7L150.2 551.4L152.2 554.6L154.2 555.4L156.2 554.7L158.2 553.4L160.2 550.3L162.2 546.0L164.2 541.6L166.2 537.9L168.2 536.3L170.2 536.9L172.2 538.0L174.2 539.9L176.2 542.1L178.2 544.4L180.2 546.7L182.2 549.0L184.2 551.0L186.2 552.1L188.2 552.9L190.2 555.5L192.2 560.0L194.2 564.6L196.2 568.4L198.2 571.8L200.2 574.8L202.2 576.3L204.2 577.1L206.2 576.1L208.2 574.5L210.2 572.9L212.2 571.2L214.2 569.5L216.2 567.9L218.2 566.2L220.2 564.2L222.2 561.7L224.2 559.1L226.2 556.4L228.2 553.6L230.2 551.4L232.2 551.0L234.2 551.0L236.2 550.4L238.2 548.2L240.2 546.8L242.2 548.5L244.2 551.5L246.2 555.8L248.2 560.0L250.2 562.6L252.2 564.6L254.2 566.7L256.2 569.0L258.2 571.4L260.2 573.6L262.2 575.1L264.2 574.5L266.2 573.3L268.2 572.1L270.2 571.2L272.2 571.4L274.2 572.6L276.2 574.0L278.2 575.4L280.2 576.6L282.2 577.6L284.2 578.6L286.2 579.5L288.2 579.4L290.2 577.5L292.2 575.1L294.2 572.0L296.2 567.6L298.2 562.6L300.2 556.6L302.2 551.9L304.2 549.7L306.2 547.4L308.2 542.8L310.2 537.8L312.2 533.8L314.2 533.4L316.2 533.9L318.2 532.9L320.2 525.7L322.2 517.9L324.2 511.2L326.2 506.2L328.2 504.3L330.2 503.6L332.2 504.8L334.2 507.0L336.2 510.8L338.2 516.0L340.2 522.4L342.2 530.3L344.2 538.5L346.2 545.8L348.2 549.7L350.2 550.5L352.2 551.0L354.2 552.5L356.2 554.9L358.2 557.3L360.2 558.6L362.2 558.9L364.2 559.6L366.2 561.6L368.2 564.0L370.2 566.1L372.2 566.9L374.2 566.1L376.2 564.9L378.2 563.4L380.2 561.6L382.2 559.8L384.2 558.2L386.2 557.5L388.2 557.8L390.2 558.3L392.2 558.8L394.2 559.8L396.2 560.9L398.2 561.0L400.2 557.7L402.2 555.9L404.2 554.7L406.2 554.5L408.2 557.2L410.2 560.7L412.2 564.6L414.2 570.0L416.2 576.0L418.2 581.2L420.2 583.8L422.2 585.7L424.2 586.8L426.2 584.9L428.2 582.2L430.2 579.8L432.2 577.5L434.2 576.1L436.2 575.8L438.2 575.8L440.2 575.8L442.2 576.0L444.2 576.7L446.2 577.6L448.2 578.6L450.2 579.6L452.2 580.4L454.2 580.8L456.2 581.1L458.2 581.8L460.2 583.1L462.2 584.8L464.2 586.2L466.2 585.3L468.2 581.8L470.2 578.1L472.2 574.6L474.2 571.3L476.2 568.2L478.2 565.2L480.2 562.5L482.2 561.6L484.2 561.5L486.2 561.4L488.2 561.0L490.2 560.4L492.2 560.4L494.2 562.3L496.2 564.4L498.2 565.6L500.2 565.5L502.2 565.5L504.2 567.0L506.2 570.4L508.2 574.0L510.2 576.3L512.2 576.7L514.2 576.7L516.2 577.1L518.2 578.9L520.2 582.0L522.2 585.9L524.2 589.9L526.2 592.9L528.2 595.3L530.2 597.7L532.2 600.1L534.2 602.0L536.2 603.8L538.2 605.6L540.2 607.1L542.2 608.0L544.2 608.7L546.2 609.5L548.2 610.2L550.2 611.0L552.2 611.4L554.2 611.0L556.2 610.4L558.2 609.8L560.2 609.0L562.2 607.9L564.2 606.7L566.2 605.6L568.2 605.1L570.2 605.3L572.2 605.6L574.2 605.7L576.2 605.3L578.2 604.5L580.2 603.6L582.2 602.6L584.2 601.7L586.2 600.8L586.2 612.3L584.2 612.6L582.2 612.9L580.2 613.2L578.2 613.5L576.2 613.8L574.2 613.9L572.2 613.9L570.2 613.8L568.2 613.7L566.2 613.9L564.2 614.2L562.2 614.6L560.2 615.0L558.2 615.3L556.2 615.5L554.2 615.7L552.2 615.8L550.2 615.7L548.2 615.4L546.2 615.2L544.2 614.9L542.2 614.7L540.2 614.4L538.2 613.9L536.2 613.3L534.2 612.7L532.2 612.0L530.2 611.2L528.2 610.4L526.2 609.6L524.2 608.6L522.2 607.3L520.2 605.6L518.2 603.6L516.2 602.4L514.2 602.2L512.2 602.2L510.2 601.9L508.2 600.3L506.2 597.8L504.2 595.5L502.2 594.4L500.2 594.4L498.2 594.5L496.2 593.6L494.2 592.1L492.2 590.8L490.2 590.8L488.2 591.2L486.2 591.5L484.2 591.6L482.2 591.6L480.2 592.3L478.2 594.2L476.2 596.3L474.2 598.5L472.2 600.7L470.2 603.1L468.2 605.5L466.2 607.1L464.2 607.4L462.2 606.9L460.2 606.3L458.2 605.5L456.2 605.1L454.2 604.8L452.2 604.6L450.2 604.1L448.2 603.4L446.2 602.8L444.2 602.1L442.2 601.7L440.2 601.6L438.2 601.6L436.2 601.6L434.2 601.7L432.2 602.7L430.2 604.2L428.2 605.8L426.2 607.0L424.2 607.6L422.2 607.2L420.2 606.6L418.2 605.2L416.2 601.7L414.2 597.6L412.2 593.7L410.2 591.0L408.2 588.4L406.2 586.4L404.2 586.6L402.2 587.5L400.2 588.8L398.2 591.2L396.2 591.1L394.2 590.3L392.2 589.6L390.2 589.2L388.2 588.9L386.2 588.7L384.2 589.1L382.2 590.3L380.2 591.7L378.2 592.9L376.2 594.0L374.2 594.8L372.2 595.4L370.2 594.8L368.2 593.3L366.2 591.6L364.2 590.2L362.2 589.7L360.2 589.5L358.2 588.5L356.2 586.7L354.2 585.0L352.2 583.9L350.2 583.5L348.2 582.9L346.2 580.0L344.2 574.4L342.2 568.1L340.2 562.0L338.2 556.9L336.2 552.8L334.2 549.7L332.2 548.0L330.2 547.1L328.2 547.6L326.2 549.1L324.2 553.1L322.2 558.4L320.2 564.6L318.2 570.1L316.2 570.9L314.2 570.5L312.2 570.8L310.2 573.9L308.2 577.7L306.2 581.2L304.2 582.9L302.2 584.5L300.2 588.0L298.2 592.4L296.2 595.9L294.2 599.0L292.2 601.0L290.2 602.7L288.2 604.0L286.2 604.0L284.2 603.4L282.2 602.7L280.2 602.1L278.2 601.3L276.2 600.4L274.2 599.4L272.2 598.5L270.2 598.4L268.2 599.0L266.2 599.8L264.2 600.7L262.2 601.1L260.2 600.1L258.2 598.5L256.2 596.9L254.2 595.3L252.2 593.8L250.2 592.3L248.2 590.5L246.2 587.4L244.2 584.2L242.2 582.0L240.2 580.7L238.2 581.8L236.2 583.4L234.2 583.8L232.2 583.9L230.2 584.2L228.2 585.8L226.2 587.9L224.2 589.8L222.2 591.7L220.2 593.5L218.2 594.9L216.2 596.1L214.2 597.3L212.2 598.4L210.2 599.5L208.2 600.7L206.2 601.8L204.2 602.4L202.2 601.9L200.2 600.8L198.2 598.8L196.2 596.4L194.2 593.8L192.2 590.5L190.2 587.2L188.2 585.3L186.2 584.7L184.2 583.9L182.2 582.4L180.2 580.7L178.2 578.9L176.2 577.2L174.2 575.5L172.2 574.1L170.2 573.2L168.2 572.8L166.2 574.0L164.2 576.8L162.2 580.1L160.2 583.3L158.2 585.7L156.2 586.6L154.2 587.1L152.2 586.5L150.2 584.2L148.2 581.4L146.2 578.6L144.2 575.7L142.2 573.1L140.2 571.7L138.2 570.6L136.2 570.0L134.2 571.8L132.2 575.8L130.2 581.8L128.2 588.2L126.2 594.7L124.2 601.2L122.2 607.0L120.2 610.7L118.2 613.7L116.2 616.2L114.2 616.7L112.2 616.7L110.2 616.7L108.2 616.8L106.2 616.8L104.2 616.8L102.2 616.9L100.2 616.9L98.2 616.9L96.2 616.9L94.2 617.0L92.2 617.0L90.2 617.0L88.2 616.8L86.2 616.6L84.2 616.4L82.2 616.1L80.2 616.0L78.2 616.1L76.2 616.4L74.2 616.7L72.2 617.0Z" fill="#f7202c" fill-opacity="0.74"/>
<path d="M72.2 616.0L74.2 615.5L76.2 614.9L78.2 614.3L80.2 614.0L82.2 614.3L84.2 614.7L86.2 615.2L88.2 615.6L90.2 615.9L92.2 616.0L94.2 615.9L96.2 615.9L98.2 615.8L100.2 615.8L102.2 615.7L104.2 615.7L106.2 615.6L108.2 615.5L110.2 615.5L112.2 615.4L114.2 615.3L116.2 614.3L118.2 609.5L120.2 603.3L122.2 596.1L124.2 588.2L126.2 580.3L128.2 572.6L130.2 565.0L132.2 558.0L134.2 553.4L136.2 551.4L138.2 552.0L140.2 553.3L142.2 555.0L144.2 557.9L146.2 561.3L148.2 564.5L150.2 567.8L152.2 570.6L154.2 571.2L156.2 570.7L158.2 569.6L160.2 566.8L162.2 563.0L164.2 559.2L166.2 555.9L168.2 554.5L170.2 555.0L172.2 556.0L174.2 557.7L176.2 559.7L178.2 561.7L180.2 563.7L182.2 565.7L184.2 567.5L186.2 568.4L188.2 569.1L190.2 571.3L192.2 575.3L194.2 579.2L196.2 582.4L198.2 585.3L200.2 587.8L202.2 589.1L204.2 589.7L206.2 588.9L208.2 587.6L210.2 586.2L212.2 584.8L214.2 583.4L216.2 582.0L218.2 580.6L220.2 578.9L222.2 576.7L224.2 574.5L226.2 572.1L228.2 569.7L230.2 567.8L232.2 567.4L234.2 567.4L236.2 566.9L238.2 565.0L240.2 563.8L242.2 565.2L244.2 567.9L246.2 571.6L248.2 575.2L250.2 577.4L252.2 579.2L254.2 581.0L256.2 582.9L258.2 584.9L260.2 586.9L262.2 588.1L264.2 587.6L266.2 586.6L268.2 585.6L270.2 584.8L272.2 585.0L274.2 586.0L276.2 587.2L278.2 588.4L280.2 589.3L282.2 590.2L284.2 591.0L286.2 591.7L288.2 591.7L290.2 590.1L292.2 588.0L294.2 585.5L296.2 581.8L298.2 577.5L300.2 572.3L302.2 568.2L304.2 566.3L306.2 564.3L308.2 560.3L310.2 555.8L312.2 552.3L314.2 552.0L316.2 552.4L318.2 551.5L320.2 545.1L322.2 538.1L324.2 532.1L326.2 527.6L328.2 525.9L330.2 525.3L332.2 526.4L334.2 528.4L336.2 531.8L338.2 536.4L340.2 542.2L342.2 549.2L344.2 556.5L346.2 562.9L348.2 566.3L350.2 567.0L352.2 567.5L354.2 568.7L356.2 570.8L358.2 572.9L360.2 574.0L362.2 574.3L364.2 574.9L366.2 576.6L368.2 578.6L370.2 580.4L372.2 581.1L374.2 580.5L376.2 579.4L378.2 578.2L380.2 576.7L382.2 575.1L384.2 573.6L386.2 573.1L388.2 573.4L390.2 573.8L392.2 574.2L394.2 575.0L396.2 576.0L398.2 576.1L400.2 573.2L402.2 571.7L404.2 570.7L406.2 570.5L408.2 572.8L410.2 575.8L412.2 579.2L414.2 583.8L416.2 588.8L418.2 593.2L420.2 595.2L422.2 596.5L424.2 597.2L426.2 595.9L428.2 594.0L430.2 592.0L432.2 590.1L434.2 588.9L436.2 588.7L438.2 588.7L440.2 588.7L442.2 588.8L444.2 589.4L446.2 590.2L448.2 591.0L450.2 591.8L452.2 592.5L454.2 592.8L456.2 593.1L458.2 593.6L460.2 594.7L462.2 595.9L464.2 596.8L466.2 596.2L468.2 593.6L470.2 590.6L472.2 587.7L474.2 584.9L476.2 582.3L478.2 579.7L480.2 577.4L482.2 576.6L484.2 576.5L486.2 576.5L488.2 576.1L490.2 575.6L492.2 575.6L494.2 577.2L496.2 579.0L498.2 580.0L500.2 580.0L502.2 580.0L504.2 581.2L506.2 584.1L508.2 587.2L510.2 589.1L512.2 589.5L514.2 589.5L516.2 589.7L518.2 591.2L520.2 593.8L522.2 596.6L524.2 599.2L526.2 601.2L528.2 602.9L530.2 604.5L532.2 606.0L534.2 607.3L536.2 608.5L538.2 609.7L540.2 610.7L542.2 611.3L544.2 611.8L546.2 612.3L548.2 612.8L550.2 613.3L552.2 613.6L554.2 613.3L556.2 613.0L558.2 612.5L560.2 612.0L562.2 611.2L564.2 610.4L566.2 609.7L568.2 609.4L570.2 609.5L572.2 609.7L574.2 609.8L576.2 609.5L578.2 609.0L580.2 608.4L582.2 607.8L584.2 607.1L586.2 606.6" fill="none" stroke="#ff1a22" stroke-width="2.2" stroke-linejoin="round"/>
<path d="M72.2 614.3L74.2 614.3L76.2 614.2L78.2 614.1L80.2 614.1L82.2 614.0L84.2 614.0L86.2 613.9L88.2 613.8L90.2 613.8L92.2 613.7L94.2 613.7L96.2 613.6L98.2 613.6L100.2 613.5L102.2 613.4L104.2 613.0L106.2 611.6L108.2 609.9L110.2 608.4L112.2 607.2L114.2 606.2L116.2 605.2L118.2 604.7L120.2 605.5L122.2 606.6L124.2 607.6L126.2 608.4L128.2 609.2L130.2 609.8L132.2 610.0L134.2 610.0L136.2 610.0L138.2 610.0L140.2 610.0L142.2 610.2L144.2 610.3L146.2 610.4L148.2 610.6L150.2 610.7L152.2 610.4L154.2 609.7L156.2 609.0L158.2 608.3L160.2 607.5L162.2 606.8L164.2 606.1L166.2 605.5L168.2 605.4L170.2 605.9L172.2 606.5L174.2 607.1L176.2 607.6L178.2 608.2L180.2 608.7L182.2 609.3L184.2 609.6L186.2 609.1L188.2 608.0L190.2 607.0L192.2 606.0L194.2 605.5L196.2 606.3L198.2 607.4L200.2 608.5L202.2 609.6L204.2 610.6L206.2 611.4L208.2 611.4L210.2 611.2L212.2 610.9L214.2 610.3L216.2 609.4L218.2 608.3L220.2 607.2L222.2 606.4L224.2 605.9L226.2 605.3L228.2 604.4L230.2 603.3L232.2 602.3L234.2 601.2L236.2 599.6L238.2 596.1L240.2 592.1L242.2 588.6L244.2 586.9L246.2 585.6L248.2 584.6L250.2 584.5L252.2 584.8L254.2 585.3L256.2 587.2L258.2 589.4L260.2 591.3L262.2 592.2L264.2 592.6L266.2 593.1L268.2 593.5L270.2 594.1L272.2 594.8L274.2 595.5L276.2 596.1L278.2 596.3L280.2 596.2L282.2 596.0L284.2 595.9L286.2 595.4L288.2 594.0L290.2 592.2L292.2 590.4L294.2 588.9L296.2 588.1L298.2 587.5L300.2 587.2L302.2 587.0L304.2 586.8L306.2 587.2L308.2 589.3L310.2 591.8L312.2 594.1L314.2 595.7L316.2 597.2L318.2 598.5L320.2 598.9L322.2 599.1L324.2 599.3L326.2 598.8L328.2 597.1L330.2 595.1L332.2 593.5L334.2 592.7L336.2 592.2L338.2 592.6L340.2 593.3L342.2 594.2L344.2 595.9L346.2 597.8L348.2 599.8L350.2 601.7L352.2 603.2L354.2 604.5L356.2 605.5L358.2 605.4L360.2 605.0L362.2 604.6L364.2 604.4L366.2 604.5L368.2 604.7L370.2 605.0L372.2 605.5L374.2 606.5L376.2 607.6L378.2 608.8L380.2 610.1L382.2 611.4L384.2 612.3L386.2 612.3L388.2 612.1L390.2 612.0L392.2 611.8L394.2 611.5L396.2 610.9L398.2 610.2L400.2 609.7L402.2 608.5L404.2 607.2L406.2 606.0L408.2 604.7L410.2 603.4L412.2 602.1L414.2 601.0L416.2 600.5L418.2 600.6L420.2 601.0L422.2 601.8L424.2 603.3L426.2 604.9L428.2 606.5L430.2 607.9L432.2 608.5L434.2 608.8L436.2 609.1L438.2 609.4L440.2 609.6L442.2 609.8L444.2 609.7L446.2 609.4L448.2 609.1L450.2 608.8L452.2 608.5L454.2 608.4L456.2 608.5L458.2 608.7L460.2 608.8L462.2 609.0L464.2 608.7L466.2 607.7L468.2 606.4L470.2 605.2L472.2 604.0L474.2 603.3L476.2 602.9L478.2 602.5L480.2 602.2L482.2 602.1L484.2 603.1L486.2 604.4L488.2 605.5L490.2 605.6L492.2 603.5L494.2 601.0L496.2 598.7L498.2 596.7L500.2 595.2L502.2 593.8L504.2 592.7L506.2 592.9L508.2 593.9L510.2 595.2L512.2 596.8L514.2 598.5L516.2 600.1L518.2 600.9L520.2 601.0L522.2 601.0L524.2 600.7L526.2 600.1L528.2 599.5L530.2 599.1L532.2 599.5L534.2 600.5L536.2 601.5L538.2 602.5L540.2 603.6L542.2 604.6L544.2 605.5L546.2 605.8L548.2 605.8L550.2 605.9L552.2 605.9L554.2 606.3L556.2 606.7L558.2 607.1L560.2 607.5L562.2 607.9L564.2 608.3L566.2 608.6L568.2 608.9L570.2 609.2L572.2 609.5L574.2 609.9L576.2 610.6L578.2 611.6L580.2 612.5L582.2 613.0L584.2 613.6L586.2 614.0L586.2 618.0L584.2 618.0L582.2 618.0L580.2 618.0L578.2 618.0L576.2 618.0L574.2 617.6L572.2 617.3L570.2 617.0L568.2 616.7L566.2 616.5L564.2 616.2L562.2 615.9L560.2 615.5L558.2 615.2L556.2 614.8L554.2 614.5L552.2 614.2L550.2 614.1L548.2 614.1L546.2 614.1L544.2 613.9L542.2 613.1L540.2 612.1L538.2 611.2L536.2 610.2L534.2 609.3L532.2 608.3L530.2 607.9L528.2 608.3L526.2 608.9L524.2 609.5L522.2 609.8L520.2 609.8L518.2 609.7L516.2 608.9L514.2 607.3L512.2 605.6L510.2 604.0L508.2 602.7L506.2 601.7L504.2 601.5L502.2 602.6L500.2 604.0L498.2 605.5L496.2 607.5L494.2 609.8L492.2 612.0L490.2 613.9L488.2 613.8L486.2 612.8L484.2 611.7L482.2 610.8L480.2 610.9L478.2 611.2L476.2 611.5L474.2 611.9L472.2 612.5L470.2 613.5L468.2 614.6L466.2 615.7L464.2 616.6L462.2 616.8L460.2 616.7L458.2 616.5L456.2 616.4L454.2 616.3L452.2 616.4L450.2 616.6L448.2 616.9L446.2 617.1L444.2 617.4L442.2 617.5L440.2 617.3L438.2 617.1L436.2 616.9L434.2 616.6L432.2 616.4L430.2 615.9L428.2 614.7L426.2 613.3L424.2 611.9L422.2 610.6L420.2 609.8L418.2 609.4L416.2 609.3L414.2 609.8L412.2 610.8L410.2 612.0L408.2 613.1L406.2 614.2L404.2 615.3L402.2 616.4L400.2 617.4L398.2 617.8L396.2 618.0L394.2 618.0L392.2 618.0L390.2 618.0L388.2 618.0L386.2 618.0L384.2 618.0L382.2 618.0L380.2 617.8L378.2 616.6L376.2 615.6L374.2 614.7L372.2 613.8L370.2 613.3L368.2 613.1L366.2 612.9L364.2 612.8L362.2 613.0L360.2 613.4L358.2 613.7L356.2 613.8L354.2 612.9L352.2 611.8L350.2 610.5L348.2 608.6L346.2 606.6L344.2 604.7L342.2 603.0L340.2 602.1L338.2 601.4L336.2 601.0L334.2 601.5L332.2 602.3L330.2 603.9L328.2 605.9L326.2 607.6L324.2 608.1L322.2 607.9L320.2 607.7L318.2 607.3L316.2 606.0L314.2 604.5L312.2 602.9L310.2 600.6L308.2 598.1L306.2 596.0L304.2 595.6L302.2 595.8L300.2 596.0L298.2 596.3L296.2 596.9L294.2 597.7L292.2 599.2L290.2 601.0L288.2 602.8L286.2 604.2L284.2 604.7L282.2 604.8L280.2 605.0L278.2 605.1L276.2 604.9L274.2 604.3L272.2 603.6L270.2 602.9L268.2 602.3L266.2 601.9L264.2 601.4L262.2 601.0L260.2 600.1L258.2 598.2L256.2 596.0L254.2 594.1L252.2 593.6L250.2 593.3L248.2 593.4L246.2 594.4L244.2 595.7L242.2 597.4L240.2 600.9L238.2 604.9L236.2 608.4L234.2 610.0L232.2 611.0L230.2 611.9L228.2 612.9L226.2 613.6L224.2 614.1L222.2 614.6L220.2 615.3L218.2 616.2L216.2 617.1L214.2 617.9L212.2 618.0L210.2 618.0L208.2 618.0L206.2 618.0L204.2 618.0L202.2 617.3L200.2 616.4L198.2 615.4L196.2 614.5L194.2 613.8L192.2 614.2L190.2 615.1L188.2 616.0L186.2 616.9L184.2 617.3L182.2 617.0L180.2 616.6L178.2 616.1L176.2 615.7L174.2 615.2L172.2 614.7L170.2 614.2L168.2 613.8L166.2 613.8L164.2 614.3L162.2 615.0L160.2 615.6L158.2 616.2L156.2 616.8L154.2 617.4L152.2 617.9L150.2 618.0L148.2 618.0L146.2 618.0L144.2 617.9L142.2 617.8L140.2 617.7L138.2 617.6L136.2 617.6L134.2 617.6L132.2 617.6L130.2 617.5L128.2 617.0L126.2 616.3L124.2 615.6L122.2 614.7L120.2 613.8L118.2 613.1L116.2 613.5L114.2 614.4L112.2 615.3L110.2 616.3L108.2 617.6L106.2 618.0L104.2 618.0L102.2 618.0L100.2 618.0L98.2 618.0L96.2 618.0L94.2 618.0L92.2 618.0L90.2 618.0L88.2 618.0L86.2 618.0L84.2 618.0L82.2 618.0L80.2 618.0L78.2 618.0L76.2 618.0L74.2 618.0L72.2 618.0Z" fill="#222" fill-opacity="0.80"/>
<path d="M72.2 617.6L74.2 617.5L76.2 617.5L78.2 617.4L80.2 617.4L82.2 617.3L84.2 617.3L86.2 617.2L88.2 617.2L90.2 617.2L92.2 617.1L94.2 617.1L96.2 617.0L98.2 617.0L100.2 616.9L102.2 616.9L104.2 616.5L106.2 615.3L108.2 613.8L110.2 612.3L112.2 611.3L114.2 610.3L116.2 609.3L118.2 608.9L120.2 609.7L122.2 610.6L124.2 611.6L126.2 612.4L128.2 613.1L130.2 613.7L132.2 613.8L134.2 613.8L136.2 613.8L138.2 613.8L140.2 613.9L142.2 614.0L144.2 614.1L146.2 614.2L148.2 614.3L150.2 614.4L152.2 614.2L154.2 613.6L156.2 612.9L158.2 612.2L160.2 611.6L162.2 610.9L164.2 610.2L166.2 609.7L168.2 609.6L170.2 610.0L172.2 610.6L174.2 611.1L176.2 611.6L178.2 612.2L180.2 612.7L182.2 613.2L184.2 613.5L186.2 613.0L188.2 612.0L190.2 611.0L192.2 610.1L194.2 609.7L196.2 610.4L198.2 611.4L200.2 612.4L202.2 613.4L204.2 614.4L206.2 615.1L208.2 615.1L210.2 614.9L212.2 614.6L214.2 614.1L216.2 613.2L218.2 612.2L220.2 611.3L222.2 610.5L224.2 610.0L226.2 609.4L228.2 608.7L230.2 607.6L232.2 606.6L234.2 605.6L236.2 604.0L238.2 600.5L240.2 596.5L242.2 593.0L244.2 591.3L246.2 590.0L248.2 589.0L250.2 588.9L252.2 589.2L254.2 589.7L256.2 591.6L258.2 593.8L260.2 595.7L262.2 596.6L264.2 597.0L266.2 597.5L268.2 597.9L270.2 598.5L272.2 599.2L274.2 599.9L276.2 600.5L278.2 600.7L280.2 600.6L282.2 600.4L284.2 600.3L286.2 599.8L288.2 598.4L290.2 596.6L292.2 594.8L294.2 593.3L296.2 592.5L298.2 591.9L300.2 591.6L302.2 591.4L304.2 591.2L306.2 591.6L308.2 593.7L310.2 596.2L312.2 598.5L314.2 600.1L316.2 601.6L318.2 602.9L320.2 603.3L322.2 603.5L324.2 603.7L326.2 603.2L328.2 601.5L330.2 599.5L332.2 597.9L334.2 597.1L336.2 596.6L338.2 597.0L340.2 597.7L342.2 598.6L344.2 600.3L346.2 602.2L348.2 604.2L350.2 606.1L352.2 607.5L354.2 608.7L356.2 609.7L358.2 609.6L360.2 609.2L362.2 608.8L364.2 608.6L366.2 608.7L368.2 608.9L370.2 609.2L372.2 609.7L374.2 610.6L376.2 611.6L378.2 612.7L380.2 613.9L382.2 615.1L384.2 615.9L386.2 615.9L388.2 615.7L390.2 615.6L392.2 615.4L394.2 615.2L396.2 614.6L398.2 614.0L400.2 613.5L402.2 612.5L404.2 611.3L406.2 610.1L408.2 608.9L410.2 607.7L412.2 606.5L414.2 605.4L416.2 604.9L418.2 605.0L420.2 605.4L422.2 606.2L424.2 607.6L426.2 609.1L428.2 610.6L430.2 611.9L432.2 612.5L434.2 612.7L436.2 613.0L438.2 613.2L440.2 613.5L442.2 613.7L444.2 613.5L446.2 613.3L448.2 613.0L450.2 612.7L452.2 612.4L454.2 612.4L456.2 612.5L458.2 612.6L460.2 612.8L462.2 612.9L464.2 612.6L466.2 611.7L468.2 610.5L470.2 609.3L472.2 608.3L474.2 607.6L476.2 607.2L478.2 606.8L480.2 606.5L482.2 606.5L484.2 607.4L486.2 608.6L488.2 609.7L490.2 609.7L492.2 607.8L494.2 605.4L496.2 603.1L498.2 601.1L500.2 599.6L502.2 598.2L504.2 597.1L506.2 597.3L508.2 598.3L510.2 599.6L512.2 601.2L514.2 602.9L516.2 604.5L518.2 605.3L520.2 605.4L522.2 605.4L524.2 605.1L526.2 604.5L528.2 603.9L530.2 603.5L532.2 603.9L534.2 604.9L536.2 605.8L538.2 606.8L540.2 607.8L542.2 608.8L544.2 609.7L546.2 610.0L548.2 610.0L550.2 610.0L552.2 610.1L554.2 610.4L556.2 610.8L558.2 611.1L560.2 611.5L562.2 611.9L564.2 612.2L566.2 612.5L568.2 612.8L570.2 613.1L572.2 613.4L574.2 613.8L576.2 614.4L578.2 615.2L580.2 616.0L582.2 616.5L584.2 617.0L586.2 617.3" fill="none" stroke="#000" stroke-width="2.8" stroke-linejoin="round"/>
<path d="M105.0 236.2V618" stroke="#000" stroke-width="3.5"/>
<path d="M139.4 236.2V618" stroke="#000" stroke-width="3.5"/>
<path d="M226.0 236.2V618" stroke="#000" stroke-width="3.5"/>
<path d="M295.4 236.2V618" stroke="#000" stroke-width="3.5"/>
<path d="M485.5 236.2V618" stroke="#000" stroke-width="3.5"/>
<path d="M554.5 236.2V618" stroke="#000" stroke-width="3.5"/>
<path d="M70 234V619.6" stroke="#000" stroke-width="3.4" fill="none"/>
<path d="M68.3 618H590" stroke="#000" stroke-width="4.1" fill="none"/>
<path d="M63 385.5H69" stroke="#000" stroke-width="2"/>
<text x="53.3" y="391.3" text-anchor="middle" font-size="16.2" stroke="#000" stroke-width=".3">16</text>
<path d="M63 443.6H69" stroke="#000" stroke-width="2"/>
<text x="53.3" y="449.4" text-anchor="middle" font-size="16.2" stroke="#000" stroke-width=".3">12</text>
<path d="M63 501.7H69" stroke="#000" stroke-width="2"/>
<text x="53.3" y="507.5" text-anchor="middle" font-size="16.2" stroke="#000" stroke-width=".3">8</text>
<path d="M63 559.9H69" stroke="#000" stroke-width="2"/>
<text x="53.3" y="565.7" text-anchor="middle" font-size="16.2" stroke="#000" stroke-width=".3">4</text>
<text x="53.3" y="624.6" text-anchor="middle" font-size="16.2" stroke="#000" stroke-width=".3">0</text>
<rect x="491" y="405.3" width="100" height="84.2" fill="#fff"/>
<rect x="496.3" y="409.3" width="17.6" height="14.5" fill="#f0c050" stroke="#000" stroke-width="1.8"/>
<text x="521" y="422.2" font-size="16.4" stroke="#000" stroke-width=".3">top</text>
<rect x="496.3" y="429.9" width="17.6" height="14.5" fill="#3a78b8" stroke="#000" stroke-width="1.8"/>
<text x="521" y="442.8" font-size="16.4" stroke="#000" stroke-width=".3">middle</text>
<rect x="496.3" y="450.4" width="17.6" height="14.5" fill="#ff3535" stroke="#000" stroke-width="1.8"/>
<text x="521" y="463.3" font-size="16.4" stroke="#000" stroke-width=".3">bottom</text>
<rect x="496.3" y="471.0" width="17.6" height="14.5" fill="#555555" stroke="#000" stroke-width="1.8"/>
<text x="521" y="483.9" font-size="16.4" stroke="#000" stroke-width=".3">no-cue</text>
<text x="146" y="396.5" text-anchor="middle" font-size="22" fill="#222" stroke="#222" stroke-width=".3">*</text>
<text x="405.5" y="396.5" text-anchor="middle" font-size="22" fill="#222" stroke="#222" stroke-width=".3">*</text>
<rect x="439" y="552.3" width="34" height="2.2" fill="#333"/>
<text x="456" y="550" text-anchor="middle" font-size="14" fill="#333" stroke="#333" stroke-width=".3">200 ms</text>
<text x="122.0" y="636" text-anchor="middle" font-size="18" stroke="#000" stroke-width=".3">cue</text>
<text x="258.0" y="636" text-anchor="middle" font-size="18" stroke="#000" stroke-width=".3">sample</text>
<text x="381.0" y="636" text-anchor="middle" font-size="18" stroke="#000" stroke-width=".3">delay</text>
<text x="520.0" y="636" text-anchor="middle" font-size="18" stroke="#000" stroke-width=".3">compare</text>
<text transform="translate(-0.2 249.3) scale(.94 1)" font-size="26" stroke="#000" stroke-width=".3">C</text>
<text transform="translate(29.5 324) rotate(-90)" text-anchor="middle" font-size="18" fill="#333" stroke="#333" stroke-width=".3">trials</text>
<text transform="translate(28.5 503) rotate(-90)" text-anchor="middle" font-size="18" stroke="#000" stroke-width=".3">firing rate (spk/s)</text>
</g>
<g>
<path d="M71.0 854.6L74.0 854.4L77.0 854.3L80.0 854.2L83.0 854.4L86.0 854.4L89.0 854.3L92.0 854.4L95.0 854.6L98.0 854.8L101.0 854.9L104.0 855.0L107.0 854.8L110.0 854.5L113.0 854.4L116.0 854.3L119.0 854.2L122.0 854.2L125.0 854.6L128.0 854.5L131.0 854.5L134.0 854.6L137.0 854.7L140.0 854.5L143.0 854.4L146.0 854.5L149.0 854.6L152.0 854.8L155.0 854.7L158.0 854.7L161.0 854.6L164.0 854.2L167.0 853.9L170.0 853.9L173.0 854.1L176.0 854.2L179.0 854.3L182.0 854.5L185.0 854.6L188.0 854.2L191.0 854.2L194.0 854.3L197.0 854.1L200.0 854.1L203.0 854.1L206.0 854.1L209.0 854.3L212.0 854.5L215.0 854.7L218.0 855.1L221.0 855.3L224.0 855.0L227.0 855.0L230.0 854.7L233.0 854.5L236.0 854.0L239.0 854.3L242.0 854.4L245.0 854.6L248.0 854.8L251.0 855.0L254.0 854.9L257.0 854.7L260.0 854.6L263.0 854.5L266.0 854.8L269.0 854.7L272.0 854.7L275.0 854.9L278.0 855.0L281.0 854.8L284.0 855.0L287.0 855.0L290.0 855.1L293.0 854.7L296.0 854.8L299.0 854.5L302.0 854.5L305.0 854.5L308.0 854.6L311.0 854.5L314.0 854.8L317.0 854.7L320.0 854.5L323.0 854.3L326.0 854.2L329.0 854.0L332.0 853.9L335.0 853.9L338.0 854.3L341.0 854.3L344.0 854.4L347.0 854.5L350.0 854.5L353.0 854.5L356.0 854.8L359.0 854.9L362.0 854.7L365.0 854.8L368.0 854.9L371.0 854.8L374.0 854.7L377.0 854.8L380.0 854.7L383.0 854.7L386.0 854.6L389.0 854.5L392.0 854.5L395.0 854.6L398.0 854.6L401.0 854.5L404.0 854.6L407.0 854.7L410.0 854.8L413.0 854.6L416.0 854.9L419.0 854.7L422.0 854.7L425.0 854.5L428.0 854.4L431.0 854.3L434.0 854.4L437.0 854.4L440.0 854.5L443.0 854.6L446.0 854.5L449.0 854.4L452.0 854.7L455.0 854.7L458.0 854.8L461.0 854.9L464.0 854.9L467.0 854.6L470.0 854.6L473.0 854.6L476.0 854.3L479.0 854.3L482.0 854.3L485.0 854.3L488.0 854.5L491.0 854.6L494.0 854.8L497.0 854.8L500.0 854.8L503.0 854.7L506.0 854.9L509.0 854.7L512.0 854.8L515.0 854.6L518.0 854.5L521.0 854.5L524.0 854.6L527.0 854.4L530.0 854.6L533.0 854.5L536.0 854.7L539.0 854.5L542.0 854.6L545.0 854.6L548.0 854.4L551.0 854.6L554.0 854.7L557.0 854.5L560.0 854.7L563.0 854.8L566.0 854.5L565.6 863L71 863Z" fill="#cfcfcf" stroke="none"/>
<path d="M71.0 854.6L74.0 854.4L77.0 854.3L80.0 854.2L83.0 854.4L86.0 854.4L89.0 854.3L92.0 854.4L95.0 854.6L98.0 854.8L101.0 854.9L104.0 855.0L107.0 854.8L110.0 854.5L113.0 854.4L116.0 854.3L119.0 854.2L122.0 854.2L125.0 854.6L128.0 854.5L131.0 854.5L134.0 854.6L137.0 854.7L140.0 854.5L143.0 854.4L146.0 854.5L149.0 854.6L152.0 854.8L155.0 854.7L158.0 854.7L161.0 854.6L164.0 854.2L167.0 853.9L170.0 853.9L173.0 854.1L176.0 854.2L179.0 854.3L182.0 854.5L185.0 854.6L188.0 854.2L191.0 854.2L194.0 854.3L197.0 854.1L200.0 854.1L203.0 854.1L206.0 854.1L209.0 854.3L212.0 854.5L215.0 854.7L218.0 855.1L221.0 855.3L224.0 855.0L227.0 855.0L230.0 854.7L233.0 854.5L236.0 854.0L239.0 854.3L242.0 854.4L245.0 854.6L248.0 854.8L251.0 855.0L254.0 854.9L257.0 854.7L260.0 854.6L263.0 854.5L266.0 854.8L269.0 854.7L272.0 854.7L275.0 854.9L278.0 855.0L281.0 854.8L284.0 855.0L287.0 855.0L290.0 855.1L293.0 854.7L296.0 854.8L299.0 854.5L302.0 854.5L305.0 854.5L308.0 854.6L311.0 854.5L314.0 854.8L317.0 854.7L320.0 854.5L323.0 854.3L326.0 854.2L329.0 854.0L332.0 853.9L335.0 853.9L338.0 854.3L341.0 854.3L344.0 854.4L347.0 854.5L350.0 854.5L353.0 854.5L356.0 854.8L359.0 854.9L362.0 854.7L365.0 854.8L368.0 854.9L371.0 854.8L374.0 854.7L377.0 854.8L380.0 854.7L383.0 854.7L386.0 854.6L389.0 854.5L392.0 854.5L395.0 854.6L398.0 854.6L401.0 854.5L404.0 854.6L407.0 854.7L410.0 854.8L413.0 854.6L416.0 854.9L419.0 854.7L422.0 854.7L425.0 854.5L428.0 854.4L431.0 854.3L434.0 854.4L437.0 854.4L440.0 854.5L443.0 854.6L446.0 854.5L449.0 854.4L452.0 854.7L455.0 854.7L458.0 854.8L461.0 854.9L464.0 854.9L467.0 854.6L470.0 854.6L473.0 854.6L476.0 854.3L479.0 854.3L482.0 854.3L485.0 854.3L488.0 854.5L491.0 854.6L494.0 854.8L497.0 854.8L500.0 854.8L503.0 854.7L506.0 854.9L509.0 854.7L512.0 854.8L515.0 854.6L518.0 854.5L521.0 854.5L524.0 854.6L527.0 854.4L530.0 854.6L533.0 854.5L536.0 854.7L539.0 854.5L542.0 854.6L545.0 854.6L548.0 854.4L551.0 854.6L554.0 854.7L557.0 854.5L560.0 854.7L563.0 854.8L566.0 854.5" fill="none" stroke="#333" stroke-width="0.8"/>
<path d="M70.5 845.8L72.0 846.1L73.5 846.6L75.0 847.2L76.5 847.6L78.0 848.1L79.5 848.4L81.0 848.8L82.5 849.0L84.0 848.8L85.5 848.2L87.0 847.1L88.5 845.4L90.0 842.9L91.5 839.6L93.0 835.1L94.5 828.8L96.0 821.7L97.5 814.0L99.0 805.4L100.5 795.5L102.0 785.0L103.5 774.2L105.0 762.8L106.5 750.6L108.0 738.2L109.5 726.1L111.0 714.7L112.5 704.0L114.0 693.6L115.5 684.0L117.0 676.3L118.5 669.9L120.0 664.0L121.5 659.1L123.0 656.0L124.5 654.0L126.0 652.5L127.5 651.8L129.0 652.8L130.5 654.7L132.0 657.2L133.5 660.4L135.0 664.1L136.5 667.9L138.0 671.7L139.5 675.5L141.0 679.4L142.5 683.2L144.0 687.0L145.5 690.6L147.0 693.5L148.5 696.0L150.0 698.2L151.5 700.3L153.0 702.2L154.5 703.4L156.0 704.2L157.5 704.9L159.0 705.6L160.5 706.1L162.0 706.4L163.5 706.7L165.0 706.9L166.5 707.0L168.0 707.1L169.5 707.1L171.0 707.0L172.5 706.9L174.0 706.8L175.5 706.8L177.0 707.0L178.5 707.4L180.0 707.9L181.5 708.5L183.0 709.0L184.5 709.6L186.0 710.3L187.5 711.1L189.0 712.1L190.5 713.1L192.0 714.1L193.5 715.0L195.0 715.9L196.5 716.6L198.0 717.2L199.5 717.8L201.0 718.3L202.5 718.8L204.0 718.9L205.5 718.3L207.0 717.4L208.5 716.3L210.0 715.2L211.5 713.7L213.0 711.5L214.5 708.9L216.0 706.2L217.5 703.6L219.0 700.9L220.5 698.3L222.0 695.8L223.5 693.3L225.0 690.8L226.5 688.5L228.0 686.5L229.5 685.1L231.0 683.9L232.5 682.9L234.0 682.1L235.5 682.2L237.0 682.9L238.5 684.0L240.0 685.1L241.5 686.6L243.0 688.7L244.5 691.3L246.0 693.9L247.5 696.6L249.0 699.2L250.5 701.9L252.0 704.7L253.5 707.6L255.0 710.4L256.5 713.3L258.0 716.2L259.5 719.0L261.0 721.7L262.5 724.2L264.0 726.7L265.5 729.1L267.0 731.6L268.5 734.0L270.0 736.1L271.5 738.0L273.0 739.6L274.5 741.3L276.0 742.7L277.5 743.8L279.0 744.5L280.5 744.9L282.0 744.9L283.5 744.5L285.0 743.8L286.5 743.1L288.0 742.3L289.5 741.2L291.0 739.8L292.5 738.4L294.0 736.9L295.5 735.5L297.0 733.9L298.5 732.2L300.0 730.2L301.5 728.2L303.0 726.1L304.5 724.1L306.0 722.1L307.5 720.3L309.0 718.8L310.5 717.3L312.0 715.9L313.5 714.5L315.0 713.2L316.5 712.4L318.0 712.5L319.5 713.0L321.0 713.5L322.5 714.2L324.0 715.2L325.5 716.5L327.0 717.8L328.5 719.2L330.0 720.6L331.5 721.8L333.0 723.0L334.5 724.2L336.0 725.5L337.5 726.7L339.0 727.9L340.5 729.1L342.0 730.3L343.5 731.1L345.0 731.8L346.5 732.4L348.0 732.9L349.5 733.4L351.0 733.7L352.5 733.6L354.0 733.4L355.5 733.1L357.0 732.5L358.5 731.7L360.0 730.8L361.5 729.9L363.0 728.9L364.5 728.0L366.0 727.1L367.5 726.4L369.0 725.7L370.5 725.1L372.0 724.4L373.5 723.8L375.0 723.1L376.5 722.6L378.0 722.4L379.5 722.7L381.0 723.2L382.5 723.7L384.0 724.3L385.5 724.8L387.0 725.3L388.5 725.7L390.0 726.1L391.5 726.5L393.0 726.7L394.5 726.6L396.0 726.2L397.5 725.6L399.0 725.0L400.5 724.4L402.0 723.8L403.5 723.3L405.0 722.9L406.5 722.5L408.0 722.2L409.5 721.9L411.0 721.6L412.5 721.5L414.0 721.7L415.5 722.0L417.0 722.4L418.5 722.9L420.0 723.3L421.5 723.7L423.0 724.1L424.5 724.5L426.0 724.9L427.5 725.3L429.0 725.7L430.5 726.1L432.0 726.3L433.5 726.5L435.0 726.6L436.5 726.8L438.0 726.9L439.5 727.0L441.0 727.2L442.5 727.4L444.0 727.6L445.5 727.8L447.0 728.0L448.5 728.2L450.0 728.3L451.5 728.3L453.0 728.2L454.5 728.1L456.0 728.0L457.5 727.9L459.0 727.4L460.5 726.3L462.0 724.9L463.5 723.4L465.0 721.7L466.5 719.8L468.0 717.6L469.5 715.1L471.0 712.7L472.5 710.5L474.0 708.8L475.5 707.6L477.0 706.7L478.5 706.3L480.0 706.4L481.5 706.6L483.0 706.9L484.5 707.4L486.0 708.3L487.5 709.5L489.0 710.8L490.5 712.2L492.0 714.0L493.5 716.4L495.0 719.0L496.5 721.8L498.0 724.9L499.5 728.8L501.0 733.4L502.5 738.2L504.0 743.2L505.5 748.1L507.0 753.0L508.5 757.9L510.0 762.8L511.5 767.7L513.0 772.4L514.5 776.9L516.0 781.3L517.5 785.7L519.0 789.8L520.5 793.5L522.0 796.7L523.5 799.7L525.0 802.7L526.5 805.3L528.0 807.2L529.5 808.7L531.0 810.0L532.5 811.3L534.0 812.1L535.5 812.4L537.0 812.4L538.5 812.3L540.0 811.9L541.5 811.2L543.0 810.3L544.5 809.3L546.0 808.4L547.5 807.3L549.0 806.0L550.5 804.6L552.0 803.2L553.5 801.7L555.0 800.3L556.5 798.8L558.0 797.1L559.5 795.2L561.0 793.3L562.5 791.4L564.0 789.6L565.5 788.2L565.5 806.2L564.0 807.3L562.5 808.9L561.0 810.4L559.5 812.0L558.0 813.5L556.5 815.0L555.0 816.2L553.5 817.4L552.0 818.6L550.5 819.8L549.0 821.0L547.5 822.0L546.0 822.9L544.5 823.7L543.0 824.5L541.5 825.2L540.0 825.9L538.5 826.2L537.0 826.3L535.5 826.3L534.0 826.0L532.5 825.3L531.0 824.3L529.5 823.1L528.0 821.9L526.5 820.3L525.0 818.2L523.5 815.8L522.0 813.2L520.5 810.6L519.0 807.6L517.5 804.1L516.0 800.5L514.5 796.9L513.0 793.2L511.5 789.2L510.0 785.2L508.5 781.1L507.0 777.1L505.5 773.0L504.0 768.9L502.5 764.8L501.0 760.8L499.5 757.0L498.0 753.8L496.5 751.2L495.0 748.9L493.5 746.7L492.0 744.7L490.5 743.2L489.0 742.1L487.5 741.1L486.0 740.1L484.5 739.3L483.0 738.9L481.5 738.6L480.0 738.4L478.5 738.4L477.0 738.7L475.5 739.4L474.0 740.5L472.5 741.9L471.0 743.7L469.5 745.7L468.0 747.7L466.5 749.6L465.0 751.2L463.5 752.5L462.0 753.8L460.5 755.0L459.0 755.9L457.5 756.3L456.0 756.4L454.5 756.4L453.0 756.5L451.5 756.6L450.0 756.6L448.5 756.5L447.0 756.3L445.5 756.2L444.0 756.0L442.5 755.8L441.0 755.7L439.5 755.5L438.0 755.4L436.5 755.3L435.0 755.2L433.5 755.1L432.0 755.0L430.5 754.8L429.0 754.5L427.5 754.1L426.0 753.8L424.5 753.5L423.0 753.1L421.5 752.8L420.0 752.4L418.5 752.1L417.0 751.8L415.5 751.4L414.0 751.1L412.5 750.9L411.0 751.0L409.5 751.3L408.0 751.6L406.5 751.8L405.0 752.1L403.5 752.4L402.0 752.9L400.5 753.3L399.0 753.9L397.5 754.4L396.0 754.9L394.5 755.2L393.0 755.3L391.5 755.1L390.0 754.8L388.5 754.4L387.0 754.1L385.5 753.7L384.0 753.3L382.5 752.8L381.0 752.4L379.5 752.0L378.0 751.7L376.5 751.9L375.0 752.3L373.5 752.8L372.0 753.4L370.5 753.9L369.0 754.5L367.5 755.0L366.0 755.6L364.5 756.3L363.0 757.1L361.5 757.9L360.0 758.7L358.5 759.4L357.0 760.1L355.5 760.5L354.0 760.8L352.5 761.0L351.0 761.1L349.5 760.8L348.0 760.4L346.5 760.0L345.0 759.5L343.5 758.9L342.0 758.2L340.5 757.3L339.0 756.3L337.5 755.3L336.0 754.3L334.5 753.2L333.0 752.2L331.5 751.2L330.0 750.2L328.5 749.1L327.0 747.9L325.5 746.8L324.0 745.7L322.5 744.9L321.0 744.4L319.5 743.9L318.0 743.5L316.5 743.5L315.0 744.1L313.5 745.1L312.0 746.3L310.5 747.5L309.0 748.7L307.5 750.0L306.0 751.5L304.5 753.1L303.0 754.8L301.5 756.5L300.0 758.2L298.5 759.8L297.0 761.3L295.5 762.5L294.0 763.7L292.5 764.9L291.0 766.1L289.5 767.3L288.0 768.2L286.5 768.9L285.0 769.5L283.5 770.0L282.0 770.3L280.5 770.4L279.0 770.0L277.5 769.4L276.0 768.5L274.5 767.3L273.0 766.0L271.5 764.6L270.0 763.1L268.5 761.3L267.0 759.3L265.5 757.3L264.0 755.3L262.5 753.2L261.0 751.1L259.5 748.9L258.0 746.6L256.5 744.2L255.0 741.8L253.5 739.4L252.0 737.1L250.5 734.8L249.0 732.5L247.5 730.3L246.0 728.1L244.5 725.9L243.0 723.8L241.5 722.0L240.0 720.8L238.5 719.9L237.0 719.0L235.5 718.4L234.0 718.4L232.5 719.0L231.0 719.9L229.5 720.8L228.0 722.0L226.5 723.6L225.0 725.6L223.5 727.6L222.0 729.6L220.5 731.7L219.0 733.9L217.5 736.1L216.0 738.3L214.5 740.5L213.0 742.7L211.5 744.5L210.0 745.8L208.5 746.7L207.0 747.6L205.5 748.3L204.0 748.8L202.5 748.7L201.0 748.3L199.5 747.9L198.0 747.4L196.5 746.9L195.0 746.3L193.5 745.6L192.0 744.8L190.5 744.0L189.0 743.2L187.5 742.4L186.0 741.7L184.5 741.1L183.0 740.6L181.5 740.2L180.0 739.7L178.5 739.3L177.0 739.0L175.5 738.8L174.0 738.8L172.5 738.9L171.0 739.0L169.5 739.0L168.0 739.1L166.5 739.0L165.0 738.9L163.5 738.7L162.0 738.5L160.5 738.2L159.0 737.8L157.5 737.2L156.0 736.6L154.5 736.0L153.0 735.0L151.5 733.4L150.0 731.7L148.5 729.8L147.0 727.8L145.5 725.3L144.0 722.4L142.5 719.3L141.0 716.1L139.5 712.9L138.0 709.7L136.5 706.6L135.0 703.4L133.5 700.4L132.0 697.7L130.5 695.6L129.0 694.1L127.5 693.3L126.0 693.8L124.5 695.1L123.0 696.7L121.5 699.3L120.0 703.4L118.5 708.2L117.0 713.5L115.5 719.9L114.0 727.8L112.5 736.5L111.0 745.4L109.5 754.8L108.0 764.8L106.5 775.1L105.0 785.2L103.5 794.6L102.0 803.6L100.5 812.3L99.0 820.4L97.5 827.6L96.0 833.9L94.5 839.8L93.0 845.0L91.5 848.8L90.0 851.5L88.5 853.6L87.0 855.0L85.5 855.9L84.0 856.4L82.5 856.6L81.0 856.4L79.5 856.1L78.0 855.8L76.5 855.4L75.0 855.0L73.5 854.6L72.0 854.2L70.5 853.9Z" fill="#4a4a4a"/>
<path d="M70.5 849.8L72.0 850.2L73.5 850.6L75.0 851.1L76.5 851.5L78.0 851.9L79.5 852.3L81.0 852.6L82.5 852.8L84.0 852.6L85.5 852.0L87.0 851.1L88.5 849.5L90.0 847.2L91.5 844.2L93.0 840.1L94.5 834.3L96.0 827.8L97.5 820.8L99.0 812.9L100.5 803.9L102.0 794.3L103.5 784.4L105.0 774.0L106.5 762.9L108.0 751.5L109.5 740.5L111.0 730.0L112.5 720.2L114.0 710.7L115.5 702.0L117.0 694.9L118.5 689.0L120.0 683.7L121.5 679.2L123.0 676.4L124.5 674.6L126.0 673.2L127.5 672.6L129.0 673.4L130.5 675.2L132.0 677.4L133.5 680.4L135.0 683.7L136.5 687.2L138.0 690.7L139.5 694.2L141.0 697.7L142.5 701.2L144.0 704.7L145.5 707.9L147.0 710.7L148.5 712.9L150.0 714.9L151.5 716.9L153.0 718.6L154.5 719.7L156.0 720.4L157.5 721.1L159.0 721.7L160.5 722.2L162.0 722.5L163.5 722.7L165.0 722.9L166.5 723.0L168.0 723.1L169.5 723.0L171.0 723.0L172.5 722.9L174.0 722.8L175.5 722.8L177.0 723.0L178.5 723.4L180.0 723.8L181.5 724.3L183.0 724.8L184.5 725.3L186.0 726.0L187.5 726.8L189.0 727.6L190.5 728.5L192.0 729.4L193.5 730.3L195.0 731.1L196.5 731.8L198.0 732.3L199.5 732.8L201.0 733.3L202.5 733.8L204.0 733.9L205.5 733.3L207.0 732.5L208.5 731.5L210.0 730.5L211.5 729.1L213.0 727.1L214.5 724.7L216.0 722.3L217.5 719.8L219.0 717.4L220.5 715.0L222.0 712.7L223.5 710.4L225.0 708.2L226.5 706.0L228.0 704.2L229.5 702.9L231.0 701.9L232.5 700.9L234.0 700.3L235.5 700.3L237.0 701.0L238.5 701.9L240.0 703.0L241.5 704.3L243.0 706.3L244.5 708.6L246.0 711.0L247.5 713.4L249.0 715.9L250.5 718.4L252.0 720.9L253.5 723.5L255.0 726.1L256.5 728.8L258.0 731.4L259.5 733.9L261.0 736.4L262.5 738.7L264.0 741.0L265.5 743.2L267.0 745.5L268.5 747.6L270.0 749.6L271.5 751.3L273.0 752.8L274.5 754.3L276.0 755.6L277.5 756.6L279.0 757.3L280.5 757.6L282.0 757.6L283.5 757.2L285.0 756.6L286.5 756.0L288.0 755.3L289.5 754.2L291.0 753.0L292.5 751.7L294.0 750.3L295.5 749.0L297.0 747.6L298.5 746.0L300.0 744.2L301.5 742.3L303.0 740.5L304.5 738.6L306.0 736.8L307.5 735.2L309.0 733.7L310.5 732.4L312.0 731.1L313.5 729.8L315.0 728.6L316.5 727.9L318.0 728.0L319.5 728.4L321.0 729.0L322.5 729.6L324.0 730.5L325.5 731.6L327.0 732.9L328.5 734.2L330.0 735.4L331.5 736.5L333.0 737.6L334.5 738.7L336.0 739.9L337.5 741.0L339.0 742.1L340.5 743.2L342.0 744.2L343.5 745.0L345.0 745.6L346.5 746.2L348.0 746.7L349.5 747.1L351.0 747.4L352.5 747.3L354.0 747.1L355.5 746.8L357.0 746.3L358.5 745.6L360.0 744.7L361.5 743.9L363.0 743.0L364.5 742.2L366.0 741.4L367.5 740.7L369.0 740.1L370.5 739.5L372.0 738.9L373.5 738.3L375.0 737.7L376.5 737.2L378.0 737.1L379.5 737.3L381.0 737.8L382.5 738.3L384.0 738.8L385.5 739.2L387.0 739.7L388.5 740.1L390.0 740.4L391.5 740.8L393.0 741.0L394.5 740.9L396.0 740.5L397.5 740.0L399.0 739.4L400.5 738.9L402.0 738.3L403.5 737.9L405.0 737.5L406.5 737.2L408.0 736.9L409.5 736.6L411.0 736.3L412.5 736.2L414.0 736.4L415.5 736.7L417.0 737.1L418.5 737.5L420.0 737.8L421.5 738.2L423.0 738.6L424.5 739.0L426.0 739.3L427.5 739.7L429.0 740.1L430.5 740.4L432.0 740.7L433.5 740.8L435.0 740.9L436.5 741.0L438.0 741.2L439.5 741.3L441.0 741.4L442.5 741.6L444.0 741.8L445.5 742.0L447.0 742.2L448.5 742.3L450.0 742.4L451.5 742.4L453.0 742.3L454.5 742.3L456.0 742.2L457.5 742.1L459.0 741.6L460.5 740.7L462.0 739.3L463.5 737.9L465.0 736.4L466.5 734.7L468.0 732.6L469.5 730.4L471.0 728.2L472.5 726.2L474.0 724.6L475.5 723.5L477.0 722.7L478.5 722.3L480.0 722.4L481.5 722.6L483.0 722.9L484.5 723.4L486.0 724.2L487.5 725.3L489.0 726.4L490.5 727.7L492.0 729.3L493.5 731.5L495.0 734.0L496.5 736.5L498.0 739.4L499.5 742.9L501.0 747.1L502.5 751.5L504.0 756.0L505.5 760.5L507.0 765.0L508.5 769.5L510.0 774.0L511.5 778.5L513.0 782.8L514.5 786.9L516.0 790.9L517.5 794.9L519.0 798.7L520.5 802.0L522.0 805.0L523.5 807.7L525.0 810.4L526.5 812.8L528.0 814.6L529.5 815.9L531.0 817.2L532.5 818.3L534.0 819.1L535.5 819.3L537.0 819.4L538.5 819.3L540.0 818.9L541.5 818.2L543.0 817.4L544.5 816.5L546.0 815.6L547.5 814.7L549.0 813.5L550.5 812.2L552.0 810.9L553.5 809.6L555.0 808.3L556.5 806.9L558.0 805.3L559.5 803.6L561.0 801.9L562.5 800.1L564.0 798.4L565.5 797.2" fill="none" stroke="#000" stroke-width="3.4" stroke-linejoin="round"/>
<path d="M86.8 687.8V863" stroke="#000" stroke-width="2.4"/>
<path d="M120.2 652.5V863" stroke="#000" stroke-width="2.7"/>
<path d="M204.0 652.5V863" stroke="#000" stroke-width="2.7"/>
<path d="M270.8 652.5V863" stroke="#000" stroke-width="2.7"/>
<path d="M454.9 652.5V863" stroke="#000" stroke-width="2.7"/>
<path d="M521.5 652.5V863" stroke="#000" stroke-width="2.7"/>
<path d="M70.3 651V864.4M64 863.2H565.6" stroke="#000" stroke-width="2.6" fill="none"/>
<path d="M64 687.8H70" stroke="#000" stroke-width="2"/>
<text x="59.5" y="694.2" text-anchor="end" font-size="18" stroke="#000" stroke-width=".3">4</text>
<path d="M64 775.6H70" stroke="#000" stroke-width="2"/>
<text x="59.5" y="782.0" text-anchor="end" font-size="18" stroke="#000" stroke-width=".3">2</text>
<path d="M64 863.2H70" stroke="#000" stroke-width="2"/>
<text x="59.5" y="869.6" text-anchor="end" font-size="18" stroke="#000" stroke-width=".3">0</text>
<text x="75" y="675.4" font-size="18" fill="#333" style="font-weight:normal">x10<tspan dy="-8" font-size="12">-2</tspan></text>
<rect x="472" y="673.6" width="33.8" height="3" fill="#222"/>
<text x="488.8" y="671" text-anchor="middle" font-size="14" fill="#222" stroke="#222" stroke-width=".3">200 ms</text>
<text transform="translate(-0.3 667.6) scale(.94 1)" font-size="26" stroke="#000" stroke-width=".3">D</text>
<text transform="translate(18.5 754) rotate(-90)" text-anchor="middle" font-size="18" stroke="#000" stroke-width=".3">info about</text>
<text transform="translate(38.5 754) rotate(-90)" text-anchor="middle" font-size="18" stroke="#000" stroke-width=".3">cue location (<tspan font-style="italic">ω</tspan><tspan dy="-6" font-size="11">2</tspan><tspan dy="6">)</tspan></text>
<path d="M87.0 964.5L90.4 958.9L93.8 955.5L97.1 948.8L100.5 944.3L103.9 936.4L107.3 934.1L110.6 926.3L114.0 920.6L117.4 917.7L120.3 919.1L123.5 911.6L127.1 911.6L130.9 915.0L133.8 911.2L137.0 910.5L140.3 916.6L143.7 915.7L147.3 923.6L151.1 922.9L154.5 921.3L157.9 921.3L161.3 923.6L164.0 928.1L167.3 922.9L170.7 921.3L174.1 921.3L177.5 917.7L180.4 914.3L183.8 919.1L187.1 917.9L190.5 913.9L193.9 917.3L197.3 920.0L200.6 921.8L203.6 933.7L206.3 934.1L210.3 934.1L214.1 931.2L217.5 929.0L220.9 927.4L223.8 920.6L227.0 919.1L230.3 921.3L233.7 915.5L237.1 920.6L240.5 919.5L244.1 914.3L247.2 918.4L250.6 917.7L254.0 920.0L257.3 924.0L260.3 920.6L263.6 925.1L267.0 922.4L270.4 925.1L273.8 925.6L277.1 923.6L280.5 920.0L283.9 915.7L287.3 916.6L290.6 920.0L294.0 909.4L297.4 918.4L300.8 922.2L304.1 925.1L307.5 922.9L310.9 924.0L314.3 928.1L317.6 929.6L321.0 928.5L324.4 926.9L327.8 927.8L331.4 927.4L334.3 922.4L337.5 929.0L340.8 928.5L344.2 930.8L347.6 924.0L351.0 926.3L354.3 923.6L357.7 920.0L361.3 919.5L364.5 916.1L367.8 917.3L371.2 916.6L374.6 920.0L378.0 921.8L381.3 922.4L384.7 921.8L388.1 923.6L391.0 916.6L394.4 920.0L397.8 919.1L401.1 918.8L404.5 912.3L407.9 916.8L411.3 915.7L414.6 924.0L418.0 918.4L421.4 915.0L424.8 915.5L428.1 918.4L431.5 921.3L434.9 923.3L437.8 918.8L441.2 921.3L444.6 925.1L447.7 930.8L451.3 936.8L454.7 925.1L458.1 929.6L461.4 934.6L464.8 931.2L468.2 930.1L471.6 932.6L474.9 928.1L478.3 928.5L481.7 934.6L485.1 937.1L488.4 939.8L491.8 949.2L495.2 947.6L498.6 946.1L501.9 946.5L505.3 948.8L508.7 948.8L512.1 947.6L515.4 950.3L518.8 953.3L522.2 954.8L525.6 955.5L528.3 951.0L531.6 952.1L535.0 953.7L538.4 954.4" fill="none" stroke="#7b72b6" stroke-width="2.9" stroke-linejoin="round" stroke-linecap="round"/>
<path d="M87.0 879V967.4" stroke="#000" stroke-width="1.9"/>
<path d="M120.3 879V967.4" stroke="#000" stroke-width="1.9"/>
<path d="M204.0 879V967.4" stroke="#000" stroke-width="1.9"/>
<path d="M271.0 879V967.4" stroke="#000" stroke-width="1.9"/>
<path d="M454.9 879V967.4" stroke="#000" stroke-width="1.9"/>
<path d="M521.5 879V967.4" stroke="#000" stroke-width="1.9"/>
<path d="M70.3 879V967.4" stroke="#000" stroke-width="2" fill="none"/>
<path d="M64 967.4H565.6" stroke="#000" stroke-width="3" fill="none"/>
<path d="M64 923.3H70" stroke="#000" stroke-width="2"/>
<text x="54.2" y="929.9" text-anchor="middle" font-size="18" stroke="#000" stroke-width=".3">10</text>
<path d="M64 967.4H70" stroke="#000" stroke-width="2"/>
<text x="54.2" y="974.0" text-anchor="middle" font-size="18" stroke="#000" stroke-width=".3">0</text>
<text x="103.0" y="982" text-anchor="middle" font-size="18" stroke="#000" stroke-width=".3">cue</text>
<text x="235.3" y="982" text-anchor="middle" font-size="18" stroke="#000" stroke-width=".3">sample</text>
<text x="354.1" y="982" text-anchor="middle" font-size="18" stroke="#000" stroke-width=".3">delay</text>
<text x="487.3" y="982" text-anchor="middle" font-size="18" stroke="#000" stroke-width=".3">compare</text>
<text transform="translate(18 923) rotate(-90)" text-anchor="middle" font-size="18" stroke="#000" stroke-width=".3">sig.</text>
<text transform="translate(37.6 924) rotate(-90)" text-anchor="middle" font-size="18" stroke="#000" stroke-width=".3">neurons (%)</text>
</g>
</svg>
</body>
</html>
